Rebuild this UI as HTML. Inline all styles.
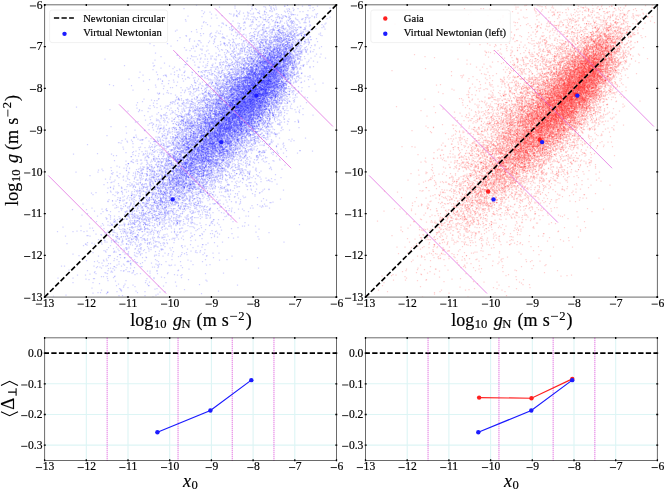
<!DOCTYPE html><html><head><meta charset="utf-8"><style>html,body{margin:0;padding:0;background:#fff;width:665px;height:490px;overflow:hidden;position:relative}svg{will-change:transform}text{stroke:#000;stroke-width:0.18px}</style></head><body><svg width="665" height="490" viewBox="0 0 665 490" style="position:absolute;left:0;top:0" font-family="Liberation Serif, serif"><rect width="665" height="490" fill="#fff"/><defs><clipPath id="cl"><rect x="44.6" y="4.8" width="291.9" height="292.3"/></clipPath><clipPath id="cr"><rect x="365.5" y="4.8" width="291.9" height="292.3"/></clipPath></defs><defs><filter id="bl" x="0" y="0" width="1" height="1"><feGaussianBlur stdDeviation="0.5"/></filter></defs><g clip-path="url(#cl)"><g filter="url(#bl)"><g transform="scale(0.5)" fill="none" stroke="#0000ff" stroke-opacity="0.18" stroke-width="2.5" stroke-linecap="square"><path d="M638 7zm-3 5zm-9 3zm-40 1zm74 0zm-64 1zm-56 4zm-11 1zm48 5zm7 1zm-27 1zm30 0zm-61 1zm10 0zm-160 2zm113 0zm125 2zm2 0zm13 1zm-135 1zm-2 2zm21 1zm30 0zm39 3zm-64 1zm33 1zm-1 1zm4 0zm7 0zm-2 1zm-80 1zm71 1zm100 0zm-146 1zm90 1zm-116 1zm10 0zm50 1zm60 1zm50 1zm-166 1zm77 0zm43 0zm8 0zm-99 4zm31 0zm34 1zm-225 2zm90 0zm39 0zm112 0zm-18 1zm42 0zm-87 1zm78 0zm-42 1zm2 0zm13 0zm-17 1zm-162 1zm98 0zm84 0zm-138 1zm113 1zm31 0zm-71 1zm-292 2zm147 0zm204 1zm13 1zm1 1zm-63 1zm31 0zm11 0zm17 1zm-120 2zm60 0zm58 0zm-73 1zm41 0zm-51 1zm4 0zm-19 1zm51 0zm-15 1zm9 1zm-9 1zm9 0zm9 1zm47 0zm3 0zm5 0zm-296 1zm171 1zm113 0zm-75 1zm20 2zm47 0zm-234 1zm225 0zm37 0zm-13 1zm-131 1zm84 1zm14 0zm20 0zm-79 1zm65 0zm75 0zm-102 1zm19 0zm17 0zm9 0zm11 0zm7 0zm-199 1zm76 0zm5 0zm58 0zm37 0zm3 0zm-46 1zm28 0zm48 0zm-194 1zm96 0zm18 0zm16 0zm44 0zm24 0zm-99 1zm1 0zm31 0zm-157 1zm144 0zm9 1zm-47 1zm54 0zm-12 1zm9 0zm22 0zm-137 1zm148 0zm-65 1zm33 0zm-87 1zm55 0zm58 0zm10 0zm-134 1zm78 0zm40 0zm-169 1zm119 0zm20 0zm11 0zm21 0zm-9 1zm20 0zm-61 1zm11 0zm18 0zm29 0zm8 0zm-57 1zm20 0zm10 0zm16 0zm25 0zm-118 1zm38 0zm13 0zm22 0zm5 0zm2 0zm-64 1zm14 0zm24 0zm10 0zm3 0zm20 0zm11 0zm-52 1zm-40 1zm29 0zm17 1zm27 0zm-85 1zm52 0zm33 0zm-34 1zm32 0zm5 0zm1 0zm53 0zm-104 1zm6 0zm61 0zm-73 1zm15 0zm20 0zm25 0zm11 0zm-19 1zm21 0zm8 0zm-112 1zm2 0zm42 0zm13 0zm9 0zm4 0zm11 0zm10 0zm-104 1zm66 0zm29 0zm-40 1zm0 0zm34 0zm2 0zm16 0zm-73 1zm20 0zm23 0zm17 0zm15 0zm2 0zm6 0zm-108 1zm69 0zm18 0zm-62 1zm58 0zm1 0zm1 0zm22 0zm11 0zm-131 1zm45 0zm44 0zm8 0zm-101 1zm35 0zm45 0zm20 0zm2 0zm0 0zm21 0zm-103 1zm71 0zm7 0zm52 0zm-172 1zm25 0zm23 0zm8 0zm137 0zm-156 1zm11 1zm18 0zm27 0zm3 0zm26 0zm64 0zm-64 1zm-70 1zm20 0zm16 0zm10 0zm2 0zm8 0zm14 0zm-78 1zm71 0zm4 0zm4 0zm4 0zm1 0zm2 0zm6 0zm15 0zm-124 1zm14 0zm37 0zm1 0zm27 0zm12 0zm-28 1zm5 0zm1 0zm0 0zm26 0zm13 0zm-91 1zm47 0zm16 0zm12 0zm2 0zm19 0zm-44 1zm23 0zm18 0zm-79 1zm9 0zm22 0zm19 0zm17 0zm9 0zm-166 1zm125 0zm9 0zm0 0zm18 0zm10 0zm-196 1zm138 0zm4 0zm16 0zm1 0zm1 0zm15 0zm1 0zm3 0zm36 0zm-109 1zm67 0zm-149 1zm33 0zm60 0zm14 0zm10 0zm13 0zm5 0zm35 0zm-83 1zm10 0zm7 0zm7 0zm4 0zm4 0zm11 0zm2 0zm7 0zm3 0zm4 0zm1 0zm3 0zm7 0zm-81 1zm47 0zm4 0zm45 0zm24 0zm-128 1zm3 0zm32 0zm11 0zm10 1zm12 0zm2 0zm16 0zm9 0zm-75 1zm7 0zm25 0zm17 0zm16 0zm24 0zm-59 1zm41 0zm13 0zm-101 1zm15 0zm15 0zm8 0zm6 0zm22 0zm45 0zm-184 1zm89 0zm52 0zm9 0zm-63 1zm14 0zm23 0zm6 0zm6 0zm4 0zm3 0zm7 0zm5 0zm48 0zm9 0zm-100 1zm25 0zm9 0zm2 0zm6 0zm-72 1zm0 0zm35 0zm32 0zm8 0zm12 0zm18 0zm-129 1zm43 0zm5 0zm43 0zm1 0zm1 0zm35 0zm-109 1zm21 0zm7 0zm18 0zm4 0zm30 0zm0 0zm-36 1zm13 0zm3 0zm9 0zm6 0zm16 0zm5 0zm19 0zm-127 1zm15 0zm36 0zm1 0zm5 0zm8 0zm8 0zm3 0zm9 0zm3 0zm1 0zm50 0zm-128 1zm11 0zm6 0zm23 0zm14 0zm2 0zm3 0zm10 0zm29 0zm2 0zm-128 1zm53 0zm7 0zm0 0zm30 0zm36 0zm-58 1zm19 0zm5 0zm6 0zm19 0zm-124 1zm61 0zm6 0zm8 0zm29 0zm6 0zm-75 1zm41 0zm1 0zm31 0zm1 0zm1 0zm1 0zm20 0zm-38 1zm5 0zm4 0zm3 0zm1 0zm3 0zm4 0zm11 0zm-336 1zm250 0zm1 0zm9 0zm15 0zm0 0zm10 0zm15 0zm2 0zm5 0zm4 0zm3 0zm20 0zm1 0zm-94 1zm44 0zm3 0zm3 0zm2 0zm40 0zm-44 1zm17 0zm14 0zm21 0zm-62 1zm19 0zm23 0zm6 0zm3 0zm10 0zm3 0zm-89 1zm6 0zm11 0zm3 0zm17 0zm3 0zm12 0zm5 0zm37 0zm-153 1zm17 0zm46 0zm27 0zm1 0zm-164 1zm144 0zm2 0zm24 0zm10 0zm14 0zm0 0zm28 0zm6 0zm3 0zm32 0zm-163 1zm46 0zm0 0zm10 0zm31 0zm5 0zm4 0zm17 0zm-158 1zm57 0zm10 0zm38 0zm17 0zm7 0zm2 0zm0 0zm22 0zm25 0zm-137 1zm28 0zm4 0zm11 0zm5 0zm2 0zm26 0zm19 0zm1 0zm37 0zm-131 1zm29 0zm15 0zm4 0zm20 0zm4 0zm14 0zm6 0zm32 0zm-61 1zm38 0zm8 0zm-130 1zm9 0zm47 0zm4 0zm11 0zm10 0zm9 0zm15 0zm26 0zm-179 1zm48 0zm17 0zm36 0zm4 0zm6 0zm21 0zm1 0zm28 0zm6 0zm51 0zm-207 1zm10 0zm45 0zm28 0zm8 0zm21 0zm38 0zm5 0zm6 0zm-39 1zm11 0zm0 0zm7 0zm23 0zm-122 1zm69 0zm5 0zm1 0zm7 0zm29 0zm23 0zm-139 1zm49 0zm0 0zm9 0zm11 0zm10 0zm2 0zm1 0zm20 0zm26 0zm2 0zm-107 1zm6 0zm3 0zm19 0zm19 0zm7 0zm28 0zm6 0zm18 0zm23 0zm-103 1zm21 0zm11 0zm2 0zm8 0zm2 0zm6 0zm9 0zm9 0zm-104 1zm24 0zm10 0zm13 0zm16 0zm26 0zm4 0zm0 0zm11 0zm14 0zm3 0zm1 0zm39 0zm-169 1zm13 0zm8 0zm1 0zm8 0zm12 0zm36 0zm2 0zm2 0zm2 0zm7 0zm2 0zm32 0zm4 0zm-47 1zm4 0zm18 0zm17 0zm-131 1zm13 0zm41 0zm11 0zm32 0zm4 0zm4 0zm16 0zm-58 1zm4 0zm18 0zm5 0zm6 0zm8 0zm1 0zm14 0zm10 0zm-68 1zm9 0zm20 0zm7 0zm42 0zm-157 1zm97 0zm50 0zm-89 1zm32 0zm2 0zm-30 1zm20 0zm26 0zm12 0zm3 0zm3 0zm56 0zm-201 1zm37 0zm68 0zm1 0zm8 0zm3 0zm0 0zm7 0zm4 0zm22 0zm-167 1zm14 0zm46 0zm55 0zm16 0zm15 0zm28 0zm3 0zm1 0zm21 0zm-194 1zm38 0zm27 0zm12 0zm9 0zm16 0zm51 0zm6 0zm0 0zm53 0zm-208 1zm31 0zm53 0zm20 0zm23 0zm6 0zm10 0zm37 0zm-96 1zm3 0zm8 0zm26 0zm8 0zm3 0zm1 0zm4 0zm3 0zm16 0zm-177 1zm98 0zm34 0zm2 0zm4 0zm10 0zm1 0zm4 0zm1 0zm19 0zm-88 1zm6 0zm36 0zm1 0zm2 0zm11 0zm8 0zm6 0zm3 0zm2 0zm-165 1zm35 0zm57 0zm11 0zm0 0zm15 0zm16 0zm6 0zm4 0zm-143 1zm69 0zm44 0zm9 0zm48 0zm1 0zm1 0zm61 0zm-135 1zm15 0zm21 0zm9 0zm23 0zm16 0zm-98 1zm69 0zm5 0zm10 0zm0 0zm13 0zm15 0zm-95 1zm13 0zm3 0zm8 0zm2 0zm20 0zm40 0zm4 0zm23 0zm-157 1zm15 0zm47 0zm10 0zm5 0zm13 0zm15 0zm12 0zm17 0zm-122 1zm14 0zm37 0zm1 0zm25 0zm0 0zm38 0zm-92 1zm14 0zm3 0zm14 0zm6 0zm3 0zm22 0zm6 0zm6 0zm26 0zm40 0zm7 0zm-134 1zm28 0zm8 0zm7 0zm16 0zm-77 1zm23 0zm2 0zm13 0zm7 0zm2 0zm10 0zm16 0zm10 0zm10 0zm28 0zm-220 1zm86 0zm4 0zm1 0zm3 0zm50 0zm16 0zm5 0zm18 0zm5 0zm-114 1zm30 0zm6 0zm18 0zm24 0zm11 0zm16 0zm6 0zm8 0zm13 0zm-70 1zm8 0zm0 0zm20 0zm39 0zm8 0zm-104 1zm65 0zm19 0zm0 0zm4 0zm-136 1zm49 0zm7 0zm4 0zm6 0zm8 0zm2 0zm17 0zm19 0zm5 0zm23 0zm5 0zm-166 1zm57 0zm45 0zm7 0zm5 0zm3 0zm5 0zm1 0zm10 0zm5 0zm37 0zm-264 1zm136 0zm18 0zm15 0zm12 0zm1 0zm2 0zm2 0zm2 0zm6 0zm17 0zm64 0zm-126 1zm0 0zm11 0zm8 0zm35 0zm29 0zm15 0zm-146 1zm81 0zm0 0zm1 0zm19 0zm14 0zm103 0zm-191 1zm40 0zm4 0zm6 0zm4 0zm20 0zm5 0zm3 0zm41 0zm32 0zm-171 1zm15 0zm24 0zm21 0zm8 0zm1 0zm3 0zm21 0zm31 0zm2 0zm6 0zm19 0zm-135 1zm55 0zm28 0zm10 0zm-24 1zm17 0zm25 0zm2 0zm6 0zm9 0zm2 0zm-196 1zm117 0zm10 0zm5 0zm13 0zm2 0zm0 0zm3 0zm33 0zm14 0zm-210 1zm49 0zm55 0zm13 0zm26 0zm12 0zm33 0zm-100 1zm51 0zm6 0zm8 0zm34 0zm31 0zm-215 1zm74 0zm41 0zm1 0zm12 0zm3 0zm8 0zm3 0zm20 0zm10 0zm6 0zm-67 1zm26 0zm5 0zm-111 1zm109 0zm10 0zm-116 1zm77 0zm6 0zm12 0zm6 0zm22 0zm16 0zm12 0zm-165 1zm33 0zm64 0zm4 0zm4 0zm50 0zm8 0zm-105 1zm13 0zm28 0zm5 0zm28 0zm3 0zm0 0zm13 0zm23 0zm-99 1zm29 0zm12 0zm2 0zm4 0zm14 0zm11 0zm1 0zm26 0zm-102 1zm12 0zm12 0zm39 0zm17 0zm7 0zm-111 1zm2 0zm97 0zm2 0zm4 0zm3 0zm18 0zm-110 1zm21 0zm15 0zm9 0zm8 0zm10 0zm1 0zm10 0zm13 0zm20 0zm-189 1zm58 0zm21 0zm43 0zm27 0zm24 0zm28 0zm-170 1zm84 0zm0 0zm11 0zm20 0zm12 0zm10 0zm-93 1zm0 0zm18 0zm20 0zm14 0zm0 0zm16 0zm13 0zm41 0zm-172 1zm13 0zm52 0zm16 0zm24 0zm2 0zm1 0zm11 0zm5 0zm23 0zm8 0zm-138 1zm91 0zm5 0zm26 0zm3 0zm-140 1zm38 0zm15 0zm16 0zm7 0zm24 0zm32 0zm15 0zm24 0zm-157 1zm33 0zm38 0zm1 0zm16 0zm2 0zm10 0zm10 0zm2 0zm1 0zm33 0zm-116 1zm17 0zm34 0zm20 0zm21 0zm0 0zm33 0zm8 0zm-167 1zm32 0zm3 0zm49 0zm-118 1zm37 0zm38 0zm31 0zm36 0zm2 0zm3 0zm1 0zm12 0zm1 0zm5 0zm-194 1zm63 0zm11 0zm63 0zm1 0zm1 0zm13 0zm3 0zm3 0zm3 0zm15 0zm32 0zm-101 1zm17 0zm9 0zm17 0zm47 0zm1 0zm16 0zm-297 1zm194 0zm3 0zm60 0zm18 0zm37 0zm-132 1zm36 0zm0 0zm6 0zm3 0zm6 0zm4 0zm15 0zm1 0zm3 0zm5 0zm17 0zm-151 1zm93 0zm20 0zm6 0zm-144 1zm42 0zm33 0zm42 0zm4 0zm1 0zm38 0zm7 0zm8 0zm-118 1zm2 0zm26 0zm26 0zm2 0zm0 0zm9 0zm5 0zm11 0zm33 0zm-120 1zm40 0zm0 0zm11 0zm61 0zm18 0zm-170 1zm30 0zm46 0zm41 0zm15 0zm14 0zm4 0zm28 0zm-204 1zm97 0zm11 0zm13 0zm8 0zm1 0zm20 0zm2 0zm28 0zm-198 1zm95 0zm9 0zm48 0zm4 0zm9 0zm3 0zm15 0zm21 0zm-73 1zm20 0zm18 0zm3 0zm4 0zm63 0zm5 0zm-220 1zm93 0zm14 0zm21 0zm30 0zm35 0zm29 0zm-82 1zm27 0zm-63 1zm60 0zm37 0zm-197 1zm84 0zm1 0zm3 0zm65 0zm14 0zm-13 1zm6 0zm1 0zm5 0zm4 0zm-121 1zm23 0zm69 0zm12 0zm13 0zm26 0zm-92 1zm9 0zm14 0zm13 0zm12 0zm2 0zm4 0zm49 0zm34 0zm-151 1zm10 0zm6 0zm0 0zm23 0zm7 0zm12 0zm19 0zm26 0zm3 0zm-180 1zm53 0zm52 0zm29 0zm9 0zm8 0zm-122 1zm12 0zm20 0zm38 0zm14 0zm57 0zm26 0zm15 0zm-160 1zm9 0zm12 0zm10 0zm0 0zm19 0zm0 0zm56 0zm14 0zm-105 1zm-102 1zm102 0zm18 0zm53 0zm8 0zm-123 1zm4 0zm10 0zm7 0zm118 0zm-33 1zm2 0zm0 0zm-109 1zm15 0zm13 0zm100 0zm14 0zm3 0zm-209 1zm23 0zm83 0zm39 0zm38 0zm6 0zm-93 1zm25 0zm5 0zm2 0zm51 0zm-76 1zm41 0zm6 0zm39 0zm9 0zm27 0zm-179 1zm88 0zm32 0zm3 0zm0 0zm1 0zm4 0zm122 0zm-265 1zm44 0zm25 0zm41 0zm3 0zm7 0zm16 0zm7 0zm17 0zm-121 1zm24 0zm73 0zm-46 1zm112 0zm-179 1zm34 0zm17 0zm10 0zm8 0zm42 0zm29 0zm5 0zm10 0zm72 0zm-283 1zm90 0zm44 0zm2 0zm3 0zm3 0zm29 0zm4 0zm-74 1zm10 0zm12 0zm10 0zm64 0zm-176 1zm42 0zm37 0zm29 0zm10 0zm9 0zm26 0zm22 0zm-111 1zm50 0zm1 0zm14 0zm3 0zm2 0zm28 0zm16 0zm45 0zm-162 1zm4 0zm25 0zm0 0zm16 0zm8 0zm1 0zm16 0zm24 0zm2 0zm0 0zm20 0zm12 0zm-102 1zm39 0zm4 0zm1 0zm36 0zm-77 1zm61 0zm29 0zm-103 1zm23 0zm4 0zm47 0zm111 0zm-258 1zm68 0zm3 0zm9 0zm18 0zm10 0zm18 0zm11 0zm31 0zm-118 1zm6 0zm23 0zm2 0zm23 0zm9 0zm12 0zm-56 1zm44 0zm93 0zm-190 1zm92 0zm29 0zm1 0zm14 0zm12 0zm-194 1zm120 0zm5 0zm2 0zm9 0zm16 0zm7 0zm0 0zm61 0zm5 0zm-156 1zm46 0zm2 0zm36 0zm21 0zm3 0zm-151 1zm48 0zm26 0zm1 0zm15 0zm29 0zm4 0zm6 0zm6 0zm4 0zm12 0zm-74 1zm137 0zm-252 1zm122 0zm8 0zm9 0zm1 0zm28 0zm-65 1zm36 0zm16 0zm69 0zm27 0zm-195 1zm104 0zm46 0zm51 0zm4 0zm27 0zm-186 1zm35 0zm27 0zm-91 1zm9 0zm4 0zm44 0zm52 0zm-89 1zm1 0zm16 0zm45 0zm-99 1zm22 0zm33 0zm14 0zm13 0zm6 0zm10 0zm25 0zm17 0zm-169 1zm94 0zm8 0zm34 0zm10 0zm-84 1zm72 0zm4 0zm3 0zm3 0zm-161 1zm107 0zm39 0zm13 0zm10 0zm-152 1zm32 0zm25 0zm59 0zm163 0zm-203 1zm14 0zm12 0zm3 0zm3 0zm21 0zm9 0zm27 0zm-162 1zm99 0zm3 0zm3 0zm9 0zm35 0zm-53 1zm14 0zm18 0zm-12 1zm14 0zm11 0zm10 0zm2 0zm3 0zm73 0zm-176 1zm34 0zm20 0zm9 0zm23 0zm-82 1zm5 0zm1 0zm33 0zm24 0zm5 0zm3 0zm6 0zm-78 1zm23 0zm13 0zm22 0zm-75 1zm40 0zm29 0zm20 0zm21 0zm9 0zm-102 1zm32 0zm35 0zm-104 1zm4 0zm47 0zm19 0zm2 0zm15 0zm6 0zm4 0zm5 0zm7 0zm108 0zm-268 1zm55 0zm82 0zm25 0zm80 0zm-119 1zm43 0zm2 0zm3 0zm-66 1zm-47 1zm58 0zm2 0zm23 0zm17 0zm-78 1zm2 0zm28 0zm34 0zm18 0zm-62 1zm23 0zm16 0zm28 0zm7 0zm60 0zm-165 1zm20 0zm16 0zm23 0zm-7 1zm-131 1zm96 0zm29 0zm17 0zm25 0zm31 0zm17 0zm-170 1zm58 0zm38 0zm31 0zm-118 1zm107 0zm0 0zm-49 1zm1 0zm-120 1zm87 0zm26 0zm23 0zm4 0zm51 0zm5 0zm-104 1zm106 0zm93 0zm-233 1zm79 0zm41 0zm-90 1zm19 0zm12 0zm107 0zm-85 1zm38 0zm-108 1zm32 0zm3 0zm12 0zm57 0zm15 0zm11 0zm2 0zm-41 1zm-115 1zm57 0zm5 0zm33 0zm45 0zm3 0zm3 0zm-245 1zm193 0zm67 0zm-125 1zm51 0zm62 0zm-159 1zm100 0zm11 0zm-112 1zm88 0zm1 0zm1 0zm45 0zm55 0zm24 0zm-223 1zm106 0zm7 0zm11 0zm4 0zm13 0zm-103 1zm49 0zm96 0zm-52 1zm-172 1zm130 0zm2 0zm24 0zm17 0zm-47 1zm1 0zm24 0zm75 0zm56 0zm-168 1zm12 0zm27 0zm16 0zm29 0zm-122 1zm58 0zm26 0zm32 0zm-73 1zm10 1zm40 0zm-117 1zm39 0zm12 0zm13 0zm2 0zm51 0zm2 0zm14 0zm92 0zm-300 1zm113 0zm5 0zm36 0zm7 0zm13 0zm19 0zm-77 1zm8 0zm3 1zm29 0zm-43 2zm83 1zm115 0zm-202 1zm111 0zm-209 1zm50 0zm5 1zm42 0zm35 0zm10 0zm8 0zm14 0zm36 0zm-116 1zm64 0zm17 0zm-124 1zm66 0zm24 0zm9 0zm7 0zm29 0zm-97 1zm31 0zm34 0zm30 0zm0 0zm-61 1zm40 0zm-73 1zm31 0zm22 1zm97 0zm-198 1zm42 0zm70 0zm56 0zm-143 1zm139 0zm-125 1zm46 0zm29 0zm19 1zm57 0zm-122 1zm9 0zm74 0zm8 0zm-104 1zm38 0zm39 0zm68 0zm-3 1zm-152 1zm81 0zm0 0zm-102 1zm-34 1zm123 0zm33 0zm52 1zm-230 1zm174 0zm-93 1zm57 0zm28 0zm-96 1zm16 0zm21 0zm-17 1zm46 0zm63 0zm50 0zm-163 1zm18 0zm17 0zm-75 1zm94 0zm16 1zm-100 1zm100 0zm39 0zm-103 1zm42 0zm3 0zm5 0zm23 0zm-117 1zm69 0zm109 0zm-97 1zm118 0zm-148 1zm28 0zm17 0zm1 0zm-79 1zm26 0zm-60 1zm100 0zm45 0zm-92 2zm58 1zm2 0zm34 0zm-79 1zm63 0zm-74 1zm10 0zm3 1zm5 0zm-7 1zm70 0zm9 0zm-162 1zm65 0zm4 0zm62 2zm12 1zm65 0zm-166 1zm66 0zm45 1zm-159 1zm78 0zm27 0zm-32 1zm24 0zm1 0zm8 0zm103 1zm-128 1zm11 0zm88 0zm-109 2zm117 0zm80 0zm5 0zm-158 1zm11 0zm-85 1zm34 0zm59 1zm27 0zm-130 1zm45 1zm144 0zm-264 1zm85 0zm70 0zm43 0zm-166 1zm17 0zm91 0zm66 0zm-60 1zm46 0zm7 1zm-59 1zm90 0zm-117 1zm15 0zm20 0zm-67 1zm79 0zm-29 1zm27 0zm67 0zm-76 1zm22 0zm-45 1zm59 0zm-99 1zm101 0zm-106 1zm36 0zm-21 2zm13 0zm7 0zm84 0zm-109 1zm22 0zm49 0zm-73 1zm21 0zm42 0zm-87 1zm119 0zm4 1zm70 0zm-178 2zm87 0zm-3 1zm-137 1zm14 0zm-3 1zm3 1zm155 0zm-128 1zm131 0zm-124 1zm4 0zm41 0zm-52 2zm13 0zm7 0zm10 0zm107 0zm18 0zm-188 1zm71 0zm5 1zm102 0zm17 0zm-81 1zm-74 1zm61 1zm62 0zm89 1zm-291 1zm145 2zm19 0zm-70 2zm-117 1zm143 0zm-56 1zm17 1zm0 0zm36 0zm106 0zm-121 7zm66 0zm30 2zm-148 1zm38 1zm203 0zm-202 1zm42 0zm-107 1zm29 0zm7 2zm7 0zm87 1zm28 0zm15 2zm-105 3zm291 0zm-384 2zm-13 2zm128 0zm113 1zm-133 3zm30 0zm95 2zm-152 1zm-25 2zm46 9zm57 0zm-80 2zm95 0zm-125 3zm40 3zm-11 2zm-36 2zm-6 2zm169 0zm-57 8zm31 2zm-144 1zm156 0zm-150 1zm17 1zm136 2zm-162 1zm58 0zm96 4zm-182 1zm67 0zm120 10zm-135 4zm-49 4zm38 2zm-70 4zm104 3zm6 7zm-41 10zm314 12z"/><path d="M614 8zm-72 8zm-29 3zm56 3zm-149 2zm151 0zm-53 2zm-59 1zm3 1zm101 1zm-90 3zm156 1zm-121 2zm7 0zm24 0zm25 0zm47 0zm-52 2zm47 0zm-14 1zm-86 1zm88 0zm17 0zm-47 3zm-58 1zm-3 1zm80 3zm-43 1zm-24 3zm-53 2zm125 1zm-34 2zm35 3zm-63 1zm-62 1zm94 0zm2 2zm27 0zm-42 1zm31 2zm7 3zm27 0zm-118 1zm59 0zm33 1zm-44 1zm9 0zm39 0zm-80 1zm17 1zm1 0zm6 0zm18 0zm18 1zm-96 2zm85 0zm0 0zm-44 1zm72 0zm-39 1zm3 0zm21 0zm8 0zm-59 1zm41 0zm18 0zm39 0zm-84 1zm-31 1zm48 0zm-28 1zm96 0zm-189 1zm74 0zm28 0zm-66 1zm4 0zm52 0zm-72 1zm48 0zm106 0zm7 0zm8 0zm-64 1zm14 0zm-79 1zm48 1zm47 0zm6 0zm40 0zm-146 1zm43 1zm53 0zm-12 1zm7 0zm-182 1zm128 0zm19 0zm42 1zm-80 1zm20 0zm27 0zm22 0zm8 0zm-27 1zm22 0zm3 0zm2 0zm4 0zm10 0zm-39 1zm-150 1zm211 0zm-91 1zm48 0zm15 0zm19 0zm-98 1zm8 0zm6 0zm5 0zm-29 1zm79 0zm-112 1zm64 0zm27 0zm-35 1zm34 0zm44 0zm-143 1zm91 0zm13 0zm-45 1zm20 0zm25 0zm-29 1zm17 0zm26 0zm-15 1zm3 0zm5 0zm-27 1zm7 0zm49 0zm-99 1zm9 0zm5 0zm58 0zm-48 1zm18 2zm16 0zm-233 1zm66 0zm45 0zm19 0zm28 0zm20 0zm18 1zm24 0zm6 0zm0 0zm9 0zm-25 1zm34 0zm16 0zm4 0zm4 0zm-96 1zm42 0zm0 0zm17 0zm2 0zm23 0zm-10 1zm-358 1zm249 0zm1 0zm67 0zm1 0zm39 0zm13 0zm-71 1zm16 0zm3 0zm-77 1zm12 0zm9 0zm92 0zm-29 1zm1 0zm5 0zm9 0zm-43 1zm66 0zm-157 1zm108 0zm4 0zm4 0zm31 0zm16 0zm-89 1zm15 0zm20 0zm11 0zm39 0zm3 0zm3 0zm-54 1zm51 0zm-125 1zm32 0zm42 0zm8 0zm26 0zm20 0zm-121 1zm61 0zm9 0zm25 0zm15 0zm4 0zm-133 1zm42 0zm12 0zm1 0zm64 0zm7 0zm-92 1zm73 0zm8 0zm9 0zm8 0zm1 0zm1 0zm1 0zm9 0zm-145 1zm59 0zm14 0zm34 0zm8 0zm11 0zm-41 1zm35 0zm2 0zm1 0zm5 0zm4 0zm19 0zm-284 1zm32 0zm168 0zm45 0zm0 0zm14 0zm2 0zm25 0zm-126 1zm34 0zm38 0zm5 0zm49 0zm-195 1zm32 0zm89 0zm12 0zm2 0zm28 0zm5 0zm-156 1zm77 0zm58 0zm8 0zm3 0zm1 0zm1 0zm5 0zm-74 1zm16 0zm9 0zm21 0zm12 0zm38 0zm9 0zm-76 1zm7 0zm3 0zm2 0zm29 0zm27 0zm-155 1zm114 0zm1 0zm3 0zm26 0zm2 0zm-83 1zm5 0zm1 0zm6 0zm2 0zm3 0zm30 0zm3 0zm2 0zm16 0zm25 0zm-56 1zm5 0zm27 0zm2 0zm2 0zm-61 1zm42 0zm2 0zm14 0zm-194 1zm74 0zm68 0zm24 0zm12 0zm-151 1zm73 0zm34 0zm15 0zm5 0zm4 0zm6 0zm49 0zm-111 1zm32 0zm11 0zm7 0zm1 0zm1 0zm2 0zm23 0zm-40 1zm13 0zm13 0zm35 0zm-127 1zm60 0zm19 0zm1 0zm32 0zm13 0zm-109 1zm43 0zm11 0zm33 0zm32 0zm7 0zm-166 1zm81 0zm18 0zm11 0zm13 0zm1 0zm9 0zm18 0zm8 0zm2 0zm-84 1zm18 0zm3 0zm5 0zm8 0zm16 0zm-214 1zm117 0zm37 0zm25 0zm11 0zm8 0zm29 0zm-156 1zm27 0zm22 0zm96 0zm21 0zm6 0zm6 0zm-225 1zm92 0zm1 0zm56 0zm5 0zm1 0zm28 0zm1 0zm29 0zm7 0zm7 0zm12 0zm15 0zm-143 1zm27 0zm4 0zm14 0zm13 0zm21 0zm-40 1zm21 0zm6 0zm-255 1zm151 0zm55 0zm3 0zm10 0zm16 0zm36 0zm2 0zm2 0zm5 0zm13 0zm7 0zm5 0zm-196 1zm63 0zm56 0zm22 0zm8 0zm5 0zm9 0zm35 0zm-70 1zm4 0zm1 0zm13 0zm-136 1zm105 0zm14 0zm41 0zm-48 1zm20 0zm1 0zm1 0zm-48 1zm10 0zm11 0zm25 0zm5 0zm3 0zm16 0zm20 0zm-135 1zm5 0zm3 0zm44 0zm5 0zm16 0zm4 0zm7 0zm2 0zm0 0zm9 0zm0 0zm5 0zm-213 1zm105 0zm55 0zm2 0zm13 0zm32 0zm4 0zm0 0zm3 0zm52 0zm-139 1zm68 0zm2 0zm3 0zm12 0zm6 0zm13 0zm1 0zm-86 1zm10 0zm6 0zm13 0zm1 0zm2 0zm12 0zm26 0zm2 0zm-14 1zm4 0zm13 0zm56 0zm-171 1zm32 0zm8 0zm12 0zm1 0zm1 0zm28 0zm10 0zm2 0zm10 0zm-102 1zm54 0zm8 0zm6 0zm0 0zm2 0zm9 0zm16 0zm16 0zm1 0zm4 0zm4 0zm6 0zm8 0zm14 0zm-158 1zm33 0zm24 0zm6 0zm27 0zm41 0zm2 0zm10 0zm-154 1zm74 0zm34 0zm11 0zm8 0zm1 0zm-72 1zm2 0zm17 0zm3 0zm12 0zm6 0zm2 0zm16 0zm0 0zm6 0zm16 0zm19 0zm-118 1zm27 0zm14 0zm16 0zm48 0zm-128 1zm18 0zm19 0zm1 0zm32 0zm3 0zm8 0zm4 0zm21 0zm31 0zm-86 1zm5 0zm4 0zm11 0zm13 0zm8 0zm2 0zm4 0zm32 0zm22 0zm-88 1zm7 0zm5 0zm7 0zm3 0zm34 0zm-91 1zm25 0zm7 0zm5 0zm10 0zm1 0zm15 0zm-8 1zm9 0zm2 0zm19 0zm3 0zm-132 1zm56 0zm10 0zm12 0zm7 0zm14 0zm0 0zm8 0zm5 0zm4 0zm29 0zm-143 1zm15 0zm34 0zm7 0zm11 0zm25 0zm6 0zm11 0zm5 0zm5 0zm-83 1zm19 0zm22 0zm1 0zm3 0zm4 0zm4 0zm1 0zm6 0zm29 0zm4 0zm14 0zm-160 1zm60 0zm38 0zm38 0zm16 0zm-155 1zm66 0zm3 0zm37 0zm6 0zm15 0zm6 0zm17 0zm4 0zm12 0zm21 0zm-79 1zm0 0zm9 0zm12 0zm7 0zm14 0zm2 0zm-93 1zm1 0zm41 0zm9 0zm1 0zm9 0zm6 0zm11 0zm4 0zm3 0zm13 0zm-162 1zm95 0zm27 0zm16 0zm45 0zm-89 1zm19 0zm2 0zm18 0zm-78 1zm42 0zm14 0zm3 0zm7 0zm26 0zm52 0zm-134 1zm31 0zm18 0zm6 0zm8 0zm3 0zm29 0zm4 0zm9 0zm-68 1zm0 0zm7 0zm6 0zm11 0zm8 0zm4 0zm46 0zm-149 1zm35 0zm6 0zm32 0zm14 0zm8 0zm43 0zm-58 1zm5 0zm4 0zm17 0zm5 0zm8 0zm-51 1zm8 0zm18 0zm4 0zm4 0zm19 0zm10 0zm-146 1zm11 0zm4 0zm7 0zm30 0zm14 0zm19 0zm2 0zm29 0zm18 0zm5 0zm-157 1zm112 0zm9 0zm5 0zm4 0zm17 0zm10 0zm0 0zm12 0zm-108 1zm12 0zm13 0zm18 0zm16 0zm3 0zm5 0zm8 0zm12 0zm2 0zm0 0zm-135 1zm87 0zm27 0zm3 0zm14 0zm3 0zm8 0zm6 0zm-147 1zm25 0zm6 0zm3 0zm20 0zm20 0zm7 0zm14 0zm13 0zm4 0zm7 0zm-134 1zm78 0zm22 0zm47 0zm-253 1zm150 0zm4 0zm13 0zm23 0zm1 0zm6 0zm15 0zm-83 1zm73 0zm21 0zm78 0zm-182 1zm80 0zm48 0zm20 0zm-246 1zm150 0zm31 0zm12 0zm12 0zm5 0zm16 0zm7 0zm-75 1zm24 0zm32 0zm5 0zm30 0zm-157 1zm4 0zm0 0zm86 0zm3 0zm6 0zm3 0zm0 0zm2 0zm10 0zm8 0zm2 0zm2 0zm-109 1zm34 0zm24 0zm10 0zm3 0zm1 0zm0 0zm5 0zm1 0zm20 0zm-148 1zm93 0zm3 0zm15 0zm13 0zm16 0zm0 0zm-59 1zm11 0zm12 0zm15 0zm26 0zm18 0zm9 0zm29 0zm-214 1zm21 0zm58 0zm32 0zm16 0zm0 0zm5 0zm0 0zm17 0zm-124 1zm46 0zm15 0zm7 0zm3 0zm4 0zm5 0zm27 0zm15 0zm1 0zm5 0zm1 0zm11 0zm63 0zm-149 1zm24 0zm23 0zm13 0zm2 0zm10 0zm-50 1zm6 0zm1 0zm12 0zm4 0zm14 0zm3 0zm2 0zm9 0zm3 0zm40 0zm-169 1zm43 0zm3 0zm24 0zm27 0zm5 0zm21 0zm4 0zm13 0zm9 0zm20 0zm-96 1zm1 0zm5 0zm13 0zm9 0zm5 0zm4 0zm8 0zm3 0zm34 0zm6 0zm5 0zm-161 1zm58 0zm11 0zm4 0zm8 0zm2 0zm5 0zm9 0zm5 0zm4 0zm2 0zm14 0zm-69 1zm37 0zm1 0zm7 0zm4 0zm1 0zm2 0zm10 0zm94 0zm-212 1zm22 0zm40 0zm9 0zm17 0zm2 0zm5 0zm8 0zm4 0zm22 0zm31 0zm-188 1zm78 0zm14 0zm7 0zm7 0zm16 0zm7 0zm0 0zm1 0zm2 0zm31 0zm56 0zm7 0zm-156 1zm21 0zm1 0zm1 0zm4 0zm42 0zm2 0zm3 0zm4 0zm3 0zm61 0zm17 0zm-178 1zm9 0zm72 0zm3 0zm17 0zm35 0zm14 0zm-137 1zm46 0zm14 0zm8 0zm47 0zm-119 1zm17 0zm36 0zm21 0zm4 0zm10 0zm35 0zm-157 1zm20 0zm20 0zm2 0zm26 0zm28 0zm2 0zm16 0zm1 0zm1 0zm8 0zm-249 1zm174 0zm21 0zm22 0zm15 0zm57 0zm-147 1zm51 0zm23 0zm11 0zm3 0zm8 0zm7 0zm5 0zm7 0zm16 0zm-75 1zm54 0zm5 0zm-100 1zm41 0zm12 0zm-20 1zm2 0zm11 0zm6 0zm26 0zm5 0zm-120 1zm51 0zm13 0zm4 0zm34 0zm28 0zm15 0zm1 0zm-142 1zm38 0zm32 0zm16 0zm12 0zm2 0zm0 0zm1 0zm15 0zm27 0zm2 0zm7 0zm-178 1zm55 0zm4 0zm1 0zm0 0zm51 0zm3 0zm1 0zm1 0zm0 0zm36 0zm4 0zm1 0zm8 0zm-122 1zm0 0zm3 0zm56 0zm13 0zm13 0zm20 0zm5 0zm7 0zm11 0zm-126 1zm51 0zm12 0zm17 0zm5 0zm3 0zm3 0zm-86 1zm49 0zm5 0zm9 0zm1 0zm13 0zm16 0zm-86 1zm11 0zm6 0zm21 0zm28 0zm3 0zm12 0zm-74 1zm22 0zm3 0zm1 0zm1 0zm17 0zm2 0zm5 0zm9 0zm0 0zm31 0zm7 0zm51 0zm-116 1zm3 0zm13 0zm54 0zm1 0zm10 0zm-199 1zm71 0zm7 0zm49 0zm18 0zm15 0zm4 0zm4 0zm40 0zm-120 1zm6 0zm6 0zm24 0zm8 0zm13 0zm9 0zm6 0zm5 0zm5 0zm7 0zm5 0zm7 0zm5 0zm12 0zm-172 1zm72 0zm9 0zm21 0zm35 0zm13 0zm23 0zm29 0zm9 0zm-155 1zm30 0zm5 0zm48 0zm6 0zm-221 1zm152 0zm27 0zm8 0zm18 0zm33 0zm-89 1zm19 0zm20 0zm29 0zm14 0zm-146 1zm41 0zm13 0zm13 0zm17 0zm137 0zm-321 1zm91 0zm49 0zm19 0zm11 0zm17 0zm5 0zm11 0zm24 0zm28 0zm-178 1zm73 0zm5 0zm17 0zm32 0zm35 0zm15 0zm-158 1zm54 0zm43 0zm15 0zm5 0zm7 0zm13 0zm28 0zm-162 1zm10 0zm20 0zm35 0zm8 0zm23 0zm0 0zm14 0zm31 0zm4 0zm-83 1zm56 0zm19 0zm28 0zm18 0zm-169 1zm48 0zm7 0zm37 0zm13 0zm-72 1zm1 0zm7 0zm13 0zm12 0zm3 0zm6 0zm2 0zm17 0zm34 0zm-199 1zm103 0zm6 0zm40 0zm12 0zm-108 1zm14 0zm2 0zm8 0zm15 0zm28 0zm4 0zm16 0zm-68 1zm8 0zm13 0zm3 0zm35 0zm36 0zm14 0zm10 0zm28 0zm-160 1zm17 0zm7 0zm12 0zm26 0zm2 0zm18 0zm4 0zm37 0zm-117 1zm35 0zm20 0zm9 0zm11 0zm10 0zm1 0zm0 0zm-71 1zm50 0zm27 0zm-136 1zm31 0zm66 0zm7 0zm6 0zm5 0zm9 0zm3 0zm3 0zm35 0zm59 0zm-141 1zm3 0zm14 0zm10 0zm19 0zm50 0zm0 0zm5 0zm-154 1zm53 0zm17 0zm2 0zm18 0zm10 0zm7 0zm7 0zm-100 1zm116 0zm-139 1zm5 0zm30 0zm35 0zm5 0zm11 0zm8 0zm6 0zm-15 1zm1 0zm23 0zm-149 1zm50 0zm67 0zm31 0zm26 0zm25 0zm-115 1zm34 0zm10 0zm2 0zm9 0zm2 0zm22 0zm-51 1zm39 0zm73 0zm-182 1zm35 0zm12 0zm16 0zm13 0zm0 0zm13 0zm-69 1zm20 0zm15 0zm12 0zm9 0zm11 0zm2 0zm23 0zm16 0zm5 0zm1 0zm28 0zm-128 1zm25 0zm37 0zm-122 1zm69 0zm14 0zm28 0zm30 0zm-94 1zm23 0zm28 0zm67 0zm0 0zm50 0zm-223 1zm77 0zm17 0zm17 0zm21 0zm5 0zm-83 1zm47 0zm0 0zm2 0zm16 0zm38 0zm-91 1zm22 0zm2 0zm18 0zm12 0zm37 0zm-83 1zm30 0zm3 0zm117 0zm-109 1zm5 0zm6 0zm18 0zm18 0zm25 0zm-108 1zm7 0zm8 0zm2 0zm42 0zm-103 1zm39 0zm20 0zm16 0zm5 0zm11 0zm-25 1zm0 0zm16 0zm5 0zm15 0zm-133 1zm32 0zm46 0zm26 0zm7 0zm-38 1zm13 0zm17 0zm40 0zm-195 1zm45 0zm66 0zm14 0zm31 0zm2 0zm14 0zm16 0zm10 0zm11 0zm-129 1zm60 0zm3 0zm38 0zm67 0zm-230 1zm91 0zm31 0zm77 0zm12 0zm37 0zm-237 1zm64 0zm22 0zm7 0zm5 0zm2 0zm4 0zm24 0zm20 0zm5 0zm-52 1zm12 0zm3 0zm38 0zm8 0zm2 0zm4 0zm-132 1zm53 0zm57 0zm56 0zm6 0zm-154 1zm12 0zm52 0zm29 0zm-91 1zm45 0zm13 0zm10 0zm23 0zm-76 1zm62 0zm1 0zm0 0zm2 0zm17 0zm1 0zm9 0zm-85 1zm4 0zm59 0zm-88 1zm7 0zm37 0zm1 0zm23 0zm41 0zm-113 1zm9 0zm18 0zm46 0zm8 0zm5 0zm20 0zm-91 1zm56 0zm13 0zm-73 1zm21 0zm27 0zm6 0zm7 0zm-125 1zm85 0zm12 0zm78 0zm-117 1zm13 0zm4 0zm16 0zm14 0zm21 0zm106 0zm-186 1zm51 0zm43 0zm41 0zm-131 1zm2 0zm71 0zm53 0zm-161 1zm50 0zm6 0zm104 0zm21 0zm-128 1zm16 0zm6 0zm9 0zm10 0zm3 0zm22 0zm9 0zm-25 1zm3 0zm31 0zm56 0zm-115 1zm33 0zm3 0zm-162 1zm91 0zm61 0zm-20 1zm3 0zm38 0zm3 0zm29 0zm42 0zm-117 1zm3 0zm38 0zm1 0zm13 0zm13 0zm0 0zm-145 1zm39 0zm42 0zm-111 1zm32 0zm57 0zm12 0zm15 0zm-52 1zm17 0zm7 0zm26 0zm11 0zm18 0zm18 0zm-88 1zm22 0zm21 0zm6 0zm30 0zm-74 1zm16 0zm23 0zm15 0zm3 0zm35 0zm-57 1zm17 0zm31 0zm9 0zm-238 1zm135 0zm39 0zm61 0zm52 0zm-145 1zm34 0zm5 0zm4 0zm4 0zm17 0zm34 0zm-150 1zm50 0zm9 0zm64 0zm19 0zm-72 1zm17 0zm0 0zm112 0zm-151 1zm42 0zm-69 1zm10 0zm1 0zm7 0zm63 0zm0 0zm-61 1zm3 0zm25 0zm50 0zm-102 1zm3 0zm44 0zm10 0zm-58 1zm63 0zm56 0zm18 0zm-139 1zm40 0zm15 0zm5 0zm11 0zm43 0zm-106 1zm3 0zm5 0zm4 0zm33 0zm28 0zm12 0zm-88 1zm33 0zm27 0zm26 0zm1 0zm-81 1zm27 0zm7 0zm29 0zm13 0zm44 0zm32 0zm-200 1zm31 0zm30 0zm15 0zm38 0zm35 0zm33 0zm-114 1zm11 0zm26 0zm22 0zm2 0zm29 0zm-96 1zm153 0zm-253 1zm94 0zm20 0zm3 0zm48 0zm11 0zm8 0zm-110 1zm35 1zm6 0zm11 0zm26 0zm-87 1zm176 0zm-151 1zm12 0zm87 0zm-78 1zm57 0zm-138 1zm77 0zm3 0zm12 0zm12 0zm7 0zm0 0zm3 0zm22 0zm-67 1zm62 0zm-130 1zm83 0zm12 0zm10 0zm8 0zm64 0zm-142 1zm40 0zm1 0zm3 0zm43 0zm0 0zm-129 1zm124 0zm5 0zm75 0zm-201 1zm11 0zm33 0zm77 0zm20 0zm26 0zm-98 1zm11 0zm6 0zm10 0zm17 0zm53 0zm-118 1zm26 0zm50 0zm104 0zm-305 1zm170 0zm4 0zm-14 1zm53 0zm94 0zm9 0zm-190 1zm14 0zm27 0zm10 0zm15 0zm20 0zm-86 1zm30 0zm4 0zm47 0zm11 0zm-145 1zm5 0zm86 0zm5 0zm30 0zm1 0zm113 0zm-143 1zm5 0zm25 0zm-183 1zm126 0zm20 0zm19 0zm9 0zm4 0zm5 0zm11 0zm46 0zm10 0zm-148 1zm16 0zm38 0zm18 0zm-89 1zm24 0zm56 0zm24 0zm33 0zm34 0zm5 0zm-89 1zm21 0zm-121 1zm24 0zm17 0zm20 0zm13 0zm17 0zm12 0zm42 0zm5 0zm-210 1zm93 0zm46 0zm38 0zm54 1zm-162 1zm2 0zm23 0zm43 0zm0 0zm11 0zm8 0zm70 0zm-223 1zm86 0zm58 0zm-113 1zm84 0zm15 0zm4 0zm31 0zm16 0zm-47 1zm27 0zm87 0zm-160 1zm19 0zm84 0zm-111 1zm6 0zm64 0zm-49 1zm-24 1zm41 0zm20 0zm42 0zm5 0zm-102 1zm19 0zm28 0zm17 0zm7 0zm-88 1zm7 0zm54 0zm26 0zm21 0zm-106 1zm52 0zm27 0zm86 0zm-131 1zm26 0zm14 0zm-6 1zm30 0zm-65 1zm174 0zm-206 1zm17 0zm17 0zm1 1zm11 0zm45 0zm-99 1zm21 0zm33 0zm5 0zm31 0zm-71 1zm16 0zm42 0zm22 0zm1 0zm-13 1zm121 0zm-183 1zm64 0zm-101 1zm26 0zm45 0zm0 0zm21 0zm-64 1zm58 0zm-8 1zm-61 1zm36 0zm38 0zm6 0zm-22 1zm-41 1zm27 0zm15 0zm-46 1zm17 0zm15 0zm10 0zm11 0zm-90 1zm97 0zm-90 1zm56 0zm13 0zm99 0zm-114 1zm10 0zm77 0zm-175 1zm162 0zm-178 1zm56 1zm14 0zm116 0zm-8 1zm-84 1zm36 0zm-16 1zm43 0zm-83 2zm-56 3zm167 0zm29 0zm-182 1zm30 0zm18 0zm-77 1zm124 0zm25 1zm-14 1zm-14 1zm64 0zm-159 1zm28 0zm158 0zm-211 1zm0 0zm93 0zm-38 1zm27 0zm27 0zm173 0zm-198 1zm72 0zm-128 1zm111 0zm-16 1zm-54 1zm31 0zm14 0zm7 0zm-25 2zm-9 2zm4 0zm25 1zm53 0zm-47 1zm-30 1zm56 0zm-134 1zm29 0zm156 0zm83 0zm-164 1zm22 0zm-80 1zm57 0zm-34 1zm153 1zm-332 1zm115 1zm26 0zm58 0zm-90 1zm234 0zm-229 1zm6 0zm3 0zm42 0zm70 1zm-96 1zm3 1zm9 0zm34 0zm1 0zm-27 2zm13 1zm-59 1zm15 1zm-52 1zm59 0zm24 0zm1 0zm51 0zm-98 2zm9 1zm39 0zm50 0zm-144 1zm202 1zm65 0zm-196 1zm44 0zm-18 3zm-10 2zm62 0zm-41 2zm35 1zm-66 1zm146 0zm-80 1zm13 0zm2 1zm-71 3zm186 1zm-194 5zm-23 3zm175 0zm-51 1zm-89 1zm4 2zm53 0zm-130 1zm31 1zm47 0zm127 0zm-183 1zm66 1zm-92 1zm163 0zm16 0zm-154 4zm19 0zm84 1zm-82 1zm37 0zm-20 2zm-14 1zm14 1zm10 6zm30 2zm-157 1zm17 0zm57 0zm8 0zm17 0zm-29 2zm-75 1zm128 2zm35 0zm-54 8zm2 2zm-21 3zm24 2zm-8 17zm-69 1zm43 2zm14 0zm51 0zm3 2zm-127 2zm329 4zm-301 5zm51 0zm-78 4zm126 2zm-199 9zm30 0zm186 9zm-35 6zm30 1zm-21 22zm16 3z"/><path d="M570 8zm0 4zm-39 2zm-127 7zm126 2zm52 1zm-75 2zm128 1zm-2 3zm-78 2zm10 0zm6 0zm49 3zm-55 2zm-34 1zm-30 1zm109 6zm-36 2zm-61 2zm7 1zm8 0zm47 0zm-24 1zm-130 1zm78 0zm65 1zm14 1zm-119 1zm66 0zm13 0zm48 2zm46 0zm-152 1zm78 0zm-93 1zm23 0zm38 0zm34 0zm61 2zm-187 1zm97 0zm27 1zm-164 1zm113 1zm10 1zm11 0zm71 1zm1 0zm-2 1zm-60 1zm49 0zm-64 1zm-8 2zm-32 1zm48 0zm21 0zm27 0zm-71 1zm38 0zm21 0zm-19 1zm15 0zm-22 2zm32 0zm26 1zm-170 1zm152 0zm-53 1zm11 0zm10 0zm19 0zm-213 1zm185 0zm40 0zm0 0zm17 0zm-218 1zm49 0zm145 0zm-17 1zm9 0zm44 0zm-78 1zm2 0zm46 1zm33 0zm-164 1zm10 0zm54 0zm28 0zm-92 1zm120 0zm29 0zm-71 1zm36 0zm-49 1zm65 0zm19 0zm-156 1zm120 0zm-253 1zm147 0zm17 0zm17 0zm58 0zm-161 1zm142 0zm36 0zm-37 1zm23 0zm34 0zm-76 1zm12 0zm16 0zm26 0zm31 0zm-224 1zm188 0zm-170 1zm86 0zm9 0zm3 0zm22 0zm-124 1zm100 0zm32 0zm18 0zm27 1zm13 0zm0 0zm28 0zm-149 1zm16 0zm81 0zm-30 1zm-17 1zm33 0zm31 0zm-111 1zm17 0zm12 0zm5 0zm59 0zm41 0zm-24 1zm10 0zm13 0zm38 0zm-113 1zm44 0zm-108 1zm68 0zm-43 1zm24 0zm29 0zm11 0zm-75 1zm57 0zm64 1zm10 0zm10 0zm-194 1zm80 0zm22 0zm58 0zm-43 1zm30 0zm35 0zm-13 1zm-42 1zm4 0zm8 0zm11 0zm10 0zm5 0zm-106 1zm40 0zm4 0zm2 0zm11 0zm49 0zm-81 1zm2 0zm49 0zm22 0zm28 0zm-93 1zm47 0zm-50 1zm26 0zm50 0zm11 0zm-64 1zm-22 1zm36 0zm25 0zm8 0zm3 0zm-95 1zm67 0zm7 0zm10 0zm-251 1zm175 0zm16 0zm39 0zm9 0zm28 0zm13 0zm14 0zm-104 1zm13 0zm15 0zm4 0zm10 0zm3 0zm14 0zm3 0zm6 0zm-70 1zm33 0zm25 0zm15 0zm4 0zm-122 1zm127 0zm-80 1zm33 0zm-21 1zm7 0zm11 0zm4 0zm15 0zm31 0zm-251 1zm198 0zm32 0zm19 0zm20 0zm-61 1zm40 0zm-73 1zm22 0zm60 0zm-75 1zm23 0zm13 0zm5 0zm19 0zm10 0zm-67 1zm20 0zm20 0zm-46 1zm33 0zm4 0zm6 0zm20 0zm6 0zm7 0zm-178 1zm82 0zm48 0zm29 0zm1 0zm21 0zm-120 1zm84 0zm1 0zm4 0zm6 0zm2 0zm3 0zm5 0zm-160 1zm92 0zm1 0zm12 0zm15 0zm6 0zm4 0zm8 0zm27 0zm10 0zm1 0zm3 0zm-169 1zm1 0zm99 0zm3 0zm5 0zm14 0zm14 0zm3 0zm2 0zm22 0zm-141 1zm29 0zm52 0zm15 0zm1 0zm-1 1zm17 0zm-198 1zm109 0zm45 0zm41 0zm-72 1zm7 0zm8 0zm43 0zm14 0zm0 0zm-5 1zm1 0zm7 0zm6 0zm4 0zm-155 1zm42 0zm67 0zm1 0zm12 0zm-31 1zm12 0zm32 0zm12 0zm9 0zm-83 1zm35 0zm7 0zm6 0zm-253 1zm33 0zm97 0zm101 0zm34 0zm16 0zm23 0zm-168 1zm46 0zm73 0zm-18 1zm3 0zm11 0zm4 0zm24 0zm6 0zm-113 1zm34 0zm17 0zm3 0zm46 0zm44 0zm-123 1zm25 0zm1 0zm9 0zm19 0zm9 0zm12 0zm13 0zm-246 1zm178 0zm18 0zm11 0zm3 0zm50 0zm-166 1zm40 0zm50 0zm25 0zm5 0zm6 0zm5 0zm11 0zm4 0zm2 0zm8 0zm2 0zm22 0zm-157 1zm11 0zm62 0zm23 0zm6 0zm14 0zm7 0zm-66 1zm39 0zm-195 1zm156 0zm40 0zm2 0zm1 0zm13 0zm10 0zm14 0zm-212 1zm19 0zm140 0zm6 0zm7 0zm1 0zm8 0zm25 0zm18 0zm-126 1zm30 0zm31 0zm1 0zm8 0zm27 0zm0 0zm7 0zm4 0zm-184 1zm103 0zm4 0zm14 0zm13 0zm37 0zm11 0zm38 0zm-136 1zm59 0zm42 0zm-134 1zm28 0zm17 0zm19 0zm7 0zm4 0zm10 0zm5 0zm11 0zm0 0zm7 0zm11 0zm7 0zm4 0zm11 0zm-80 1zm44 0zm19 0zm-115 1zm45 0zm27 0zm17 0zm4 0zm2 0zm4 0zm-200 1zm84 0zm13 0zm44 0zm2 0zm12 0zm19 0zm4 0zm13 0zm8 0zm-89 1zm31 0zm24 0zm4 0zm11 0zm3 0zm6 0zm4 0zm8 0zm3 0zm3 0zm1 0zm7 0zm-88 1zm19 0zm31 0zm4 0zm16 0zm25 0zm-101 1zm41 0zm3 0zm19 0zm12 0zm4 0zm11 0zm15 0zm3 0zm25 0zm-123 1zm5 0zm40 0zm1 0zm65 0zm-93 1zm5 0zm17 0zm6 0zm6 0zm2 0zm5 0zm6 0zm-197 1zm95 0zm6 0zm14 0zm82 0zm7 0zm9 0zm11 0zm11 0zm-99 1zm11 0zm67 0zm-115 1zm75 0zm2 0zm3 0zm5 0zm0 0zm16 0zm-100 1zm41 0zm20 0zm34 0zm-67 1zm5 0zm13 0zm6 0zm3 0zm15 0zm6 0zm2 0zm10 0zm4 0zm0 0zm21 0zm-56 1zm0 0zm3 0zm3 0zm4 0zm6 0zm22 0zm11 0zm23 0zm-185 1zm69 0zm10 0zm6 0zm31 0zm11 0zm55 0zm-120 1zm35 0zm22 0zm3 0zm32 0zm2 0zm1 0zm3 0zm13 0zm-104 1zm13 0zm13 0zm6 0zm6 0zm13 0zm16 0zm2 0zm14 0zm-153 1zm156 0zm-146 1zm64 0zm10 0zm20 0zm68 0zm-88 1zm50 0zm8 0zm5 0zm21 0zm-46 1zm9 0zm1 0zm11 0zm10 0zm28 0zm-127 1zm26 0zm39 0zm10 0zm21 0zm13 0zm5 0zm-119 1zm10 0zm63 0zm4 0zm26 0zm28 0zm-111 1zm10 0zm5 0zm10 0zm16 0zm40 0zm19 0zm19 0zm-89 1zm15 0zm5 0zm20 0zm5 0zm23 0zm2 0zm21 0zm27 0zm-160 1zm24 0zm9 0zm23 0zm1 0zm18 0zm12 0zm7 0zm26 0zm-97 1zm7 0zm6 0zm9 0zm17 0zm5 0zm6 0zm23 0zm4 0zm2 0zm19 0zm26 0zm-269 1zm145 0zm18 0zm30 0zm4 0zm29 0zm26 0zm-181 1zm97 0zm4 0zm3 0zm3 0zm3 0zm24 0zm14 0zm7 0zm-136 1zm64 0zm4 0zm2 0zm7 0zm14 0zm0 0zm17 0zm7 0zm12 0zm7 0zm0 0zm6 0zm1 0zm16 0zm17 0zm-133 1zm31 0zm14 0zm15 0zm3 0zm3 0zm2 0zm8 0zm2 0zm40 0zm-125 1zm2 0zm17 0zm36 0zm2 0zm8 0zm11 0zm15 0zm8 0zm1 0zm2 0zm19 0zm-198 1zm78 0zm2 0zm3 0zm27 0zm12 0zm15 0zm5 0zm11 0zm17 0zm11 0zm12 0zm0 0zm12 0zm-134 1zm43 0zm24 0zm-47 1zm5 0zm3 0zm38 0zm13 0zm0 0zm6 0zm-93 1zm29 0zm2 0zm22 0zm6 0zm10 0zm12 0zm0 0zm15 0zm10 0zm-91 1zm10 0zm7 0zm24 0zm12 0zm3 0zm15 0zm16 0zm1 0zm5 0zm6 0zm1 0zm4 0zm-102 1zm14 0zm0 0zm53 0zm9 0zm6 0zm3 0zm7 0zm5 0zm-122 1zm52 0zm3 0zm2 0zm19 0zm5 0zm0 0zm8 0zm1 0zm8 0zm5 0zm21 0zm1 0zm-184 1zm121 0zm1 0zm9 0zm4 0zm15 0zm13 0zm6 0zm-44 1zm3 0zm4 0zm16 0zm1 0zm15 0zm4 0zm1 0zm6 0zm-174 1zm53 0zm8 0zm1 0zm16 0zm25 0zm5 0zm2 0zm2 0zm15 0zm13 0zm8 0zm14 0zm7 0zm26 0zm11 0zm-131 1zm26 0zm10 0zm6 0zm6 0zm16 0zm2 0zm3 0zm7 0zm2 0zm40 0zm35 0zm-236 1zm52 0zm53 0zm1 0zm10 0zm12 0zm9 0zm2 0zm6 0zm4 0zm16 0zm3 0zm11 0zm2 0zm-89 1zm2 0zm3 0zm13 0zm22 0zm3 0zm2 0zm8 0zm4 0zm7 0zm4 0zm3 0zm7 0zm2 0zm-119 1zm41 0zm16 0zm21 0zm43 0zm30 0zm-156 1zm60 0zm32 0zm15 0zm5 0zm-85 1zm11 0zm0 0zm16 0zm22 0zm7 0zm2 0zm5 0zm13 0zm1 0zm18 0zm3 0zm51 0zm-156 1zm4 0zm14 0zm28 0zm26 0zm12 0zm10 0zm10 0zm15 0zm5 0zm5 0zm-183 1zm1 0zm97 0zm11 0zm2 0zm12 0zm5 0zm0 0zm5 0zm49 0zm1 0zm-79 1zm8 0zm8 0zm6 0zm23 0zm5 0zm37 0zm-120 1zm17 0zm22 0zm6 0zm40 0zm6 0zm26 0zm-87 1zm12 0zm16 0zm12 0zm15 0zm9 0zm23 0zm-181 1zm65 0zm25 0zm15 0zm32 0zm3 0zm14 0zm-111 1zm7 0zm40 0zm7 0zm2 0zm13 0zm46 0zm-70 1zm0 0zm1 0zm3 0zm1 0zm12 0zm8 0zm11 0zm4 0zm10 0zm8 0zm41 0zm-173 1zm22 0zm25 0zm19 0zm14 0zm19 0zm1 0zm0 0zm6 0zm6 0zm11 0zm34 0zm-93 1zm17 0zm25 0zm29 0zm-186 1zm100 0zm9 0zm8 0zm29 0zm2 0zm2 0zm7 0zm4 0zm36 0zm33 0zm-90 1zm11 0zm27 0zm5 0zm2 0zm12 0zm11 0zm13 0zm-116 1zm2 0zm42 0zm1 0zm13 0zm25 0zm-144 1zm73 0zm6 0zm18 0zm3 0zm0 0zm6 0zm4 0zm4 0zm13 0zm5 0zm11 0zm1 0zm49 0zm-124 1zm12 0zm6 0zm1 0zm2 0zm3 0zm22 0zm55 0zm-185 1zm41 0zm2 0zm2 0zm10 0zm35 0zm6 0zm22 0zm14 0zm43 0zm-103 1zm4 0zm23 0zm2 0zm1 0zm15 0zm8 0zm13 0zm27 0zm-122 1zm47 0zm0 0zm0 0zm45 0zm26 0zm-192 1zm89 0zm10 0zm11 0zm25 0zm12 0zm14 0zm5 0zm5 0zm27 0zm9 0zm-151 1zm32 0zm35 0zm7 0zm15 0zm31 0zm-137 1zm44 0zm21 0zm0 0zm3 0zm19 0zm3 0zm1 0zm4 0zm13 0zm27 0zm15 0zm-191 1zm86 0zm19 0zm0 0zm14 0zm8 0zm28 0zm3 0zm28 0zm-143 1zm20 0zm35 0zm10 0zm4 0zm8 0zm24 0zm3 0zm9 0zm33 0zm-88 1zm13 0zm3 0zm37 0zm15 0zm23 0zm-164 1zm31 0zm46 0zm13 0zm2 0zm14 0zm8 0zm9 0zm1 0zm25 0zm5 0zm3 0zm1 0zm29 0zm16 0zm-199 1zm10 0zm56 0zm1 0zm3 0zm28 0zm7 0zm3 0zm6 0zm-97 1zm69 0zm2 0zm11 0zm1 0zm8 0zm4 0zm2 0zm4 0zm3 0zm2 0zm12 0zm6 0zm21 0zm0 0zm23 0zm-107 1zm30 0zm0 0zm4 0zm21 0zm1 0zm7 0zm16 0zm-109 1zm39 0zm18 0zm5 0zm5 0zm3 0zm50 0zm1 0zm7 0zm-102 1zm7 0zm12 0zm7 0zm5 0zm12 0zm12 0zm10 0zm-93 1zm6 0zm16 0zm40 0zm40 0zm24 0zm-140 1zm94 0zm3 0zm19 0zm14 0zm-127 1zm2 0zm18 0zm32 0zm28 0zm-114 1zm15 0zm22 0zm36 0zm25 0zm4 0zm14 0zm14 0zm-43 1zm3 0zm4 0zm41 0zm0 0zm19 0zm7 0zm-131 1zm93 0zm25 0zm-140 1zm2 0zm55 0zm10 0zm19 0zm58 0zm35 0zm39 0zm-181 1zm4 0zm1 0zm51 0zm13 0zm2 0zm3 0zm10 0zm4 0zm30 0zm-223 1zm172 0zm5 0zm2 0zm1 0zm7 0zm7 0zm3 0zm59 0zm-149 1zm1 0zm39 0zm18 0zm-170 1zm68 0zm51 0zm10 0zm19 0zm31 0zm0 0zm15 0zm4 0zm11 0zm1 0zm-128 1zm47 0zm1 0zm3 0zm51 0zm15 0zm-137 1zm111 0zm3 0zm19 0zm33 0zm-148 1zm47 0zm7 0zm0 0zm8 0zm4 0zm17 0zm19 0zm9 0zm7 0zm3 0zm-107 1zm49 0zm6 0zm23 0zm1 0zm63 0zm-154 1zm22 0zm8 0zm27 0zm7 0zm11 0zm7 0zm0 0zm2 0zm9 0zm8 0zm27 0zm9 0zm-133 1zm14 0zm9 0zm54 0zm-103 1zm44 0zm24 0zm13 0zm22 0zm26 0zm17 0zm5 0zm5 0zm5 0zm24 0zm-133 1zm0 0zm12 0zm3 0zm64 0zm-129 1zm59 0zm24 0zm2 0zm7 0zm10 0zm12 0zm21 0zm10 0zm6 0zm-82 1zm10 0zm12 0zm2 0zm3 0zm20 0zm37 0zm2 0zm-197 1zm7 0zm4 0zm47 0zm13 0zm12 0zm4 0zm10 0zm14 0zm1 0zm5 0zm1 0zm10 0zm0 0zm9 0zm5 0zm5 0zm4 0zm6 0zm3 0zm2 0zm3 0zm23 0zm-154 1zm36 0zm8 0zm33 0zm3 0zm25 0zm15 0zm7 0zm8 0zm15 0zm23 0zm23 0zm-187 1zm28 0zm40 0zm4 0zm5 0zm9 0zm4 0zm0 0zm18 0zm17 0zm-122 1zm51 0zm3 0zm22 0zm8 0zm1 0zm4 0zm51 0zm-168 1zm70 0zm10 0zm11 0zm8 0zm22 0zm3 0zm8 0zm4 0zm-6 1zm10 0zm28 0zm2 0zm-188 1zm62 0zm28 0zm16 0zm25 0zm-26 1zm4 0zm4 0zm5 0zm2 0zm22 0zm13 0zm1 0zm17 0zm-134 1zm31 0zm25 0zm16 0zm3 0zm73 0zm-135 1zm65 0zm12 0zm0 0zm25 0zm16 0zm59 0zm-182 1zm38 0zm29 0zm6 0zm5 0zm7 0zm10 0zm10 0zm22 0zm29 0zm-106 1zm13 0zm42 0zm-64 1zm27 0zm25 0zm34 0zm9 0zm0 0zm0 0zm25 0zm-99 1zm13 0zm12 0zm-128 1zm52 0zm43 0zm12 0zm40 0zm16 0zm-133 1zm26 0zm63 0zm15 0zm4 0zm-104 1zm66 0zm65 0zm11 0zm-150 1zm43 0zm8 0zm11 0zm16 0zm1 0zm20 0zm5 0zm37 0zm-100 1zm91 0zm34 0zm-144 1zm5 0zm24 0zm14 0zm6 0zm6 0zm8 0zm-71 1zm44 0zm31 0zm4 0zm11 0zm11 0zm7 0zm-63 1zm2 0zm6 0zm7 0zm83 0zm25 0zm-248 1zm99 0zm8 0zm24 0zm60 0zm-138 1zm28 0zm3 0zm0 0zm3 0zm34 0zm18 0zm21 0zm6 0zm29 0zm4 0zm30 0zm-115 1zm13 0zm4 0zm1 0zm20 0zm20 0zm-150 1zm70 0zm10 0zm13 0zm1 0zm45 0zm79 0zm-187 1zm105 0zm11 0zm56 0zm-273 1zm1 0zm116 0zm22 0zm62 0zm2 0zm4 0zm4 0zm12 0zm0 0zm28 0zm10 0zm2 0zm-199 1zm37 0zm21 0zm59 0zm26 0zm2 0zm5 0zm4 0zm20 0zm-100 1zm6 0zm10 0zm13 0zm6 0zm47 0zm53 0zm-159 1zm25 0zm42 0zm1 0zm2 0zm6 0zm111 0zm-174 1zm74 0zm32 0zm-142 1zm42 0zm12 0zm20 0zm8 0zm2 0zm26 0zm9 0zm-65 1zm7 0zm3 0zm11 0zm22 0zm37 0zm-46 1zm13 0zm22 0zm3 0zm36 0zm-114 1zm24 0zm45 0zm-110 1zm56 0zm0 0zm6 0zm28 0zm9 0zm-106 1zm22 0zm25 0zm32 0zm3 0zm11 0zm-74 1zm2 0zm66 0zm25 0zm-64 1zm4 0zm0 0zm9 0zm9 0zm13 0zm3 0zm17 0zm-184 1zm102 0zm2 0zm74 0zm1 0zm19 0zm-46 1zm20 0zm29 0zm19 0zm35 0zm-176 1zm46 0zm12 0zm43 0zm6 0zm32 0zm-98 1zm29 0zm24 0zm26 0zm-155 1zm34 0zm25 0zm53 0zm30 0zm26 0zm-123 1zm40 0zm7 0zm20 0zm3 0zm8 0zm4 0zm0 0zm28 0zm6 0zm3 0zm66 0zm-132 1zm14 0zm23 0zm4 0zm15 0zm-83 1zm0 0zm80 0zm-93 1zm39 0zm6 0zm7 0zm3 0zm10 0zm10 0zm-82 1zm73 0zm31 0zm-110 1zm2 0zm21 0zm18 0zm4 0zm18 0zm3 0zm1 0zm40 0zm3 0zm34 0zm-128 1zm33 0zm16 0zm6 0zm6 0zm106 0zm-182 1zm38 0zm16 0zm5 0zm18 0zm-64 1zm13 0zm35 0zm5 0zm112 0zm-219 1zm98 0zm28 0zm21 0zm-107 1zm23 0zm1 0zm34 0zm1 0zm22 0zm11 0zm10 0zm75 0zm-133 1zm16 0zm11 0zm5 0zm21 0zm8 0zm15 0zm-97 1zm14 0zm8 0zm58 0zm9 0zm47 0zm-140 1zm14 0zm11 0zm1 0zm31 0zm-27 1zm3 0zm14 0zm-83 1zm30 0zm14 0zm26 0zm10 0zm10 0zm18 0zm66 0zm-131 1zm2 0zm8 0zm21 0zm42 0zm61 0zm19 0zm-222 1zm10 0zm82 0zm16 0zm15 0zm0 1zm4 0zm1 0zm60 0zm-229 1zm58 0zm23 0zm61 0zm14 0zm9 0zm10 0zm-72 1zm17 0zm26 0zm11 0zm11 0zm26 0zm-129 1zm6 0zm82 0zm-22 1zm22 0zm112 0zm-143 1zm7 0zm12 0zm99 0zm-235 1zm84 0zm21 0zm4 0zm23 0zm28 0zm16 0zm47 0zm-121 1zm-48 1zm138 0zm-115 1zm9 0zm4 0zm23 0zm15 0zm18 0zm26 1zm5 0zm-118 1zm44 0zm19 0zm12 0zm8 0zm5 0zm27 0zm8 0zm1 0zm24 0zm-105 1zm10 0zm15 0zm36 0zm14 0zm-145 1zm83 0zm39 0zm-61 1zm55 0zm15 0zm-49 1zm5 0zm67 0zm-112 1zm57 1zm89 0zm-204 1zm46 0zm3 0zm40 0zm30 1zm19 0zm-127 1zm66 0zm14 0zm15 0zm7 0zm1 0zm20 0zm2 0zm-27 1zm-77 1zm56 0zm19 0zm16 0zm1 0zm11 0zm-12 1zm2 0zm9 0zm75 0zm-224 1zm117 0zm33 0zm27 0zm-95 1zm22 0zm52 0zm81 0zm-210 1zm64 0zm23 0zm23 0zm23 0zm-52 1zm70 0zm-127 1zm58 0zm28 0zm30 0zm26 0zm-103 1zm23 0zm1 0zm38 0zm2 0zm14 0zm26 0zm-114 1zm30 0zm2 0zm37 0zm109 0zm-165 1zm38 0zm72 0zm-89 1zm3 0zm2 0zm-18 2zm66 0zm34 0zm-160 1zm45 0zm152 0zm-151 1zm198 0zm-185 1zm9 1zm1 0zm42 0zm-76 1zm5 0zm6 0zm4 0zm-58 1zm72 0zm9 0zm16 0zm29 0zm-107 1zm26 0zm6 0zm83 0zm-63 1zm26 0zm47 0zm-27 1zm46 0zm-110 1zm42 0zm1 0zm-106 1zm60 0zm6 0zm40 0zm28 0zm-79 1zm76 0zm61 0zm-121 1zm5 0zm24 0zm-95 1zm3 0zm59 0zm5 0zm70 0zm-157 2zm109 0zm-147 1zm72 0zm99 0zm8 0zm-97 1zm17 0zm41 0zm6 0zm1 0zm40 0zm-144 1zm71 0zm11 0zm53 0zm43 0zm-131 1zm130 0zm-101 1zm42 0zm35 0zm-70 1zm90 0zm-133 1zm35 0zm52 0zm-146 1zm17 0zm90 0zm7 0zm-50 2zm91 0zm54 0zm-163 1zm159 0zm-179 1zm85 0zm-29 1zm11 0zm27 0zm21 0zm-64 1zm75 0zm-124 2zm31 1zm59 0zm26 0zm60 0zm-31 1zm-96 1zm25 0zm17 1zm-51 1zm17 0zm121 0zm-105 1zm6 0zm58 0zm40 0zm-102 1zm-29 1zm38 0zm-15 1zm25 0zm15 1zm-66 1zm238 0zm-276 1zm12 0zm-38 1zm93 0zm-80 1zm98 0zm-90 2zm45 0zm138 0zm-127 1zm98 0zm-110 1zm-71 1zm72 0zm-9 1zm79 0zm-165 1zm150 0zm-61 1zm3 1zm-18 1zm78 0zm5 0zm14 0zm124 0zm-200 1zm-56 1zm22 0zm26 0zm20 0zm34 0zm-58 1zm-38 1zm42 0zm-75 1zm43 0zm-72 1zm101 0zm15 1zm1 0zm-87 2zm52 0zm38 0zm14 0zm-85 1zm46 0zm0 2zm-10 2zm23 0zm122 0zm-110 1zm123 2zm-238 1zm47 0zm44 0zm-41 1zm14 1zm34 0zm-121 1zm158 1zm-31 1zm15 0zm-7 1zm18 0zm-57 1zm38 0zm10 0zm-100 1zm51 0zm48 0zm63 0zm-147 1zm31 0zm39 0zm43 1zm-125 1zm43 0zm2 0zm24 0zm155 3zm-43 1zm-104 1zm56 1zm-56 2zm-32 1zm6 0zm-86 1zm169 1zm-214 1zm87 0zm131 1zm-254 1zm156 0zm7 1zm71 2zm-83 2zm134 0zm-187 2zm97 0zm103 0zm-109 2zm-98 1zm77 0zm-32 1zm276 0zm-283 1zm7 1zm-70 1zm83 1zm52 1zm27 1zm-122 2zm38 0zm246 0zm-192 1zm80 3zm-140 2zm31 1zm-85 1zm35 0zm22 2zm-57 1zm101 0zm8 0zm-116 1zm115 0zm-56 1zm154 0zm-94 5zm-25 5zm-17 1zm42 1zm60 4zm-154 2zm41 1zm10 0zm-133 3zm215 4zm103 0zm-247 3zm194 4zm81 0zm-235 4zm104 0zm-86 2zm111 4zm-70 6zm-87 5zm0 13zm134 2zm-91 27zm-76 3zm-10 1zm35 9z"/><path d="M496 9zm101 0zm-6 1zm30 1zm-93 2zm-119 11zm120 0zm-42 2zm67 1zm-25 1zm-56 3zm-102 8zm208 0zm-44 1zm12 1zm-22 3zm12 1zm-93 1zm18 1zm132 2zm-27 2zm54 0zm-73 1zm0 1zm-20 1zm34 1zm-81 1zm65 2zm64 0zm-150 1zm134 0zm27 0zm-30 1zm-42 1zm8 0zm-24 1zm33 1zm8 0zm-16 1zm11 1zm-132 1zm103 0zm52 0zm49 0zm-163 2zm31 0zm62 0zm9 0zm-101 1zm45 1zm-21 1zm91 0zm-65 1zm19 0zm10 0zm15 0zm-52 2zm11 1zm15 0zm10 0zm27 0zm1 0zm-30 1zm61 0zm-103 1zm47 0zm-95 1zm18 1zm77 0zm30 0zm8 0zm-93 1zm-17 1zm-99 1zm206 0zm-30 1zm10 0zm-61 1zm25 0zm-33 1zm69 1zm8 0zm-156 1zm139 0zm30 0zm-121 1zm88 0zm-42 1zm29 0zm1 0zm10 0zm24 0zm-124 1zm75 0zm3 0zm13 0zm4 0zm15 0zm-52 1zm46 0zm0 1zm30 0zm-41 1zm-86 1zm100 0zm-68 1zm40 0zm14 0zm4 2zm0 0zm28 0zm-149 1zm75 0zm28 0zm42 1zm-93 1zm21 0zm1 0zm75 0zm-105 1zm22 1zm9 0zm33 0zm2 0zm27 0zm18 0zm13 0zm-88 1zm42 0zm4 0zm8 0zm31 0zm-59 1zm36 0zm34 0zm-57 1zm-75 1zm3 0zm35 0zm5 1zm16 0zm13 0zm45 0zm4 0zm-100 1zm14 0zm2 0zm21 0zm24 0zm79 0zm-98 1zm6 0zm-195 1zm175 0zm14 0zm7 0zm2 0zm-43 1zm33 0zm21 0zm15 0zm-44 1zm20 0zm0 0zm-49 1zm38 0zm17 0zm10 0zm1 0zm9 0zm7 0zm-48 1zm-19 1zm31 0zm10 0zm20 0zm-223 1zm121 0zm62 0zm4 0zm8 0zm23 0zm-43 1zm3 0zm37 0zm-142 1zm79 0zm32 0zm19 0zm4 0zm-55 1zm0 0zm11 0zm45 0zm4 0zm-77 1zm41 0zm5 0zm14 0zm2 0zm2 0zm8 0zm-56 1zm6 0zm15 0zm18 0zm21 0zm-197 1zm128 0zm3 0zm12 0zm15 0zm15 0zm4 0zm42 0zm-145 1zm4 0zm31 0zm4 0zm27 0zm0 0zm12 0zm4 0zm2 0zm1 0zm10 0zm3 0zm11 0zm11 0zm1 0zm-48 1zm-1 1zm3 0zm0 0zm20 0zm9 0zm0 0zm26 0zm-146 1zm107 0zm16 0zm18 0zm6 0zm21 0zm-110 1zm17 0zm14 0zm15 0zm16 0zm15 0zm24 0zm-164 1zm119 0zm2 0zm18 0zm-191 1zm91 0zm18 0zm47 0zm16 0zm-48 1zm16 1zm12 0zm20 0zm-34 1zm4 0zm6 0zm15 0zm6 0zm-92 1zm4 0zm109 0zm-113 1zm50 0zm20 0zm8 0zm0 0zm8 0zm11 0zm0 0zm1 0zm6 0zm13 0zm-127 1zm28 0zm13 0zm18 0zm17 0zm26 0zm7 0zm22 0zm13 0zm16 0zm-114 1zm9 0zm9 0zm1 0zm30 0zm17 0zm23 0zm-112 1zm39 0zm41 0zm31 0zm-143 1zm66 0zm7 0zm28 0zm2 0zm54 0zm10 0zm-293 1zm196 0zm16 0zm69 0zm7 0zm-146 1zm71 0zm26 0zm1 0zm0 0zm11 0zm-146 1zm90 0zm27 0zm9 0zm2 0zm7 0zm29 0zm-88 1zm14 0zm1 0zm3 0zm44 0zm-92 1zm21 0zm28 0zm26 0zm12 0zm0 0zm16 0zm13 0zm-136 1zm66 0zm8 0zm4 0zm14 0zm12 0zm3 0zm9 0zm2 0zm-68 1zm6 0zm2 0zm9 0zm10 0zm17 0zm36 0zm20 0zm-105 1zm5 0zm21 0zm4 0zm10 0zm9 0zm26 0zm0 0zm-61 1zm29 0zm1 0zm17 0zm3 0zm4 0zm17 0zm-110 1zm13 0zm14 0zm19 0zm18 0zm8 0zm9 0zm4 0zm5 0zm7 0zm6 0zm-203 1zm72 0zm17 0zm16 0zm21 0zm20 0zm2 0zm1 0zm5 0zm13 0zm10 0zm2 0zm8 0zm2 0zm3 0zm3 0zm2 0zm-170 1zm112 0zm17 0zm4 0zm9 0zm14 0zm3 0zm4 0zm-50 1zm3 0zm24 0zm16 0zm11 0zm11 0zm4 0zm5 0zm-157 1zm86 0zm11 0zm12 0zm1 0zm7 0zm16 0zm5 0zm24 0zm-93 1zm39 0zm4 0zm12 0zm-47 1zm6 0zm2 0zm23 0zm1 0zm17 0zm-60 1zm22 0zm13 0zm6 0zm9 0zm0 0zm1 0zm4 0zm1 0zm2 0zm4 0zm23 0zm-93 1zm3 0zm3 0zm14 0zm34 0zm46 0zm2 0zm-74 1zm24 0zm13 0zm17 0zm35 0zm-331 1zm63 0zm142 0zm8 0zm22 0zm11 0zm30 0zm5 0zm4 0zm42 0zm-149 1zm30 0zm8 0zm58 0zm-31 1zm14 0zm23 0zm6 0zm2 0zm4 0zm0 0zm-102 1zm41 0zm6 0zm6 0zm16 0zm5 0zm1 0zm4 0zm25 0zm15 0zm-108 1zm32 0zm6 0zm15 0zm18 0zm0 0zm4 0zm24 0zm-102 1zm20 0zm14 0zm1 0zm40 0zm9 0zm2 0zm32 0zm-103 1zm15 0zm14 0zm3 0zm1 0zm6 0zm5 0zm0 0zm11 0zm19 0zm4 0zm16 0zm11 0zm-151 1zm28 0zm26 0zm19 0zm11 0zm13 0zm21 0zm1 0zm1 0zm1 0zm1 0zm-77 1zm1 0zm31 0zm34 0zm12 0zm18 0zm-90 1zm22 0zm11 0zm21 0zm4 0zm9 0zm27 0zm4 0zm-89 1zm12 0zm22 0zm10 0zm4 0zm4 0zm3 0zm6 0zm10 0zm-100 1zm39 0zm10 0zm2 0zm12 0zm16 0zm2 0zm5 0zm7 0zm1 0zm17 0zm-256 1zm165 0zm2 0zm19 0zm3 0zm3 0zm2 0zm10 0zm3 0zm11 0zm4 0zm21 0zm-119 1zm37 0zm23 0zm4 0zm3 0zm15 0zm6 0zm2 0zm10 0zm6 0zm-119 1zm89 0zm20 0zm7 0zm-94 1zm27 0zm15 0zm5 0zm1 0zm8 0zm19 0zm28 0zm-83 1zm8 0zm13 0zm5 0zm14 0zm7 0zm25 0zm9 0zm10 0zm-111 1zm59 0zm9 0zm10 0zm1 0zm16 0zm26 0zm-108 1zm10 0zm1 0zm8 0zm9 0zm35 0zm1 0zm0 0zm18 0zm7 0zm2 0zm3 0zm20 0zm15 0zm-96 1zm3 0zm9 0zm11 0zm2 0zm14 0zm8 0zm-149 1zm73 0zm15 0zm29 0zm4 0zm11 0zm-35 1zm12 0zm4 0zm0 0zm6 0zm19 0zm6 0zm6 0zm13 0zm-65 1zm6 0zm14 0zm4 0zm19 0zm2 0zm4 0zm9 0zm-146 1zm75 0zm13 0zm8 0zm9 0zm13 0zm3 0zm-73 1zm24 0zm30 0zm3 0zm4 0zm1 0zm59 0zm9 0zm-165 1zm15 0zm55 0zm8 0zm6 0zm1 0zm4 0zm7 0zm12 0zm23 0zm7 0zm30 0zm6 0zm-151 1zm49 0zm0 0zm1 0zm24 0zm25 0zm-120 1zm50 0zm23 0zm3 0zm17 0zm10 0zm0 0zm18 0zm5 0zm7 0zm-105 1zm3 0zm20 0zm21 0zm2 0zm7 0zm11 0zm7 0zm3 0zm0 0zm1 0zm4 0zm17 0zm-52 1zm5 0zm5 0zm1 0zm3 0zm7 0zm11 0zm4 0zm5 0zm1 0zm-200 1zm148 0zm2 0zm12 0zm12 0zm1 0zm30 0zm22 0zm-134 1zm50 0zm10 0zm25 0zm2 0zm21 0zm20 0zm-160 1zm22 0zm1 0zm7 0zm12 0zm10 0zm18 0zm20 0zm9 0zm6 0zm22 0zm4 0zm3 0zm4 0zm7 0zm27 0zm11 0zm-136 1zm37 0zm12 0zm2 0zm3 0zm2 0zm18 0zm22 0zm13 0zm-81 1zm7 0zm28 0zm17 0zm3 0zm8 0zm5 0zm-123 1zm49 0zm48 0zm10 0zm1 0zm58 0zm-179 1zm44 0zm2 0zm18 0zm24 0zm5 0zm1 0zm2 0zm6 0zm12 0zm1 0zm11 0zm28 0zm2 0zm-68 1zm4 0zm13 0zm16 0zm28 0zm-91 1zm37 0zm50 0zm-222 1zm138 0zm22 0zm6 0zm4 0zm4 0zm12 0zm14 0zm7 0zm9 0zm11 0zm15 0zm-121 1zm35 0zm40 0zm-138 1zm52 0zm5 0zm2 0zm40 0zm12 0zm9 0zm4 0zm6 0zm2 0zm-41 1zm53 0zm-92 1zm46 0zm3 0zm6 0zm19 0zm8 0zm21 0zm-115 1zm45 0zm11 0zm42 0zm8 0zm34 0zm-271 1zm168 0zm34 0zm1 0zm2 0zm5 0zm19 0zm6 0zm-178 1zm4 0zm107 0zm9 0zm37 0zm0 0zm19 0zm-94 1zm8 0zm22 0zm20 0zm19 0zm8 0zm8 0zm12 0zm2 0zm11 0zm16 0zm3 0zm-163 1zm47 0zm22 0zm16 0zm20 0zm37 0zm11 0zm19 0zm-198 1zm68 0zm5 0zm1 0zm24 0zm12 0zm26 0zm4 0zm2 0zm4 0zm12 0zm-108 1zm16 0zm12 0zm22 0zm14 0zm23 0zm1 0zm9 0zm25 0zm-84 1zm9 0zm17 0zm18 0zm12 0zm1 0zm2 0zm5 0zm-95 1zm37 0zm11 0zm6 0zm0 0zm7 0zm10 0zm6 0zm0 0zm52 0zm-85 1zm44 0zm12 0zm0 0zm2 0zm7 0zm11 0zm-205 1zm27 0zm109 0zm5 0zm2 0zm8 0zm3 0zm47 0zm6 0zm-101 1zm18 0zm8 0zm40 0zm1 0zm20 0zm3 0zm15 0zm-137 1zm14 0zm8 0zm11 0zm18 0zm4 0zm11 0zm30 0zm45 0zm15 0zm-192 1zm3 0zm50 0zm16 0zm9 0zm27 0zm7 0zm1 0zm9 0zm4 0zm4 0zm4 0zm7 0zm4 0zm2 0zm-92 1zm12 0zm7 0zm1 0zm21 0zm11 0zm16 0zm1 0zm7 0zm3 0zm18 0zm15 0zm-113 1zm2 0zm4 0zm64 0zm5 0zm7 0zm3 0zm19 0zm-164 1zm32 0zm20 0zm21 0zm14 0zm4 0zm8 0zm20 0zm10 0zm5 0zm0 0zm7 0zm-88 1zm70 0zm10 0zm1 0zm17 0zm2 0zm17 0zm-142 1zm61 0zm8 0zm5 0zm5 0zm1 0zm6 0zm10 0zm8 0zm15 0zm4 0zm2 0zm28 0zm-103 1zm26 0zm17 0zm2 0zm22 0zm6 0zm20 0zm-150 1zm54 0zm3 0zm9 0zm15 0zm1 0zm8 0zm5 0zm7 0zm16 0zm-75 1zm8 0zm18 0zm5 0zm1 0zm14 0zm4 0zm10 0zm4 0zm20 0zm-105 1zm52 0zm13 0zm6 0zm21 0zm5 0zm7 0zm1 0zm0 0zm4 0zm9 0zm34 0zm-246 1zm102 0zm13 0zm1 0zm12 0zm1 0zm13 0zm13 0zm25 0zm13 0zm12 0zm35 0zm-196 1zm49 0zm51 0zm11 0zm13 0zm22 0zm2 0zm9 0zm-106 1zm40 0zm15 0zm13 0zm17 0zm26 0zm-133 1zm4 0zm34 0zm8 0zm9 0zm0 0zm64 0zm22 0zm15 0zm-176 1zm62 0zm21 0zm26 0zm10 0zm2 0zm12 0zm4 0zm30 0zm-77 1zm1 0zm12 0zm5 0zm0 0zm1 0zm34 0zm-97 1zm6 0zm18 0zm38 0zm-174 1zm162 0zm4 0zm2 0zm2 0zm9 0zm5 0zm8 0zm4 0zm2 0zm10 0zm-91 1zm28 0zm25 0zm23 0zm14 0zm2 0zm4 0zm37 0zm-153 1zm52 0zm17 0zm6 0zm25 0zm-95 1zm60 0zm4 0zm15 0zm25 0zm10 0zm1 0zm-139 1zm28 0zm54 0zm0 0zm20 0zm3 0zm13 0zm-59 1zm6 0zm2 0zm4 0zm7 0zm51 0zm29 0zm-163 1zm47 0zm2 0zm5 0zm0 0zm11 0zm6 0zm33 0zm23 0zm1 0zm-94 1zm15 0zm10 0zm17 0zm5 0zm41 0zm-58 1zm21 0zm1 0zm13 0zm25 0zm2 0zm-58 1zm8 0zm4 0zm2 0zm-140 1zm84 0zm56 0zm0 0zm2 0zm7 0zm21 0zm4 0zm7 0zm7 0zm20 0zm-192 1zm26 0zm46 0zm8 0zm13 0zm20 0zm0 0zm3 0zm17 0zm2 0zm15 0zm7 0zm13 0zm10 0zm-139 1zm33 0zm22 0zm22 0zm7 0zm103 0zm-227 1zm28 0zm11 0zm5 0zm2 0zm14 0zm15 0zm14 0zm8 0zm29 0zm0 0zm17 0zm10 0zm40 0zm-116 1zm6 0zm8 0zm1 0zm4 0zm17 0zm3 0zm16 0zm19 0zm27 0zm9 0zm15 0zm-158 1zm69 0zm3 0zm34 0zm-179 1zm61 0zm70 0zm5 0zm3 0zm6 0zm6 0zm3 0zm5 0zm8 0zm-83 1zm43 0zm49 0zm0 0zm14 0zm-139 1zm29 0zm2 0zm43 0zm14 0zm18 0zm4 0zm13 0zm-61 1zm28 0zm30 0zm9 0zm18 0zm4 0zm-127 1zm20 0zm17 0zm0 0zm23 0zm21 0zm14 0zm8 0zm21 0zm24 0zm-120 1zm12 0zm23 0zm63 0zm-149 2zm42 0zm4 0zm13 0zm22 0zm17 0zm6 0zm1 0zm2 0zm33 0zm99 0zm-276 1zm64 0zm46 0zm8 0zm13 0zm7 0zm2 0zm2 0zm-144 1zm30 0zm25 0zm35 0zm67 0zm7 0zm-131 1zm43 0zm21 0zm29 0zm5 0zm2 0zm2 0zm6 0zm9 0zm10 0zm-135 1zm79 0zm12 0zm12 0zm13 0zm35 0zm-127 1zm34 0zm5 0zm9 0zm16 0zm2 0zm5 0zm26 0zm2 0zm10 0zm29 0zm-49 1zm5 0zm4 0zm20 0zm-87 1zm8 0zm38 0zm10 0zm30 0zm6 0zm2 0zm-159 1zm10 0zm47 0zm33 0zm4 0zm8 0zm10 0zm22 0zm24 0zm10 0zm-154 1zm5 0zm42 0zm33 0zm8 0zm4 0zm2 0zm9 0zm4 0zm13 0zm-114 1zm49 0zm27 0zm64 0zm-127 1zm6 0zm41 0zm10 0zm5 0zm16 0zm11 0zm-70 1zm45 0zm4 0zm11 0zm88 0zm-200 1zm10 0zm90 0zm4 0zm1 0zm4 0zm10 0zm80 0zm-131 1zm6 0zm86 0zm-169 1zm48 0zm7 0zm56 0zm3 0zm35 0zm1 0zm2 0zm-36 1zm16 0zm7 0zm63 0zm-203 1zm79 0zm8 0zm5 0zm27 0zm6 0zm11 0zm-94 1zm2 0zm4 0zm13 0zm98 0zm2 0zm11 0zm-114 1zm2 0zm35 0zm7 0zm2 0zm8 0zm4 0zm23 0zm-118 1zm53 0zm23 0zm27 0zm7 0zm10 0zm1 0zm7 0zm53 0zm-196 1zm77 0zm40 0zm8 0zm-100 1zm64 0zm18 0zm10 0zm28 0zm36 0zm-197 1zm99 0zm6 0zm5 0zm10 0zm1 0zm17 0zm4 0zm0 0zm0 0zm79 0zm-186 1zm53 0zm8 0zm22 0zm9 0zm7 0zm35 0zm18 0zm-157 1zm42 0zm33 0zm5 0zm38 0zm2 0zm8 0zm31 0zm-189 1zm92 0zm12 0zm14 0zm39 0zm-151 1zm81 0zm19 0zm2 0zm1 0zm32 0zm61 0zm-196 1zm95 0zm8 0zm19 0zm17 0zm1 0zm-115 1zm37 0zm25 0zm64 0zm-103 1zm23 0zm47 0zm5 0zm34 0zm11 0zm-144 1zm24 0zm3 0zm44 0zm55 0zm-69 1zm38 0zm16 0zm-134 1zm22 0zm30 0zm34 0zm26 0zm41 0zm-122 1zm15 0zm37 0zm26 0zm24 0zm26 0zm-127 1zm12 0zm22 0zm117 0zm-102 1zm26 0zm-100 1zm24 0zm7 0zm47 0zm63 0zm30 0zm-110 1zm27 0zm29 0zm0 0zm14 0zm50 0zm-173 1zm36 0zm0 0zm27 0zm11 0zm9 0zm-44 1zm1 0zm26 0zm38 0zm2 0zm23 0zm-52 1zm14 0zm30 0zm-43 1zm14 0zm3 0zm24 0zm-107 1zm47 0zm10 0zm2 0zm3 0zm14 0zm116 0zm-132 1zm34 0zm2 0zm6 0zm25 0zm-99 1zm16 0zm17 0zm2 0zm41 0zm-69 1zm27 0zm44 0zm37 0zm13 0zm95 0zm-182 1zm3 0zm9 0zm51 0zm-144 1zm51 0zm16 0zm16 0zm14 0zm48 0zm-135 1zm50 0zm19 0zm2 0zm21 0zm34 0zm22 0zm-175 1zm16 0zm32 0zm56 0zm70 0zm30 0zm23 0zm-147 1zm16 0zm12 0zm75 0zm-121 1zm33 0zm2 0zm3 0zm5 0zm-278 1zm262 0zm8 0zm6 0zm-71 1zm30 0zm25 0zm14 0zm-82 1zm34 0zm17 0zm-119 1zm76 0zm85 0zm-115 1zm10 0zm82 0zm3 0zm9 0zm6 0zm20 0zm13 0zm-120 1zm75 0zm3 0zm-72 1zm63 0zm14 0zm45 0zm45 0zm-147 1zm37 0zm48 0zm-100 1zm32 0zm6 0zm11 0zm11 0zm53 0zm2 0zm14 0zm36 0zm-125 1zm-25 1zm-100 1zm71 0zm49 0zm8 0zm24 0zm3 0zm10 0zm-141 1zm37 0zm84 0zm32 0zm5 0zm-72 1zm29 0zm4 0zm-25 1zm30 0zm4 0zm2 0zm3 0zm-161 1zm92 0zm21 0zm50 1zm8 0zm67 0zm-130 1zm29 0zm-104 1zm62 0zm34 0zm31 0zm18 0zm51 0zm-126 1zm89 0zm23 0zm-123 1zm11 0zm5 0zm9 0zm23 0zm55 0zm-113 1zm33 0zm2 0zm32 0zm4 0zm56 0zm-172 1zm69 0zm15 0zm7 0zm49 0zm-58 1zm7 0zm16 0zm26 0zm-196 1zm143 0zm5 0zm29 0zm20 0zm10 0zm36 0zm-129 2zm26 0zm38 0zm31 0zm-72 2zm23 0zm55 0zm93 0zm-173 1zm8 0zm13 0zm32 0zm90 1zm-136 1zm11 0zm21 0zm-92 1zm44 0zm44 0zm16 0zm-106 1zm42 0zm6 0zm23 0zm2 0zm27 0zm23 0zm-133 1zm40 0zm-35 1zm33 0zm114 0zm39 0zm-224 1zm98 0zm20 0zm98 0zm-133 1zm-32 1zm9 0zm30 0zm3 0zm-71 1zm68 0zm4 0zm43 1zm-45 1zm31 0zm1 0zm-124 1zm24 0zm41 0zm21 0zm10 0zm12 0zm38 0zm5 1zm-115 1zm24 0zm22 0zm47 0zm-85 1zm30 0zm53 0zm0 0zm-128 1zm36 0zm8 0zm61 0zm53 0zm3 0zm14 0zm-112 1zm27 0zm17 0zm100 0zm27 0zm-164 1zm19 0zm32 0zm-98 1zm17 1zm3 0zm10 0zm25 0zm148 0zm-186 1zm95 0zm3 0zm-127 1zm43 0zm70 0zm-44 1zm4 0zm-33 1zm40 0zm-133 1zm124 0zm52 0zm11 0zm25 0zm104 0zm-224 1zm20 0zm5 0zm8 0zm-52 1zm24 0zm33 0zm23 0zm-26 1zm23 0zm-49 1zm26 0zm10 0zm-3 1zm7 0zm57 0zm-45 1zm-112 1zm70 0zm24 0zm-8 1zm-87 1zm113 0zm21 0zm-51 1zm23 0zm5 0zm-158 1zm100 0zm20 0zm64 0zm32 0zm-136 2zm61 0zm5 0zm12 0zm51 1zm-121 1zm23 0zm36 0zm24 0zm18 0zm-67 1zm-68 1zm48 1zm52 0zm-154 1zm108 0zm11 0zm70 0zm-146 1zm58 0zm10 0zm30 0zm1 0zm15 0zm100 0zm-286 2zm129 0zm40 0zm-98 1zm256 0zm-185 1zm171 0zm-159 1zm16 0zm-136 1zm94 0zm-39 1zm45 0zm22 0zm-85 1zm87 0zm-39 1zm-19 1zm59 0zm-48 1zm7 0zm12 2zm25 0zm17 0zm-25 1zm5 0zm13 0zm35 0zm27 1zm-201 1zm69 0zm13 0zm119 0zm-108 1zm60 0zm-77 1zm30 0zm62 0zm-161 1zm212 0zm-170 1zm42 0zm42 0zm-53 1zm30 0zm5 0zm-7 1zm23 0zm1 0zm3 0zm119 0zm-140 1zm21 1zm20 0zm24 0zm43 0zm-103 1zm-29 1zm-82 1zm113 0zm-23 1zm30 0zm11 0zm-92 1zm23 0zm26 0zm54 0zm7 1zm68 1zm-159 1zm46 0zm2 0zm58 1zm149 0zm-213 1zm48 0zm-60 1zm51 0zm-61 1zm-90 2zm40 2zm39 0zm8 0zm64 0zm45 0zm-88 2zm25 0zm122 0zm-83 1zm-184 1zm109 1zm-45 2zm44 0zm90 2zm-126 2zm147 0zm-25 1zm-183 3zm100 1zm21 0zm94 0zm-200 1zm68 2zm86 2zm2 0zm-30 1zm-93 1zm30 0zm109 0zm-53 3zm-98 1zm29 0zm-76 2zm309 0zm-247 3zm59 1zm-68 1zm38 0zm-54 1zm11 1zm9 0zm-72 2zm76 0zm-11 1zm32 1zm147 0zm-71 2zm-184 6zm224 0zm-220 1zm75 0zm168 3zm-60 1zm-154 4zm75 0zm107 0zm-145 2zm64 0zm-81 1zm35 1zm181 0zm-270 1zm173 0zm-49 1zm22 1zm14 0zm-23 3zm52 1zm-56 4zm-66 2zm12 1zm-46 3zm90 1zm-41 1zm-29 1zm18 0zm192 2zm-157 4zm173 9zm-188 3zm-77 1zm231 6zm-136 4zm33 0zm-69 8zm-25 1zm141 7zm-9 1zm-148 3zm-20 4zm225 3zm-226 5zm105 0zm-58 6zm-17 13zm96 6zm-74 1z"/><path d="M575 10zm45 6zm-252 1zm181 1zm-69 4zm99 1zm21 0zm-85 2zm2 0zm16 0zm-35 1zm-91 1zm72 1zm23 0zm-58 3zm100 0zm24 0zm-101 1zm88 3zm49 3zm-74 1zm7 0zm49 3zm33 0zm-21 1zm-43 1zm-148 1zm176 0zm-107 1zm11 0zm42 3zm-28 1zm63 0zm24 1zm-69 1zm47 0zm53 0zm-103 1zm-25 3zm21 2zm-40 1zm66 4zm6 0zm-17 1zm54 0zm-27 1zm35 2zm-74 1zm87 0zm8 0zm28 0zm-163 2zm51 0zm38 0zm13 0zm32 0zm32 0zm-74 1zm30 0zm6 0zm-103 1zm4 0zm26 0zm5 0zm39 0zm35 0zm-54 1zm11 0zm-73 1zm127 0zm-197 1zm25 0zm103 0zm12 1zm-113 1zm52 0zm13 0zm-16 1zm31 0zm21 0zm4 0zm8 1zm0 1zm15 0zm-75 2zm55 0zm29 0zm-18 2zm2 0zm-47 1zm38 0zm-45 1zm-182 1zm199 0zm9 0zm-11 1zm3 0zm40 0zm-10 1zm6 0zm5 0zm-20 1zm32 0zm-81 1zm67 0zm27 0zm22 0zm-50 1zm11 0zm-82 1zm31 0zm8 0zm54 0zm48 0zm-124 1zm29 0zm2 0zm3 0zm46 0zm-108 1zm33 0zm46 0zm2 1zm1 0zm11 0zm-115 1zm21 0zm21 0zm17 0zm33 0zm-6 1zm12 0zm12 0zm-31 1zm22 0zm28 0zm30 0zm-224 1zm147 0zm0 0zm-171 1zm166 0zm9 0zm0 0zm-142 1zm76 0zm36 0zm7 0zm36 0zm-25 1zm69 0zm-80 1zm30 0zm12 0zm-84 1zm21 0zm16 0zm0 0zm8 0zm33 0zm-36 1zm25 1zm2 0zm16 0zm-52 1zm35 0zm1 0zm16 0zm-105 1zm85 0zm27 0zm-60 1zm25 0zm10 0zm18 0zm-80 1zm20 0zm7 0zm1 0zm8 0zm20 0zm-100 1zm71 0zm54 0zm-192 1zm119 0zm22 0zm56 0zm-115 1zm70 0zm20 0zm-53 1zm34 0zm13 0zm-38 1zm58 0zm-84 1zm16 0zm39 0zm33 0zm-78 1zm71 0zm8 0zm-121 1zm113 0zm11 0zm0 0zm-89 1zm37 0zm4 0zm6 0zm4 0zm24 0zm21 0zm1 0zm-96 1zm6 0zm38 0zm16 0zm3 0zm17 0zm-195 1zm100 0zm22 0zm29 0zm1 0zm6 0zm28 0zm66 0zm-153 1zm41 0zm31 0zm-146 1zm130 0zm1 0zm23 0zm-83 1zm73 0zm25 0zm-86 1zm1 0zm36 0zm10 0zm23 0zm-4 1zm-34 1zm23 0zm59 0zm-151 1zm99 0zm30 0zm6 0zm-73 1zm10 0zm3 0zm17 0zm12 0zm16 0zm-105 1zm10 0zm18 0zm30 0zm16 0zm2 0zm39 0zm26 0zm-88 1zm7 0zm6 0zm2 0zm2 0zm14 0zm7 0zm12 0zm-61 1zm7 0zm24 0zm7 0zm4 0zm4 0zm6 0zm7 0zm2 0zm-138 1zm53 0zm66 0zm6 0zm4 0zm-121 1zm24 0zm87 0zm41 0zm-110 1zm37 0zm2 0zm16 0zm26 0zm-60 1zm14 0zm11 0zm25 0zm1 0zm8 0zm-99 1zm11 0zm56 0zm6 0zm9 0zm14 0zm-11 1zm9 0zm9 0zm10 0zm-68 1zm3 0zm42 0zm-41 1zm30 0zm27 0zm23 0zm-177 1zm66 0zm30 0zm2 0zm15 0zm11 0zm3 0zm25 0zm15 0zm-179 1zm105 0zm3 0zm24 0zm10 0zm4 0zm16 0zm-93 1zm20 0zm15 0zm9 0zm1 0zm15 0zm2 0zm67 0zm-176 1zm15 0zm12 0zm29 0zm44 0zm12 0zm15 0zm6 0zm29 0zm-158 1zm48 0zm61 0zm15 0zm14 0zm3 0zm13 0zm27 0zm-135 1zm24 0zm20 0zm11 0zm2 0zm-50 1zm20 0zm5 0zm7 0zm9 0zm1 0zm22 0zm0 0zm27 0zm6 0zm-73 1zm9 0zm3 0zm3 0zm3 0zm1 0zm10 0zm-33 1zm32 0zm10 0zm28 0zm-71 1zm26 0zm9 0zm16 0zm3 0zm-153 1zm102 0zm16 0zm8 0zm1 0zm23 0zm-35 1zm24 0zm7 0zm12 0zm6 0zm-110 1zm47 0zm62 0zm26 0zm12 0zm-221 1zm86 0zm3 0zm9 0zm12 0zm68 0zm16 0zm-79 1zm3 0zm4 0zm2 0zm7 0zm1 0zm43 0zm1 0zm-98 1zm29 0zm14 0zm45 0zm8 0zm2 0zm-81 1zm8 0zm1 0zm14 0zm16 0zm19 0zm13 0zm-97 1zm24 0zm30 0zm4 0zm11 0zm4 0zm0 0zm1 0zm17 0zm7 0zm0 0zm-72 1zm22 0zm22 0zm21 0zm19 0zm-16 1zm16 0zm1 0zm17 0zm-184 1zm111 0zm9 0zm7 0zm20 0zm0 0zm2 0zm-113 1zm91 0zm26 0zm12 0zm5 0zm13 0zm-131 1zm15 0zm2 0zm3 0zm14 0zm7 0zm14 0zm27 0zm29 0zm1 0zm4 0zm-48 1zm9 0zm10 0zm9 0zm1 0zm3 0zm24 0zm-173 1zm40 0zm46 0zm8 0zm5 0zm4 0zm1 0zm26 0zm0 0zm1 0zm11 0zm35 0zm-83 1zm1 0zm8 0zm21 0zm9 0zm10 0zm3 0zm7 0zm7 0zm29 0zm-180 1zm74 0zm31 0zm12 0zm12 0zm5 0zm1 0zm3 0zm11 0zm-85 1zm5 0zm3 0zm14 0zm3 0zm5 0zm8 0zm17 0zm3 0zm29 0zm1 0zm-47 1zm9 0zm1 0zm7 0zm16 0zm13 0zm-60 1zm5 0zm24 0zm26 0zm12 0zm-108 1zm9 0zm30 0zm3 0zm6 0zm15 0zm31 0zm1 0zm18 0zm-125 1zm37 0zm1 0zm3 0zm28 0zm39 0zm-162 1zm69 0zm74 0zm10 0zm25 0zm-218 1zm17 0zm81 0zm22 0zm53 0zm5 0zm12 0zm0 0zm13 0zm2 0zm12 0zm-132 1zm22 0zm58 0zm8 0zm2 0zm4 0zm0 0zm66 0zm-187 1zm80 0zm7 0zm1 0zm38 0zm42 0zm-117 1zm12 0zm20 0zm2 0zm6 0zm11 0zm20 0zm2 0zm5 0zm7 0zm1 0zm3 0zm12 0zm7 0zm6 0zm-119 1zm40 0zm8 0zm1 0zm1 0zm8 0zm7 0zm8 0zm7 0zm6 0zm1 0zm24 0zm-294 1zm166 0zm22 0zm14 0zm2 0zm2 0zm10 0zm14 0zm1 0zm8 0zm2 0zm12 0zm2 0zm3 0zm14 0zm6 0zm17 0zm7 0zm-115 1zm42 0zm34 0zm4 0zm4 0zm3 0zm2 0zm4 0zm5 0zm33 0zm-120 1zm52 0zm16 0zm71 0zm-127 1zm4 0zm8 0zm20 0zm9 0zm1 0zm9 0zm52 0zm-152 1zm60 0zm31 0zm25 0zm-88 1zm32 0zm58 0zm26 0zm-151 1zm59 0zm12 0zm8 0zm6 0zm13 0zm12 0zm14 0zm6 0zm5 0zm-236 1zm133 0zm12 0zm43 0zm5 0zm13 0zm6 0zm19 0zm-233 1zm143 0zm5 0zm38 0zm9 0zm7 0zm5 0zm8 0zm3 0zm-39 1zm18 0zm6 0zm50 0zm-107 1zm27 0zm1 0zm16 0zm14 0zm2 0zm4 0zm13 0zm-115 1zm38 0zm17 0zm1 0zm33 0zm9 0zm6 0zm6 0zm14 0zm-105 1zm16 0zm49 0zm4 0zm13 0zm4 0zm4 0zm31 0zm-117 1zm26 0zm26 0zm9 0zm-71 1zm16 0zm12 0zm19 0zm16 0zm32 0zm0 0zm4 0zm-96 1zm0 0zm24 0zm10 0zm12 0zm8 0zm31 0zm64 0zm-185 1zm26 0zm44 0zm29 0zm9 0zm46 0zm-144 1zm51 0zm1 0zm54 0zm3 0zm26 0zm-117 1zm29 0zm11 0zm3 0zm39 0zm1 0zm1 0zm-114 1zm53 0zm33 0zm11 0zm2 0zm3 0zm13 0zm14 0zm-122 1zm15 0zm21 0zm15 0zm13 0zm1 0zm25 0zm27 0zm-105 1zm24 0zm18 0zm3 0zm18 0zm29 0zm32 0zm13 0zm-114 1zm40 0zm3 0zm28 0zm-132 1zm118 0zm14 0zm23 0zm41 0zm-109 1zm22 0zm5 0zm6 0zm3 0zm3 0zm44 0zm-181 1zm88 0zm31 0zm19 0zm0 0zm12 0zm6 0zm22 0zm-127 1zm29 0zm37 0zm4 0zm2 0zm3 0zm3 0zm15 0zm7 0zm3 0zm-145 1zm42 0zm81 0zm4 0zm-82 1zm3 0zm5 0zm12 0zm12 0zm42 0zm9 0zm-115 1zm20 0zm73 0zm5 0zm12 0zm34 0zm8 0zm-113 1zm15 0zm4 0zm7 0zm27 0zm7 0zm5 0zm38 0zm-90 1zm2 0zm29 0zm10 0zm30 0zm2 0zm-199 1zm11 0zm4 0zm44 0zm40 0zm64 0zm15 0zm21 0zm10 0zm-138 1zm10 0zm76 0zm3 0zm2 0zm8 0zm25 0zm18 0zm-122 1zm43 0zm5 0zm12 0zm18 0zm3 0zm4 0zm0 0zm9 0zm22 0zm-214 1zm161 0zm3 0zm23 0zm2 0zm21 0zm30 0zm-134 1zm7 0zm4 0zm14 0zm9 0zm13 0zm5 0zm1 0zm42 0zm-121 1zm55 0zm22 0zm0 0zm12 0zm0 0zm14 0zm0 0zm1 0zm1 0zm1 0zm19 0zm14 0zm-52 1zm8 0zm6 0zm2 0zm3 0zm9 0zm-46 1zm17 0zm9 0zm0 0zm1 0zm6 0zm11 0zm0 0zm18 0zm3 0zm2 0zm60 0zm-199 1zm119 0zm27 0zm-253 1zm60 0zm52 0zm8 0zm59 0zm6 0zm3 0zm6 0zm6 0zm7 0zm12 0zm17 0zm4 0zm15 0zm4 0zm-173 1zm106 0zm3 0zm2 0zm0 0zm11 0zm7 0zm5 0zm7 0zm6 0zm-39 1zm2 0zm6 0zm17 0zm12 0zm2 0zm-69 1zm0 0zm1 0zm8 0zm4 0zm0 0zm16 0zm35 0zm23 0zm5 0zm-111 1zm0 0zm22 0zm13 0zm1 0zm7 0zm5 0zm5 0zm26 0zm3 0zm17 0zm18 0zm-148 1zm40 0zm25 0zm6 0zm20 0zm19 0zm17 0zm-56 1zm34 0zm42 0zm-231 1zm62 0zm23 0zm2 0zm4 0zm25 0zm8 0zm4 0zm29 0zm5 0zm27 0zm8 0zm1 0zm12 0zm4 0zm-122 1zm63 0zm7 0zm3 0zm2 0zm13 0zm6 0zm3 0zm33 0zm-90 1zm26 0zm17 0zm2 0zm7 0zm5 0zm-120 1zm38 0zm28 0zm29 0zm40 0zm28 0zm-94 1zm3 0zm-92 1zm33 0zm13 0zm48 0zm13 0zm13 0zm2 0zm6 0zm10 0zm18 0zm18 0zm-172 1zm33 0zm60 0zm4 0zm3 0zm10 0zm5 0zm3 0zm66 0zm-95 1zm13 0zm12 0zm12 0zm30 0zm-194 1zm69 0zm10 0zm7 0zm13 0zm41 0zm12 0zm5 0zm20 0zm-122 1zm46 0zm44 0zm5 0zm22 0zm21 0zm-171 1zm95 0zm15 0zm7 0zm12 0zm27 0zm30 0zm14 0zm19 0zm-221 1zm85 0zm20 0zm14 0zm7 0zm67 0zm-93 1zm11 0zm38 0zm-131 1zm56 0zm5 0zm4 0zm11 0zm1 0zm4 0zm33 0zm2 0zm14 0zm26 0zm11 0zm4 0zm-192 1zm38 0zm30 0zm1 0zm24 0zm4 0zm32 0zm1 0zm23 0zm4 0zm18 0zm56 0zm-190 1zm42 0zm12 0zm2 0zm25 0zm43 0zm-180 1zm29 0zm49 0zm43 0zm3 0zm1 0zm11 0zm20 0zm3 0zm3 0zm24 0zm54 0zm-72 1zm1 0zm-94 1zm7 0zm3 0zm1 0zm9 0zm38 0zm12 0zm25 0zm-115 1zm25 0zm36 0zm6 0zm22 0zm20 0zm1 0zm12 0zm33 0zm-156 1zm20 0zm36 0zm22 0zm38 0zm6 0zm1 0zm49 0zm-169 1zm12 0zm32 0zm12 0zm9 0zm18 0zm4 0zm45 0zm24 0zm-162 1zm1 0zm37 0zm2 0zm13 0zm1 0zm3 0zm10 0zm1 0zm2 0zm5 0zm21 0zm3 0zm11 0zm2 0zm-102 1zm12 0zm47 0zm0 0zm6 0zm12 0zm3 0zm4 0zm9 0zm5 0zm24 0zm-184 1zm102 0zm11 0zm3 0zm46 0zm22 0zm-143 1zm53 0zm6 0zm22 0zm46 0zm-112 1zm11 0zm31 0zm8 0zm21 0zm2 0zm6 0zm11 0zm9 0zm49 0zm32 0zm-236 1zm62 0zm39 0zm19 0zm3 0zm22 0zm2 0zm2 0zm-75 1zm30 0zm15 0zm7 0zm18 0zm19 0zm15 0zm-132 1zm57 0zm24 0zm19 0zm43 0zm-137 1zm14 0zm53 0zm28 0zm21 0zm26 0zm-224 1zm60 0zm7 0zm43 0zm9 0zm0 0zm42 0zm18 0zm10 0zm2 0zm51 0zm-164 1zm28 0zm38 0zm18 0zm5 0zm16 0zm5 0zm-90 1zm6 0zm8 0zm25 0zm6 0zm6 0zm23 0zm11 0zm3 0zm-111 1zm27 0zm27 0zm16 0zm56 0zm-110 1zm66 0zm29 0zm9 0zm-85 1zm16 0zm17 0zm2 0zm9 0zm32 0zm2 0zm50 0zm-200 1zm78 0zm3 0zm2 0zm3 0zm42 0zm11 0zm17 0zm20 0zm-172 1zm47 0zm27 0zm6 0zm11 0zm8 0zm19 0zm32 0zm41 0zm-120 1zm13 0zm23 0zm9 0zm25 0zm18 0zm-73 1zm5 0zm-75 1zm24 0zm30 0zm26 0zm8 0zm42 0zm20 0zm-171 1zm60 0zm13 0zm31 0zm11 0zm0 0zm4 0zm21 0zm2 0zm22 0zm-71 1zm2 0zm2 0zm37 0zm-88 1zm21 0zm17 0zm19 0zm11 0zm3 0zm10 0zm8 0zm12 0zm8 0zm1 0zm-55 1zm1 0zm38 0zm35 0zm-85 1zm1 0zm5 0zm21 0zm-71 1zm15 0zm37 0zm6 0zm15 0zm51 0zm2 0zm-120 1zm34 0zm14 0zm-63 1zm32 0zm44 0zm-28 1zm1 0zm80 0zm-123 1zm5 0zm3 0zm22 0zm14 0zm3 0zm1 0zm29 0zm-40 1zm0 0zm20 0zm-85 1zm45 0zm10 0zm5 0zm2 0zm5 0zm0 0zm40 0zm40 0zm-243 1zm62 0zm68 0zm26 0zm23 0zm4 0zm32 0zm52 0zm-210 1zm41 0zm42 0zm5 0zm13 0zm13 0zm18 0zm26 0zm-104 1zm11 0zm25 0zm38 0zm3 0zm21 0zm20 0zm1 0zm-137 1zm18 0zm24 0zm31 0zm7 0zm18 0zm11 0zm5 0zm83 0zm-173 1zm3 0zm32 0zm19 0zm4 0zm-33 1zm29 0zm35 0zm13 0zm-66 1zm7 0zm14 0zm16 0zm59 0zm31 0zm6 0zm-365 1zm194 0zm5 0zm5 0zm19 0zm2 0zm38 0zm7 0zm48 0zm-103 1zm35 0zm17 0zm-48 1zm9 0zm19 0zm3 0zm2 0zm-28 1zm6 0zm5 0zm20 1zm19 0zm3 0zm-93 1zm61 0zm10 0zm1 0zm9 0zm-62 1zm14 0zm33 0zm6 0zm21 0zm-73 1zm26 0zm21 0zm10 0zm68 0zm-172 1zm38 0zm23 0zm14 0zm7 0zm1 0zm6 0zm27 0zm27 0zm16 0zm-94 1zm11 0zm18 0zm24 0zm11 0zm10 0zm-113 1zm18 0zm74 0zm-79 1zm17 0zm6 0zm8 0zm5 0zm-44 1zm11 0zm30 0zm12 0zm-74 1zm13 0zm30 0zm69 0zm-94 1zm45 0zm35 0zm19 0zm67 0zm-142 1zm6 0zm0 0zm22 0zm24 0zm11 0zm70 0zm11 0zm18 0zm-281 1zm68 0zm59 0zm17 0zm3 0zm31 0zm-5 1zm21 0zm-84 1zm23 0zm69 0zm-78 1zm50 0zm29 0zm-162 1zm12 0zm41 0zm21 0zm13 0zm93 0zm-108 1zm64 0zm8 0zm-109 1zm8 0zm23 0zm2 0zm26 0zm3 0zm36 0zm4 0zm9 0zm28 0zm-184 1zm100 0zm-48 1zm7 0zm7 0zm19 0zm46 0zm11 0zm28 0zm16 0zm7 0zm-114 1zm2 0zm2 0zm47 0zm-61 1zm22 0zm7 0zm11 0zm18 0zm23 0zm36 0zm-192 1zm24 1zm33 0zm59 0zm2 0zm3 0zm3 0zm-48 1zm13 0zm6 0zm13 0zm11 0zm19 0zm4 0zm46 0zm-87 1zm21 0zm35 0zm-110 1zm67 0zm54 0zm5 0zm-28 1zm-125 1zm6 0zm98 0zm44 0zm-106 1zm56 0zm2 0zm16 0zm-52 1zm13 0zm2 0zm7 0zm8 0zm12 0zm71 0zm-113 1zm2 0zm6 0zm18 0zm6 0zm38 0zm16 0zm-89 1zm11 0zm19 0zm28 0zm-62 1zm17 0zm9 0zm3 0zm21 0zm121 0zm-256 1zm77 0zm13 0zm0 0zm7 0zm6 0zm-68 1zm21 0zm67 0zm8 0zm6 0zm1 0zm39 0zm-116 1zm29 0zm13 0zm70 0zm3 0zm12 0zm30 0zm-147 1zm27 0zm30 0zm28 0zm13 0zm-87 1zm3 1zm15 0zm35 0zm20 0zm-198 1zm147 0zm17 0zm103 0zm-284 1zm147 0zm22 0zm32 0zm34 0zm-198 1zm79 0zm63 0zm3 0zm22 0zm-167 1zm87 0zm6 0zm2 0zm17 0zm65 0zm4 0zm-154 1zm105 0zm4 0zm-96 1zm56 0zm4 0zm45 0zm30 0zm-133 1zm47 0zm4 0zm3 0zm26 0zm21 0zm0 0zm-149 1zm128 0zm49 0zm39 0zm-162 1zm25 0zm14 0zm27 0zm3 0zm25 0zm3 0zm11 0zm29 0zm-169 1zm90 0zm-41 1zm7 0zm24 0zm17 0zm2 0zm20 0zm30 0zm-198 1zm108 0zm52 0zm-119 1zm88 0zm1 0zm10 0zm41 0zm-105 1zm45 0zm7 0zm6 0zm34 0zm29 0zm-167 1zm102 0zm23 0zm18 0zm-105 1zm38 0zm167 0zm52 0zm-233 1zm85 0zm5 0zm2 0zm4 0zm-115 1zm25 0zm50 0zm80 0zm16 0zm-138 1zm25 0zm27 0zm22 0zm-43 1zm32 0zm3 0zm13 0zm21 0zm8 0zm55 0zm-212 1zm25 1zm37 0zm20 0zm11 0zm-94 1zm35 1zm29 0zm5 0zm4 0zm5 0zm24 0zm20 0zm81 0zm-120 1zm51 0zm35 0zm-98 1zm2 0zm-16 1zm5 0zm3 0zm11 0zm3 0zm5 0zm63 0zm-102 1zm32 0zm10 0zm68 0zm-118 1zm25 0zm137 0zm59 0zm-200 1zm7 0zm8 0zm4 0zm10 0zm17 0zm5 0zm7 0zm1 0zm23 0zm-87 1zm31 0zm-151 1zm137 0zm2 0zm50 0zm9 0zm25 0zm-64 1zm-137 1zm55 0zm56 0zm23 0zm183 1zm-296 1zm25 0zm59 0zm18 0zm20 1zm24 0zm2 0zm13 0zm53 1zm29 0zm-115 1zm22 0zm23 0zm-115 1zm50 0zm9 0zm8 0zm61 0zm-154 1zm19 0zm37 0zm-31 1zm14 0zm53 0zm6 0zm53 0zm-140 1zm26 0zm22 0zm14 0zm-84 1zm78 0zm41 0zm-65 1zm21 0zm37 0zm49 0zm73 0zm-201 1zm33 0zm28 1zm-93 1zm41 0zm-34 1zm30 0zm10 0zm27 0zm-80 1zm127 0zm-72 2zm13 0zm30 0zm29 0zm-37 1zm9 0zm37 1zm-106 1zm87 0zm1 0zm-51 1zm65 1zm-176 1zm124 0zm-27 2zm81 1zm-172 1zm92 0zm-30 1zm179 0zm-169 2zm14 1zm-24 1zm11 1zm30 0zm41 1zm-66 1zm41 1zm80 0zm-149 1zm67 0zm3 0zm35 0zm-96 1zm15 0zm1 0zm-18 1zm137 0zm-168 1zm88 2zm-33 2zm6 0zm208 0zm-237 4zm170 0zm-74 1zm29 2zm1 1zm38 1zm-121 1zm1 0zm3 0zm74 0zm-209 1zm46 0zm10 0zm39 0zm10 0zm-3 1zm-29 1zm147 0zm-162 2zm55 2zm35 0zm-105 1zm8 0zm29 0zm11 0zm1 1zm-12 2zm73 0zm26 0zm-42 1zm39 1zm-107 1zm40 0zm38 0zm-57 1zm18 0zm3 0zm-88 1zm16 0zm53 1zm-57 1zm28 0zm90 1zm3 0zm-47 2zm14 1zm-59 1zm18 0zm-9 1zm-15 2zm102 2zm-90 4zm13 0zm-22 1zm11 4zm12 0zm-65 1zm3 0zm-19 4zm47 0zm4 2zm5 0zm160 1zm-129 4zm40 1zm30 0zm-60 2zm20 1zm-91 2zm53 1zm-91 1zm131 0zm5 1zm-17 3zm-102 1zm76 1zm36 1zm-45 1zm2 1zm44 2zm43 2zm-153 3zm123 1zm-69 1zm31 2zm-91 3zm108 0zm-27 3zm-37 2zm29 0zm34 0zm-77 2zm8 6zm65 6zm68 1zm-144 1zm65 3zm20 3zm90 1zm-213 4zm54 1zm-37 2zm97 5zm-55 1zm7 2zm-2 1zm113 13zm-78 5zm-58 14zm-7 5zm-21 4z"/><path d="M470 12zm104 6zm-101 3zm28 0zm160 0zm-238 7zm159 0zm50 0zm-19 1zm-117 1zm119 0zm-211 3zm100 0zm69 1zm-150 2zm11 0zm178 0zm-49 1zm18 0zm23 2zm-28 1zm20 0zm-13 1zm-117 1zm24 2zm48 0zm81 0zm-11 1zm-32 4zm-50 2zm-62 1zm91 0zm47 2zm-68 1zm-58 1zm50 0zm40 0zm-99 2zm63 0zm16 0zm1 1zm2 0zm9 0zm10 0zm16 2zm18 1zm10 0zm-103 1zm8 0zm85 3zm2 0zm-164 1zm94 0zm24 0zm21 0zm-36 1zm21 0zm7 1zm27 0zm-32 1zm-194 1zm239 0zm2 0zm-64 2zm-5 1zm40 0zm-224 1zm219 1zm-78 1zm132 0zm-46 1zm-57 1zm25 0zm15 0zm-55 3zm17 0zm24 0zm-6 1zm-57 1zm53 0zm-2 1zm-46 1zm78 0zm-43 1zm-56 1zm81 0zm50 0zm-159 1zm55 0zm44 0zm11 0zm15 0zm17 0zm-64 1zm5 0zm23 0zm24 0zm-57 1zm38 0zm19 1zm5 0zm-54 1zm25 0zm-68 1zm93 1zm-3 1zm-116 1zm47 0zm28 0zm-28 1zm7 0zm34 0zm18 1zm-2 1zm-10 1zm13 0zm14 0zm6 0zm-31 1zm10 0zm-63 1zm33 0zm45 0zm14 0zm-102 1zm49 0zm28 0zm-44 1zm13 0zm14 0zm7 0zm18 0zm-58 1zm40 0zm6 0zm-47 1zm12 0zm7 0zm19 0zm11 0zm31 0zm-124 1zm40 0zm-79 1zm80 0zm16 0zm11 0zm35 0zm-73 1zm33 0zm27 0zm-129 1zm85 0zm4 0zm14 0zm-129 1zm52 0zm55 0zm4 0zm19 0zm4 0zm1 0zm-25 1zm8 0zm12 0zm4 0zm17 0zm6 0zm9 0zm-33 1zm-93 1zm16 0zm87 0zm16 0zm-91 1zm63 0zm11 0zm21 0zm4 0zm73 0zm-147 1zm25 0zm34 0zm2 0zm-58 1zm2 0zm24 0zm44 0zm-27 1zm7 0zm-74 1zm50 0zm7 0zm1 0zm21 0zm0 0zm6 0zm9 0zm5 0zm-43 1zm-53 1zm47 0zm12 0zm0 0zm1 0zm-15 1zm2 0zm3 0zm-24 1zm39 0zm32 0zm-91 1zm29 0zm4 0zm11 0zm25 0zm-255 1zm196 0zm13 0zm10 0zm10 0zm1 0zm4 0zm10 0zm34 0zm1 0zm-91 1zm63 0zm-100 1zm29 0zm9 0zm6 0zm3 0zm6 0zm0 0zm20 0zm14 0zm30 0zm-204 1zm117 0zm37 0zm16 0zm7 0zm-61 1zm12 0zm-45 1zm34 0zm26 0zm0 0zm11 0zm46 0zm1 0zm-27 1zm6 0zm-115 1zm61 0zm33 0zm15 0zm2 0zm21 0zm3 0zm-59 1zm7 0zm1 0zm74 0zm-100 1zm8 0zm2 0zm9 0zm5 0zm17 0zm15 0zm2 0zm9 1zm5 0zm30 0zm-249 1zm137 0zm6 0zm40 0zm9 0zm15 0zm13 0zm7 0zm16 0zm-75 1zm38 0zm4 0zm7 0zm-17 1zm-75 1zm52 0zm1 0zm17 0zm19 0zm2 0zm11 0zm-74 1zm13 0zm7 0zm17 0zm1 0zm6 0zm3 0zm2 0zm-105 1zm56 0zm38 0zm3 0zm4 0zm4 0zm3 0zm3 0zm-71 1zm37 0zm7 0zm28 0zm25 0zm-231 1zm20 0zm130 0zm5 0zm36 0zm-81 1zm75 0zm12 0zm7 0zm-34 1zm23 0zm42 0zm19 0zm-104 1zm7 0zm4 0zm18 0zm23 0zm-75 1zm20 0zm28 0zm0 0zm20 0zm15 0zm7 0zm-158 1zm57 0zm10 0zm63 0zm18 0zm12 0zm13 0zm8 0zm2 0zm-227 1zm132 0zm6 0zm24 0zm43 0zm-154 1zm77 0zm15 0zm8 0zm16 0zm5 0zm28 0zm17 0zm-179 1zm13 0zm108 0zm14 0zm2 0zm8 0zm5 0zm14 0zm-164 1zm2 0zm90 0zm11 0zm2 0zm10 0zm13 0zm6 0zm14 0zm3 0zm-84 1zm11 0zm3 0zm6 0zm12 0zm10 0zm35 0zm-110 1zm59 0zm2 0zm24 0zm5 0zm2 0zm14 0zm-80 1zm18 0zm23 0zm33 0zm11 0zm18 0zm12 0zm-163 1zm83 0zm1 0zm7 0zm9 0zm5 0zm3 0zm-47 1zm14 0zm31 0zm1 0zm7 0zm8 0zm90 0zm-327 1zm17 0zm139 0zm2 0zm11 0zm7 0zm21 0zm17 0zm12 0zm23 0zm9 0zm19 0zm-136 1zm19 0zm12 0zm1 0zm38 0zm10 0zm2 0zm2 0zm1 0zm13 0zm2 0zm9 0zm-82 1zm22 0zm10 0zm3 0zm4 0zm33 0zm1 0zm-107 1zm5 0zm37 0zm11 0zm0 0zm19 0zm10 0zm7 0zm5 0zm6 0zm32 0zm9 0zm-110 1zm46 0zm32 0zm8 0zm6 0zm7 0zm0 0zm-110 1zm0 0zm1 0zm15 0zm8 0zm29 0zm0 0zm1 0zm4 0zm10 0zm28 0zm29 0zm-119 1zm4 0zm32 0zm3 0zm8 0zm9 0zm0 0zm32 0zm3 0zm7 1zm5 0zm8 0zm9 0zm8 0zm-78 1zm22 0zm4 0zm10 0zm8 0zm14 0zm2 0zm-124 1zm6 0zm19 0zm36 0zm24 0zm1 0zm7 0zm92 0zm-100 1zm2 0zm40 0zm-110 1zm12 0zm14 0zm1 0zm1 0zm4 0zm39 0zm3 0zm0 0zm37 0zm11 0zm-357 1zm206 0zm39 0zm14 0zm11 0zm27 0zm4 0zm20 0zm7 0zm3 0zm1 0zm7 0zm-97 1zm25 0zm4 0zm8 0zm14 0zm1 0zm0 0zm13 0zm1 0zm1 0zm2 0zm21 0zm-101 1zm17 0zm23 0zm35 0zm17 0zm3 0zm2 0zm0 0zm8 0zm-142 1zm43 0zm24 0zm1 0zm25 0zm7 0zm6 0zm3 0zm2 0zm8 0zm4 0zm1 0zm2 0zm-71 1zm13 0zm1 0zm5 0zm4 0zm50 0zm6 0zm2 0zm3 0zm29 0zm-141 1zm7 0zm9 0zm13 0zm2 0zm19 0zm25 0zm6 0zm-90 1zm23 0zm13 0zm26 0zm17 0zm0 0zm31 0zm11 0zm6 0zm-87 1zm19 0zm2 0zm25 0zm0 0zm1 0zm5 0zm24 0zm-258 1zm139 0zm12 0zm28 0zm0 0zm16 0zm19 0zm17 0zm-67 1zm23 0zm0 0zm26 0zm6 0zm18 0zm3 0zm32 0zm-130 1zm25 0zm13 0zm21 0zm9 0zm1 0zm22 0zm16 0zm-85 1zm16 0zm23 0zm5 0zm3 0zm9 0zm4 0zm3 0zm-68 1zm25 0zm1 0zm4 0zm3 0zm12 0zm31 0zm2 0zm14 0zm1 0zm18 0zm-94 1zm18 0zm4 0zm5 0zm16 0zm2 0zm9 0zm-41 1zm5 0zm20 0zm3 0zm4 0zm8 0zm13 0zm2 0zm57 0zm-129 1zm32 0zm19 0zm0 0zm8 0zm6 0zm11 0zm18 0zm-96 1zm9 0zm10 0zm21 0zm13 0zm1 0zm10 0zm2 0zm11 0zm-108 1zm29 0zm10 0zm6 0zm6 0zm21 0zm13 0zm-104 1zm14 0zm51 0zm33 0zm-73 1zm20 0zm16 0zm33 0zm-63 1zm25 0zm9 0zm5 0zm19 0zm14 0zm8 0zm18 0zm5 0zm-49 1zm19 0zm2 0zm28 0zm-130 1zm83 0zm-82 1zm36 0zm3 0zm10 0zm11 0zm0 0zm3 0zm1 0zm26 0zm-47 1zm86 0zm11 0zm-122 1zm8 0zm16 0zm17 0zm11 0zm10 0zm14 0zm6 0zm-159 1zm105 0zm5 0zm19 0zm10 0zm1 0zm2 0zm24 0zm5 0zm-91 1zm2 0zm12 0zm30 0zm7 0zm2 0zm2 0zm1 0zm5 0zm8 0zm3 0zm40 0zm-102 1zm53 0zm2 0zm8 0zm8 0zm19 0zm-135 1zm34 0zm42 0zm0 0zm11 0zm9 0zm31 0zm25 0zm-165 1zm47 0zm4 0zm14 0zm5 0zm38 0zm1 0zm3 0zm41 0zm4 0zm-102 1zm15 0zm4 0zm5 0zm4 0zm5 0zm6 0zm9 0zm2 0zm3 0zm13 0zm15 0zm7 0zm-89 1zm47 0zm6 0zm8 0zm8 0zm34 0zm-100 1zm36 0zm13 0zm7 0zm13 0zm0 0zm-59 1zm5 0zm21 0zm45 0zm2 0zm8 0zm0 0zm15 0zm-251 1zm109 0zm22 0zm1 0zm25 0zm1 0zm6 0zm8 0zm6 0zm30 0zm23 0zm15 0zm-89 1zm11 0zm5 0zm20 0zm18 0zm38 0zm-173 1zm3 0zm4 0zm40 0zm1 0zm11 0zm20 0zm3 0zm8 0zm4 0zm13 0zm10 0zm10 0zm15 0zm0 0zm-121 1zm36 0zm25 0zm7 0zm13 0zm19 0zm41 0zm-129 1zm5 0zm27 0zm22 0zm2 0zm10 0zm8 0zm17 0zm5 0zm1 0zm12 0zm11 0zm-146 1zm31 0zm10 0zm28 0zm5 0zm3 0zm18 0zm7 0zm4 0zm24 0zm9 0zm-67 1zm6 0zm6 0zm7 0zm4 0zm1 0zm9 0zm2 0zm26 0zm15 0zm13 0zm-138 1zm18 0zm38 0zm4 0zm3 0zm25 0zm6 0zm12 0zm7 0zm6 0zm-152 1zm32 0zm7 0zm6 0zm26 0zm3 0zm15 0zm3 0zm17 0zm16 0zm1 0zm9 0zm-84 1zm6 0zm10 0zm17 0zm3 0zm14 0zm26 0zm6 0zm4 0zm2 0zm-163 1zm32 0zm76 0zm8 0zm-172 1zm80 0zm22 0zm46 0zm4 0zm1 0zm44 0zm19 0zm42 0zm48 0zm-191 1zm38 0zm36 0zm4 0zm13 0zm3 0zm58 0zm-210 1zm72 0zm0 0zm13 0zm23 0zm36 0zm-55 1zm19 0zm7 0zm18 0zm1 0zm-72 1zm25 0zm34 0zm18 0zm-100 1zm27 0zm43 0zm1 0zm32 0zm2 0zm22 0zm2 0zm3 0zm3 0zm27 0zm-171 1zm25 0zm56 0zm22 0zm18 0zm-162 1zm19 0zm35 0zm38 0zm2 0zm31 0zm6 0zm2 0zm21 0zm40 0zm-95 1zm27 0zm7 0zm4 0zm1 0zm7 0zm7 0zm25 0zm46 0zm-126 1zm6 0zm6 0zm6 0zm18 0zm23 0zm-72 1zm1 0zm14 0zm8 0zm7 0zm14 0zm10 0zm21 0zm2 0zm1 0zm8 0zm-153 1zm63 0zm11 0zm20 0zm15 0zm41 0zm45 0zm-185 1zm58 0zm13 0zm16 0zm3 0zm9 0zm5 0zm3 0zm8 0zm7 0zm5 0zm34 0zm-98 1zm28 0zm7 0zm12 0zm4 0zm28 0zm11 0zm-203 1zm38 0zm32 0zm52 0zm33 0zm17 0zm2 0zm-128 1zm30 0zm30 0zm6 0zm31 0zm10 0zm21 0zm10 0zm-151 1zm77 0zm11 0zm17 0zm4 0zm2 0zm4 0zm6 0zm6 0zm4 0zm1 0zm-188 1zm131 0zm8 0zm4 0zm0 0zm6 0zm15 0zm9 0zm35 0zm13 0zm-164 1zm22 0zm37 0zm60 0zm-132 1zm39 0zm15 0zm48 0zm3 0zm8 0zm2 0zm6 0zm19 0zm7 0zm24 0zm-193 1zm64 0zm60 0zm14 0zm19 0zm11 0zm-95 1zm17 0zm8 0zm6 0zm21 0zm17 0zm6 0zm5 0zm2 0zm23 0zm-126 1zm26 0zm6 0zm25 0zm7 0zm84 0zm-159 1zm32 0zm58 0zm96 0zm-222 1zm99 0zm4 0zm9 0zm13 0zm21 0zm24 0zm6 0zm33 0zm-157 1zm114 0zm9 0zm9 0zm-101 1zm40 0zm7 0zm80 0zm-107 1zm28 0zm47 0zm-185 1zm70 0zm12 0zm6 0zm0 0zm12 0zm11 0zm14 0zm5 0zm4 0zm6 0zm10 0zm21 0zm14 0zm-123 1zm6 0zm24 0zm5 0zm2 0zm4 0zm3 0zm52 0zm5 0zm12 0zm3 0zm-95 1zm44 0zm48 0zm4 0zm4 0zm-107 1zm24 0zm2 0zm4 0zm29 0zm1 0zm21 0zm14 0zm84 0zm-262 1zm40 0zm8 0zm54 0zm4 0zm0 0zm20 0zm5 0zm9 0zm2 0zm2 0zm9 0zm52 0zm-142 1zm75 0zm1 0zm8 0zm20 0zm2 0zm-55 1zm9 0zm44 0zm23 0zm23 0zm-143 1zm45 0zm1 0zm16 0zm25 0zm11 0zm-102 1zm41 0zm5 0zm10 0zm5 0zm1 0zm29 0zm43 0zm-130 1zm8 0zm32 0zm30 0zm32 0zm-107 1zm54 0zm4 0zm8 0zm5 0zm0 0zm45 0zm-167 1zm51 0zm25 0zm51 0zm3 0zm6 0zm19 0zm-101 1zm20 0zm11 0zm13 0zm27 0zm31 0zm9 0zm-95 1zm13 0zm10 0zm30 0zm0 0zm96 0zm-133 1zm27 0zm34 0zm18 0zm3 0zm25 0zm-250 1zm155 0zm-96 1zm48 0zm6 0zm20 0zm19 0zm47 0zm4 0zm17 0zm-162 1zm84 0zm23 0zm3 0zm2 0zm12 0zm8 0zm18 0zm4 0zm-155 1zm51 0zm23 0zm14 0zm23 0zm6 0zm6 0zm6 0zm55 0zm4 0zm-106 1zm18 0zm14 0zm16 0zm4 0zm13 0zm23 0zm15 0zm30 0zm-159 1zm75 0zm19 0zm-100 1zm25 0zm24 0zm4 0zm3 0zm22 0zm9 0zm21 0zm14 0zm59 0zm-171 1zm73 0zm9 0zm26 0zm2 0zm-83 1zm30 0zm1 0zm19 0zm33 0zm-123 1zm8 0zm25 0zm22 0zm8 0zm0 0zm37 0zm23 0zm39 0zm-139 1zm23 0zm4 0zm10 0zm13 0zm47 0zm7 0zm-287 1zm152 0zm38 0zm7 0zm26 0zm8 0zm56 0zm-106 1zm12 0zm15 0zm16 0zm26 0zm5 0zm2 0zm47 0zm-171 1zm78 0zm5 0zm40 0zm-116 1zm75 0zm5 0zm85 0zm-158 1zm59 0zm62 0zm10 0zm38 0zm0 0zm4 0zm-168 1zm13 0zm29 0zm3 0zm1 0zm30 0zm2 0zm3 0zm-103 1zm23 0zm23 0zm33 0zm12 0zm28 0zm60 0zm-124 1zm10 0zm13 0zm1 0zm12 0zm2 0zm1 0zm40 0zm-115 1zm74 0zm9 0zm29 0zm103 0zm-212 1zm43 0zm25 0zm-32 1zm37 0zm11 0zm1 0zm25 0zm27 0zm-124 1zm16 0zm15 0zm31 0zm8 0zm1 0zm25 0zm10 0zm-110 1zm69 0zm1 0zm2 0zm22 0zm17 0zm-96 1zm26 0zm32 0zm0 0zm62 0zm-178 1zm45 0zm17 0zm18 0zm49 0zm-137 1zm22 0zm7 0zm33 0zm34 0zm2 0zm1 0zm6 0zm6 0zm1 0zm32 0zm-38 1zm1 0zm5 0zm28 0zm15 0zm61 0zm-192 1zm71 0zm6 0zm4 0zm1 0zm3 0zm7 0zm19 0zm28 0zm69 0zm-146 1zm52 0zm-141 1zm27 0zm8 0zm11 0zm11 0zm21 0zm63 0zm10 0zm-59 1zm-103 1zm9 0zm56 0zm25 0zm4 0zm4 0zm1 0zm43 0zm-98 1zm17 0zm31 0zm18 0zm21 0zm0 0zm2 0zm110 0zm-307 1zm128 0zm7 0zm17 0zm6 0zm40 0zm17 0zm-160 1zm54 0zm29 0zm19 0zm3 0zm8 0zm12 0zm12 0zm33 0zm-104 2zm23 0zm35 0zm146 0zm-171 1zm35 0zm-67 1zm11 0zm1 0zm28 0zm5 0zm5 0zm12 0zm2 0zm4 0zm11 0zm-115 1zm39 0zm16 0zm11 0zm35 0zm8 0zm2 0zm10 0zm-148 1zm15 0zm82 0zm8 0zm45 0zm6 0zm41 0zm-105 1zm14 0zm16 0zm21 0zm3 0zm-94 1zm26 0zm29 0zm3 0zm17 0zm21 0zm40 0zm-129 1zm23 0zm12 0zm16 0zm50 0zm54 0zm-156 1zm12 0zm36 0zm14 0zm21 0zm12 0zm15 0zm5 0zm-97 1zm30 0zm-133 1zm108 0zm15 0zm15 0zm11 0zm12 0zm-111 1zm79 0zm10 0zm7 0zm5 0zm-26 1zm22 0zm-41 1zm74 0zm32 0zm-116 1zm11 0zm3 0zm19 0zm33 0zm3 0zm84 0zm-186 1zm62 0zm9 0zm5 0zm11 0zm34 0zm9 0zm10 0zm-143 1zm83 0zm3 0zm2 0zm29 0zm-113 1zm10 0zm10 0zm16 1zm156 0zm-194 1zm8 0zm44 0zm14 0zm5 0zm30 0zm-67 1zm7 0zm14 0zm49 0zm20 0zm-57 1zm60 0zm92 0zm-203 1zm5 0zm12 0zm7 0zm12 0zm21 0zm21 0zm1 0zm7 0zm-161 1zm119 0zm5 0zm11 0zm5 0zm1 0zm21 0zm-90 1zm41 0zm21 0zm6 0zm11 0zm2 0zm-77 1zm58 0zm18 0zm3 0zm-82 1zm6 0zm46 0zm28 0zm-6 1zm-114 1zm9 0zm23 0zm72 0zm6 0zm-49 1zm42 0zm-85 1zm31 0zm70 0zm14 0zm-83 1zm7 0zm56 0zm38 0zm34 0zm-110 1zm23 0zm7 0zm-106 1zm67 0zm54 0zm59 0zm-163 1zm12 0zm46 0zm11 0zm14 0zm-50 1zm36 0zm19 0zm39 0zm35 0zm-175 1zm3 0zm32 0zm11 0zm4 0zm1 0zm6 0zm8 0zm24 0zm16 0zm33 0zm-106 1zm30 0zm114 0zm-121 1zm20 0zm-46 1zm36 0zm9 0zm17 0zm27 0zm-34 1zm-68 1zm20 0zm11 0zm16 0zm8 0zm-89 1zm88 0zm5 0zm3 0zm148 0zm-187 1zm2 0zm19 0zm20 0zm19 0zm66 0zm-259 1zm82 0zm73 0zm-96 1zm60 0zm4 0zm25 0zm11 0zm19 0zm9 0zm-84 1zm-174 1zm105 0zm20 0zm69 0zm76 0zm2 0zm76 0zm-136 1zm24 0zm19 0zm21 0zm-25 1zm18 0zm-181 1zm73 0zm4 0zm63 0zm3 0zm-158 1zm95 0zm19 0zm23 0zm58 0zm79 0zm-205 1zm36 0zm9 0zm8 0zm8 0zm4 0zm5 0zm5 0zm15 0zm3 0zm-46 1zm20 0zm37 0zm-115 1zm42 0zm5 0zm14 0zm21 0zm4 0zm8 0zm6 0zm31 1zm93 0zm-190 1zm47 0zm-24 1zm11 1zm8 0zm20 0zm14 0zm22 0zm30 0zm-97 1zm7 0zm16 0zm50 0zm1 0zm19 0zm-161 1zm113 0zm47 0zm-171 1zm29 0zm29 0zm12 0zm49 0zm57 0zm-215 2zm70 0zm105 0zm3 0zm-51 1zm-105 1zm49 0zm42 0zm0 0zm19 0zm0 0zm112 0zm-206 1zm53 0zm33 0zm84 0zm-139 1zm99 0zm112 0zm-181 1zm17 0zm47 0zm13 0zm-100 1zm20 0zm47 1zm-73 1zm66 0zm22 0zm-111 1zm51 0zm12 0zm68 0zm-88 1zm15 0zm13 0zm11 0zm3 0zm63 0zm-95 1zm48 1zm117 0zm-228 1zm21 0zm58 0zm66 0zm-65 1zm0 0zm15 1zm7 0zm7 0zm27 0zm66 1zm-144 1zm123 0zm-221 1zm57 0zm62 0zm-53 1zm43 0zm40 0zm26 0zm-130 2zm194 0zm-209 1zm61 0zm34 0zm6 0zm20 0zm7 0zm-41 1zm-109 1zm47 0zm28 0zm20 0zm21 0zm52 0zm40 0zm-142 1zm12 0zm42 0zm-172 1zm148 0zm9 0zm29 0zm28 1zm-132 1zm61 0zm8 3zm24 1zm8 0zm7 0zm-46 1zm-86 3zm22 0zm122 0zm-119 1zm27 2zm39 0zm-21 1zm84 2zm-45 2zm55 0zm-151 1zm8 0zm24 0zm32 0zm222 0zm-288 1zm41 0zm19 0zm77 0zm-18 1zm-205 1zm313 0zm-157 1zm12 0zm181 0zm-238 2zm91 0zm26 0zm-87 1zm61 0zm88 0zm78 0zm-243 1zm86 0zm-141 1zm142 0zm73 1zm-181 1zm123 0zm14 0zm-38 1zm-8 1zm19 1zm27 1zm-138 1zm9 0zm51 0zm28 0zm-26 1zm-8 1zm174 0zm-178 1zm0 0zm67 0zm26 0zm-83 1zm-46 1zm46 0zm56 0zm-24 1zm-71 1zm4 0zm31 0zm25 0zm-67 1zm40 0zm7 0zm46 0zm-212 1zm166 0zm3 0zm-20 1zm18 1zm12 0zm110 0zm44 0zm-171 1zm-6 1zm38 1zm23 1zm31 0zm-129 3zm14 0zm55 0zm-21 1zm9 0zm-68 1zm26 1zm15 0zm31 1zm-44 1zm26 0zm13 0zm-35 1zm-56 1zm134 0zm1 1zm-204 1zm45 0zm45 0zm56 0zm15 0zm-79 1zm30 0zm-10 1zm15 0zm124 0zm77 0zm-190 2zm21 0zm-64 1zm25 0zm-52 2zm152 1zm74 1zm-188 1zm21 0zm-54 1zm4 1zm187 2zm-318 1zm180 1zm-25 2zm112 0zm18 5zm-127 1zm108 3zm-123 2zm90 0zm-110 1zm34 1zm29 5zm-64 1zm97 0zm-200 2zm161 1zm8 0zm78 1zm-160 2zm54 1zm70 3zm-75 3zm105 0zm-88 3zm24 2zm-125 2zm90 2zm93 0zm5 2zm-56 2zm96 0zm-129 4zm230 0zm-281 15zm106 1zm-217 1zm255 6zm-111 4zm-11 1zm-31 1zm75 2zm147 0zm-177 3zm30 3zm30 31zm-198 7zm-26 2z"/><path d="M393 10zm212 2zm-166 2zm103 2zm5 0zm-36 1zm105 4zm10 0zm-158 7zm156 4zm-65 2zm-21 1zm53 1zm-38 3zm-181 3zm189 0zm12 0zm-161 3zm157 1zm-122 2zm75 0zm-70 2zm124 1zm-20 1zm8 2zm-6 5zm22 0zm-58 1zm65 0zm-31 1zm37 0zm-74 1zm9 0zm3 0zm53 0zm-113 2zm1 1zm122 0zm-39 2zm-4 1zm31 0zm-72 1zm44 0zm4 0zm-91 2zm109 0zm9 0zm59 0zm-212 2zm16 2zm108 1zm7 1zm-42 1zm-63 1zm109 0zm4 0zm31 0zm-67 1zm32 1zm-148 1zm112 0zm8 0zm12 0zm45 0zm-37 1zm32 0zm-74 1zm54 0zm-169 1zm106 0zm19 0zm12 0zm46 0zm-60 2zm-71 2zm-57 1zm101 0zm23 0zm-56 2zm95 0zm9 0zm6 1zm1 0zm37 0zm-140 1zm43 0zm24 1zm13 0zm29 1zm-34 1zm7 0zm-87 1zm52 0zm41 0zm13 0zm20 0zm-151 1zm60 0zm51 0zm8 0zm-32 1zm9 0zm21 0zm5 0zm-110 1zm44 0zm10 0zm33 0zm6 0zm52 0zm12 0zm-148 1zm3 0zm41 0zm12 0zm46 0zm-15 1zm-93 1zm99 0zm40 0zm24 0zm-70 1zm4 0zm13 0zm-67 1zm19 0zm71 0zm-173 1zm146 0zm-55 1zm30 0zm19 0zm26 0zm32 0zm-155 1zm82 0zm6 0zm18 0zm-26 1zm30 0zm-13 1zm2 0zm-96 1zm64 0zm2 0zm1 0zm30 0zm1 0zm6 0zm-11 1zm-37 1zm1 0zm38 0zm33 0zm-73 1zm16 0zm1 0zm23 0zm-57 1zm5 0zm19 0zm1 0zm19 0zm36 0zm-94 1zm36 0zm3 0zm8 0zm7 0zm10 0zm1 0zm13 0zm6 0zm-171 1zm9 0zm5 0zm121 0zm6 0zm5 0zm2 0zm1 0zm20 0zm3 0zm4 0zm18 0zm2 0zm-156 1zm64 0zm39 0zm7 0zm15 0zm2 0zm7 0zm-44 1zm7 0zm6 0zm0 0zm35 0zm-60 1zm33 0zm15 0zm-77 1zm36 0zm11 0zm25 0zm-39 1zm22 0zm8 0zm2 0zm4 0zm0 0zm9 0zm-161 1zm71 0zm59 0zm8 0zm4 0zm50 0zm-135 1zm58 0zm5 0zm5 0zm17 0zm14 0zm4 0zm-35 1zm2 0zm4 0zm7 0zm17 0zm-147 1zm96 0zm15 0zm19 0zm12 0zm28 0zm-74 1zm0 0zm14 0zm10 0zm6 0zm0 0zm7 0zm14 0zm11 0zm2 0zm-204 1zm69 0zm73 0zm7 0zm1 0zm46 0zm27 0zm-106 1zm38 0zm12 0zm32 0zm-261 1zm149 0zm63 0zm29 0zm18 0zm4 0zm-57 1zm2 0zm4 0zm5 0zm12 0zm3 0zm29 0zm-66 1zm23 0zm5 0zm20 0zm20 0zm1 0zm-79 1zm0 0zm11 0zm17 0zm16 0zm0 0zm2 0zm3 0zm2 0zm25 0zm4 0zm-33 1zm15 0zm31 0zm-40 1zm5 0zm26 0zm-85 1zm3 0zm10 0zm1 0zm5 0zm1 0zm10 0zm3 0zm15 0zm18 0zm15 0zm-110 1zm1 0zm39 0zm8 0zm20 0zm0 0zm16 0zm15 0zm1 0zm12 0zm-86 1zm5 0zm8 0zm30 0zm17 0zm9 0zm4 0zm-203 1zm113 0zm33 0zm10 0zm17 0zm7 0zm18 0zm17 0zm-221 1zm63 0zm84 0zm10 0zm6 0zm5 0zm0 0zm1 0zm27 0zm5 0zm0 0zm-126 1zm10 0zm48 0zm11 0zm28 0zm10 0zm22 0zm14 0zm-169 1zm80 0zm42 0zm13 0zm15 0zm9 0zm-178 1zm87 0zm8 0zm25 0zm26 0zm19 0zm35 0zm-81 1zm1 0zm3 0zm3 0zm25 0zm4 0zm2 0zm5 0zm6 0zm1 0zm22 0zm-67 1zm11 0zm3 0zm74 0zm-112 1zm16 0zm12 0zm5 0zm3 0zm0 0zm10 0zm13 0zm3 0zm15 0zm5 0zm21 0zm-110 1zm37 0zm39 0zm23 0zm13 0zm-165 1zm82 0zm14 0zm0 0zm8 0zm10 0zm2 0zm21 0zm-275 1zm138 0zm35 0zm11 0zm33 0zm3 0zm6 0zm14 0zm5 0zm14 0zm10 0zm-223 1zm171 0zm15 0zm9 0zm2 0zm3 1zm8 0zm0 0zm3 0zm14 0zm10 0zm-127 1zm20 0zm10 0zm38 0zm8 0zm14 0zm4 0zm3 0zm11 0zm2 0zm3 0zm-43 1zm4 0zm4 0zm4 0zm0 0zm8 0zm-88 1zm46 0zm8 0zm18 0zm3 0zm1 0zm15 0zm23 0zm-140 1zm61 0zm12 0zm10 0zm10 0zm12 0zm31 0zm4 0zm-239 1zm165 0zm8 0zm18 0zm7 0zm22 0zm8 0zm8 0zm4 0zm-41 1zm36 0zm9 0zm-85 1zm31 0zm31 0zm18 0zm-130 1zm38 0zm16 0zm10 0zm26 0zm11 0zm18 0zm6 0zm40 0zm-144 1zm58 0zm11 0zm0 0zm4 0zm8 0zm14 0zm17 0zm-64 1zm21 0zm1 0zm4 0zm17 0zm8 0zm-52 1zm0 0zm58 0zm1 0zm10 0zm7 0zm10 0zm-92 1zm33 0zm1 0zm2 0zm5 0zm3 0zm-107 1zm29 0zm54 0zm7 0zm16 0zm21 0zm-130 1zm22 0zm22 0zm3 0zm15 0zm21 0zm4 0zm27 0zm15 0zm17 0zm-244 1zm195 0zm4 0zm6 0zm-45 1zm21 0zm6 0zm3 0zm1 0zm2 0zm15 0zm8 0zm16 0zm-173 1zm97 0zm15 0zm38 0zm6 0zm4 0zm3 0zm-110 1zm41 0zm10 0zm27 0zm1 0zm14 0zm17 0zm6 0zm-48 1zm16 0zm39 0zm1 0zm2 0zm-156 1zm20 0zm35 0zm18 0zm7 0zm28 0zm3 0zm1 0zm1 0zm9 0zm1 0zm3 0zm-58 1zm4 0zm3 0zm2 0zm17 0zm42 0zm4 0zm1 0zm30 0zm20 0zm-285 1zm117 0zm2 0zm75 0zm21 0zm1 0zm1 0zm15 0zm3 0zm8 0zm-181 1zm61 0zm56 0zm1 0zm13 0zm2 0zm6 0zm0 0zm29 0zm-132 1zm24 0zm39 0zm16 0zm26 0zm14 0zm0 0zm1 0zm8 0zm20 0zm10 0zm-102 1zm7 0zm4 0zm18 0zm4 0zm20 0zm5 0zm5 0zm0 0zm8 0zm36 0zm-104 1zm5 0zm19 0zm24 0zm1 0zm4 0zm1 0zm4 0zm4 0zm26 0zm-103 1zm9 0zm12 0zm16 0zm20 0zm4 0zm2 0zm0 0zm11 0zm11 0zm9 0zm-84 1zm7 0zm5 0zm3 0zm10 0zm29 0zm4 0zm15 0zm-96 1zm26 0zm3 0zm21 0zm2 0zm0 0zm10 0zm8 0zm1 0zm5 0zm-50 1zm13 0zm14 0zm11 0zm2 0zm52 0zm73 0zm-160 1zm9 0zm13 0zm12 0zm2 0zm3 0zm3 0zm3 0zm14 0zm11 0zm12 0zm-107 1zm29 0zm2 0zm5 0zm3 0zm19 0zm3 0zm1 0zm43 0zm10 0zm-200 1zm114 0zm5 0zm20 0zm15 0zm10 0zm5 0zm4 0zm-198 1zm117 0zm14 0zm34 0zm2 0zm1 0zm1 0zm1 0zm7 0zm3 0zm7 0zm8 0zm27 0zm-141 1zm27 0zm29 0zm25 0zm3 0zm5 0zm6 0zm0 0zm-66 1zm41 0zm7 0zm25 0zm0 0zm3 0zm7 0zm2 0zm11 0zm35 0zm-198 1zm56 0zm4 0zm26 0zm42 0zm7 0zm0 0zm4 0zm60 0zm-135 1zm43 0zm0 0zm28 0zm3 0zm7 0zm7 0zm-32 1zm15 0zm6 0zm5 0zm-47 1zm9 0zm5 0zm8 0zm13 0zm8 0zm9 0zm-47 1zm17 0zm52 0zm-158 1zm59 0zm13 0zm0 0zm45 0zm8 0zm6 0zm12 0zm2 0zm22 0zm-140 1zm10 0zm18 0zm28 0zm3 0zm6 0zm17 0zm3 0zm4 0zm31 0zm2 0zm7 0zm13 0zm-175 1zm65 0zm4 0zm35 0zm1 0zm8 0zm5 0zm13 0zm-163 1zm122 0zm14 0zm26 0zm-48 1zm2 0zm25 0zm15 0zm11 0zm39 0zm-206 1zm51 0zm5 0zm58 0zm3 0zm3 0zm6 0zm1 0zm4 0zm9 0zm4 0zm12 0zm4 0zm9 0zm17 0zm-240 1zm139 0zm54 0zm3 0zm1 0zm3 0zm3 0zm15 0zm7 0zm15 0zm-138 1zm42 0zm4 0zm7 0zm7 0zm16 0zm17 0zm11 0zm11 0zm4 0zm5 0zm0 0zm20 0zm22 0zm-191 1zm3 0zm83 0zm1 0zm16 0zm6 0zm10 0zm14 0zm7 0zm15 0zm-118 1zm9 0zm8 0zm42 0zm98 0zm-225 1zm112 0zm1 0zm22 0zm17 0zm4 0zm10 0zm12 0zm2 0zm1 0zm1 0zm-256 1zm134 0zm25 0zm18 0zm15 0zm12 0zm7 0zm2 0zm2 0zm0 0zm1 0zm6 0zm2 0zm17 0zm9 0zm8 0zm-66 1zm18 0zm12 0zm3 0zm30 0zm23 0zm-117 1zm38 0zm17 0zm13 0zm31 0zm-167 1zm93 0zm38 0zm1 0zm14 0zm1 0zm-129 1zm29 0zm50 0zm13 0zm30 0zm4 0zm27 0zm-181 1zm80 0zm33 0zm1 0zm23 0zm4 0zm2 0zm16 0zm-217 1zm7 0zm51 0zm53 0zm8 0zm21 0zm3 0zm14 0zm4 0zm8 0zm14 0zm2 0zm8 0zm4 0zm7 0zm12 0zm15 0zm-80 1zm4 0zm48 0zm19 0zm-126 1zm61 0zm20 0zm36 0zm-64 1zm26 0zm3 0zm1 0zm13 0zm13 0zm49 0zm-108 1zm14 0zm18 0zm17 0zm3 0zm50 0zm-251 1zm103 0zm16 0zm25 0zm33 0zm33 0zm15 0zm-81 1zm8 0zm12 0zm10 0zm0 0zm11 0zm7 0zm6 0zm8 0zm11 0zm-191 1zm103 0zm97 0zm-127 1zm41 0zm16 0zm3 0zm9 0zm11 0zm2 0zm6 0zm14 0zm18 0zm1 0zm13 0zm-132 1zm73 0zm4 0zm2 0zm35 0zm26 0zm61 0zm-219 1zm12 0zm31 0zm41 0zm14 0zm15 0zm4 0zm17 0zm47 0zm-144 1zm13 0zm3 0zm3 0zm29 0zm0 0zm30 0zm1 0zm6 0zm5 0zm-230 1zm149 0zm13 0zm4 0zm28 0zm6 0zm-131 1zm104 0zm3 0zm9 0zm0 0zm5 0zm50 0zm2 0zm20 0zm10 0zm-118 1zm57 0zm5 0zm4 0zm-65 1zm42 0zm2 0zm2 0zm2 0zm20 0zm1 0zm26 0zm-126 1zm12 0zm8 0zm14 0zm22 0zm24 0zm32 0zm-65 1zm10 0zm4 0zm9 0zm10 0zm20 0zm-121 1zm27 0zm1 0zm33 0zm3 0zm24 0zm3 0zm8 0zm21 0zm52 0zm-224 1zm82 0zm45 0zm15 0zm15 0zm12 0zm8 0zm3 0zm3 0zm3 0zm-99 1zm1 0zm16 0zm20 0zm5 0zm13 0zm41 0zm2 0zm-157 1zm98 0zm11 0zm4 0zm5 0zm10 0zm1 0zm9 0zm47 0zm-131 1zm37 0zm32 0zm6 0zm6 0zm-90 1zm19 0zm24 0zm14 0zm8 0zm25 0zm10 0zm-84 1zm41 0zm8 0zm5 0zm2 0zm1 0zm1 0zm11 0zm15 0zm1 0zm43 0zm-116 1zm10 0zm9 0zm2 0zm20 0zm15 0zm23 0zm16 0zm2 0zm8 0zm-107 1zm6 0zm17 0zm5 0zm25 0zm1 0zm7 0zm11 0zm0 0zm18 0zm-68 1zm1 0zm8 0zm20 0zm2 0zm-100 1zm34 0zm13 0zm13 0zm10 0zm2 0zm8 0zm5 0zm19 0zm8 0zm15 0zm32 0zm-157 1zm41 0zm25 0zm5 0zm18 0zm5 0zm-163 1zm53 0zm98 0zm54 0zm2 0zm19 0zm-131 1zm15 0zm7 0zm29 0zm1 0zm8 0zm35 0zm-54 1zm0 0zm33 0zm2 0zm15 0zm-128 1zm98 0zm3 0zm7 0zm-102 1zm13 0zm21 0zm6 0zm22 0zm13 0zm5 0zm5 0zm3 0zm17 0zm-98 1zm1 0zm17 0zm37 0zm24 0zm7 0zm12 0zm-104 1zm29 0zm12 0zm14 0zm1 0zm4 0zm2 0zm18 0zm44 0zm-87 1zm36 0zm9 0zm8 0zm12 0zm18 0zm6 0zm-147 1zm60 0zm45 0zm38 0zm1 0zm-205 1zm76 0zm47 0zm13 0zm4 0zm40 0zm6 0zm23 0zm2 0zm10 0zm7 0zm-124 1zm31 0zm10 0zm10 0zm8 0zm15 0zm29 0zm-101 1zm14 0zm22 0zm12 0zm10 0zm34 0zm3 0zm9 0zm-109 1zm15 0zm65 0zm32 0zm27 0zm-188 1zm38 0zm21 0zm16 0zm12 0zm19 0zm3 0zm3 0zm3 0zm1 0zm11 0zm50 0zm15 0zm-188 1zm61 0zm11 0zm24 0zm15 0zm17 0zm6 0zm5 0zm15 0zm-162 1zm57 0zm14 0zm6 0zm6 0zm7 0zm28 0zm0 0zm4 0zm21 0zm44 0zm-193 1zm69 0zm10 0zm19 0zm0 0zm5 0zm19 0zm18 0zm2 0zm-110 1zm85 0zm54 0zm12 0zm-92 1zm13 0zm8 0zm5 0zm10 0zm28 0zm-84 1zm4 0zm8 0zm9 0zm35 0zm15 0zm1 1zm15 0zm-98 1zm5 0zm15 0zm14 0zm7 0zm72 0zm-155 1zm39 0zm20 0zm10 0zm26 0zm0 0zm6 0zm36 0zm6 0zm-119 1zm14 0zm17 0zm6 0zm6 0zm11 0zm40 0zm-75 1zm34 0zm26 0zm15 0zm1 0zm33 0zm-154 1zm39 0zm36 0zm95 0zm-138 1zm37 0zm37 0zm36 0zm-132 1zm57 0zm21 0zm37 0zm8 0zm-124 1zm48 0zm24 0zm4 0zm21 0zm-73 1zm22 0zm11 0zm9 0zm20 0zm13 0zm13 0zm-90 1zm21 0zm2 0zm10 0zm1 0zm8 0zm18 0zm48 0zm-161 1zm38 0zm85 0zm-74 1zm26 0zm24 0zm7 0zm3 0zm7 0zm15 0zm-145 1zm85 0zm19 0zm1 0zm7 0zm5 0zm11 0zm11 0zm79 0zm-269 1zm189 0zm-122 1zm17 0zm68 0zm22 0zm41 0zm-93 1zm11 0zm14 0zm71 0zm46 0zm-183 1zm4 0zm20 0zm9 0zm7 0zm46 0zm6 0zm21 0zm12 0zm2 0zm-79 1zm7 0zm2 0zm13 0zm11 0zm7 0zm18 0zm4 0zm51 0zm-137 1zm32 0zm7 0zm4 0zm5 0zm8 0zm26 0zm19 0zm1 0zm21 0zm-168 1zm32 0zm22 0zm16 0zm5 0zm10 0zm9 0zm43 0zm28 0zm9 0zm-107 1zm15 0zm4 0zm8 0zm9 0zm10 0zm52 0zm-156 1zm30 0zm43 0zm19 0zm2 0zm70 0zm-87 1zm6 0zm40 0zm3 0zm27 0zm7 0zm-85 1zm45 0zm27 0zm-87 1zm14 0zm0 0zm11 0zm4 0zm23 0zm-182 1zm92 0zm64 0zm107 0zm-155 1zm8 0zm26 0zm0 0zm5 0zm19 0zm77 0zm-119 1zm6 0zm12 0zm12 0zm10 0zm27 0zm1 0zm8 0zm2 0zm-107 1zm1 0zm16 0zm39 0zm17 0zm22 0zm-130 1zm25 0zm19 0zm85 0zm8 0zm8 0zm9 0zm48 0zm25 0zm-200 1zm69 0zm5 0zm15 0zm22 0zm-161 1zm113 0zm8 0zm129 0zm-180 1zm24 0zm10 0zm33 0zm2 0zm-164 1zm94 0zm19 0zm4 0zm8 0zm20 0zm7 0zm4 0zm11 0zm6 0zm16 0zm-109 1zm3 0zm12 0zm25 0zm28 1zm49 0zm27 0zm-39 1zm0 0zm-155 1zm138 0zm8 0zm-110 1zm17 0zm39 0zm3 0zm66 0zm2 0zm-159 1zm73 0zm10 0zm6 0zm39 0zm52 0zm36 0zm-163 1zm34 0zm5 0zm12 0zm8 0zm-69 1zm17 0zm44 0zm24 0zm-91 1zm5 0zm23 0zm39 0zm11 0zm15 0zm51 0zm-118 1zm5 0zm18 0zm15 0zm4 0zm12 0zm2 0zm47 0zm-93 1zm3 0zm25 0zm0 0zm5 0zm23 0zm45 0zm-195 1zm57 0zm45 0zm62 0zm102 0zm-258 1zm93 0zm13 0zm32 0zm11 0zm4 0zm40 0zm28 0zm-254 1zm22 0zm46 0zm14 0zm10 0zm4 0zm130 0zm-112 1zm11 0zm5 0zm81 0zm-108 1zm21 0zm16 0zm7 0zm4 0zm1 0zm36 0zm66 0zm-181 1zm43 0zm6 0zm1 0zm2 0zm15 0zm8 0zm1 0zm31 0zm22 0zm-128 1zm43 0zm6 0zm74 0zm16 0zm10 0zm-98 1zm5 0zm120 0zm15 0zm-134 1zm56 0zm33 0zm-177 1zm24 0zm27 0zm9 0zm12 0zm3 0zm22 0zm82 0zm-170 1zm81 0zm-91 1zm67 0zm17 0zm-82 1zm47 0zm47 0zm0 0zm15 0zm1 0zm6 0zm20 0zm37 0zm-176 1zm48 0zm12 0zm16 0zm25 0zm26 0zm14 0zm-92 1zm41 0zm13 0zm8 0zm12 0zm-46 1zm18 0zm14 0zm4 0zm25 0zm-85 1zm92 0zm8 0zm-128 1zm11 0zm19 0zm5 0zm16 0zm24 0zm1 0zm5 0zm18 0zm28 0zm-91 1zm3 0zm6 0zm5 0zm37 0zm8 0zm-14 1zm-156 1zm118 0zm33 0zm16 0zm-106 1zm19 0zm19 0zm66 0zm10 0zm26 0zm-206 1zm114 0zm17 0zm7 0zm1 0zm31 1zm30 0zm-104 1zm25 0zm7 0zm3 0zm19 0zm10 0zm16 0zm-113 1zm23 0zm39 0zm52 0zm13 0zm17 0zm-131 1zm36 0zm26 0zm3 0zm12 0zm1 0zm36 0zm9 0zm5 0zm-112 1zm2 0zm26 0zm12 1zm3 0zm12 0zm-65 1zm45 0zm18 0zm24 0zm26 0zm-151 1zm57 0zm4 0zm84 0zm4 0zm35 0zm-144 1zm28 0zm4 0zm5 0zm63 0zm-64 1zm32 0zm19 0zm29 0zm-79 1zm93 0zm20 0zm-109 1zm6 0zm23 0zm-63 1zm17 0zm15 0zm21 0zm4 0zm38 0zm42 0zm-164 1zm20 0zm0 0zm45 0zm63 0zm7 0zm-148 1zm33 0zm43 1zm11 0zm0 0zm48 0zm-129 1zm42 0zm12 0zm27 0zm69 0zm-77 1zm14 0zm33 0zm11 0zm-125 1zm51 0zm0 0zm48 1zm-134 1zm125 0zm2 0zm52 0zm-193 1zm139 0zm36 0zm-5 1zm-61 1zm1 0zm25 0zm3 0zm-50 1zm18 0zm35 0zm93 0zm20 0zm-182 1zm90 0zm-83 1zm46 0zm20 0zm75 0zm46 0zm-194 1zm42 0zm16 0zm73 0zm-167 1zm70 0zm96 0zm-147 1zm17 0zm7 0zm44 0zm5 0zm-48 1zm-50 1zm25 0zm6 1zm31 0zm23 0zm2 0zm-21 1zm6 0zm32 0zm-50 1zm13 0zm15 0zm-44 1zm38 0zm53 0zm-53 1zm6 0zm51 0zm-139 1zm59 0zm-84 1zm28 0zm34 0zm16 0zm45 0zm-9 1zm13 0zm18 0zm-34 1zm4 0zm-142 1zm129 0zm5 0zm-62 1zm18 0zm16 0zm8 0zm141 0zm-183 1zm31 0zm-4 1zm27 0zm24 0zm-122 1zm21 0zm43 0zm17 0zm-36 1zm35 0zm33 1zm29 0zm-113 1zm101 0zm7 0zm22 0zm77 0zm-171 1zm23 0zm49 0zm-48 1zm49 0zm-83 1zm28 0zm30 0zm19 2zm113 0zm-171 1zm18 0zm44 0zm25 0zm-97 1zm33 0zm11 0zm-57 2zm2 0zm33 0zm67 0zm-174 1zm216 0zm-275 1zm119 0zm3 0zm14 0zm5 0zm23 0zm75 0zm-84 1zm90 0zm44 0zm-180 1zm47 0zm100 0zm-149 1zm22 0zm25 0zm65 0zm10 0zm71 0zm-125 1zm-94 1zm25 0zm12 0zm12 0zm16 0zm36 0zm11 0zm5 1zm-78 1zm27 0zm-11 2zm28 0zm29 0zm-57 1zm47 0zm64 0zm-93 1zm55 0zm-112 1zm16 0zm-53 1zm74 0zm79 0zm-86 1zm-4 1zm8 1zm17 0zm10 1zm13 0zm44 0zm-113 1zm138 0zm-76 1zm78 0zm-53 1zm-55 1zm73 0zm-111 1zm-4 2zm15 0zm63 0zm-26 2zm70 0zm-144 1zm-11 1zm14 1zm68 1zm82 0zm9 1zm-132 1zm-13 1zm65 0zm115 0zm-85 1zm30 1zm-74 1zm11 0zm-4 1zm9 0zm6 1zm-10 1zm-28 1zm45 0zm-77 1zm9 0zm3 0zm1 0zm168 0zm-98 1zm103 0zm-50 1zm-148 1zm51 3zm-94 2zm103 0zm-63 2zm49 0zm8 1zm-89 2zm58 1zm-20 1zm24 1zm56 0zm1 0zm-52 2zm-73 1zm115 3zm25 4zm-155 1zm38 0zm50 1zm8 0zm-44 1zm39 0zm-19 1zm-64 2zm45 0zm88 0zm-135 3zm87 0zm-67 1zm170 1zm-114 1zm-87 2zm23 1zm159 1zm-138 1zm81 1zm-60 2zm-5 1zm23 0zm15 1zm-69 2zm62 0zm-50 3zm26 2zm4 5zm34 2zm55 0zm-47 2zm-39 4zm-63 1zm112 0zm84 0zm-172 2zm162 3zm26 2zm-187 3zm18 0zm149 0zm-137 1zm44 0zm-4 2zm104 0zm26 8zm-122 3zm-119 2zm64 1zm-41 1zm122 3zm-115 3zm81 1zm-14 8zm-73 2zm114 1zm-124 1zm82 11zm-2 4zm122 1zm-215 5zm71 6zm-86 3zm185 3zm-260 17z"/><path d="M607 6zm-83 1zm34 1zm-11 2zm-43 7zm0 1zm125 1zm-89 3zm66 1zm-16 6zm-158 1zm36 0zm6 0zm93 4zm-45 1zm38 0zm19 0zm-67 4zm18 0zm59 5zm-34 1zm-109 1zm44 0zm110 0zm-13 1zm-134 4zm127 0zm-176 1zm98 0zm-24 1zm66 0zm7 2zm40 0zm9 0zm-67 1zm34 0zm3 3zm39 0zm-50 5zm1 0zm24 0zm-34 1zm-87 3zm127 0zm-68 1zm46 0zm4 0zm31 2zm-183 1zm53 0zm-27 1zm160 0zm-25 1zm3 0zm-45 1zm13 0zm-12 1zm20 0zm3 1zm15 0zm-5 1zm13 0zm7 0zm-33 1zm36 0zm26 0zm-67 1zm3 0zm-98 1zm93 0zm4 0zm7 0zm-16 1zm14 0zm-74 1zm33 0zm35 0zm18 0zm-33 1zm36 0zm-53 1zm54 0zm20 0zm-90 1zm16 0zm7 0zm-81 1zm69 0zm18 0zm9 1zm8 0zm21 0zm7 0zm14 0zm-135 1zm79 0zm32 0zm-106 1zm76 0zm23 0zm6 0zm-31 1zm14 0zm-69 1zm73 0zm11 0zm11 0zm-86 1zm54 0zm-28 1zm14 0zm28 0zm-44 1zm13 0zm-24 1zm39 0zm12 0zm51 0zm-24 1zm-100 1zm32 0zm35 0zm15 0zm14 0zm5 0zm-57 1zm19 0zm4 0zm20 0zm-17 1zm4 0zm13 0zm-55 1zm55 0zm-133 1zm104 0zm9 0zm26 0zm-55 1zm22 0zm25 0zm-64 1zm7 0zm46 0zm3 0zm14 0zm27 0zm-136 1zm80 0zm10 0zm22 0zm-100 1zm48 0zm3 0zm2 0zm8 0zm-136 1zm73 0zm24 0zm42 0zm-9 1zm21 0zm13 0zm32 0zm-37 1zm28 0zm-237 1zm200 0zm17 0zm21 0zm-209 1zm142 0zm15 0zm12 0zm0 0zm2 0zm6 0zm26 0zm9 0zm-173 1zm99 0zm25 0zm23 0zm8 0zm10 0zm11 0zm-97 1zm36 0zm6 0zm13 0zm53 0zm-138 1zm73 0zm-33 1zm31 0zm3 0zm2 0zm5 0zm22 0zm-100 1zm6 0zm41 0zm6 0zm0 0zm60 0zm-98 1zm46 0zm4 0zm9 0zm31 0zm4 0zm6 0zm-86 1zm42 0zm18 0zm3 0zm29 0zm-92 1zm25 0zm3 0zm8 0zm16 0zm1 0zm15 0zm-67 1zm19 0zm23 0zm-39 1zm8 0zm19 0zm49 0zm-109 1zm55 0zm11 0zm22 1zm55 0zm-175 1zm57 0zm8 0zm14 0zm65 0zm3 0zm-149 1zm8 0zm27 0zm42 0zm21 0zm20 0zm8 0zm1 0zm-73 1zm45 0zm3 0zm3 0zm2 0zm3 0zm30 0zm4 0zm2 0zm10 0zm-92 1zm34 0zm-62 1zm33 0zm7 0zm13 0zm11 0zm10 0zm7 0zm57 0zm-126 1zm25 0zm2 0zm13 0zm0 0zm7 0zm11 0zm6 0zm3 0zm-81 1zm33 0zm47 0zm6 0zm8 0zm-319 1zm304 0zm-56 1zm16 0zm7 0zm16 0zm9 0zm23 0zm-53 1zm12 0zm1 0zm24 0zm16 0zm16 0zm-235 1zm184 0zm10 0zm5 0zm-46 1zm27 0zm54 0zm-261 1zm206 0zm11 0zm21 0zm15 0zm25 0zm-107 1zm33 0zm8 0zm-73 1zm1 0zm40 0zm52 0zm15 0zm-56 1zm1 0zm13 0zm23 0zm18 0zm-148 1zm60 0zm16 0zm1 0zm14 0zm4 0zm17 0zm2 0zm20 0zm13 0zm-161 1zm39 0zm80 0zm32 0zm14 0zm-148 1zm58 0zm12 0zm3 0zm15 0zm21 0zm16 0zm41 0zm-88 1zm20 0zm41 0zm-66 1zm24 0zm6 0zm17 0zm6 0zm4 0zm-148 1zm105 0zm-17 1zm16 0zm14 0zm17 0zm35 0zm-126 1zm8 0zm61 0zm17 0zm2 0zm11 0zm8 0zm7 0zm-37 1zm10 0zm6 0zm-120 1zm102 0zm3 0zm18 0zm5 0zm17 0zm-61 1zm3 0zm23 0zm0 0zm5 0zm-64 1zm6 0zm3 0zm10 0zm10 0zm9 0zm27 0zm5 0zm17 0zm25 0zm-80 1zm10 0zm11 0zm1 0zm16 0zm7 0zm-100 1zm39 0zm17 0zm16 0zm14 0zm3 0zm2 0zm18 0zm37 0zm-155 1zm15 0zm27 0zm5 0zm6 0zm37 0zm3 0zm3 0zm20 0zm5 0zm-109 1zm8 0zm14 0zm25 0zm34 0zm13 0zm3 0zm0 0zm-140 1zm55 0zm27 0zm2 0zm7 0zm17 0zm4 0zm8 0zm-165 1zm153 0zm4 0zm2 0zm0 0zm2 0zm19 0zm-98 1zm45 0zm-25 1zm5 0zm16 0zm13 0zm1 0zm5 0zm6 0zm8 0zm39 0zm21 0zm-192 1zm143 0zm7 0zm3 0zm-84 1zm22 0zm4 0zm6 0zm7 0zm7 0zm8 0zm13 0zm4 0zm4 0zm9 0zm14 0zm18 0zm-122 1zm37 0zm5 0zm11 0zm16 0zm6 0zm9 0zm23 0zm15 0zm35 0zm-83 1zm3 0zm13 0zm6 0zm7 0zm-76 1zm11 0zm5 0zm12 0zm36 0zm11 0zm49 0zm-184 1zm34 0zm42 0zm7 0zm16 0zm8 0zm2 0zm4 0zm5 0zm1 0zm12 0zm-125 1zm70 0zm4 0zm12 0zm7 0zm28 0zm-97 1zm54 0zm0 0zm2 0zm1 0zm16 0zm18 0zm1 0zm-102 1zm14 0zm25 0zm29 0zm14 0zm1 0zm-46 1zm34 0zm5 0zm13 0zm6 0zm31 0zm-123 1zm42 0zm68 0zm-124 1zm65 0zm0 0zm7 0zm2 0zm4 0zm37 0zm26 0zm-70 1zm9 0zm1 0zm29 0zm6 0zm13 0zm-99 1zm7 0zm10 0zm15 0zm1 0zm25 0zm10 0zm11 0zm3 0zm3 0zm-103 1zm26 0zm54 0zm1 0zm15 0zm3 0zm13 0zm6 0zm11 0zm4 0zm-79 1zm16 0zm11 0zm8 0zm-98 1zm10 0zm62 0zm10 0zm9 0zm0 0zm1 0zm1 0zm17 0zm21 0zm7 0zm-129 1zm30 0zm11 0zm5 0zm14 0zm16 0zm7 0zm27 0zm30 0zm-202 1zm52 0zm32 0zm47 0zm2 0zm7 0zm2 0zm2 0zm-135 1zm81 0zm11 0zm12 0zm1 0zm5 0zm10 0zm7 0zm5 0zm4 0zm5 0zm4 0zm-30 1zm5 0zm13 0zm-96 1zm27 0zm25 0zm1 0zm26 0zm9 0zm0 0zm4 0zm10 0zm2 0zm3 0zm2 0zm0 0zm31 0zm-152 1zm63 0zm0 0zm9 0zm32 0zm26 0zm-108 1zm19 0zm55 0zm11 0zm9 0zm25 0zm-112 1zm38 0zm11 0zm5 0zm1 0zm8 0zm1 0zm8 0zm1 0zm10 0zm5 0zm7 0zm6 0zm-81 1zm17 0zm13 0zm2 0zm7 0zm9 0zm22 0zm19 0zm23 0zm-103 1zm3 0zm10 0zm10 0zm9 0zm7 0zm0 0zm2 0zm5 0zm14 0zm2 0zm2 0zm4 0zm14 0zm-147 1zm2 0zm25 0zm24 0zm18 0zm0 0zm5 0zm2 0zm11 0zm17 0zm20 0zm4 0zm61 0zm-194 1zm20 0zm65 0zm25 0zm7 0zm11 0zm9 0zm9 0zm21 0zm-121 1zm6 0zm12 0zm3 0zm13 0zm3 0zm6 0zm10 0zm7 0zm46 0zm5 0zm22 0zm-182 1zm49 0zm31 0zm21 0zm26 0zm1 0zm-52 1zm4 0zm31 0zm7 0zm18 0zm-91 1zm27 0zm20 0zm5 0zm16 0zm42 0zm-198 1zm94 0zm43 0zm13 0zm26 0zm44 0zm-114 1zm3 0zm25 0zm12 0zm5 0zm1 0zm5 0zm6 0zm7 0zm56 0zm30 0zm-257 1zm91 0zm23 0zm19 0zm13 0zm3 0zm0 0zm31 0zm9 0zm3 0zm7 0zm-195 1zm44 0zm75 0zm6 0zm13 0zm1 0zm16 0zm2 0zm1 0zm14 0zm-88 1zm25 0zm20 0zm9 0zm24 0zm7 0zm0 0zm16 0zm13 0zm-119 1zm36 0zm13 0zm5 0zm10 0zm15 0zm2 0zm11 0zm32 0zm7 0zm-213 1zm108 0zm0 0zm9 0zm10 0zm2 0zm7 0zm9 0zm8 0zm3 0zm1 0zm0 0zm13 0zm12 0zm-121 1zm24 0zm73 0zm30 0zm7 0zm-235 1zm93 0zm27 0zm3 0zm5 0zm21 0zm3 0zm2 0zm44 0zm2 0zm38 0zm-132 1zm30 0zm6 0zm8 0zm16 0zm23 0zm6 0zm3 0zm3 0zm20 0zm-128 1zm28 0zm35 0zm14 0zm16 0zm42 0zm12 0zm-82 1zm9 0zm7 0zm17 0zm5 0zm6 0zm4 0zm10 0zm-115 1zm5 0zm2 0zm31 0zm23 0zm2 0zm4 0zm48 0zm3 0zm29 0zm-135 1zm9 0zm37 0zm5 0zm4 0zm4 0zm3 0zm1 0zm6 0zm18 0zm6 0zm39 0zm-245 1zm124 0zm45 0zm18 0zm13 0zm6 0zm-119 1zm38 0zm14 0zm13 0zm6 0zm11 0zm-51 1zm4 0zm13 0zm16 0zm5 0zm14 0zm6 0zm6 0zm6 0zm1 0zm2 0zm-82 1zm51 0zm17 0zm2 0zm2 0zm8 0zm8 0zm36 0zm-157 1zm29 0zm70 0zm9 0zm24 0zm-100 1zm44 0zm7 0zm8 0zm33 0zm8 0zm48 0zm-145 1zm21 0zm4 0zm10 0zm20 0zm5 0zm3 0zm14 0zm9 0zm15 0zm3 0zm12 0zm-134 1zm8 0zm41 0zm10 0zm7 0zm17 0zm2 0zm11 0zm14 0zm-137 1zm83 0zm10 0zm9 0zm12 0zm23 0zm0 0zm6 0zm-249 1zm98 0zm81 0zm14 0zm10 0zm9 0zm19 0zm13 1zm-64 1zm3 0zm6 0zm28 0zm4 0zm-51 1zm18 0zm6 0zm25 0zm4 0zm9 0zm23 0zm28 0zm-168 1zm35 0zm18 0zm1 0zm27 0zm10 0zm5 0zm19 0zm18 0zm-122 1zm20 0zm10 0zm12 0zm6 0zm60 0zm-139 1zm44 0zm16 0zm35 0zm5 0zm17 0zm3 0zm16 0zm-99 1zm75 0zm-103 1zm78 0zm32 0zm11 0zm16 0zm1 0zm-55 1zm12 0zm3 0zm5 0zm12 0zm2 0zm11 0zm21 0zm8 0zm10 0zm54 0zm-206 1zm1 0zm27 0zm19 0zm56 0zm52 0zm12 0zm-132 1zm1 0zm13 0zm4 0zm7 0zm6 0zm8 0zm7 0zm10 0zm1 0zm27 0zm33 0zm-143 1zm7 0zm23 0zm33 0zm7 0zm17 0zm31 0zm0 0zm-90 1zm3 0zm52 0zm18 0zm12 0zm3 0zm29 0zm-226 1zm58 0zm34 0zm9 0zm9 0zm6 0zm27 0zm4 0zm2 0zm1 0zm5 0zm24 0zm7 0zm2 0zm16 0zm20 0zm81 0zm-292 1zm24 0zm79 0zm9 0zm10 0zm29 0zm6 0zm38 0zm29 0zm11 0zm-136 1zm29 0zm-95 1zm70 0zm15 0zm2 0zm1 0zm22 0zm21 0zm0 0zm19 0zm18 0zm-55 1zm6 0zm3 0zm10 0zm8 0zm44 0zm-217 1zm32 0zm25 0zm26 0zm42 0zm16 0zm5 0zm10 0zm4 0zm-88 1zm36 0zm3 0zm2 0zm28 0zm1 0zm2 0zm13 0zm3 0zm6 0zm-78 1zm11 0zm19 0zm5 0zm3 0zm3 0zm31 0zm11 0zm29 0zm-130 1zm3 0zm58 0zm19 0zm16 0zm-199 1zm106 0zm46 0zm22 0zm24 0zm0 0zm2 0zm-90 1zm20 0zm22 0zm12 0zm25 0zm37 0zm-211 1zm95 0zm59 0zm2 0zm20 0zm14 0zm54 0zm-136 1zm10 0zm19 0zm7 0zm9 0zm2 0zm12 0zm-58 1zm0 0zm43 0zm15 0zm57 0zm-147 1zm67 0zm2 0zm7 0zm1 0zm0 0zm8 0zm11 0zm12 0zm-82 1zm2 0zm1 0zm25 0zm25 0zm21 0zm25 0zm-123 1zm14 0zm5 0zm25 0zm5 0zm2 0zm6 0zm5 0zm18 0zm15 0zm35 0zm0 0zm-178 1zm12 0zm69 0zm12 0zm0 0zm1 0zm20 0zm6 0zm-21 1zm0 0zm5 0zm45 0zm-76 1zm17 0zm11 0zm1 0zm12 0zm27 0zm47 0zm23 0zm-171 1zm32 0zm23 0zm12 0zm39 0zm25 0zm-92 1zm42 0zm1 0zm1 0zm4 0zm-162 1zm74 0zm28 0zm27 0zm0 0zm18 0zm8 0zm38 0zm-188 1zm99 0zm15 0zm1 0zm8 0zm2 0zm39 0zm3 0zm30 0zm15 0zm-79 1zm11 0zm9 0zm-50 1zm22 0zm10 0zm27 0zm12 0zm-175 1zm45 0zm40 0zm40 0zm9 0zm-101 1zm36 0zm22 0zm35 0zm4 0zm11 0zm13 0zm35 0zm-190 1zm104 0zm39 0zm36 0zm-141 1zm40 0zm78 0zm66 0zm-247 1zm138 0zm3 0zm4 0zm3 0zm1 0zm12 0zm7 0zm4 0zm6 0zm4 0zm20 0zm34 0zm-114 1zm22 0zm23 0zm15 0zm-65 1zm11 0zm11 0zm6 0zm6 0zm4 0zm21 0zm39 0zm-147 1zm5 0zm67 0zm4 0zm6 0zm7 0zm13 0zm24 0zm9 0zm22 0zm-137 1zm21 0zm65 0zm5 0zm17 0zm0 0zm-73 1zm65 0zm0 0zm2 0zm69 0zm-168 1zm5 0zm44 0zm10 0zm11 0zm19 0zm11 0zm63 0zm-220 1zm68 0zm29 0zm45 0zm32 0zm56 0zm-196 1zm26 0zm28 0zm7 0zm1 0zm4 0zm10 0zm5 0zm62 0zm-151 1zm41 0zm25 0zm12 0zm15 0zm5 0zm21 0zm1 0zm2 0zm7 0zm38 0zm4 0zm31 0zm-141 1zm10 0zm23 0zm-48 1zm9 0zm19 0zm28 0zm27 0zm19 0zm-94 1zm3 0zm19 0zm5 0zm11 0zm24 0zm3 0zm-75 1zm29 0zm4 0zm17 0zm18 0zm22 0zm1 0zm26 0zm5 0zm-248 1zm86 0zm4 0zm14 0zm17 0zm2 0zm3 0zm12 0zm3 0zm4 0zm7 0zm70 0zm-144 1zm21 0zm18 0zm47 0zm-104 1zm49 0zm43 0zm13 0zm39 0zm39 0zm48 0zm-187 1zm41 0zm10 0zm0 0zm6 0zm25 0zm12 0zm3 0zm-148 1zm121 0zm16 0zm24 0zm11 0zm-127 1zm4 0zm4 0zm2 0zm13 0zm22 0zm12 0zm85 0zm-188 1zm71 0zm13 0zm2 0zm17 0zm3 0zm0 0zm12 0zm7 0zm16 0zm-217 1zm110 0zm32 0zm25 0zm12 0zm24 0zm4 0zm7 0zm10 0zm10 0zm110 0zm-233 1zm7 0zm5 0zm16 0zm4 0zm48 0zm54 0zm-224 1zm119 0zm18 0zm32 0zm6 0zm12 0zm0 0zm3 0zm59 0zm-259 1zm121 0zm13 0zm4 0zm47 0zm3 0zm6 0zm93 0zm-168 1zm3 0zm15 0zm60 0zm-111 1zm23 0zm23 0zm4 0zm13 0zm1 0zm32 0zm5 0zm15 0zm-130 1zm29 0zm18 0zm25 0zm18 0zm3 0zm1 0zm17 0zm8 0zm52 0zm-141 1zm32 0zm14 0zm17 0zm2 0zm5 0zm25 0zm40 0zm-125 1zm46 0zm12 0zm25 0zm-63 1zm21 0zm20 0zm2 0zm12 0zm1 0zm20 0zm25 0zm-89 1zm22 0zm39 0zm0 0zm24 0zm9 0zm-153 1zm10 0zm38 0zm13 0zm41 0zm72 0zm-204 1zm24 0zm2 0zm27 0zm18 0zm18 0zm5 0zm2 0zm7 0zm26 0zm2 0zm57 0zm-142 1zm27 0zm3 0zm42 0zm0 0zm27 0zm4 0zm2 0zm-89 1zm17 0zm17 0zm4 0zm26 0zm37 0zm2 0zm-97 1zm8 0zm1 0zm22 0zm59 0zm2 0zm-74 1zm18 0zm2 0zm12 0zm19 0zm12 0zm4 0zm-87 1zm11 0zm8 0zm0 0zm3 0zm4 0zm44 0zm25 0zm-131 1zm3 0zm30 0zm89 0zm-78 1zm21 0zm58 0zm69 0zm-142 1zm49 0zm-145 1zm122 0zm37 0zm4 0zm9 0zm-104 1zm18 0zm9 0zm4 0zm21 0zm20 0zm55 0zm-123 1zm31 0zm3 0zm13 0zm42 0zm75 0zm-278 1zm97 0zm23 0zm13 0zm22 0zm33 0zm-69 1zm65 0zm11 0zm120 0zm-174 1zm10 0zm16 0zm25 0zm6 0zm-105 1zm32 0zm27 0zm8 0zm8 0zm-47 1zm4 0zm8 0zm7 0zm9 0zm66 0zm-92 1zm48 0zm22 0zm10 0zm8 0zm-230 1zm113 0zm35 0zm3 0zm0 0zm6 0zm36 0zm65 0zm-182 1zm61 0zm28 0zm37 0zm88 0zm-260 1zm86 0zm53 0zm16 0zm4 0zm30 0zm-87 1zm2 0zm33 0zm4 0zm0 0zm6 0zm10 0zm6 0zm23 0zm25 0zm-127 1zm17 0zm1 0zm41 0zm7 0zm32 0zm-62 1zm71 0zm48 0zm-195 1zm71 0zm10 0zm29 0zm-65 1zm34 0zm38 0zm-75 1zm6 0zm4 0zm15 0zm10 0zm32 0zm24 0zm-73 1zm10 0zm26 0zm30 0zm5 0zm122 0zm-166 1zm38 0zm22 0zm15 0zm-206 1zm9 0zm3 0zm225 0zm48 0zm-160 1zm-87 1zm95 0zm-129 1zm106 0zm42 0zm7 0zm-91 1zm43 0zm22 0zm-56 1zm3 0zm35 0zm4 0zm2 0zm29 0zm11 0zm6 0zm-51 1zm26 0zm-112 1zm98 0zm33 0zm9 0zm3 0zm40 0zm-112 1zm-42 1zm104 0zm-122 1zm28 0zm23 0zm58 0zm-73 1zm17 0zm45 0zm139 1zm-244 1zm31 0zm29 0zm30 0zm4 0zm28 0zm12 0zm-103 1zm14 0zm5 0zm14 0zm28 0zm11 0zm8 0zm-30 1zm12 0zm18 0zm9 0zm10 0zm18 0zm-241 1zm81 0zm67 0zm4 0zm8 0zm15 0zm-92 1zm46 0zm102 0zm44 0zm-97 1zm42 0zm-104 1zm33 0zm7 0zm1 0zm45 0zm2 0zm26 0zm13 0zm38 0zm-191 1zm45 0zm29 0zm2 0zm84 0zm-178 1zm24 0zm53 0zm0 0zm46 0zm-53 1zm21 1zm-7 1zm122 0zm-211 1zm99 0zm33 0zm-103 1zm47 0zm26 0zm48 0zm20 0zm-89 1zm28 0zm8 0zm63 0zm-77 1zm10 0zm29 0zm-233 1zm130 0zm24 0zm16 1zm53 0zm4 0zm16 0zm23 0zm-65 1zm-57 1zm14 0zm24 0zm31 0zm-45 1zm29 0zm7 0zm39 1zm-101 1zm30 0zm67 0zm21 0zm59 0zm-179 1zm37 0zm6 0zm81 0zm-152 1zm55 0zm6 0zm44 0zm18 0zm72 0zm-140 1zm60 0zm21 0zm110 0zm-4 1zm-208 1zm31 0zm9 0zm6 0zm15 0zm6 0zm5 0zm23 0zm-81 1zm27 0zm27 0zm-94 1zm40 0zm51 0zm-72 1zm7 0zm16 1zm31 0zm39 0zm30 0zm-157 1zm39 0zm28 0zm29 0zm2 0zm23 0zm-91 1zm40 0zm26 0zm4 0zm12 0zm-70 1zm25 0zm106 0zm-146 1zm27 0zm18 0zm12 0zm-16 1zm48 0zm6 0zm-113 1zm33 0zm43 0zm12 0zm-34 1zm20 0zm0 0zm22 0zm10 0zm10 0zm66 0zm-133 1zm-27 1zm53 0zm13 0zm48 0zm-187 1zm75 0zm64 0zm3 0zm-99 1zm30 0zm1 0zm1 0zm19 0zm19 0zm24 0zm13 1zm28 0zm-69 1zm33 0zm76 0zm-128 1zm19 0zm104 0zm-99 1zm8 0zm-67 1zm24 0zm-79 1zm51 0zm72 0zm-134 1zm110 0zm42 0zm22 0zm2 0zm-73 1zm65 0zm15 0zm-98 1zm19 0zm22 0zm-123 1zm99 0zm5 0zm27 0zm32 0zm-84 1zm8 0zm8 1zm36 0zm38 0zm106 0zm-240 1zm35 0zm28 0zm-76 1zm6 0zm48 0zm-62 1zm109 0zm3 0zm8 0zm16 0zm-5 1zm-93 1zm39 0zm13 0zm1 0zm-28 1zm18 0zm158 0zm-209 1zm12 0zm33 0zm-9 1zm6 0zm10 0zm83 0zm-26 1zm-142 2zm39 0zm58 0zm-26 1zm21 0zm28 0zm-88 1zm203 1zm-172 1zm237 0zm-278 3zm28 0zm-5 1zm29 0zm69 1zm-128 1zm134 0zm-153 1zm9 0zm110 1zm159 0zm-252 1zm100 1zm24 0zm-162 2zm52 0zm34 0zm20 0zm4 0zm-98 1zm73 0zm11 0zm17 0zm4 0zm14 0zm-157 1zm114 0zm167 0zm-201 2zm38 0zm14 3zm-37 1zm92 0zm14 0zm-117 3zm1 0zm46 0zm29 0zm-77 1zm169 0zm-132 1zm-75 1zm21 1zm60 0zm87 0zm-133 1zm100 1zm-91 1zm14 1zm-41 1zm-52 1zm163 0zm-98 1zm96 0zm87 0zm-143 1zm-26 1zm12 0zm-41 1zm14 1zm81 1zm0 0zm-4 2zm-134 1zm59 0zm53 0zm-97 1zm31 0zm92 0zm-4 1zm35 0zm-142 1zm44 0zm146 0zm-213 1zm19 0zm-5 1zm77 1zm-36 1zm63 3zm-18 3zm-16 1zm-135 2zm115 0zm28 0zm-71 1zm103 0zm13 0zm-134 1zm127 0zm-108 2zm18 3zm10 0zm-101 2zm81 1zm21 0zm-33 1zm29 0zm47 2zm-24 2zm-42 1zm13 0zm41 0zm-34 3zm34 0zm6 2zm-83 1zm199 1zm-225 3zm53 1zm149 0zm-141 1zm16 0zm33 3zm-12 2zm-48 1zm69 2zm19 2zm59 1zm-7 4zm-84 5zm26 0zm8 9zm-90 4zm-16 5zm100 2zm-56 3zm-56 4zm4 15zm93 2zm-57 16zm51 2zm-7 6zm-67 4zm-42 3zm44 6zm45 0zm-69 5z"/><path d="M551 6zm46 1zm21 4zm-114 2zm38 0zm36 4zm-46 1zm44 3zm-102 2zm21 1zm24 3zm97 3zm-38 2zm55 2zm27 0zm-155 8zm27 0zm20 0zm35 0zm-53 1zm48 0zm-31 1zm5 1zm18 0zm3 7zm35 0zm-46 1zm-123 1zm143 0zm-5 1zm15 0zm-133 1zm129 0zm-84 1zm71 0zm-186 2zm132 0zm70 0zm-41 2zm8 0zm-22 1zm-8 1zm12 2zm17 0zm3 0zm2 0zm-32 1zm37 0zm31 0zm2 0zm-129 2zm13 0zm57 0zm30 0zm-155 1zm188 0zm-33 2zm12 1zm-8 1zm31 0zm-280 2zm114 0zm117 0zm11 1zm-192 1zm186 0zm10 0zm-42 1zm1 1zm17 0zm-28 1zm-127 1zm2 0zm92 0zm-91 1zm41 1zm113 0zm45 0zm-132 1zm94 0zm12 0zm-156 1zm126 0zm1 0zm14 0zm20 0zm-130 1zm-53 2zm156 0zm-53 1zm4 0zm18 0zm27 0zm5 0zm15 0zm6 0zm-8 1zm4 0zm-10 1zm-55 1zm52 0zm29 0zm-154 1zm110 0zm34 0zm-32 1zm16 0zm22 0zm9 0zm-155 1zm79 0zm7 0zm41 0zm49 0zm-76 1zm23 0zm0 0zm12 0zm26 0zm-47 1zm-22 1zm21 0zm23 0zm-42 1zm40 0zm10 0zm5 0zm-212 1zm1 0zm107 0zm17 0zm39 0zm23 0zm14 1zm0 0zm30 0zm-118 1zm49 0zm62 0zm-86 1zm-17 1zm86 0zm33 0zm-79 1zm6 0zm34 0zm31 0zm-151 1zm116 1zm11 0zm-63 1zm3 0zm27 0zm16 0zm6 0zm4 0zm6 0zm54 0zm-163 1zm8 0zm23 0zm36 0zm36 0zm-133 1zm96 0zm52 0zm10 0zm-67 1zm11 0zm28 0zm-21 1zm6 0zm28 0zm-10 1zm9 0zm2 0zm-98 1zm13 0zm29 0zm15 0zm21 0zm4 0zm33 0zm-84 1zm18 0zm19 0zm6 0zm6 0zm13 0zm17 0zm-221 1zm47 0zm83 0zm67 0zm-191 1zm114 0zm9 0zm79 0zm-67 1zm1 0zm20 0zm14 0zm22 0zm-118 1zm82 0zm4 0zm23 0zm-76 1zm69 0zm10 0zm23 0zm11 0zm-93 1zm45 0zm6 0zm5 0zm3 0zm4 0zm3 0zm11 1zm-113 1zm32 0zm16 0zm11 0zm8 0zm4 0zm25 0zm-60 1zm36 0zm20 0zm1 0zm20 0zm-47 1zm3 0zm2 0zm6 0zm4 0zm15 0zm-99 1zm57 0zm4 0zm0 0zm8 0zm29 0zm0 0zm11 0zm15 0zm-125 1zm12 0zm18 0zm5 0zm39 0zm27 0zm24 0zm-100 1zm10 0zm41 0zm45 0zm-41 1zm-25 1zm4 0zm0 0zm34 0zm25 0zm-161 1zm26 0zm8 0zm55 0zm32 0zm-34 1zm27 0zm4 0zm8 0zm-23 1zm23 0zm22 0zm4 0zm43 0zm-91 1zm23 0zm37 0zm-86 1zm56 0zm-72 1zm8 0zm17 0zm18 0zm3 0zm19 0zm16 0zm-77 1zm38 0zm25 0zm-63 1zm13 0zm28 0zm-110 1zm92 0zm2 0zm24 0zm4 0zm1 0zm9 0zm8 0zm-92 1zm8 0zm5 0zm7 0zm23 0zm12 0zm28 0zm17 0zm-43 1zm10 0zm11 0zm25 0zm-107 1zm32 0zm49 0zm14 0zm5 0zm-53 1zm48 0zm-105 1zm47 0zm22 0zm5 0zm20 0zm13 0zm-76 1zm2 0zm12 0zm22 0zm11 0zm16 0zm7 0zm11 0zm-130 1zm22 0zm17 0zm23 0zm66 0zm-140 1zm13 0zm59 0zm1 0zm25 0zm23 0zm2 0zm8 0zm46 0zm-167 1zm60 0zm20 0zm2 0zm10 0zm15 0zm-61 1zm27 0zm28 0zm32 0zm4 0zm-111 1zm53 0zm21 0zm15 0zm-22 1zm5 0zm8 0zm2 0zm24 0zm-163 1zm86 0zm25 0zm20 0zm13 0zm8 0zm5 0zm1 0zm3 0zm-124 1zm21 0zm34 0zm26 0zm4 0zm14 0zm14 0zm16 0zm22 0zm23 0zm-206 1zm83 0zm15 0zm31 0zm7 0zm-75 1zm15 0zm8 0zm16 0zm5 0zm12 0zm6 0zm15 0zm-79 1zm20 0zm75 0zm-129 1zm29 0zm9 0zm12 0zm29 0zm5 0zm22 0zm-30 1zm0 0zm10 0zm23 0zm-127 1zm48 0zm5 0zm42 0zm1 0zm28 0zm30 0zm4 0zm-157 1zm42 0zm31 0zm12 0zm15 0zm14 0zm9 0zm-50 1zm17 0zm8 0zm1 0zm1 0zm9 0zm10 0zm44 0zm-186 1zm89 0zm34 0zm13 0zm3 0zm5 0zm18 0zm-96 1zm41 0zm9 0zm9 0zm18 0zm2 0zm1 0zm6 0zm1 0zm15 0zm11 0zm-219 1zm50 0zm105 0zm0 0zm11 0zm6 0zm1 0zm3 0zm18 0zm4 0zm-163 1zm56 0zm45 0zm11 0zm21 0zm-123 1zm60 0zm27 0zm25 0zm18 0zm-112 1zm68 0zm63 0zm0 0zm-98 1zm10 0zm40 0zm15 0zm19 0zm26 0zm-127 1zm19 0zm49 0zm8 0zm35 0zm22 0zm-154 1zm74 0zm54 0zm0 0zm7 0zm21 0zm4 0zm-157 1zm58 0zm28 0zm8 0zm17 0zm1 0zm8 0zm-86 1zm29 0zm9 0zm20 0zm26 0zm9 0zm11 0zm-109 1zm10 0zm20 0zm11 0zm0 0zm23 0zm19 0zm4 0zm11 0zm9 0zm-64 1zm6 0zm11 0zm12 0zm10 0zm0 0zm22 0zm12 0zm-72 1zm4 0zm0 0zm3 0zm2 0zm2 0zm2 0zm18 0zm2 0zm15 0zm5 0zm1 0zm7 0zm15 0zm-83 1zm20 0zm7 0zm2 0zm0 0zm24 0zm3 0zm-89 1zm22 0zm5 0zm15 0zm6 0zm16 0zm12 0zm6 0zm11 0zm16 0zm-120 1zm29 0zm18 0zm16 0zm21 0zm10 0zm30 0zm8 0zm-100 1zm3 0zm7 0zm11 0zm17 0zm6 0zm2 0zm7 0zm-158 1zm78 0zm62 0zm8 0zm17 0zm-125 1zm55 0zm14 0zm17 0zm12 0zm9 0zm22 0zm-94 1zm11 0zm22 0zm12 0zm8 0zm0 0zm38 0zm19 0zm17 0zm-86 1zm1 0zm12 0zm4 0zm10 0zm3 0zm-45 1zm15 0zm6 0zm8 0zm13 0zm7 0zm13 0zm17 0zm5 0zm-181 1zm48 0zm46 0zm7 0zm36 0zm25 0zm38 0zm-77 1zm5 0zm7 0zm1 0zm1 0zm-18 1zm7 0zm10 0zm13 0zm6 0zm2 0zm6 0zm2 0zm15 0zm-142 1zm33 0zm24 0zm41 0zm11 0zm6 0zm3 0zm26 0zm2 0zm-98 1zm22 0zm6 0zm9 0zm3 0zm8 0zm7 0zm13 0zm13 0zm3 0zm47 0zm-235 1zm123 0zm0 0zm11 0zm1 0zm5 0zm21 0zm3 0zm9 0zm26 0zm5 0zm-117 1zm22 0zm6 0zm20 0zm12 0zm0 0zm25 0zm15 0zm31 0zm22 0zm-172 1zm60 0zm27 0zm5 0zm16 0zm9 0zm-115 1zm16 0zm32 0zm1 0zm5 0zm20 0zm25 0zm8 0zm0 0zm2 0zm13 0zm12 0zm-106 1zm22 0zm5 0zm7 0zm3 0zm3 0zm18 0zm2 0zm21 0zm5 0zm12 0zm-138 1zm50 0zm17 0zm8 0zm131 0zm-175 1zm9 0zm29 0zm9 0zm12 0zm1 0zm6 0zm6 0zm47 0zm-146 1zm15 0zm44 0zm10 0zm1 0zm28 0zm17 0zm1 0zm-145 1zm59 0zm7 0zm15 0zm2 0zm11 0zm5 0zm16 0zm3 0zm5 0zm21 0zm20 0zm-105 1zm43 0zm11 0zm3 0zm5 0zm8 0zm0 0zm1 0zm36 0zm1 0zm-200 1zm72 0zm10 0zm3 0zm38 0zm4 0zm22 0zm12 0zm26 0zm-103 1zm24 0zm8 0zm8 0zm2 0zm8 0zm9 0zm10 0zm5 0zm4 0zm-138 1zm34 0zm60 0zm12 0zm11 0zm0 0zm6 0zm5 0zm16 0zm8 0zm51 0zm-184 1zm15 0zm27 0zm5 0zm3 0zm21 0zm16 0zm20 0zm1 0zm6 0zm20 0zm8 0zm0 0zm-169 1zm91 0zm7 0zm1 0zm13 0zm1 0zm14 0zm7 0zm7 0zm8 0zm3 0zm2 0zm5 0zm20 0zm-149 1zm31 0zm42 0zm30 0zm16 0zm3 0zm0 0zm3 0zm1 0zm1 0zm2 0zm-80 1zm17 0zm21 0zm17 0zm3 0zm24 0zm26 0zm-116 1zm40 0zm5 0zm9 0zm6 0zm3 0zm12 0zm8 0zm4 0zm4 0zm16 0zm-132 1zm18 0zm22 0zm28 0zm3 0zm46 0zm-112 1zm28 0zm6 0zm14 0zm6 0zm3 0zm1 0zm40 0zm5 0zm3 0zm-118 1zm54 0zm16 0zm10 0zm6 0zm8 0zm19 0zm2 0zm-90 1zm6 0zm17 0zm5 0zm6 0zm17 0zm10 0zm7 0zm5 0zm44 0zm-188 1zm90 0zm12 0zm21 0zm39 0zm3 0zm76 0zm-167 1zm5 0zm34 0zm10 0zm8 0zm3 0zm7 0zm9 0zm8 0zm18 0zm0 0zm-227 1zm74 0zm53 0zm15 0zm19 0zm4 0zm8 0zm3 0zm7 0zm7 0zm55 0zm-136 1zm31 0zm18 0zm3 0zm6 0zm17 0zm3 0zm6 0zm10 0zm-145 1zm28 0zm2 0zm13 0zm11 0zm18 0zm31 0zm5 0zm1 0zm4 0zm23 0zm10 0zm-71 1zm3 0zm41 0zm1 0zm-95 1zm15 0zm45 0zm27 0zm12 0zm36 0zm17 0zm-265 1zm100 0zm107 0zm-66 1zm20 0zm10 0zm1 0zm5 0zm10 0zm34 0zm14 0zm-127 1zm23 0zm53 0zm9 0zm11 0zm6 0zm12 0zm25 0zm-104 1zm20 0zm0 0zm1 0zm8 0zm27 0zm1 0zm40 0zm-223 1zm142 0zm13 0zm1 0zm18 0zm14 0zm6 0zm8 0zm12 0zm23 0zm-155 1zm39 0zm59 0zm14 0zm18 0zm4 0zm11 0zm31 0zm-108 1zm12 0zm12 0zm1 0zm3 0zm11 0zm2 0zm26 0zm20 0zm27 0zm-210 1zm71 0zm18 0zm7 0zm0 0zm2 0zm6 0zm1 0zm1 0zm14 0zm16 0zm11 0zm1 0zm15 0zm2 0zm26 0zm-164 1zm50 0zm32 0zm9 0zm16 0zm7 0zm9 0zm10 0zm-100 1zm15 0zm18 0zm14 0zm6 0zm28 0zm19 0zm0 0zm14 0zm-172 1zm92 0zm5 0zm16 0zm4 0zm9 0zm11 0zm3 0zm12 0zm34 0zm68 0zm-59 1zm-158 1zm19 0zm7 0zm34 0zm30 0zm21 0zm19 0zm6 0zm-203 1zm113 0zm11 0zm25 0zm12 0zm44 0zm4 0zm-127 1zm13 0zm44 0zm55 0zm3 0zm19 0zm-100 1zm21 0zm5 0zm18 0zm4 0zm1 0zm6 0zm10 0zm13 0zm-114 1zm17 0zm3 0zm22 0zm11 0zm3 0zm13 0zm16 0zm37 0zm-150 1zm44 0zm11 0zm1 0zm1 0zm5 0zm15 0zm6 0zm13 0zm1 0zm83 0zm-179 1zm40 0zm21 0zm10 0zm23 0zm0 0zm37 0zm43 0zm-236 1zm36 0zm49 0zm12 0zm33 0zm6 0zm7 0zm4 0zm6 0zm14 0zm10 0zm-174 1zm90 0zm4 0zm15 0zm25 0zm36 0zm17 0zm21 0zm34 0zm-181 1zm39 0zm38 0zm42 0zm-123 1zm90 0zm3 0zm11 0zm1 0zm7 0zm20 0zm11 0zm23 0zm-195 1zm31 0zm63 0zm1 0zm18 0zm3 0zm1 0zm12 0zm8 0zm9 0zm7 0zm-133 1zm30 0zm50 0zm19 0zm19 0zm2 0zm23 0zm4 0zm11 0zm-251 1zm119 0zm16 0zm11 0zm4 0zm22 0zm29 0zm20 0zm-57 1zm7 0zm4 0zm18 0zm26 0zm5 0zm15 0zm36 0zm-128 1zm6 0zm34 0zm25 0zm6 0zm13 0zm7 0zm26 0zm10 0zm-120 1zm22 0zm24 0zm38 0zm-203 1zm146 0zm1 0zm18 0zm7 0zm23 0zm9 0zm9 0zm-113 1zm0 0zm5 0zm21 0zm6 0zm5 0zm4 0zm9 0zm14 0zm6 0zm7 0zm57 0zm-97 1zm15 0zm44 0zm1 0zm-147 1zm16 0zm22 0zm18 0zm6 0zm26 0zm15 0zm10 0zm3 0zm0 0zm18 0zm-103 1zm24 0zm48 0zm27 0zm0 0zm29 0zm-133 1zm38 0zm9 0zm20 0zm0 0zm-75 1zm61 0zm10 0zm8 0zm7 0zm5 0zm5 0zm4 0zm4 0zm59 0zm-124 1zm10 0zm7 0zm2 0zm6 0zm14 0zm26 0zm-107 1zm7 0zm15 0zm18 0zm16 0zm6 0zm15 0zm14 0zm5 0zm39 0zm-83 1zm5 0zm23 0zm23 0zm14 0zm21 0zm-136 1zm31 0zm4 0zm12 0zm16 0zm14 0zm3 0zm4 0zm0 0zm2 0zm1 0zm57 0zm5 0zm-157 1zm1 0zm38 0zm10 0zm21 0zm33 0zm32 0zm23 0zm-140 1zm60 0zm4 0zm7 0zm22 0zm25 0zm-80 1zm33 0zm14 0zm4 0zm8 0zm21 0zm20 0zm41 0zm-194 1zm2 0zm29 0zm58 0zm20 0zm-90 1zm30 0zm12 0zm9 0zm3 0zm12 0zm16 0zm2 0zm3 0zm39 0zm-171 1zm104 0zm20 0zm30 0zm-136 1zm14 0zm35 0zm66 0zm1 0zm6 0zm-67 1zm11 0zm14 0zm3 0zm20 0zm10 0zm11 0zm5 0zm-93 1zm13 0zm8 0zm2 0zm8 0zm1 0zm5 0zm14 0zm60 0zm3 0zm-60 1zm31 0zm3 0zm66 0zm-195 1zm61 0zm37 0zm7 0zm6 0zm35 0zm-141 1zm12 0zm15 0zm42 0zm34 0zm-112 1zm40 0zm12 0zm3 0zm26 0zm23 0zm-88 1zm10 0zm23 0zm40 0zm8 0zm5 0zm1 0zm7 0zm1 0zm52 0zm-106 1zm12 0zm7 0zm0 0zm3 0zm16 0zm7 0zm-141 1zm42 0zm52 0zm28 0zm21 0zm13 0zm55 0zm-175 1zm23 0zm18 0zm5 0zm0 0zm13 0zm10 0zm15 0zm7 0zm3 0zm41 0zm-192 1zm91 0zm2 0zm43 0zm32 0zm55 0zm97 0zm-240 1zm21 0zm29 0zm95 0zm-158 1zm65 0zm7 0zm8 0zm0 0zm6 0zm8 0zm19 0zm113 0zm-161 1zm33 0zm20 0zm42 0zm-255 1zm141 0zm37 0zm-60 1zm53 0zm6 0zm4 0zm3 0zm-100 1zm16 0zm4 0zm13 0zm17 0zm29 0zm10 0zm11 0zm13 0zm15 0zm9 0zm24 0zm35 0zm-164 1zm20 0zm3 0zm17 0zm16 0zm6 0zm1 0zm9 0zm13 0zm17 0zm-168 1zm77 0zm25 0zm26 0zm11 0zm6 0zm-56 1zm7 0zm4 0zm16 0zm16 0zm3 0zm24 0zm-94 1zm47 0zm3 0zm7 0zm18 0zm6 0zm4 0zm44 0zm-138 1zm15 0zm23 0zm12 0zm8 0zm30 0zm39 0zm15 0zm-104 1zm7 0zm89 0zm-119 1zm23 0zm5 0zm27 0zm-93 1zm54 0zm59 0zm8 0zm-90 1zm191 0zm-203 1zm54 0zm5 0zm19 0zm17 0zm13 0zm4 0zm-103 1zm31 0zm10 0zm-134 1zm74 0zm49 0zm20 0zm1 0zm7 0zm4 0zm23 0zm-125 1zm35 0zm8 0zm74 0zm12 0zm-78 1zm8 0zm2 0zm2 0zm7 0zm-26 1zm11 0zm20 0zm14 0zm3 0zm3 0zm31 0zm30 0zm-100 1zm4 0zm26 0zm6 0zm11 0zm3 0zm5 0zm14 0zm83 0zm20 0zm-194 1zm20 0zm8 0zm11 0zm9 0zm5 0zm27 0zm-62 2zm13 0zm3 0zm29 0zm142 0zm-151 1zm-112 1zm41 0zm5 0zm3 0zm7 0zm21 0zm35 0zm58 0zm-165 1zm94 0zm18 0zm14 0zm15 0zm10 0zm63 0zm-107 1zm12 0zm22 0zm11 0zm4 0zm-53 1zm16 0zm26 0zm-66 1zm17 0zm-72 1zm58 0zm26 0zm15 0zm18 0zm-94 1zm30 0zm83 0zm-133 1zm50 0zm67 0zm-124 1zm12 0zm65 0zm39 0zm-75 1zm1 0zm4 0zm8 0zm-42 1zm20 0zm26 0zm1 0zm40 0zm-75 1zm49 0zm0 0zm49 0zm-120 1zm15 0zm40 0zm6 0zm0 0zm12 0zm21 0zm-64 1zm0 0zm16 0zm1 0zm6 0zm5 0zm7 0zm8 0zm-81 1zm87 0zm-109 1zm68 0zm5 0zm-17 1zm18 0zm6 0zm7 0zm38 0zm-43 1zm55 0zm-102 1zm57 0zm17 0zm61 0zm-48 1zm-96 1zm53 0zm22 0zm-46 1zm10 0zm6 0zm25 0zm51 0zm2 0zm-95 1zm4 0zm18 0zm50 0zm-90 1zm37 0zm7 0zm49 0zm-161 1zm60 0zm5 0zm31 0zm14 0zm13 0zm1 0zm3 0zm4 0zm33 0zm29 0zm-96 1zm46 0zm-49 1zm6 0zm6 0zm25 0zm15 0zm7 0zm15 0zm-65 1zm5 1zm17 0zm12 0zm8 0zm-95 1zm38 0zm10 0zm27 0zm11 0zm68 0zm-176 1zm55 0zm19 0zm17 0zm-43 1zm35 0zm21 0zm68 0zm-171 1zm25 0zm44 0zm5 0zm2 0zm28 0zm37 0zm26 0zm7 0zm-225 1zm110 0zm5 0zm12 0zm33 0zm1 0zm98 0zm-218 1zm150 0zm-141 1zm78 0zm95 0zm8 0zm-184 1zm47 0zm20 0zm23 0zm3 0zm10 0zm-80 1zm13 0zm51 0zm29 0zm50 0zm-184 1zm40 0zm39 0zm10 0zm1 0zm22 0zm3 0zm24 0zm23 0zm-138 1zm19 0zm42 0zm56 0zm43 0zm34 0zm-170 1zm34 0zm2 0zm7 0zm14 0zm7 0zm9 0zm6 0zm37 0zm-87 1zm36 0zm89 0zm-120 1zm52 0zm-68 1zm58 0zm26 0zm-150 1zm8 0zm4 0zm80 0zm1 0zm18 0zm13 0zm38 0zm36 0zm8 0zm-175 1zm34 0zm22 0zm28 0zm-54 1zm20 0zm-40 1zm50 0zm70 0zm-108 1zm18 0zm20 0zm11 0zm69 0zm32 0zm6 0zm-244 1zm7 0zm50 0zm10 0zm16 0zm24 0zm18 0zm33 0zm-80 1zm24 0zm18 0zm52 0zm-41 1zm8 0zm-31 1zm18 0zm9 0zm53 0zm29 0zm-102 1zm1 0zm33 0zm-49 1zm14 0zm11 0zm0 0zm-59 1zm64 0zm-93 1zm32 0zm2 0zm53 0zm65 0zm19 0zm95 0zm-259 1zm12 0zm6 0zm56 0zm8 0zm23 0zm30 0zm4 0zm-51 1zm11 0zm-33 1zm69 0zm-110 1zm65 0zm4 0zm-104 1zm57 0zm-7 1zm68 0zm15 0zm-98 1zm41 0zm-58 1zm58 0zm-56 1zm50 1zm31 0zm2 0zm-18 1zm24 0zm66 0zm-148 1zm56 0zm-104 1zm106 0zm57 0zm-102 1zm48 0zm62 0zm48 0zm-208 1zm23 0zm45 0zm88 0zm47 0zm-149 1zm65 0zm19 0zm33 0zm-226 1zm67 0zm115 0zm-79 1zm58 0zm8 0zm27 0zm-94 1zm13 0zm35 0zm163 0zm9 0zm-198 1zm47 0zm108 0zm-200 1zm106 0zm166 0zm-206 1zm91 0zm-120 1zm1 0zm49 0zm-25 1zm-36 1zm34 0zm52 0zm-102 1zm109 0zm1 0zm105 0zm-245 1zm95 1zm15 0zm-99 2zm56 0zm-69 1zm115 0zm39 0zm-68 1zm27 0zm-5 1zm129 0zm-229 1zm54 0zm38 1zm20 0zm42 0zm-175 1zm121 0zm14 0zm-62 1zm5 0zm6 0zm-23 1zm37 0zm43 0zm5 0zm-72 1zm14 1zm-108 1zm40 0zm160 0zm-91 1zm67 0zm-184 1zm146 0zm24 1zm-77 1zm15 0zm114 0zm-146 1zm6 1zm17 0zm10 0zm140 0zm-201 1zm33 0zm123 0zm-112 1zm33 0zm31 0zm141 0zm-261 1zm34 1zm-27 1zm39 0zm94 2zm-113 2zm19 0zm-7 1zm14 0zm-45 1zm21 0zm53 0zm19 0zm90 0zm-39 1zm-208 1zm91 0zm109 0zm-28 2zm54 0zm-139 1zm14 0zm7 0zm78 0zm-148 1zm67 0zm0 0zm35 1zm-15 1zm-57 1zm40 0zm63 1zm14 1zm14 1zm3 1zm-145 3zm42 0zm93 1zm-124 1zm49 0zm0 0zm-64 1zm13 0zm27 0zm115 0zm-128 4zm-16 1zm-2 1zm93 1zm57 0zm-190 1zm97 3zm22 0zm72 0zm-175 1zm-20 1zm26 0zm96 0zm-132 2zm122 0zm-72 3zm40 1zm-45 1zm100 0zm-84 1zm1 0zm2 1zm-3 1zm8 0zm-63 5zm89 0zm4 0zm24 0zm-91 1zm25 0zm25 3zm137 0zm-219 1zm110 0zm-77 1zm176 0zm-212 1zm45 0zm-20 3zm14 2zm-29 3zm36 0zm28 1zm58 0zm-126 1zm5 1zm3 0zm2 0zm1 2zm73 2zm-54 2zm26 1zm117 3zm-123 1zm25 5zm25 2zm-74 1zm143 0zm-163 1zm162 2zm-18 1zm-10 4zm-205 2zm186 1zm-70 1zm-24 2zm-16 4zm-6 2zm28 0zm15 2zm-54 4zm45 3zm43 4zm-84 2zm93 5zm42 0zm-166 2zm20 2zm71 2zm-67 6zm94 2zm-77 7zm64 6zm-56 9zm-24 7zm39 10zm44 2z"/><path d="M574 7zm-23 3zm2 8zm-10 1zm36 0zm9 0zm-13 4zm-79 3zm-19 1zm19 5zm48 0zm-69 1zm33 0zm65 0zm7 0zm-48 1zm86 3zm-91 2zm34 3zm49 0zm-121 2zm96 1zm5 3zm-62 1zm55 1zm-25 1zm26 2zm-70 3zm69 0zm27 0zm-107 1zm61 0zm3 0zm3 0zm13 0zm67 1zm-106 1zm63 0zm-67 1zm25 1zm41 2zm-46 2zm1 1zm-140 1zm130 1zm-65 1zm91 0zm41 0zm-37 1zm-151 1zm75 0zm10 0zm77 0zm-138 1zm99 0zm37 1zm-71 1zm36 0zm28 0zm-79 1zm57 0zm0 0zm-115 1zm144 0zm-66 2zm24 0zm-16 1zm24 0zm66 0zm-129 1zm32 0zm16 0zm9 0zm25 0zm6 0zm-81 1zm1 0zm42 0zm30 0zm4 0zm12 0zm-61 1zm69 0zm6 0zm6 1zm26 0zm-19 1zm-64 1zm11 0zm30 0zm26 0zm-99 1zm57 0zm-82 2zm89 0zm-74 2zm-118 2zm14 0zm8 0zm81 0zm42 0zm9 0zm39 0zm13 0zm-87 2zm3 0zm52 0zm16 0zm-94 2zm54 0zm12 0zm13 0zm-85 1zm56 0zm-12 1zm22 0zm2 0zm9 0zm15 0zm-36 1zm7 0zm-15 1zm29 0zm13 0zm-32 1zm4 0zm18 0zm10 0zm-30 1zm11 0zm34 0zm-118 1zm30 0zm47 0zm11 0zm11 0zm4 1zm9 0zm-40 1zm27 0zm7 0zm14 0zm-123 1zm50 0zm1 1zm28 0zm0 0zm1 0zm5 0zm4 0zm14 0zm12 0zm-87 1zm16 0zm29 0zm1 0zm11 0zm30 0zm-35 1zm19 0zm6 0zm2 0zm-59 1zm39 0zm7 0zm4 0zm5 0zm17 0zm-115 1zm54 0zm25 0zm-5 1zm-25 1zm-76 1zm86 0zm11 0zm19 0zm22 0zm-111 1zm68 0zm8 0zm14 0zm2 0zm9 0zm-6 1zm-34 1zm-15 1zm20 0zm11 0zm32 0zm20 0zm-105 1zm20 0zm21 1zm1 0zm-12 1zm14 0zm3 0zm13 0zm2 0zm2 0zm17 0zm-62 1zm1 0zm23 0zm8 0zm21 0zm-60 1zm22 0zm14 0zm7 0zm10 0zm11 0zm9 0zm8 0zm2 0zm-201 1zm133 0zm28 0zm7 0zm4 0zm0 0zm-116 1zm10 0zm19 0zm43 0zm22 0zm14 0zm1 0zm-115 1zm41 0zm53 0zm4 0zm46 0zm-67 1zm5 0zm4 0zm3 0zm8 1zm17 0zm6 0zm-68 1zm27 0zm5 0zm11 0zm15 0zm3 0zm56 0zm-218 1zm22 0zm131 0zm23 0zm3 0zm19 0zm-39 1zm19 0zm-54 1zm9 0zm6 0zm5 0zm10 0zm-7 1zm13 0zm-182 1zm28 0zm94 0zm35 0zm5 0zm2 0zm9 0zm7 0zm12 0zm2 0zm2 0zm27 0zm-193 1zm83 0zm55 0zm14 0zm13 0zm20 0zm-146 1zm47 0zm2 0zm36 0zm10 0zm11 0zm17 0zm10 0zm18 0zm-117 1zm15 0zm2 0zm14 0zm37 0zm12 0zm4 0zm0 0zm-78 1zm52 0zm11 0zm1 0zm-53 1zm33 0zm2 0zm5 0zm3 0zm16 0zm-82 1zm0 0zm23 0zm5 0zm31 0zm7 0zm5 0zm8 0zm12 0zm1 0zm-143 1zm104 0zm8 0zm3 0zm12 0zm13 0zm4 0zm1 0zm-82 1zm40 0zm16 0zm17 0zm10 0zm7 0zm-108 1zm34 0zm2 0zm10 0zm5 0zm6 0zm17 0zm-50 1zm2 0zm23 0zm19 0zm35 0zm-177 1zm114 0zm32 0zm6 0zm1 0zm1 0zm9 0zm41 0zm-112 1zm39 0zm8 0zm46 0zm3 0zm-64 1zm13 0zm2 0zm3 0zm1 0zm1 0zm0 0zm-81 1zm9 0zm38 0zm4 0zm19 0zm12 0zm11 0zm52 0zm-244 1zm123 0zm11 0zm22 0zm5 0zm25 0zm11 0zm3 0zm1 0zm-86 1zm59 0zm7 0zm27 0zm1 0zm18 0zm-249 1zm124 0zm9 0zm52 0zm15 0zm12 0zm13 0zm16 0zm2 0zm28 0zm22 0zm-148 1zm9 0zm62 0zm31 0zm-141 1zm21 0zm10 0zm44 0zm24 0zm40 0zm-9 1zm4 0zm7 0zm-99 1zm3 0zm10 0zm3 0zm16 0zm14 0zm22 0zm-61 1zm30 0zm8 0zm10 0zm2 0zm4 0zm11 0zm2 0zm20 0zm-71 1zm0 0zm18 0zm17 0zm15 0zm10 0zm21 0zm-126 1zm1 0zm26 0zm16 0zm43 0zm19 0zm-136 1zm72 0zm54 0zm-85 1zm33 0zm0 0zm30 0zm8 0zm2 0zm10 0zm7 0zm-86 1zm7 0zm13 0zm0 0zm46 0zm2 0zm2 0zm-212 1zm135 0zm40 0zm6 0zm13 0zm-41 1zm6 0zm29 0zm11 0zm5 0zm12 0zm11 0zm-76 1zm3 0zm20 0zm15 0zm5 0zm2 0zm16 0zm51 0zm-110 1zm3 0zm1 0zm9 0zm24 0zm10 0zm3 0zm21 0zm-85 1zm11 0zm25 0zm20 0zm14 0zm1 0zm8 0zm21 0zm7 0zm11 0zm64 0zm-205 1zm39 0zm25 0zm15 0zm0 0zm8 0zm7 0zm23 0zm-43 1zm21 0zm-138 1zm48 0zm39 0zm32 0zm17 0zm29 0zm1 0zm-120 1zm1 0zm2 0zm29 0zm1 0zm14 0zm24 0zm9 0zm26 0zm-287 1zm141 0zm58 0zm44 0zm9 0zm7 0zm2 0zm26 0zm-222 1zm155 0zm14 0zm8 0zm33 0zm29 0zm-131 1zm51 0zm19 0zm1 0zm4 0zm7 0zm1 0zm10 0zm3 0zm5 0zm17 0zm64 0zm-177 1zm5 0zm11 0zm36 0zm3 0zm5 0zm4 0zm7 0zm6 0zm12 0zm14 0zm-147 1zm84 0zm20 0zm29 0zm16 0zm10 0zm-104 1zm38 0zm42 0zm-205 1zm60 0zm6 0zm41 0zm7 0zm65 0zm4 0zm-134 1zm17 0zm28 0zm50 0zm6 0zm6 0zm28 0zm4 0zm7 0zm11 0zm20 0zm-144 1zm53 0zm9 0zm8 0zm7 0zm1 0zm11 0zm0 0zm3 0zm4 0zm18 0zm1 0zm3 0zm64 0zm-120 1zm2 0zm19 0zm19 0zm10 0zm26 0zm19 0zm-124 1zm31 0zm29 0zm2 0zm0 0zm16 0zm42 0zm-142 1zm26 0zm8 0zm30 0zm7 0zm19 0zm3 0zm7 0zm25 0zm-167 1zm63 0zm8 0zm37 0zm13 0zm15 0zm40 0zm-112 1zm61 0zm12 0zm43 0zm-224 1zm48 0zm85 0zm8 0zm7 0zm3 0zm3 0zm3 0zm27 0zm10 0zm7 0zm-98 1zm10 0zm49 0zm32 0zm7 0zm20 0zm-213 1zm38 0zm71 0zm39 0zm6 0zm1 0zm5 0zm8 0zm7 0zm9 0zm4 0zm8 0zm3 0zm-82 1zm24 0zm5 0zm1 0zm3 0zm2 0zm3 0zm3 0zm29 0zm7 0zm11 0zm10 0zm1 0zm-135 1zm28 0zm12 0zm11 0zm7 0zm12 0zm27 0zm3 0zm16 0zm-93 1zm15 0zm8 0zm2 0zm18 0zm16 0zm6 0zm3 0zm5 0zm8 0zm27 0zm-114 1zm42 0zm34 0zm21 0zm-91 1zm10 0zm12 0zm35 0zm4 0zm2 0zm6 0zm13 0zm4 0zm15 0zm3 0zm1 0zm2 0zm-93 1zm22 0zm7 0zm2 0zm28 0zm13 0zm0 0zm-120 1zm27 0zm15 0zm14 0zm13 0zm7 0zm6 0zm13 0zm15 0zm14 0zm1 0zm-97 1zm34 0zm13 0zm17 0zm9 0zm-27 1zm22 0zm2 0zm54 0zm22 0zm-67 1zm30 0zm-232 1zm101 0zm20 0zm1 0zm34 0zm1 0zm2 0zm2 0zm11 0zm12 0zm17 0zm12 0zm-111 1zm12 0zm63 0zm31 0zm-127 1zm99 0zm5 0zm2 0zm24 0zm20 0zm16 0zm5 0zm-129 1zm17 0zm9 0zm20 0zm6 0zm2 0zm2 0zm10 0zm2 0zm10 0zm5 0zm28 0zm-173 1zm52 0zm10 0zm29 0zm16 0zm42 0zm0 0zm9 0zm43 0zm10 0zm-156 1zm32 0zm9 0zm18 0zm17 0zm16 0zm6 0zm11 0zm3 0zm7 0zm1 0zm12 0zm-88 1zm2 0zm4 0zm11 0zm14 0zm11 0zm27 0zm-144 1zm31 0zm24 0zm6 0zm10 0zm7 0zm0 0zm9 0zm1 0zm31 0zm1 0zm16 0zm75 0zm-248 1zm46 0zm17 0zm15 0zm2 0zm17 0zm6 0zm3 0zm1 0zm8 0zm7 0zm77 0zm-219 1zm87 0zm35 0zm4 0zm13 0zm1 0zm7 0zm14 0zm3 0zm4 0zm1 0zm2 0zm17 0zm27 0zm12 0zm-127 1zm9 0zm11 0zm53 0zm8 0zm11 0zm3 0zm-200 1zm129 0zm1 0zm6 0zm11 0zm27 0zm21 0zm-262 1zm141 0zm48 0zm18 0zm4 0zm3 0zm17 0zm3 0zm36 0zm-54 1zm14 0zm7 0zm2 0zm4 0zm3 0zm-75 1zm7 0zm13 0zm17 0zm20 0zm4 0zm4 0zm-53 1zm8 0zm16 0zm16 0zm6 0zm9 0zm42 0zm13 0zm-413 1zm283 0zm28 0zm4 0zm7 0zm21 0zm1 0zm11 0zm3 0zm4 0zm3 0zm1 0zm11 0zm27 0zm-152 1zm8 0zm56 0zm3 0zm24 0zm14 0zm-79 1zm10 0zm14 0zm17 0zm5 0zm5 0zm16 0zm21 0zm-120 1zm66 0zm14 0zm21 0zm0 0zm2 0zm16 0zm-56 1zm0 0zm6 0zm6 0zm6 0zm7 0zm46 0zm4 0zm-106 1zm5 0zm18 0zm11 0zm8 0zm1 0zm4 0zm9 0zm26 0zm12 0zm-117 1zm53 0zm18 0zm2 0zm3 0zm2 0zm1 0zm19 0zm21 0zm3 0zm-179 1zm109 0zm14 0zm1 0zm43 0zm21 0zm37 0zm-96 1zm7 0zm19 0zm18 0zm-79 1zm25 0zm3 0zm29 0zm4 0zm1 0zm-121 1zm34 0zm34 0zm2 0zm136 0zm-158 1zm28 0zm12 0zm4 0zm9 0zm-143 1zm46 0zm60 0zm29 0zm2 0zm5 0zm3 0zm4 0zm7 0zm28 0zm17 0zm-132 1zm13 0zm16 0zm23 0zm2 0zm7 0zm2 0zm7 0zm12 0zm24 0zm9 0zm-94 1zm3 0zm17 0zm1 0zm2 0zm12 0zm0 0zm14 0zm6 0zm0 0zm1 0zm51 0zm22 0zm-165 1zm22 0zm37 0zm7 0zm21 0zm21 0zm44 0zm-172 1zm54 0zm5 0zm12 0zm7 0zm9 0zm3 0zm55 0zm28 0zm-262 1zm113 0zm16 0zm20 0zm16 0zm20 0zm19 0zm6 0zm7 0zm6 0zm-157 1zm43 0zm23 0zm41 0zm15 0zm23 0zm2 0zm45 0zm-139 1zm10 0zm0 0zm24 0zm3 0zm21 0zm6 0zm2 0zm5 0zm21 0zm7 0zm9 0zm20 0zm-118 1zm14 0zm4 0zm19 0zm46 0zm-89 1zm9 0zm20 0zm12 0zm18 0zm18 0zm22 0zm-104 1zm24 0zm12 0zm4 0zm11 0zm2 0zm45 0zm2 0zm-119 1zm60 0zm3 0zm4 0zm10 0zm10 0zm7 0zm-144 1zm31 0zm33 0zm33 0zm10 0zm30 0zm17 0zm21 0zm-139 1zm37 0zm37 0zm6 0zm7 0zm28 0zm8 0zm10 0zm6 0zm11 0zm-161 1zm3 0zm27 0zm22 0zm3 0zm11 0zm36 0zm14 0zm3 0zm24 0zm90 0zm-200 1zm3 0zm50 0zm45 0zm14 0zm-145 1zm25 0zm0 0zm17 0zm5 0zm11 0zm33 0zm-105 1zm18 0zm16 0zm41 0zm8 0zm5 0zm22 0zm50 0zm22 0zm-106 1zm9 0zm24 0zm3 0zm2 0zm17 0zm9 0zm108 0zm-182 1zm9 0zm29 0zm22 0zm10 0zm13 0zm5 0zm9 0zm13 0zm-144 1zm14 0zm18 0zm40 0zm0 0zm9 0zm6 0zm12 0zm2 0zm14 0zm3 0zm44 0zm-192 1zm63 0zm2 0zm1 0zm27 0zm26 0zm3 0zm25 0zm1 0zm7 0zm23 0zm-166 1zm31 0zm18 0zm5 0zm8 0zm7 0zm27 0zm8 0zm14 0zm4 0zm3 0zm15 0zm11 0zm-161 1zm46 0zm39 0zm14 0zm20 0zm12 0zm-98 1zm10 0zm46 0zm4 0zm6 0zm1 0zm19 0zm2 0zm12 0zm4 0zm40 0zm30 0zm-185 1zm58 0zm9 0zm3 0zm18 0zm-87 1zm53 0zm1 0zm6 0zm37 0zm10 0zm3 0zm16 0zm-250 1zm202 0zm20 0zm7 0zm5 0zm24 0zm-150 1zm82 0zm26 0zm8 0zm17 0zm12 0zm28 0zm-187 1zm4 0zm40 0zm5 0zm22 0zm21 0zm55 0zm-133 1zm0 0zm77 0zm3 0zm4 0zm2 0zm1 0zm13 0zm23 0zm17 0zm-121 1zm3 0zm46 0zm11 0zm1 0zm2 0zm2 0zm1 0zm9 0zm2 0zm8 0zm13 0zm4 0zm-59 1zm35 0zm25 0zm-84 1zm42 0zm17 0zm25 0zm18 0zm66 0zm-228 1zm98 0zm16 0zm8 0zm42 0zm77 0zm-179 1zm2 0zm-16 1zm36 0zm28 0zm27 0zm19 0zm2 0zm41 0zm-173 1zm86 0zm15 0zm16 0zm3 0zm13 0zm13 0zm-173 1zm13 0zm36 0zm33 0zm12 0zm37 0zm-64 1zm15 0zm19 0zm16 0zm9 0zm4 0zm-112 1zm44 0zm19 0zm5 0zm14 0zm2 0zm93 0zm-146 1zm3 0zm44 0zm5 0zm9 0zm0 0zm15 0zm5 0zm41 0zm-113 1zm25 0zm16 0zm4 0zm2 0zm1 0zm24 0zm71 0zm-168 1zm21 0zm32 0zm14 0zm7 0zm1 0zm42 0zm-83 1zm1 0zm3 0zm1 0zm32 0zm12 0zm4 0zm19 0zm2 0zm26 0zm-106 1zm3 0zm11 0zm3 0zm19 0zm10 0zm4 0zm28 0zm-114 1zm23 0zm27 0zm25 0zm2 0zm4 0zm10 0zm0 0zm-110 1zm46 0zm10 0zm5 0zm33 0zm15 0zm11 0zm2 0zm-143 1zm47 0zm28 0zm67 0zm10 0zm-157 1zm33 0zm35 0zm5 0zm3 0zm0 0zm43 0zm70 0zm-175 1zm8 0zm49 0zm11 0zm33 0zm25 0zm20 0zm37 0zm-147 1zm43 0zm18 0zm0 0zm3 0zm3 0zm6 0zm24 0zm13 0zm7 0zm2 0zm-237 1zm112 0zm11 0zm40 0zm3 0zm18 0zm24 0zm-86 1zm25 0zm4 0zm0 0zm26 1zm8 0zm17 0zm51 0zm-99 1zm11 0zm-107 1zm65 0zm24 0zm8 0zm54 0zm-66 1zm7 0zm4 0zm3 0zm17 0zm7 0zm11 0zm8 0zm9 0zm17 0zm-79 1zm26 0zm-68 1zm49 0zm16 0zm6 0zm2 0zm15 0zm26 0zm-228 1zm229 0zm-154 1zm30 0zm24 0zm49 0zm0 0zm2 0zm5 0zm33 0zm18 0zm-100 1zm13 0zm22 0zm0 0zm11 0zm142 0zm-243 1zm44 0zm17 0zm31 0zm21 0zm3 0zm100 0zm-196 1zm71 0zm33 0zm73 0zm4 0zm-211 1zm127 0zm-64 1zm2 0zm27 0zm1 0zm32 0zm5 0zm9 0zm7 0zm-31 1zm3 0zm10 0zm4 0zm39 0zm-64 1zm1 0zm3 0zm11 0zm18 0zm41 0zm-105 1zm53 0zm1 0zm3 0zm41 0zm2 0zm-119 1zm26 0zm52 0zm60 0zm-105 1zm12 0zm26 0zm-81 1zm31 0zm34 0zm6 0zm60 0zm-168 1zm22 0zm50 0zm34 0zm3 0zm27 0zm11 0zm-96 1zm22 0zm19 0zm-73 1zm47 0zm44 0zm167 0zm-191 1zm20 0zm-48 1zm3 0zm11 0zm29 0zm25 0zm5 0zm26 0zm-172 1zm60 0zm8 0zm8 0zm55 0zm6 0zm-34 1zm1 0zm55 0zm-145 1zm38 0zm12 0zm35 0zm0 0zm4 0zm54 0zm6 0zm72 0zm52 0zm-234 1zm26 0zm10 0zm14 0zm11 0zm7 0zm10 0zm1 0zm18 0zm1 0zm4 0zm15 0zm6 0zm-132 1zm29 0zm34 0zm23 0zm18 0zm-153 1zm143 0zm25 0zm3 0zm-83 1zm0 0zm7 1zm44 0zm50 0zm21 0zm-119 1zm2 0zm96 0zm-118 1zm21 0zm35 0zm38 0zm-79 1zm7 0zm20 0zm24 0zm28 0zm-170 1zm71 0zm13 0zm4 0zm27 0zm4 0zm7 0zm-56 1zm39 0zm4 0zm6 0zm18 0zm59 0zm-170 1zm27 0zm4 0zm12 0zm19 0zm22 0zm17 0zm1 0zm-112 1zm13 0zm84 0zm29 0zm25 0zm8 0zm-123 1zm7 0zm24 0zm33 0zm0 0zm-53 1zm54 0zm8 0zm22 0zm68 0zm-284 1zm133 0zm2 0zm7 0zm8 0zm18 0zm4 0zm17 0zm-81 1zm16 0zm35 1zm3 0zm6 0zm5 0zm1 1zm15 0zm20 0zm-95 1zm47 0zm-106 1zm55 0zm17 0zm13 0zm15 0zm10 0zm5 0zm32 0zm6 0zm6 0zm-39 1zm-62 1zm92 0zm22 0zm-153 1zm30 1zm106 0zm6 0zm13 1zm20 0zm-154 1zm49 0zm5 0zm28 0zm20 0zm-111 1zm96 0zm-41 1zm15 0zm16 0zm9 0zm3 0zm0 0zm-83 1zm41 0zm4 0zm62 0zm35 0zm-94 1zm27 0zm-54 1zm21 0zm22 0zm6 0zm-40 1zm18 0zm40 0zm-25 1zm-12 1zm62 0zm-141 1zm120 0zm14 0zm34 0zm-151 1zm27 0zm19 0zm20 0zm22 0zm-84 1zm57 0zm10 0zm23 0zm-103 1zm43 0zm20 0zm26 0zm-50 1zm11 0zm74 0zm47 0zm-57 1zm-54 1zm2 0zm13 0zm40 1zm-26 1zm8 0zm9 0zm10 0zm-80 1zm14 0zm19 0zm18 0zm26 0zm9 0zm-80 1zm55 0zm7 0zm23 0zm-144 1zm38 0zm52 0zm20 0zm31 0zm-40 1zm-173 1zm118 0zm4 0zm74 0zm-115 1zm6 0zm35 0zm16 0zm73 0zm130 0zm-206 1zm37 0zm67 0zm4 0zm-157 1zm47 0zm-27 1zm27 0zm-54 1zm31 0zm8 0zm36 0zm26 0zm22 0zm-147 1zm135 0zm41 0zm41 0zm-149 1zm2 2zm84 0zm13 0zm-219 1zm134 0zm2 0zm-41 1zm101 0zm65 0zm15 0zm2 0zm-143 1zm9 0zm16 0zm20 0zm-63 1zm16 0zm-31 1zm12 0zm34 0zm6 0zm8 0zm14 0zm-41 1zm4 0zm19 0zm15 0zm14 0zm9 0zm72 0zm-115 1zm1 0zm5 0zm46 0zm-114 1zm37 0zm54 0zm-102 1zm46 0zm11 0zm-75 1zm73 0zm-28 1zm-40 1zm45 0zm-21 1zm5 0zm25 0zm4 0zm20 0zm14 0zm35 1zm8 0zm-47 1zm-130 1zm289 0zm-231 1zm43 0zm51 0zm-66 1zm-51 1zm22 0zm21 1zm32 0zm-20 1zm52 0zm-176 1zm168 0zm-29 1zm11 0zm-21 1zm25 0zm106 0zm-82 1zm-66 1zm-63 1zm77 1zm3 0zm4 0zm48 0zm22 0zm-114 1zm28 0zm52 0zm-81 3zm38 0zm15 0zm40 0zm-97 2zm32 0zm49 0zm147 0zm-175 1zm-117 1zm28 0zm6 0zm90 0zm122 0zm-150 1zm25 0zm23 1zm-84 1zm73 0zm-152 1zm137 0zm-25 1zm4 0zm22 0zm12 2zm21 0zm-125 1zm34 0zm82 0zm1 0zm51 0zm-182 1zm73 0zm-29 2zm7 0zm99 1zm-56 1zm30 0zm32 0zm-157 1zm56 0zm106 0zm-80 2zm-25 1zm131 1zm-136 1zm-126 1zm160 1zm22 0zm108 0zm-178 1zm28 1zm33 1zm69 2zm-124 1zm157 0zm-273 1zm85 1zm59 0zm-63 3zm35 2zm39 0zm32 0zm156 0zm-223 2zm18 0zm-131 1zm59 0zm71 0zm60 0zm-55 1zm-39 1zm10 0zm13 0zm37 1zm9 1zm8 0zm-31 1zm1 0zm3 0zm22 0zm-91 1zm94 0zm73 0zm-233 1zm167 1zm-71 2zm10 1zm-30 1zm45 0zm5 1zm-103 1zm93 0zm120 0zm-124 1zm47 0zm-77 1zm4 0zm105 1zm57 1zm-182 1zm-79 1zm155 2zm183 0zm-123 1zm-21 2zm-3 1zm-122 1zm18 0zm-17 1zm48 0zm123 3zm-211 1zm88 0zm36 0zm-27 1zm-176 3zm101 0zm33 1zm170 1zm-175 1zm23 0zm22 1zm41 0zm-107 2zm38 2zm-33 5zm52 0zm-1 2zm-34 2zm144 0zm-168 1zm74 2zm-53 2zm24 1zm104 0zm-128 1zm24 3zm7 0zm-9 4zm84 2zm-27 2zm-97 2zm-23 2zm44 10zm-6 2zm150 0zm-124 4zm-32 3zm-34 1zm28 1zm-11 3zm20 4zm-5 3zm-32 5zm59 0zm-103 3zm81 11zm99 3zm-53 7zm55 1zm-106 2zm67 3zm2 18z"/><path d="M416 8zm159 2zm43 0zm-66 4zm-82 2zm117 5zm-42 1zm-1 1zm-65 2zm27 3zm46 0zm-21 1zm55 0zm-3 1zm12 0zm-24 2zm-14 1zm-36 1zm31 1zm25 0zm-51 1zm128 1zm-167 1zm10 0zm48 4zm40 1zm-5 1zm32 1zm8 4zm-182 2zm112 0zm97 1zm-92 1zm24 0zm22 1zm43 1zm-108 1zm36 0zm-169 1zm-49 3zm193 0zm27 0zm-191 3zm93 1zm102 0zm9 0zm-155 1zm69 0zm-78 1zm103 0zm-119 1zm156 0zm4 0zm14 0zm-24 2zm39 1zm-42 1zm15 0zm26 0zm-61 1zm8 0zm34 0zm-151 1zm128 0zm68 0zm-50 1zm-92 2zm-49 1zm-51 2zm233 0zm4 0zm-6 1zm-44 1zm14 0zm21 0zm-134 1zm76 0zm4 0zm12 1zm43 0zm-40 1zm0 0zm-104 1zm41 0zm26 0zm50 0zm5 0zm7 0zm-68 2zm37 0zm43 0zm-157 1zm100 0zm19 0zm5 1zm51 0zm-181 2zm42 0zm119 0zm-30 2zm5 0zm-35 1zm-33 1zm26 0zm3 0zm37 0zm16 0zm35 0zm-90 1zm4 0zm25 0zm10 0zm-58 1zm59 0zm-19 1zm39 0zm-96 1zm26 0zm0 0zm70 0zm-31 1zm-26 1zm7 0zm-32 1zm87 0zm-42 1zm16 0zm1 0zm18 0zm-43 1zm17 0zm-13 1zm52 0zm-82 1zm41 0zm17 0zm-42 1zm7 0zm28 0zm1 0zm-92 1zm23 0zm25 0zm35 0zm-27 1zm3 0zm24 0zm12 0zm-13 1zm5 0zm4 0zm5 0zm18 0zm-66 1zm-103 1zm87 0zm34 0zm9 0zm8 0zm27 0zm-54 1zm10 0zm12 0zm18 0zm4 0zm22 0zm-80 1zm13 0zm1 0zm17 0zm16 0zm0 0zm8 0zm63 0zm-148 1zm34 0zm6 0zm42 0zm12 0zm0 0zm-184 1zm116 0zm25 0zm6 0zm10 0zm9 0zm-101 1zm36 0zm2 0zm17 0zm26 0zm9 0zm39 0zm4 0zm10 0zm-215 1zm27 0zm7 0zm40 0zm72 0zm25 1zm3 0zm3 0zm11 0zm-197 1zm46 0zm89 0zm41 0zm4 0zm25 0zm-84 1zm53 0zm0 0zm4 0zm2 0zm1 0zm-78 1zm29 0zm20 0zm5 0zm40 0zm-118 1zm35 0zm29 0zm6 0zm19 0zm10 0zm12 0zm23 0zm-90 1zm15 0zm12 0zm22 0zm17 0zm60 0zm-131 1zm21 0zm8 0zm1 0zm55 0zm-82 1zm15 0zm12 0zm8 0zm6 0zm1 0zm-58 1zm6 0zm7 0zm10 0zm20 0zm23 0zm13 0zm-107 1zm39 0zm7 0zm49 0zm18 0zm-110 1zm21 0zm48 0zm35 0zm-113 1zm22 0zm45 0zm9 0zm5 0zm-123 1zm131 0zm7 0zm0 0zm1 0zm1 0zm3 0zm49 0zm-164 1zm32 0zm33 0zm4 0zm2 0zm11 0zm27 0zm-51 1zm7 0zm1 0zm25 0zm10 0zm7 0zm4 0zm3 0zm2 0zm7 0zm-92 1zm7 0zm55 0zm3 0zm14 0zm12 0zm-71 1zm11 0zm56 0zm10 0zm-55 1zm1 0zm4 0zm38 0zm-68 1zm35 0zm4 0zm2 0zm0 0zm0 0zm1 0zm1 0zm3 0zm14 0zm35 0zm-135 1zm34 0zm24 0zm3 0zm4 0zm39 0zm3 0zm13 0zm14 0zm16 0zm-147 1zm53 0zm15 0zm3 0zm26 0zm19 0zm-135 1zm9 0zm56 0zm2 0zm29 0zm1 0zm17 0zm12 0zm-64 1zm8 0zm8 0zm16 0zm14 0zm5 0zm-49 1zm5 0zm26 0zm8 0zm1 0zm14 0zm12 0zm1 0zm0 0zm13 0zm-150 1zm57 0zm32 0zm24 0zm8 0zm6 0zm-119 1zm114 0zm44 0zm-158 1zm5 0zm23 0zm16 0zm51 0zm7 0zm7 0zm15 0zm-69 1zm35 0zm10 0zm0 0zm4 0zm9 0zm42 0zm-119 1zm34 0zm6 0zm22 0zm20 0zm4 0zm-218 1zm210 0zm20 0zm-117 1zm15 0zm18 0zm13 0zm1 0zm0 0zm4 0zm33 0zm9 0zm15 0zm5 0zm14 0zm-252 1zm222 0zm18 0zm-201 1zm138 0zm49 0zm7 0zm4 0zm15 0zm5 0zm-90 1zm16 0zm0 0zm9 0zm1 0zm18 0zm4 0zm32 0zm3 0zm-181 1zm42 0zm14 0zm2 0zm56 0zm7 0zm6 0zm6 0zm16 0zm37 0zm-151 1zm16 0zm13 0zm27 0zm8 0zm42 0zm1 0zm79 0zm-168 1zm14 0zm26 0zm2 0zm7 0zm4 0zm6 0zm35 0zm1 0zm-115 1zm84 0zm4 0zm33 0zm-80 1zm26 0zm8 0zm23 0zm18 0zm13 0zm14 0zm2 0zm-112 1zm14 0zm4 0zm17 0zm16 0zm2 0zm21 0zm21 0zm5 0zm-132 1zm84 0zm2 0zm17 0zm-50 1zm15 0zm7 0zm1 0zm16 0zm16 0zm9 0zm5 0zm7 0zm35 0zm-135 1zm29 0zm2 0zm25 0zm21 0zm24 0zm-276 1zm80 0zm171 0zm14 0zm4 0zm-68 1zm18 0zm17 0zm0 0zm3 0zm-55 1zm1 0zm18 0zm2 0zm9 0zm7 0zm16 0zm53 0zm-187 1zm109 0zm2 0zm0 0zm8 0zm24 0zm7 0zm8 0zm8 0zm-120 1zm27 0zm4 0zm28 0zm10 0zm28 0zm8 0zm3 0zm18 0zm5 0zm13 0zm-120 1zm51 0zm4 0zm12 0zm10 0zm2 0zm20 0zm11 0zm-147 1zm32 0zm15 0zm33 0zm13 0zm11 0zm16 0zm-127 1zm16 0zm22 0zm10 0zm4 0zm11 0zm1 0zm27 0zm3 0zm16 0zm27 0zm1 0zm19 0zm-125 1zm27 0zm6 0zm23 0zm6 0zm0 0zm42 0zm9 0zm10 0zm-186 1zm6 0zm103 0zm10 0zm40 0zm3 0zm20 0zm-103 1zm4 0zm7 0zm0 0zm11 0zm13 0zm1 0zm12 0zm12 0zm8 0zm-90 1zm18 0zm23 0zm25 0zm13 0zm5 0zm1 0zm-130 1zm21 0zm60 0zm18 0zm42 0zm2 0zm2 0zm10 0zm13 0zm1 0zm17 0zm-169 1zm34 0zm10 0zm9 0zm3 0zm6 0zm36 0zm10 0zm10 0zm2 0zm1 0zm6 0zm17 0zm-155 1zm32 0zm15 0zm22 0zm7 0zm34 0zm46 0zm-86 1zm14 0zm8 0zm3 0zm4 0zm8 0zm15 0zm23 0zm29 0zm-115 1zm41 0zm3 0zm5 0zm6 0zm1 0zm16 0zm1 0zm1 0zm1 0zm9 0zm34 0zm-118 1zm33 0zm5 0zm12 0zm1 0zm5 0zm4 0zm14 0zm-108 1zm28 0zm12 0zm26 0zm6 0zm24 0zm3 0zm4 0zm7 0zm9 0zm1 0zm-101 1zm12 0zm31 0zm18 0zm11 0zm26 0zm8 0zm34 0zm-125 1zm1 0zm33 0zm19 0zm15 0zm26 0zm41 0zm-157 1zm54 0zm5 0zm33 0zm18 0zm13 0zm-153 1zm20 0zm1 0zm1 0zm28 0zm9 0zm22 0zm8 0zm3 0zm1 0zm4 0zm1 0zm1 0zm18 0zm1 0zm27 0zm-107 1zm11 0zm28 0zm15 0zm28 0zm11 0zm23 0zm9 0zm-169 1zm52 0zm27 0zm20 0zm30 0zm1 0zm21 0zm-139 1zm75 0zm9 0zm12 0zm4 0zm1 0zm9 0zm17 0zm-96 1zm19 0zm6 0zm20 0zm2 0zm0 0zm7 0zm7 0zm3 0zm5 0zm11 0zm26 0zm4 0zm7 0zm-100 1zm15 0zm18 0zm20 0zm11 0zm49 0zm-164 1zm18 0zm13 0zm13 0zm4 0zm40 0zm5 0zm9 0zm16 0zm4 0zm2 0zm9 0zm1 0zm4 0zm-121 1zm19 0zm67 0zm15 0zm-147 1zm30 0zm35 0zm46 0zm3 0zm18 0zm5 0zm30 0zm4 0zm7 0zm4 0zm-130 1zm9 0zm7 0zm24 0zm5 0zm17 0zm9 0zm16 0zm38 0zm3 0zm-114 1zm10 0zm39 0zm6 0zm3 0zm-42 1zm10 0zm50 0zm-77 1zm27 0zm13 0zm1 0zm18 0zm2 0zm17 0zm1 0zm1 0zm6 0zm8 0zm0 0zm-86 1zm8 0zm4 0zm13 0zm9 0zm5 0zm11 0zm12 0zm2 0zm9 0zm40 0zm-181 1zm84 0zm71 0zm0 0zm29 0zm-146 1zm23 0zm26 0zm33 0zm6 0zm11 0zm-122 1zm10 0zm11 0zm12 0zm37 0zm18 0zm13 0zm9 0zm-74 1zm25 0zm7 0zm1 0zm4 0zm46 0zm36 0zm-121 1zm7 0zm4 0zm28 0zm11 0zm8 0zm5 0zm12 0zm12 0zm-141 1zm35 0zm26 0zm11 0zm19 0zm2 0zm14 0zm33 0zm8 0zm7 0zm-101 1zm42 0zm1 0zm9 0zm35 0zm9 0zm54 0zm-203 1zm67 0zm5 0zm8 0zm4 0zm11 0zm8 0zm9 0zm8 0zm1 0zm25 0zm13 0zm12 0zm19 0zm-141 1zm8 0zm20 0zm12 0zm29 0zm16 0zm-122 1zm30 0zm49 0zm16 0zm10 0zm15 0zm18 0zm-84 1zm5 0zm3 0zm13 0zm11 0zm7 0zm17 0zm27 0zm5 0zm23 0zm-152 1zm56 0zm3 0zm11 0zm25 0zm4 0zm36 0zm-132 1zm37 0zm2 0zm6 0zm4 0zm14 0zm3 0zm1 0zm47 0zm-82 1zm72 0zm10 0zm-115 1zm22 0zm34 0zm2 0zm4 0zm86 0zm-94 1zm18 0zm5 0zm3 0zm0 0zm8 0zm19 0zm3 0zm28 0zm9 0zm-120 1zm3 0zm4 0zm1 0zm25 0zm11 0zm38 0zm12 0zm-142 1zm9 0zm76 0zm19 0zm13 0zm12 0zm-178 1zm57 0zm5 0zm34 0zm7 0zm36 0zm1 0zm24 0zm23 0zm2 0zm16 0zm4 0zm-143 1zm17 0zm48 0zm42 0zm-151 1zm21 0zm9 0zm25 0zm36 0zm21 0zm6 0zm3 0zm2 0zm5 0zm10 0zm4 0zm12 0zm13 0zm8 0zm14 0zm-333 1zm193 0zm33 0zm2 0zm23 0zm36 0zm1 0zm-169 1zm65 0zm25 0zm23 0zm34 0zm18 0zm51 0zm-164 1zm39 0zm3 0zm42 0zm5 0zm8 0zm10 0zm0 0zm5 0zm2 0zm6 0zm3 0zm7 0zm-115 1zm18 0zm5 0zm4 0zm43 0zm7 0zm21 0zm36 0zm-141 1zm24 0zm9 0zm36 0zm3 0zm17 0zm17 0zm-95 1zm28 0zm7 0zm14 0zm1 0zm33 0zm5 0zm9 0zm10 0zm0 0zm9 0zm-101 1zm20 0zm9 0zm5 0zm23 0zm4 0zm15 0zm-68 1zm41 0zm-43 1zm9 0zm21 0zm42 0zm71 0zm-154 1zm17 0zm31 0zm6 0zm14 0zm19 0zm-85 1zm69 0zm9 0zm6 0zm-98 1zm24 0zm1 0zm37 0zm12 0zm7 0zm7 0zm5 0zm3 0zm-84 1zm30 0zm13 0zm0 0zm32 0zm7 0zm16 0zm13 0zm8 0zm-175 1zm65 0zm22 0zm22 0zm7 0zm46 0zm-104 1zm3 0zm26 0zm33 0zm9 0zm3 0zm22 0zm-195 1zm40 0zm21 0zm28 0zm36 0zm2 0zm9 0zm6 0zm2 0zm2 0zm6 0zm17 0zm2 0zm0 0zm4 0zm27 0zm-107 1zm5 0zm54 0zm2 0zm19 0zm2 0zm6 0zm-137 1zm66 0zm19 0zm12 0zm3 0zm27 0zm16 0zm-119 1zm5 0zm21 0zm4 0zm41 0zm3 0zm17 0zm5 0zm20 0zm-119 1zm22 0zm25 0zm30 0zm37 0zm11 0zm-157 1zm57 0zm41 0zm4 0zm1 0zm4 0zm9 0zm5 0zm13 0zm-125 1zm19 0zm14 0zm39 0zm11 0zm1 0zm11 0zm31 0zm62 0zm-140 1zm21 0zm1 0zm20 0zm19 0zm10 0zm5 0zm7 0zm22 0zm-110 1zm33 0zm26 0zm2 0zm9 0zm9 0zm33 0zm-120 1zm18 0zm19 0zm17 0zm4 0zm24 0zm-101 1zm52 0zm48 0zm12 0zm8 0zm-104 1zm2 0zm8 0zm1 0zm13 0zm4 0zm6 0zm40 0zm12 0zm-183 1zm61 0zm8 0zm11 0zm48 0zm6 0zm21 0zm10 0zm14 0zm7 0zm42 0zm-153 1zm45 0zm28 0zm2 0zm8 0zm7 0zm36 0zm21 0zm11 0zm-162 1zm38 0zm18 0zm5 0zm19 0zm9 0zm4 0zm14 0zm2 0zm74 0zm4 0zm-103 1zm14 0zm1 0zm2 0zm-152 1zm70 0zm5 0zm22 0zm5 0zm2 0zm27 0zm14 0zm1 0zm22 0zm23 0zm-130 1zm23 0zm25 0zm46 0zm14 0zm10 0zm-73 1zm9 0zm29 0zm3 0zm7 0zm67 0zm-168 1zm14 0zm0 0zm17 0zm13 0zm30 0zm4 0zm8 0zm7 0zm21 0zm4 0zm7 0zm5 0zm39 0zm-134 1zm10 0zm22 0zm4 0zm11 0zm2 0zm3 0zm-157 1zm144 0zm5 0zm5 0zm46 0zm1 0zm-92 1zm0 0zm36 0zm39 0zm23 0zm2 0zm-128 1zm8 0zm23 0zm7 0zm16 0zm2 0zm14 0zm4 0zm23 0zm-111 1zm21 0zm48 0zm1 0zm0 0zm8 0zm1 0zm2 0zm15 0zm39 0zm-109 1zm56 0zm13 0zm3 0zm13 0zm51 0zm-138 1zm27 0zm16 0zm0 0zm10 0zm1 0zm12 0zm4 0zm16 0zm19 0zm-92 1zm8 0zm2 0zm27 0zm46 0zm2 0zm9 0zm-87 1zm15 0zm9 0zm43 0zm26 0zm-122 1zm17 0zm26 0zm15 0zm25 0zm-106 1zm17 0zm17 0zm23 0zm9 0zm16 0zm6 0zm1 0zm0 0zm17 0zm-88 1zm38 0zm25 0zm18 0zm50 0zm-260 1zm175 0zm14 0zm15 0zm5 0zm-132 1zm30 0zm30 0zm8 0zm15 0zm10 0zm10 0zm1 0zm5 0zm7 0zm70 0zm35 0zm-178 1zm16 0zm6 0zm39 0zm3 0zm13 0zm25 0zm-119 1zm21 0zm35 0zm15 0zm7 0zm13 0zm9 0zm-100 1zm16 0zm15 0zm2 0zm34 0zm8 0zm3 0zm64 0zm3 0zm16 0zm-110 1zm14 0zm9 0zm15 0zm83 0zm-134 1zm24 0zm17 0zm100 0zm-149 1zm27 0zm9 0zm12 0zm1 0zm57 0zm17 0zm-236 1zm113 0zm0 0zm6 0zm21 0zm19 0zm2 0zm-165 1zm133 0zm0 0zm1 0zm5 0zm5 0zm27 0zm23 0zm12 0zm53 0zm-140 1zm36 0zm25 0zm5 0zm55 0zm-207 1zm78 0zm1 0zm38 0zm17 0zm7 0zm11 0zm22 0zm-200 1zm31 0zm112 0zm0 0zm32 0zm17 0zm14 0zm1 0zm-38 1zm22 0zm-81 1zm10 0zm35 0zm46 0zm12 0zm20 0zm-115 1zm4 0zm57 0zm33 0zm12 0zm-157 1zm36 0zm55 0zm17 0zm11 0zm32 0zm-129 1zm1 0zm5 0zm36 0zm22 0zm11 0zm14 0zm-56 1zm12 0zm4 0zm0 0zm27 0zm5 0zm1 0zm-89 1zm27 0zm34 0zm1 0zm13 0zm60 0zm-111 1zm12 0zm0 0zm33 0zm25 0zm-44 1zm7 0zm12 0zm5 0zm23 0zm-127 1zm31 0zm64 0zm3 0zm49 0zm-50 1zm37 0zm-135 1zm56 0zm28 0zm13 0zm0 0zm16 0zm42 0zm-97 1zm18 0zm12 0zm4 0zm-87 1zm2 0zm48 0zm21 0zm3 0zm17 0zm5 0zm3 0zm8 0zm62 0zm-76 1zm4 0zm0 0zm74 0zm-141 1zm14 0zm16 0zm0 0zm21 0zm67 0zm-92 1zm14 0zm3 0zm3 0zm44 0zm-98 1zm3 0zm20 0zm25 0zm30 0zm2 0zm10 0zm5 1zm30 0zm-88 1zm15 0zm1 0zm13 0zm-119 1zm72 0zm39 0zm32 0zm-101 1zm3 0zm19 0zm77 0zm12 0zm-90 1zm46 0zm11 0zm3 0zm12 0zm3 0zm7 0zm8 0zm9 0zm20 0zm7 0zm-123 1zm35 0zm9 0zm86 0zm-213 1zm39 0zm32 0zm41 0zm2 0zm18 0zm48 0zm21 0zm-177 1zm64 0zm9 0zm25 0zm11 0zm7 0zm1 0zm12 0zm28 0zm-59 1zm3 0zm1 0zm1 0zm32 0zm-51 1zm2 0zm6 0zm-205 1zm169 0zm11 0zm14 0zm4 0zm22 0zm25 0zm0 0zm8 0zm-225 1zm114 0zm78 0zm15 0zm25 0zm-83 1zm174 0zm-161 1zm38 0zm-66 1zm45 0zm2 0zm9 0zm19 0zm12 0zm21 0zm-97 1zm27 0zm25 0zm-113 1zm111 0zm81 0zm-208 1zm45 0zm46 0zm-34 1zm19 0zm90 0zm4 0zm-149 1zm44 0zm22 0zm25 0zm0 0zm-71 1zm65 0zm-35 1zm28 0zm22 0zm8 0zm17 0zm-163 1zm77 0zm4 0zm50 0zm14 0zm9 0zm29 0zm52 0zm-188 1zm13 0zm31 0zm10 0zm15 0zm6 0zm2 0zm17 0zm13 0zm-95 1zm6 0zm28 0zm10 0zm5 0zm14 0zm9 0zm42 0zm44 0zm-112 1zm3 0zm24 0zm-88 1zm5 0zm3 0zm44 1zm23 0zm51 0zm86 0zm-166 1zm71 0zm-50 1zm3 0zm4 0zm16 0zm4 0zm44 0zm-119 1zm31 0zm4 0zm58 0zm11 0zm12 0zm-157 1zm58 0zm28 0zm39 0zm-91 1zm38 0zm-8 1zm210 0zm-246 1zm34 0zm1 0zm22 0zm57 0zm-112 1zm9 0zm37 0zm10 0zm6 0zm23 1zm-116 1zm9 0zm64 0zm-59 1zm37 0zm31 0zm18 0zm14 0zm46 0zm8 0zm-156 1zm39 0zm15 0zm23 0zm-55 1zm14 0zm29 0zm9 0zm19 0zm-123 1zm133 0zm38 0zm116 0zm-202 1zm128 0zm-293 1zm162 0zm26 0zm5 0zm21 0zm5 0zm12 0zm13 0zm51 0zm-124 1zm9 0zm31 0zm6 0zm-105 1zm37 0zm35 0zm34 0zm-63 1zm9 0zm14 0zm8 0zm16 0zm-61 1zm10 0zm12 0zm-35 1zm32 0zm31 0zm-61 1zm57 0zm36 0zm-39 1zm11 0zm15 0zm-101 1zm28 0zm80 0zm-111 1zm27 0zm10 0zm14 0zm159 0zm-181 1zm11 0zm4 0zm18 0zm8 0zm13 0zm84 0zm-170 1zm10 0zm32 0zm5 0zm26 0zm46 0zm9 0zm38 0zm-128 1zm5 0zm77 0zm17 0zm-113 1zm8 0zm3 0zm16 0zm48 0zm-127 1zm35 0zm18 0zm29 0zm4 0zm58 0zm-39 1zm9 0zm-131 1zm92 0zm16 0zm4 0zm5 0zm17 0zm24 0zm-63 1zm58 0zm-36 1zm-113 1zm120 0zm31 0zm24 0zm-42 1zm3 0zm6 0zm136 0zm-195 1zm7 0zm-45 1zm7 0zm83 0zm16 0zm-93 2zm77 0zm8 0zm-142 1zm78 0zm70 0zm90 0zm-168 2zm4 0zm1 0zm22 0zm32 0zm-115 1zm61 0zm35 0zm8 0zm22 0zm-116 1zm39 0zm57 0zm33 0zm42 0zm59 0zm-168 1zm7 0zm8 0zm3 0zm58 0zm-108 1zm18 0zm109 0zm28 0zm-168 1zm200 0zm-152 1zm-106 1zm113 0zm13 0zm22 0zm4 0zm2 0zm9 0zm7 0zm-89 1zm8 0zm-105 1zm17 0zm51 0zm41 0zm12 0zm32 0zm15 1zm-115 1zm29 0zm44 0zm21 0zm-72 2zm38 0zm3 0zm183 0zm-160 1zm15 0zm26 0zm-133 1zm42 0zm58 0zm-84 1zm111 0zm123 0zm-198 1zm20 0zm9 0zm-110 1zm47 0zm42 0zm22 0zm20 0zm-52 1zm-11 1zm10 0zm26 0zm-55 2zm24 0zm52 0zm41 0zm-148 1zm28 0zm35 0zm15 0zm28 1zm-91 1zm150 1zm42 0zm-150 1zm18 0zm153 0zm-146 1zm3 0zm70 0zm-76 1zm-63 1zm79 0zm0 1zm29 0zm-7 1zm-60 1zm19 0zm194 0zm-308 1zm93 0zm33 2zm-59 1zm53 0zm-57 1zm41 0zm8 0zm8 0zm20 0zm32 0zm-77 1zm63 0zm-38 1zm52 0zm-82 1zm14 0zm91 0zm-77 1zm7 0zm14 0zm8 0zm18 0zm-86 2zm11 0zm-33 1zm12 0zm105 0zm-141 1zm27 0zm119 0zm11 0zm-91 1zm9 0zm29 0zm-129 1zm98 0zm89 2zm-133 1zm31 1zm1 0zm84 1zm-116 1zm19 0zm47 0zm-21 1zm-73 2zm-8 1zm14 0zm33 0zm-15 1zm8 0zm6 0zm-28 1zm-6 2zm42 1zm116 0zm-133 1zm24 0zm-54 1zm234 0zm-254 1zm39 0zm173 0zm-80 1zm-99 1zm37 0zm84 0zm-122 1zm4 0zm44 0zm2 0zm27 0zm37 0zm-131 2zm60 0zm-78 1zm94 0zm108 0zm-53 1zm-153 1zm14 0zm30 0zm68 0zm-50 1zm63 0zm-87 1zm1 1zm3 0zm64 0zm-72 1zm157 1zm-94 2zm-37 1zm308 0zm-284 1zm14 2zm160 0zm-147 1zm-10 3zm-83 2zm110 0zm-205 4zm131 1zm-22 1zm105 0zm144 0zm-197 2zm-72 1zm34 3zm8 2zm-50 1zm81 0zm14 1zm-49 1zm176 0zm-133 1zm26 0zm117 0zm-123 2zm13 0zm-67 3zm-34 1zm2 0zm-35 2zm105 1zm107 7zm-202 2zm19 2zm30 0zm-46 2zm12 0zm77 0zm-72 1zm94 4zm-115 1zm-35 8zm129 0zm-63 3zm30 0zm134 0zm-158 4zm-55 2zm71 4zm-92 10zm76 0zm31 7zm-120 6zm-47 1zm216 0zm-194 1zm174 5zm-114 2zm93 0zm-136 1zm65 10zm162 1zm76 1zm-227 1zm-45 9zm40 0zm194 2zm-147 1zm73 12zm-12 1z"/><path d="M539 11zm30 1zm-20 8zm-30 2zm141 2zm-140 9zm21 0zm-30 3zm69 1zm-3 4zm-169 2zm98 2zm79 1zm67 0zm-237 3zm229 0zm-88 2zm-9 5zm64 2zm-124 1zm-23 1zm83 0zm-2 1zm11 0zm1 0zm59 0zm-104 2zm70 1zm-66 1zm26 0zm47 2zm-63 1zm69 1zm8 1zm6 0zm6 0zm-213 1zm159 0zm27 0zm-80 1zm63 0zm-62 1zm51 0zm15 0zm-32 1zm-3 1zm19 1zm-50 1zm60 0zm4 0zm-5 1zm9 0zm-53 1zm29 0zm-30 1zm43 0zm3 0zm15 0zm-28 1zm24 0zm-63 1zm47 0zm21 1zm26 0zm-67 1zm30 0zm25 0zm-113 2zm-7 1zm5 0zm82 0zm9 0zm-91 1zm116 0zm-62 1zm-65 1zm98 0zm7 0zm4 0zm2 0zm-133 1zm75 0zm35 0zm41 0zm28 0zm-52 1zm16 0zm-99 1zm47 0zm31 0zm-53 1zm5 0zm15 0zm40 0zm-83 1zm80 0zm25 0zm-72 1zm8 0zm12 0zm-15 1zm34 0zm1 0zm2 0zm-83 1zm10 0zm42 0zm6 0zm7 0zm29 0zm-54 1zm35 0zm47 0zm-166 1zm84 0zm30 0zm5 0zm-10 1zm-70 1zm69 0zm68 0zm-141 1zm32 0zm3 0zm14 0zm6 0zm66 0zm1 0zm-47 1zm14 0zm15 0zm-79 1zm4 0zm37 0zm3 0zm9 0zm34 0zm-281 1zm212 0zm48 0zm10 0zm1 0zm-52 1zm30 0zm3 0zm13 0zm-68 1zm32 0zm13 0zm3 0zm4 0zm19 0zm1 0zm-89 1zm103 0zm-119 1zm42 0zm1 0zm43 0zm14 0zm-80 1zm31 0zm13 0zm11 0zm0 0zm-82 1zm63 0zm99 0zm-238 1zm179 0zm-56 1zm34 0zm5 0zm0 0zm2 0zm9 0zm-24 1zm20 0zm3 0zm14 0zm-124 1zm23 0zm18 0zm39 0zm14 0zm10 0zm13 0zm51 0zm-36 1zm12 0zm-114 1zm26 0zm19 0zm13 1zm11 0zm-18 1zm-64 1zm47 0zm18 0zm34 0zm4 0zm-77 1zm23 0zm20 0zm30 0zm7 0zm12 0zm-73 1zm6 0zm4 0zm45 0zm-78 1zm21 0zm13 0zm2 0zm16 0zm36 0zm33 0zm-123 1zm29 0zm8 0zm16 0zm45 0zm-97 1zm66 0zm10 0zm-24 1zm2 0zm5 0zm3 0zm6 0zm1 0zm-92 1zm63 0zm12 0zm3 0zm11 0zm-112 1zm64 0zm1 0zm12 0zm22 0zm-121 1zm55 0zm24 0zm61 0zm16 0zm26 0zm-142 1zm33 0zm29 0zm59 0zm2 0zm-80 1zm12 0zm10 0zm29 0zm49 0zm-71 1zm20 0zm20 0zm-72 1zm4 0zm9 0zm16 0zm17 0zm10 0zm7 0zm-74 1zm36 0zm4 0zm3 0zm4 0zm1 0zm13 0zm-104 1zm38 0zm28 0zm26 0zm27 0zm-51 1zm16 0zm3 0zm0 0zm5 0zm1 0zm8 0zm1 0zm-12 1zm6 0zm-83 1zm11 0zm10 0zm12 0zm58 0zm29 0zm-79 1zm1 0zm5 0zm17 0zm17 0zm5 0zm33 0zm-98 1zm19 0zm18 0zm46 0zm-71 1zm23 0zm14 0zm6 0zm1 0zm23 0zm33 0zm-122 1zm21 0zm31 0zm13 0zm7 0zm18 0zm2 0zm-100 1zm42 0zm1 0zm17 0zm4 0zm2 0zm13 0zm10 0zm-51 1zm34 0zm13 0zm11 0zm-103 1zm48 0zm3 0zm1 0zm17 0zm6 0zm21 0zm15 0zm-129 1zm56 0zm41 0zm14 0zm15 0zm7 0zm-107 1zm7 0zm46 0zm13 0zm10 0zm3 0zm24 0zm-71 1zm27 0zm2 0zm24 0zm9 0zm-60 1zm10 0zm8 0zm4 0zm5 0zm24 0zm27 0zm-142 1zm37 0zm17 0zm30 0zm16 0zm22 0zm-57 1zm2 0zm12 0zm11 0zm5 0zm-38 1zm30 0zm13 0zm4 0zm20 0zm-69 1zm8 1zm2 0zm12 0zm2 0zm1 0zm16 0zm30 0zm8 0zm-111 1zm19 0zm9 0zm7 0zm4 0zm15 0zm5 0zm5 0zm12 0zm14 0zm2 0zm-55 1zm8 0zm1 0zm2 0zm41 0zm5 0zm12 0zm-195 1zm49 0zm30 0zm49 0zm8 0zm12 0zm7 0zm2 0zm14 0zm16 0zm-86 1zm3 0zm30 0zm16 0zm1 0zm21 0zm26 0zm48 0zm-270 1zm107 0zm4 0zm10 0zm1 0zm30 0zm4 0zm22 0zm5 0zm21 0zm-64 1zm22 0zm18 0zm9 0zm15 0zm2 0zm-98 1zm4 0zm19 0zm33 0zm4 0zm3 0zm6 0zm11 0zm21 0zm-65 1zm4 0zm9 0zm4 0zm10 0zm11 0zm12 0zm31 0zm-224 1zm74 0zm55 0zm5 0zm1 0zm41 0zm8 0zm1 0zm23 0zm36 0zm-158 1zm60 0zm10 0zm2 0zm30 0zm9 0zm-99 1zm40 0zm10 0zm4 0zm4 0zm21 0zm2 0zm18 0zm1 0zm-99 1zm36 0zm5 0zm5 0zm16 0zm1 0zm37 0zm11 0zm-100 1zm31 0zm0 0zm21 0zm1 0zm3 0zm6 0zm5 0zm6 0zm6 0zm-123 1zm39 0zm17 0zm30 0zm3 0zm34 0zm5 0zm10 0zm3 0zm10 0zm-153 1zm69 0zm2 0zm3 0zm1 0zm15 0zm1 0zm5 0zm0 0zm2 0zm1 0zm21 0zm1 0zm1 0zm16 0zm10 0zm2 0zm4 0zm-213 1zm144 0zm17 0zm8 0zm12 0zm7 0zm7 0zm-132 1zm38 0zm24 0zm32 0zm2 0zm4 0zm6 0zm1 0zm1 0zm11 0zm28 0zm-116 1zm21 0zm2 0zm0 0zm3 0zm7 0zm9 0zm33 0zm13 0zm14 0zm7 0zm-104 1zm13 0zm42 0zm5 0zm19 0zm4 0zm6 0zm11 0zm4 0zm-109 1zm23 0zm29 0zm20 0zm8 0zm3 0zm9 0zm14 0zm19 0zm-126 1zm29 0zm23 0zm17 0zm11 0zm38 0zm-128 1zm21 0zm6 0zm35 0zm3 0zm9 0zm4 0zm31 0zm5 0zm-92 1zm8 0zm20 0zm12 0zm26 0zm9 0zm30 0zm4 0zm-62 1zm5 0zm15 0zm3 0zm-157 1zm100 0zm28 0zm3 0zm3 0zm18 0zm30 0zm-218 1zm78 0zm42 0zm19 0zm4 0zm63 0zm-47 1zm4 0zm7 0zm6 0zm4 0zm11 0zm15 0zm1 0zm3 0zm9 0zm8 0zm7 0zm-108 1zm36 0zm31 0zm14 0zm-131 1zm34 0zm11 0zm21 0zm8 0zm25 0zm4 0zm11 0zm3 0zm28 0zm-147 1zm115 0zm0 0zm6 0zm9 0zm2 0zm-222 1zm98 0zm40 0zm6 0zm41 0zm17 0zm16 0zm6 0zm3 0zm-127 1zm45 0zm21 0zm1 0zm20 0zm12 0zm2 0zm-88 1zm1 0zm54 0zm38 0zm2 0zm3 0zm5 0zm4 0zm-112 1zm8 0zm28 0zm47 0zm31 0zm-76 1zm11 0zm3 0zm4 0zm10 0zm26 0zm5 0zm3 0zm8 0zm16 0zm22 0zm-165 1zm12 0zm43 0zm28 0zm9 0zm-57 1zm25 0zm17 0zm6 0zm14 0zm4 0zm42 0zm-54 1zm1 0zm5 0zm0 0zm3 0zm0 0zm42 0zm9 0zm-92 1zm4 0zm4 0zm11 0zm1 0zm0 0zm53 0zm6 0zm12 0zm14 0zm24 0zm-151 1zm21 0zm11 0zm85 0zm-152 1zm1 0zm43 0zm10 0zm23 0zm3 0zm22 0zm3 0zm0 0zm15 0zm2 0zm3 0zm-110 1zm25 0zm11 0zm12 0zm27 0zm11 0zm10 0zm-96 1zm10 0zm21 0zm8 0zm7 0zm28 0zm1 0zm2 0zm0 0zm1 0zm3 0zm5 0zm18 0zm19 0zm-162 1zm8 0zm39 0zm2 0zm27 0zm7 0zm8 0zm12 0zm1 0zm3 0zm15 0zm29 0zm-162 1zm41 0zm0 0zm42 0zm32 0zm7 0zm35 0zm9 0zm29 0zm-115 1zm19 0zm9 0zm4 0zm28 0zm6 0zm45 0zm-98 1zm6 0zm15 0zm1 0zm32 0zm-100 1zm8 0zm97 0zm12 0zm-80 1zm32 0zm13 0zm1 0zm4 0zm24 0zm17 0zm-192 1zm31 0zm11 0zm90 0zm5 0zm5 0zm6 0zm2 0zm23 0zm2 0zm16 0zm-191 1zm55 0zm48 0zm31 0zm5 0zm50 0zm0 0zm18 0zm-191 1zm65 0zm3 0zm23 0zm12 0zm13 0zm33 0zm28 0zm-199 1zm32 0zm91 0zm6 0zm8 0zm4 0zm4 0zm12 0zm19 0zm-83 1zm39 0zm9 0zm5 0zm4 0zm7 0zm12 0zm5 0zm5 0zm1 0zm-90 1zm20 0zm10 0zm7 0zm40 0zm1 0zm1 0zm0 0zm5 0zm7 0zm6 0zm-169 1zm105 0zm7 0zm12 0zm4 0zm1 0zm13 0zm-140 1zm46 0zm54 0zm3 0zm9 0zm2 0zm2 0zm6 0zm9 0zm2 0zm9 0zm5 0zm2 0zm2 0zm16 0zm-104 1zm42 0zm21 0zm33 0zm14 0zm-148 1zm63 0zm4 0zm10 0zm32 0zm1 0zm-92 1zm21 0zm22 0zm10 0zm10 0zm2 0zm16 0zm9 0zm19 0zm7 0zm1 0zm-114 1zm110 0zm8 0zm12 0zm-107 1zm20 0zm6 0zm22 0zm3 0zm4 0zm11 0zm21 0zm-84 1zm4 0zm12 0zm14 0zm7 0zm28 0zm13 0zm30 0zm-83 1zm0 0zm11 0zm25 0zm4 0zm24 0zm-139 1zm33 0zm73 0zm16 0zm0 0zm4 0zm-140 1zm43 0zm4 0zm23 0zm1 0zm7 0zm21 0zm3 0zm3 0zm9 0zm2 0zm17 0zm5 0zm7 0zm46 0zm-184 1zm103 0zm13 0zm4 0zm-148 1zm58 0zm14 0zm33 0zm15 0zm24 0zm2 0zm17 0zm-72 1zm27 0zm0 0zm21 0zm3 0zm21 0zm-81 1zm1 0zm7 0zm34 0zm-103 1zm41 0zm76 0zm1 0zm22 0zm21 0zm-142 1zm15 0zm7 0zm23 0zm-25 1zm12 0zm1 0zm50 0zm-76 1zm31 0zm14 0zm3 0zm5 0zm36 0zm19 0zm2 0zm5 0zm10 0zm-153 1zm20 0zm3 0zm65 0zm3 0zm4 0zm32 0zm4 0zm40 0zm10 0zm-155 1zm37 0zm16 0zm37 0zm43 0zm3 0zm-168 1zm29 0zm83 0zm1 0zm15 0zm35 0zm-150 1zm3 0zm12 0zm118 0zm1 0zm40 0zm-146 1zm18 0zm13 0zm7 0zm21 0zm19 0zm1 0zm4 0zm6 0zm15 0zm6 0zm-147 1zm84 0zm11 0zm28 0zm-59 1zm10 0zm28 0zm-81 1zm30 0zm12 0zm22 0zm8 0zm6 0zm4 0zm36 0zm2 0zm24 0zm-210 1zm77 0zm43 0zm4 0zm-38 1zm9 0zm17 0zm14 0zm2 0zm16 0zm1 0zm14 0zm8 0zm7 0zm-137 1zm44 0zm18 0zm6 0zm7 0zm15 0zm2 0zm1 0zm60 0zm-89 1zm21 0zm15 0zm-90 1zm1 0zm37 0zm23 0zm9 0zm21 0zm2 0zm5 0zm9 0zm38 0zm-132 1zm36 0zm8 0zm4 0zm10 0zm1 0zm8 0zm2 0zm7 0zm2 0zm6 0zm30 0zm6 0zm6 0zm3 0zm59 0zm-149 1zm6 0zm13 0zm32 0zm12 0zm6 0zm13 0zm87 0zm-226 1zm45 0zm7 0zm1 0zm16 0zm4 0zm11 0zm35 0zm42 0zm-154 1zm12 0zm37 0zm3 0zm3 0zm5 0zm22 0zm2 0zm12 0zm33 0zm3 0zm-164 1zm20 0zm35 0zm80 0zm11 0zm4 0zm40 0zm-101 1zm6 0zm17 0zm11 0zm1 0zm29 0zm18 0zm10 0zm-115 1zm26 0zm7 0zm10 0zm-98 1zm63 0zm8 0zm15 0zm6 0zm6 0zm24 0zm4 0zm-118 1zm2 0zm18 0zm18 0zm12 0zm17 0zm20 0zm0 0zm36 0zm-55 1zm16 0zm11 0zm2 0zm1 0zm7 0zm2 0zm35 0zm7 0zm2 0zm19 0zm-126 1zm17 0zm32 0zm-61 1zm6 0zm16 0zm20 0zm1 0zm15 0zm-81 1zm1 0zm22 0zm62 0zm14 0zm30 0zm22 0zm8 0zm-152 1zm40 0zm3 0zm13 0zm18 0zm2 0zm2 0zm24 0zm51 0zm-213 1zm54 0zm28 0zm19 0zm23 0zm27 0zm3 0zm33 0zm2 0zm-93 1zm32 0zm17 0zm20 0zm24 0zm-67 1zm8 0zm2 0zm9 0zm-112 1zm41 0zm68 0zm33 0zm5 0zm2 0zm1 0zm7 0zm-134 1zm28 0zm14 0zm1 0zm35 0zm23 0zm7 0zm1 0zm24 0zm32 0zm-167 1zm10 0zm65 0zm23 0zm19 0zm29 0zm13 0zm-99 1zm40 0zm12 0zm9 0zm19 0zm-124 1zm2 0zm17 0zm24 0zm24 0zm29 0zm9 0zm-126 1zm25 0zm43 0zm14 0zm-49 1zm9 0zm19 0zm39 0zm17 0zm-92 1zm12 0zm25 0zm32 0zm76 0zm-86 1zm8 0zm8 0zm20 0zm9 0zm-53 1zm17 0zm22 0zm3 0zm20 0zm-232 1zm130 0zm19 0zm4 0zm55 0zm8 0zm-136 1zm31 0zm19 0zm34 0zm3 0zm4 0zm20 0zm19 0zm6 0zm-125 1zm41 0zm8 0zm17 0zm0 0zm7 0zm20 0zm2 0zm11 0zm8 0zm-136 1zm29 0zm10 0zm1 0zm83 0zm10 0zm-158 1zm38 0zm33 0zm37 0zm7 0zm3 0zm4 0zm1 0zm32 0zm-98 1zm30 0zm16 0zm25 0zm13 0zm27 0zm-110 1zm37 0zm11 0zm36 0zm3 0zm1 0zm8 0zm13 0zm19 0zm2 0zm-143 1zm17 0zm8 0zm21 0zm17 0zm2 0zm1 1zm17 0zm7 0zm18 0zm7 0zm-192 1zm85 0zm11 0zm4 0zm28 0zm14 0zm8 0zm109 0zm-261 1zm109 0zm26 0zm-68 1zm142 0zm-180 1zm120 0zm44 0zm-102 1zm48 0zm10 0zm0 0zm1 0zm1 0zm21 0zm9 0zm-66 1zm2 0zm15 0zm5 0zm19 0zm29 0zm17 0zm47 0zm-174 1zm55 0zm14 0zm3 0zm8 0zm12 1zm8 0zm1 0zm27 0zm-127 1zm34 0zm10 0zm9 0zm1 0zm5 0zm5 0zm12 0zm31 0zm18 0zm50 0zm-223 1zm23 0zm53 0zm39 0zm17 0zm64 0zm-128 1zm72 0zm4 0zm-138 1zm87 0zm45 0zm-84 1zm42 0zm20 0zm3 0zm41 0zm17 0zm19 0zm-207 1zm38 0zm2 0zm78 0zm19 0zm33 0zm6 0zm-84 1zm35 0zm18 0zm9 0zm16 0zm-203 1zm101 0zm49 0zm3 0zm-129 1zm8 0zm49 0zm4 0zm47 0zm14 0zm0 0zm16 0zm21 0zm-88 1zm4 0zm10 0zm2 0zm13 0zm23 0zm3 0zm15 0zm7 0zm1 0zm10 0zm15 0zm-135 1zm79 0zm9 0zm55 0zm6 0zm-120 1zm79 0zm-121 1zm60 0zm15 0zm14 0zm3 0zm5 0zm1 0zm33 0zm14 0zm6 0zm29 0zm12 0zm-96 1zm0 0zm32 0zm31 0zm9 0zm13 0zm-131 1zm21 0zm11 0zm32 0zm9 0zm5 0zm25 0zm57 0zm-128 1zm5 0zm14 0zm6 0zm27 0zm1 0zm16 0zm87 0zm71 0zm-264 1zm33 0zm2 0zm39 0zm6 0zm10 0zm-68 1zm21 0zm44 0zm7 0zm-72 1zm58 0zm22 0zm-163 1zm4 0zm25 0zm23 0zm2 0zm3 0zm11 0zm15 0zm44 0zm21 0zm5 0zm8 0zm6 0zm22 0zm-202 1zm91 0zm48 0zm2 0zm44 0zm-87 1zm1 0zm49 0zm15 0zm-90 1zm41 0zm60 0zm-175 1zm42 0zm79 0zm7 0zm35 0zm10 0zm-83 1zm27 0zm11 0zm18 0zm16 0zm-87 1zm12 0zm20 0zm160 0zm-291 1zm86 0zm-3 1zm8 0zm19 0zm4 0zm6 0zm32 0zm5 0zm34 0zm37 0zm-146 1zm51 0zm54 0zm-61 1zm29 0zm69 0zm45 0zm-207 1zm78 0zm59 0zm-102 1zm5 0zm11 0zm15 0zm8 0zm60 0zm-84 1zm26 0zm5 0zm0 0zm2 0zm40 0zm28 0zm49 0zm-241 1zm68 0zm23 0zm32 0zm59 0zm-171 1zm45 0zm13 0zm29 0zm21 0zm15 0zm30 0zm36 0zm63 0zm-169 1zm47 0zm103 0zm-223 1zm51 0zm1 0zm30 0zm8 0zm16 0zm55 0zm-130 1zm22 0zm17 0zm11 0zm64 0zm-81 1zm3 0zm3 0zm28 0zm27 0zm21 0zm11 0zm-106 1zm28 0zm68 0zm-79 1zm13 0zm50 0zm60 0zm-182 1zm59 0zm22 0zm2 0zm87 0zm-96 1zm-87 1zm37 0zm149 0zm-155 1zm15 0zm20 1zm7 0zm57 0zm-74 1zm11 0zm50 0zm16 0zm33 0zm-185 1zm13 0zm46 0zm52 0zm2 0zm5 0zm20 0zm0 0zm-104 1zm6 0zm61 0zm27 0zm23 0zm-136 1zm23 0zm89 0zm-4 1zm57 0zm-65 2zm18 0zm-161 1zm92 0zm24 0zm43 0zm-82 1zm13 0zm1 0zm10 0zm22 0zm8 0zm38 0zm-83 1zm31 0zm13 0zm33 0zm-14 1zm26 0zm-194 1zm141 0zm41 0zm7 0zm74 0zm-28 1zm29 0zm-190 1zm30 0zm32 0zm1 0zm15 0zm6 0zm-21 1zm31 0zm71 0zm26 0zm-163 1zm-14 1zm44 0zm-86 1zm77 0zm62 0zm-50 1zm121 0zm-203 1zm69 0zm-39 1zm55 0zm5 0zm-131 1zm33 0zm110 0zm-85 1zm22 0zm95 0zm-84 1zm23 0zm59 0zm15 0zm0 1zm-214 1zm36 0zm36 0zm52 0zm178 0zm-275 2zm27 0zm20 0zm87 0zm-4 1zm6 0zm48 0zm21 0zm-85 1zm-56 1zm68 0zm10 0zm25 0zm50 0zm-146 1zm32 0zm5 0zm2 0zm10 0zm111 0zm-198 1zm45 0zm28 0zm12 0zm6 0zm28 0zm-49 1zm-76 2zm47 0zm60 0zm75 0zm-248 1zm47 0zm77 0zm13 1zm113 0zm-196 1zm22 0zm42 0zm45 0zm-46 1zm32 0zm31 1zm-19 1zm23 0zm16 0zm-187 1zm120 0zm4 0zm22 0zm82 0zm-91 1zm11 0zm-16 1zm39 2zm63 1zm48 0zm-126 1zm38 0zm-146 2zm51 0zm3 0zm18 0zm79 0zm30 0zm-70 1zm59 0zm-159 2zm49 0zm54 0zm32 0zm-110 1zm13 0zm5 0zm8 0zm8 0zm-33 1zm19 0zm60 0zm-54 2zm88 0zm27 1zm-166 2zm-34 1zm213 0zm-160 1zm-4 1zm63 0zm8 0zm33 0zm-73 1zm1 0zm45 0zm2 0zm-69 1zm23 0zm45 0zm-80 1zm10 0zm4 0zm152 0zm-210 1zm49 0zm9 0zm15 0zm36 0zm20 0zm-139 1zm44 0zm37 0zm11 0zm3 0zm2 0zm9 0zm-129 1zm106 0zm14 1zm136 0zm-151 1zm114 1zm107 0zm-257 1zm66 0zm86 0zm-145 2zm52 0zm-43 1zm20 0zm7 0zm-56 1zm17 0zm17 0zm51 1zm14 0zm133 0zm-253 1zm9 0zm32 0zm41 0zm193 1zm-267 1zm102 0zm-64 1zm-113 1zm193 0zm-47 1zm-28 1zm67 0zm2 2zm-157 1zm128 0zm56 1zm-53 1zm118 0zm-118 1zm-41 2zm61 0zm0 1zm-78 1zm5 0zm39 0zm74 0zm-78 1zm74 0zm-148 1zm-24 2zm26 0zm-34 2zm153 0zm-115 1zm1 1zm-11 2zm43 0zm-3 1zm95 0zm43 0zm-50 3zm-98 1zm5 0zm-23 1zm61 0zm-41 1zm0 0zm209 0zm-171 1zm29 0zm7 0zm-150 1zm115 0zm-62 1zm-18 2zm120 0zm-88 3zm52 1zm-62 1zm48 0zm93 0zm-108 1zm-5 1zm108 0zm-116 1zm-8 3zm38 0zm-166 2zm22 0zm73 0zm108 2zm-82 2zm197 0zm-112 1zm-150 1zm33 0zm121 0zm-39 3zm-46 1zm158 0zm-196 2zm41 1zm-2 2zm246 0zm-260 3zm3 3zm-1 1zm-7 2zm-79 3zm191 5zm-153 9zm197 2zm-189 5zm51 1zm-36 1zm122 0zm-65 1zm-51 1zm-12 2zm82 2zm-138 2zm117 0zm-95 1zm13 0zm50 1zm74 0zm-71 4zm56 3zm-188 2zm66 1zm-57 7zm54 7zm143 0zm76 0zm-208 6zm-14 4zm52 23zm79 4zm-45 1zm128 2zm-87 1zm-148 10z"/></g></g></g><g clip-path="url(#cr)"><g filter="url(#bl)"><g transform="scale(0.5)" fill="none" stroke="#ff0000" stroke-opacity="0.18" stroke-width="2.5" stroke-linecap="square"><path d="M1184 8zm35 0zm42 0zm-106 1zm10 6zm12 3zm-40 1zm62 0zm39 0zm-137 1zm76 1zm32 2zm-84 2zm52 4zm12 1zm83 0zm8 0zm-304 1zm274 0zm-99 1zm126 0zm-185 4zm45 0zm57 0zm-47 1zm-146 1zm186 2zm19 0zm21 1zm-52 1zm-66 1zm13 1zm154 1zm-103 2zm-46 2zm94 2zm9 2zm-85 1zm68 0zm18 0zm-14 1zm-18 1zm-50 1zm36 0zm31 3zm43 0zm-30 1zm6 0zm11 0zm-180 3zm166 0zm22 0zm-250 2zm237 0zm4 0zm-57 1zm55 0zm-42 1zm21 0zm48 1zm-52 1zm-5 2zm-64 1zm16 0zm9 0zm13 0zm-13 1zm65 0zm-77 1zm33 0zm5 0zm-46 2zm28 0zm9 0zm2 1zm7 1zm7 0zm-263 1zm268 0zm-179 1zm137 0zm52 0zm-75 1zm59 0zm16 0zm9 0zm3 0zm-45 1zm15 0zm0 0zm25 0zm2 0zm44 0zm-84 1zm23 0zm11 0zm7 0zm-55 1zm40 0zm-44 1zm34 0zm8 0zm23 0zm-88 1zm-20 1zm15 0zm32 0zm15 0zm24 0zm-118 1zm88 0zm12 0zm33 0zm-108 1zm35 0zm29 0zm12 0zm2 0zm49 0zm12 0zm-153 1zm28 0zm28 0zm12 0zm16 0zm3 0zm-89 1zm65 0zm2 0zm3 0zm5 0zm-61 1zm35 0zm27 0zm10 0zm34 0zm3 0zm1 0zm-68 1zm23 0zm19 0zm-51 1zm12 0zm2 0zm44 0zm22 1zm-101 1zm42 0zm31 0zm5 0zm18 0zm-142 1zm83 0zm1 0zm3 0zm55 0zm1 0zm5 0zm3 0zm-80 1zm14 0zm15 0zm8 0zm3 0zm5 0zm-168 1zm24 0zm104 1zm13 0zm15 0zm8 0zm11 0zm-114 1zm86 0zm20 0zm35 0zm1 0zm13 0zm5 0zm-130 1zm18 0zm27 0zm16 0zm8 0zm10 0zm-109 1zm53 0zm36 0zm49 0zm-74 1zm12 0zm80 0zm-83 1zm44 0zm-53 1zm31 0zm67 0zm-156 1zm32 0zm43 0zm14 0zm-43 1zm22 0zm12 0zm21 0zm6 0zm10 0zm16 0zm-62 1zm17 0zm1 0zm21 0zm39 0zm-174 1zm95 0zm-110 1zm141 0zm24 0zm-47 1zm0 0zm22 0zm-52 1zm17 0zm8 0zm5 0zm7 0zm-78 1zm40 0zm28 0zm57 0zm-68 1zm2 0zm15 0zm35 0zm22 0zm-115 1zm61 0zm1 0zm2 0zm5 0zm35 0zm66 0zm-115 1zm32 0zm-62 1zm31 0zm7 0zm0 0zm5 0zm-33 1zm20 0zm5 0zm12 0zm21 0zm-85 1zm13 0zm6 0zm50 0zm0 0zm6 0zm0 0zm9 0zm-118 1zm9 0zm16 0zm26 0zm9 0zm71 0zm-132 1zm40 0zm25 0zm5 0zm4 0zm47 0zm9 0zm24 0zm-130 1zm25 0zm7 0zm16 0zm18 0zm0 0zm35 0zm-73 1zm33 0zm6 0zm4 0zm4 0zm1 0zm31 0zm12 0zm-107 1zm39 0zm6 0zm0 0zm7 0zm12 0zm1 0zm5 0zm13 0zm8 0zm-79 1zm16 0zm10 0zm28 0zm-80 1zm28 0zm14 0zm22 0zm6 0zm20 0zm-170 1zm72 0zm33 0zm13 0zm6 0zm5 0zm31 0zm0 0zm15 0zm-134 1zm26 0zm30 0zm40 0zm14 0zm2 0zm7 0zm11 0zm11 0zm-194 1zm15 0zm145 0zm5 0zm-64 1zm8 0zm25 0zm6 0zm44 0zm-118 1zm84 0zm4 0zm5 0zm3 0zm1 0zm41 0zm-93 1zm17 0zm18 0zm2 0zm2 0zm0 0zm1 0zm11 0zm57 0zm-110 1zm11 0zm21 0zm8 0zm17 0zm34 0zm-93 1zm58 0zm17 0zm-153 1zm56 0zm47 0zm2 0zm26 0zm10 0zm20 0zm35 0zm-166 1zm11 0zm28 0zm27 0zm18 0zm12 0zm27 0zm-127 1zm59 0zm8 0zm14 0zm36 0zm5 0zm-159 1zm92 0zm3 0zm14 0zm1 0zm42 0zm24 0zm-87 1zm28 0zm9 0zm17 0zm-85 1zm7 0zm18 0zm10 0zm10 0zm40 0zm13 0zm19 0zm-82 1zm10 0zm2 0zm22 0zm14 0zm3 0zm-86 1zm14 0zm15 0zm8 0zm26 0zm-65 1zm29 0zm31 0zm2 0zm5 0zm4 0zm23 0zm8 0zm34 0zm-125 1zm23 0zm33 0zm1 0zm22 0zm-173 1zm85 1zm28 0zm14 0zm33 0zm1 0zm26 0zm-125 1zm18 0zm68 0zm5 0zm17 0zm6 0zm-78 1zm32 0zm19 0zm9 0zm0 0zm9 0zm10 0zm2 0zm14 0zm4 0zm-147 1zm47 0zm25 0zm1 0zm3 0zm14 0zm5 0zm20 0zm16 0zm9 0zm-284 1zm213 0zm5 0zm15 0zm8 0zm14 0zm-145 1zm59 0zm12 0zm1 0zm34 0zm1 0zm23 0zm6 0zm11 0zm6 0zm14 0zm12 0zm-128 1zm53 0zm0 0zm20 0zm11 0zm7 0zm26 0zm11 0zm-136 1zm55 0zm13 0zm5 0zm5 0zm3 0zm37 0zm24 0zm-212 1zm111 0zm29 0zm2 0zm16 0zm0 0zm-126 1zm4 0zm64 0zm1 0zm15 0zm15 0zm16 0zm28 0zm13 0zm9 0zm-147 1zm73 0zm1 0zm5 0zm26 0zm15 0zm-107 1zm22 0zm8 0zm3 0zm19 0zm12 0zm21 0zm8 0zm7 0zm10 0zm1 0zm7 0zm-95 1zm12 0zm10 0zm4 0zm14 0zm32 0zm8 0zm9 0zm6 0zm4 0zm1 0zm18 0zm-227 1zm90 0zm1 0zm51 0zm7 0zm7 0zm18 0zm1 0zm15 0zm13 0zm22 0zm-134 1zm48 0zm23 0zm18 0zm13 0zm2 0zm5 0zm12 0zm4 0zm5 0zm-144 1zm77 0zm19 0zm6 0zm5 0zm10 0zm0 0zm11 0zm19 0zm-160 1zm17 0zm5 0zm15 0zm21 0zm16 0zm16 0zm7 0zm5 0zm47 0zm-111 1zm53 0zm18 0zm5 0zm11 0zm17 0zm2 0zm10 0zm-232 1zm157 0zm5 0zm2 0zm2 0zm3 0zm5 0zm6 0zm5 0zm2 0zm-64 1zm17 0zm28 0zm10 0zm-19 1zm9 0zm0 0zm24 0zm2 0zm2 0zm12 0zm1 0zm34 0zm-253 1zm23 0zm83 0zm63 0zm6 0zm24 0zm31 0zm-211 1zm137 0zm31 0zm4 0zm0 0zm1 0zm10 0zm6 0zm16 0zm-42 1zm3 0zm11 0zm36 0zm29 0zm-129 1zm10 0zm7 0zm8 0zm32 0zm7 0zm-67 1zm25 0zm34 0zm4 0zm7 0zm19 0zm5 0zm9 0zm-62 1zm3 0zm3 0zm0 0zm5 0zm4 0zm16 0zm2 0zm0 0zm8 0zm51 0zm0 0zm5 0zm-173 1zm9 0zm58 0zm34 0zm2 0zm13 0zm0 0zm3 0zm4 0zm-217 1zm82 0zm108 0zm1 0zm11 0zm13 0zm21 0zm-91 1zm19 0zm12 0zm-114 1zm81 0zm20 0zm3 0zm4 0zm15 0zm13 0zm11 0zm-115 1zm15 0zm15 0zm22 0zm15 0zm13 0zm11 0zm3 0zm7 0zm2 0zm-36 1zm13 0zm3 0zm14 0zm9 0zm7 0zm-215 1zm119 0zm46 0zm16 0zm12 0zm1 0zm11 0zm12 0zm0 0zm3 0zm13 0zm-134 1zm23 0zm27 0zm41 0zm9 0zm0 0zm12 0zm-61 1zm3 0zm2 0zm23 0zm24 0zm17 0zm35 0zm-109 1zm13 0zm21 0zm15 0zm0 0zm1 0zm10 0zm3 0zm11 0zm-73 1zm24 0zm14 0zm0 0zm13 0zm10 0zm12 0zm19 0zm41 0zm-206 1zm29 0zm11 0zm30 0zm7 0zm3 0zm10 0zm4 0zm17 0zm12 0zm7 0zm71 0zm-227 1zm93 0zm21 0zm0 0zm5 0zm14 0zm11 0zm45 0zm-164 1zm58 0zm2 0zm15 0zm8 0zm0 0zm1 0zm25 0zm3 0zm4 0zm2 0zm2 0zm17 0zm-228 1zm176 0zm5 0zm6 0zm7 0zm18 0zm0 0zm7 0zm4 0zm29 0zm-83 1zm8 0zm12 0zm7 0zm11 0zm19 0zm-130 1zm36 0zm18 0zm20 0zm15 0zm27 0zm9 0zm15 0zm1 0zm2 0zm15 0zm-57 1zm9 0zm4 0zm8 0zm23 0zm-102 1zm23 0zm18 0zm8 0zm1 0zm4 0zm7 0zm9 0zm9 0zm3 0zm6 0zm3 0zm36 0zm2 0zm-212 1zm83 0zm3 0zm44 0zm5 0zm12 0zm7 0zm9 0zm10 0zm-225 1zm150 0zm9 0zm19 0zm28 0zm19 0zm30 0zm-93 1zm3 0zm11 0zm6 0zm7 0zm9 0zm4 0zm11 0zm3 0zm18 0zm-143 1zm48 0zm21 0zm19 0zm21 0zm6 0zm3 0zm6 0zm7 0zm5 0zm1 0zm-156 1zm39 0zm14 0zm17 0zm3 0zm9 0zm33 0zm17 0zm7 0zm13 0zm-172 1zm74 0zm23 0zm13 0zm23 0zm3 0zm15 0zm5 0zm-55 1zm37 0zm6 0zm0 0zm18 0zm1 0zm4 0zm8 0zm1 0zm3 0zm8 0zm-95 1zm25 0zm1 0zm11 0zm1 0zm6 0zm2 0zm4 0zm7 0zm19 0zm1 0zm7 0zm-147 1zm27 0zm38 0zm59 0zm-69 1zm1 0zm1 0zm48 0zm6 0zm36 0zm22 0zm-114 1zm14 0zm15 0zm11 0zm9 0zm8 0zm55 0zm-172 1zm21 0zm32 0zm4 0zm17 0zm8 0zm14 0zm15 0zm14 0zm10 0zm10 0zm4 0zm-68 1zm24 0zm11 0zm1 0zm8 0zm2 0zm25 0zm8 0zm12 0zm-193 1zm87 0zm33 0zm29 0zm17 0zm5 0zm2 0zm2 0zm6 0zm-60 1zm7 0zm28 0zm0 0zm11 0zm7 0zm29 0zm-99 1zm3 0zm10 0zm13 0zm1 0zm12 0zm9 0zm25 0zm-198 1zm77 0zm12 0zm43 0zm42 0zm28 0zm-160 1zm16 0zm63 0zm5 0zm5 0zm5 0zm1 0zm3 0zm8 0zm9 0zm5 0zm2 0zm17 0zm25 0zm-122 1zm46 0zm9 0zm14 0zm6 0zm12 0zm2 0zm12 0zm9 0zm83 0zm-199 1zm79 0zm1 0zm12 0zm2 0zm20 0zm-90 1zm5 0zm7 0zm3 0zm26 0zm6 0zm4 0zm38 0zm1 0zm4 0zm78 0zm-137 1zm1 0zm15 0zm25 0zm51 0zm-122 1zm5 0zm13 0zm2 0zm8 0zm27 0zm0 0zm12 0zm18 0zm1 0zm8 0zm-104 1zm14 0zm24 0zm30 0zm2 0zm4 0zm3 0zm24 0zm-175 1zm42 0zm24 0zm44 0zm23 0zm10 0zm1 0zm17 0zm5 0zm-177 1zm119 0zm25 0zm5 0zm9 0zm-128 1zm42 0zm3 0zm29 0zm10 0zm5 0zm2 0zm11 0zm3 0zm5 0zm7 0zm1 0zm18 0zm23 0zm14 0zm15 0zm-135 1zm6 0zm25 0zm17 0zm16 0zm2 0zm6 0zm6 0zm25 0zm-159 1zm38 0zm42 0zm2 0zm19 0zm39 0zm2 0zm6 0zm2 0zm-92 1zm10 0zm34 0zm3 0zm2 0zm1 0zm6 0zm1 0zm0 0zm26 0zm6 0zm9 0zm-102 1zm14 0zm1 0zm12 0zm18 0zm43 0zm66 0zm-207 1zm66 0zm3 0zm17 0zm17 0zm18 0zm11 0zm3 0zm-112 1zm16 0zm1 0zm14 0zm44 0zm1 0zm1 0zm25 0zm1 0zm78 0zm-202 1zm50 0zm35 0zm16 0zm9 0zm0 0zm7 0zm12 0zm7 0zm1 0zm-114 1zm4 0zm50 0zm8 0zm13 0zm21 0zm15 0zm-65 1zm40 0zm7 0zm7 0zm10 0zm-92 1zm23 0zm8 0zm8 0zm3 0zm3 0zm10 0zm8 0zm12 0zm34 0zm-100 1zm9 0zm1 0zm8 0zm12 0zm3 0zm6 0zm13 0zm11 0zm-133 1zm130 0zm2 0zm21 0zm17 0zm-153 1zm21 0zm20 0zm5 0zm0 0zm19 0zm12 0zm24 0zm19 0zm-56 1zm15 0zm7 0zm14 0zm18 0zm10 0zm8 0zm4 0zm-130 1zm14 0zm10 0zm21 0zm16 0zm9 0zm6 0zm5 0zm17 0zm2 0zm10 0zm21 0zm12 0zm-94 1zm3 0zm39 0zm31 0zm59 0zm-186 1zm45 0zm4 0zm4 0zm7 0zm6 0zm3 0zm36 0zm20 0zm4 0zm25 0zm6 0zm-109 1zm10 0zm2 0zm29 0zm3 0zm13 0zm2 0zm6 0zm15 0zm17 0zm-117 1zm4 0zm3 0zm22 0zm6 0zm21 0zm6 0zm38 0zm-128 1zm36 0zm8 0zm27 0zm4 0zm17 0zm13 0zm-75 1zm27 0zm12 0zm8 0zm5 0zm14 0zm30 0zm36 0zm-185 1zm55 0zm28 0zm4 0zm28 0zm5 0zm-71 1zm21 0zm5 0zm0 0zm39 0zm-89 1zm2 0zm71 0zm110 0zm-181 1zm8 0zm6 0zm22 0zm9 0zm11 0zm21 0zm-34 1zm3 0zm11 0zm7 0zm-108 1zm11 0zm12 0zm33 0zm46 0zm0 0zm20 0zm16 0zm6 0zm27 0zm18 0zm-245 1zm104 0zm48 0zm9 0zm6 0zm0 0zm16 0zm28 0zm-131 1zm21 0zm23 0zm3 0zm17 0zm5 0zm10 0zm3 0zm12 0zm9 0zm2 0zm8 0zm10 0zm5 0zm-66 1zm16 0zm3 0zm2 0zm2 0zm5 0zm29 0zm36 0zm-162 1zm26 0zm4 0zm1 0zm13 0zm45 0zm15 0zm7 0zm3 0zm-258 1zm163 0zm1 0zm13 0zm8 0zm4 0zm2 0zm18 0zm35 0zm32 0zm0 0zm15 0zm2 0zm-99 1zm40 0zm6 0zm20 0zm9 0zm-55 1zm9 0zm59 0zm3 0zm-270 1zm90 0zm117 0zm8 0zm-144 1zm108 0zm38 0zm14 0zm4 0zm0 0zm9 0zm43 0zm9 0zm-111 1zm33 0zm12 0zm11 0zm22 0zm6 0zm8 0zm-88 1zm3 0zm19 0zm34 0zm2 0zm2 0zm-119 1zm74 0zm5 0zm1 0zm17 0zm95 0zm-199 1zm31 0zm32 0zm20 0zm8 0zm16 0zm18 0zm-182 1zm37 0zm60 0zm9 0zm9 0zm9 0zm26 0zm22 0zm31 0zm-102 1zm42 0zm39 0zm-56 1zm46 0zm46 0zm-90 1zm14 0zm21 0zm33 0zm1 0zm12 0zm-86 1zm4 0zm28 0zm5 0zm4 0zm-89 1zm52 0zm25 0zm9 0zm8 0zm12 0zm6 0zm4 0zm-130 1zm62 0zm7 0zm9 0zm4 0zm68 0zm-189 1zm87 0zm13 0zm43 0zm105 0zm-199 1zm18 0zm20 0zm26 0zm0 0zm53 0zm5 0zm8 0zm-107 1zm33 0zm-60 1zm56 0zm23 0zm5 0zm4 0zm-49 1zm1 0zm2 0zm6 0zm14 0zm3 0zm16 0zm4 0zm5 0zm43 0zm13 0zm-218 1zm82 0zm41 0zm7 0zm19 0zm4 0zm4 0zm30 0zm-127 1zm22 0zm40 0zm12 0zm1 0zm13 0zm19 0zm1 0zm2 0zm7 0zm-116 1zm59 0zm12 0zm13 0zm4 0zm5 0zm25 0zm23 0zm-78 1zm11 0zm10 0zm13 0zm31 0zm0 0zm-111 1zm64 0zm9 0zm20 0zm11 0zm-186 1zm86 0zm15 0zm14 0zm47 0zm2 0zm0 0zm10 0zm-113 1zm96 0zm26 0zm19 0zm-115 1zm63 0zm29 0zm45 0zm-214 1zm92 0zm1 0zm6 0zm77 0zm21 0zm22 0zm-117 1zm7 0zm11 0zm9 0zm-55 1zm6 0zm44 0zm44 0zm44 0zm-134 1zm7 0zm47 0zm16 0zm14 0zm15 0zm-57 1zm9 0zm52 0zm7 0zm60 0zm-157 1zm46 0zm1 0zm7 0zm2 0zm1 0zm10 0zm17 0zm11 0zm60 0zm-236 1zm79 0zm26 0zm10 0zm13 0zm38 0zm-59 1zm-55 1zm11 0zm22 0zm38 0zm15 0zm-130 1zm4 0zm32 0zm26 0zm4 0zm23 0zm11 0zm23 0zm26 0zm-118 1zm7 0zm45 0zm42 0zm-63 1zm2 0zm21 0zm5 0zm24 0zm7 0zm17 0zm-54 1zm21 0zm6 0zm8 0zm136 0zm-141 1zm-160 1zm90 0zm59 0zm31 0zm-68 1zm24 0zm5 0zm5 0zm-11 1zm-14 1zm33 0zm64 0zm-156 1zm23 0zm37 0zm9 0zm20 0zm13 0zm10 0zm43 0zm-166 1zm20 0zm17 0zm24 0zm11 0zm56 0zm-166 1zm73 0zm38 0zm4 0zm18 0zm11 0zm64 0zm-129 1zm16 0zm0 0zm22 0zm64 0zm-65 1zm18 0zm13 0zm8 0zm13 0zm-125 1zm30 0zm6 0zm1 0zm14 0zm9 0zm29 0zm51 0zm0 0zm30 0zm-139 1zm42 0zm45 0zm8 0zm77 0zm-233 1zm4 0zm83 0zm59 0zm-133 1zm51 0zm20 0zm4 0zm49 0zm6 0zm-121 1zm74 0zm11 0zm41 0zm-97 1zm10 0zm38 0zm17 0zm10 0zm4 0zm-121 1zm113 0zm89 0zm-65 1zm21 0zm52 0zm-144 1zm24 0zm8 0zm17 0zm-38 1zm22 0zm45 0zm-179 1zm19 0zm40 0zm103 0zm-94 1zm7 0zm15 0zm42 0zm19 0zm-182 1zm91 0zm19 0zm42 0zm7 0zm-36 1zm32 0zm39 0zm-98 1zm68 0zm5 0zm-159 1zm137 0zm9 0zm48 0zm19 0zm80 0zm-176 1zm14 0zm45 0zm68 0zm34 0zm-274 1zm89 0zm80 0zm18 0zm71 0zm-203 1zm27 0zm43 0zm72 0zm-120 1zm34 0zm-148 1zm111 1zm22 0zm21 0zm11 0zm27 0zm16 0zm-74 1zm4 0zm17 0zm18 0zm-29 1zm97 0zm-120 1zm118 0zm-193 1zm137 0zm7 0zm8 0zm-35 1zm23 0zm41 0zm22 0zm21 0zm39 1zm-210 1zm25 0zm36 0zm57 0zm-5 1zm1 0zm12 0zm1 0zm113 0zm-234 1zm40 0zm68 0zm-200 1zm100 0zm13 0zm40 0zm9 0zm-60 1zm57 0zm-33 2zm23 0zm1 0zm11 0zm-53 1zm47 0zm19 0zm27 0zm77 0zm-151 1zm55 0zm-92 2zm15 0zm15 0zm70 0zm28 0zm-112 1zm82 0zm-62 1zm59 0zm1 0zm31 0zm6 0zm30 0zm81 0zm-166 1zm6 0zm23 0zm-17 1zm-223 1zm169 0zm77 0zm-119 1zm144 1zm17 0zm-130 1zm-111 1zm79 0zm74 0zm93 0zm-150 1zm34 1zm63 0zm-48 1zm-96 1zm40 0zm1 0zm113 0zm-173 1zm54 0zm52 0zm48 0zm13 0zm8 0zm-138 1zm45 0zm13 1zm64 0zm-141 1zm101 0zm68 1zm3 0zm-220 1zm67 0zm26 0zm66 0zm-47 1zm5 0zm3 0zm77 0zm19 0zm-141 1zm19 0zm9 0zm127 0zm-228 1zm20 0zm81 0zm40 0zm-77 1zm30 0zm27 0zm34 0zm90 0zm-172 1zm16 0zm43 0zm28 0zm-86 1zm28 0zm5 1zm43 0zm33 0zm-182 1zm27 0zm23 0zm32 0zm19 0zm46 0zm25 0zm120 0zm-217 1zm22 0zm-2 1zm47 0zm-26 1zm99 0zm-57 2zm20 0zm12 0zm-126 2zm10 0zm58 0zm54 0zm-98 1zm174 0zm-199 1zm25 0zm44 0zm157 0zm-209 1zm9 0zm-4 1zm91 0zm28 0zm-82 1zm22 0zm-99 2zm42 0zm-17 1zm50 0zm-34 1zm38 0zm36 0zm112 0zm-202 1zm46 0zm-47 1zm5 0zm10 0zm44 1zm40 0zm-115 1zm32 0zm4 2zm178 0zm-243 1zm38 0zm38 0zm97 0zm-101 1zm49 0zm-79 1zm64 1zm74 0zm-186 1zm35 0zm3 0zm42 0zm14 0zm104 0zm85 0zm-204 2zm-7 1zm-67 1zm56 1zm-8 1zm-113 1zm215 0zm-161 1zm51 0zm19 0zm31 0zm54 0zm-70 1zm-10 1zm22 1zm-66 1zm10 0zm-100 3zm99 0zm-87 1zm75 0zm19 0zm29 2zm18 3zm15 0zm-74 1zm80 0zm0 0zm-54 2zm-15 1zm17 0zm69 0zm68 0zm-89 1zm-29 1zm-17 1zm-31 2zm-54 4zm96 0zm-44 1zm106 1zm-87 2zm-39 1zm34 0zm138 3zm-126 3zm-36 5zm16 1zm57 0zm119 1zm-126 1zm-89 2zm55 1zm129 1zm104 2zm-259 1zm61 1zm-43 1zm-49 1zm7 4zm118 2zm-43 3zm60 5zm-130 3zm-50 2zm155 0zm37 5zm-104 1zm42 2zm29 3zm-66 1zm146 11zm-83 5zm-91 3zm69 0zm-97 1zm-45 2zm33 3zm30 2zm-43 29zm157 5zm-91 6zm-68 2zm180 0zm13 10zm-205 4zm146 2zm-38 2zm-192 3zm126 0z"/><path d="M1268 7zm-83 3zm106 1zm-186 1zm-14 1zm-59 1zm60 2zm138 1zm-177 2zm203 4zm-314 1zm162 0zm92 1zm-124 1zm168 1zm-42 1zm-119 1zm86 0zm84 0zm-94 1zm47 1zm6 1zm-23 2zm54 0zm-68 2zm96 1zm-120 4zm101 0zm-96 1zm-33 2zm94 3zm33 0zm-456 1zm433 0zm-65 1zm-8 1zm-37 1zm146 2zm-3 1zm-23 1zm-42 1zm37 0zm-16 1zm74 0zm-31 1zm-88 1zm-11 1zm-46 1zm-9 1zm116 0zm14 1zm-44 1zm17 0zm-49 1zm37 0zm-43 1zm-10 1zm33 0zm61 0zm-16 1zm-2 1zm-31 1zm17 1zm9 0zm-125 1zm65 0zm94 0zm-172 1zm104 0zm5 0zm19 0zm25 0zm-49 1zm3 0zm39 1zm-72 1zm23 0zm25 1zm22 0zm-136 1zm104 0zm12 0zm41 0zm-366 1zm361 0zm-79 1zm21 0zm6 0zm3 0zm1 1zm-35 1zm39 0zm12 0zm-19 1zm26 0zm3 0zm-168 1zm160 0zm-31 1zm41 0zm3 0zm6 0zm-202 1zm193 0zm3 0zm21 0zm-168 1zm101 0zm43 0zm-148 1zm-104 1zm165 0zm70 0zm7 0zm-10 1zm6 0zm19 0zm0 1zm-71 1zm75 0zm-207 1zm164 0zm25 0zm28 0zm-184 1zm119 0zm16 0zm3 0zm-13 1zm2 0zm39 0zm-100 1zm97 0zm-81 1zm12 0zm53 0zm12 0zm8 0zm-92 1zm49 0zm14 0zm7 0zm14 0zm-48 1zm0 0zm17 0zm1 0zm20 0zm1 0zm14 0zm11 0zm9 0zm9 0zm-218 1zm76 0zm45 0zm72 0zm8 0zm-235 1zm220 0zm-123 1zm102 0zm21 0zm26 0zm-108 1zm45 0zm22 0zm-37 1zm20 0zm7 0zm34 0zm1 0zm1 0zm-238 1zm115 0zm72 0zm-104 1zm45 0zm56 0zm20 0zm0 0zm-9 1zm21 0zm0 0zm-79 1zm20 0zm59 0zm11 0zm40 0zm-143 1zm44 0zm12 0zm7 0zm17 0zm8 0zm10 0zm26 0zm-47 1zm0 0zm7 0zm8 0zm18 0zm8 0zm-39 1zm13 0zm4 0zm9 0zm-96 1zm18 0zm55 0zm34 0zm-371 1zm256 0zm45 0zm15 0zm20 0zm16 0zm15 0zm-83 1zm18 0zm1 0zm5 0zm-113 1zm89 0zm22 0zm22 0zm1 0zm6 0zm37 0zm-136 1zm38 0zm0 0zm47 0zm2 0zm4 0zm8 0zm24 0zm-96 1zm10 0zm24 0zm28 0zm8 0zm6 0zm8 0zm20 0zm-183 1zm154 0zm2 0zm9 0zm10 0zm2 0zm12 0zm3 0zm-138 1zm1 0zm90 0zm22 0zm21 0zm-81 1zm43 0zm21 0zm31 0zm-142 1zm16 0zm2 0zm29 0zm1 0zm33 0zm5 0zm7 0zm26 0zm-48 1zm11 0zm8 0zm26 0zm27 0zm-160 1zm101 0zm22 0zm9 0zm-64 1zm16 0zm8 0zm15 0zm46 0zm-195 1zm41 0zm35 0zm49 0zm12 0zm1 0zm4 0zm15 0zm-56 1zm27 0zm15 0zm9 0zm50 0zm-98 1zm18 0zm13 0zm1 0zm1 0zm-14 1zm34 0zm9 0zm-69 1zm6 0zm3 0zm29 0zm27 0zm15 0zm16 0zm3 0zm6 0zm-146 1zm2 0zm85 0zm36 0zm22 0zm-87 1zm7 0zm5 0zm10 0zm9 0zm4 0zm5 0zm9 0zm3 0zm3 0zm-224 1zm174 0zm12 0zm4 0zm14 0zm8 0zm10 0zm0 0zm-140 1zm35 0zm23 0zm14 0zm2 0zm19 0zm15 0zm9 0zm24 0zm26 0zm-218 1zm146 0zm0 0zm2 0zm2 0zm4 0zm1 0zm9 0zm13 0zm34 1zm-194 1zm74 0zm30 0zm19 0zm12 0zm29 0zm-9 1zm10 0zm-75 1zm3 0zm16 0zm2 0zm15 0zm23 0zm1 0zm3 0zm20 0zm10 0zm16 0zm-147 1zm19 0zm35 0zm18 0zm3 0zm0 0zm6 0zm23 0zm0 0zm24 0zm-168 1zm94 0zm23 0zm8 0zm16 0zm1 0zm9 0zm11 0zm9 0zm0 0zm27 0zm12 0zm-132 1zm7 0zm14 0zm8 0zm19 0zm1 0zm15 0zm29 0zm20 0zm-103 1zm14 0zm16 0zm36 0zm7 0zm42 0zm-142 1zm45 0zm21 0zm9 0zm6 0zm29 0zm-38 1zm-70 1zm28 0zm10 0zm16 0zm12 0zm16 0zm3 0zm9 0zm0 0zm-121 1zm20 0zm37 0zm2 0zm24 0zm8 0zm12 0zm2 0zm1 0zm5 0zm4 0zm-81 1zm13 0zm2 0zm8 0zm25 0zm1 0zm2 0zm3 0zm22 0zm-217 1zm95 0zm31 0zm5 0zm12 0zm6 0zm16 0zm11 0zm1 0zm40 0zm6 0zm3 0zm-71 1zm20 0zm1 0zm13 0zm33 0zm25 0zm3 0zm-109 1zm6 0zm7 0zm7 0zm36 0zm19 0zm-105 1zm52 0zm4 0zm12 0zm2 0zm30 0zm6 0zm3 0zm38 0zm3 0zm-138 1zm44 0zm26 0zm0 0zm21 0zm4 0zm5 0zm2 0zm2 0zm9 0zm6 0zm3 0zm-103 1zm34 0zm22 0zm14 0zm-28 1zm3 0zm14 0zm13 0zm6 0zm15 0zm12 0zm1 0zm16 0zm-204 1zm20 0zm78 0zm8 0zm0 0zm7 0zm4 0zm2 0zm5 0zm9 0zm5 0zm4 0zm17 0zm5 0zm-110 1zm22 0zm15 0zm20 0zm10 0zm9 0zm2 0zm4 0zm2 0zm25 0zm8 0zm9 0zm-85 1zm7 0zm1 0zm13 0zm15 0zm3 0zm10 0zm1 0zm38 0zm-139 1zm41 0zm27 0zm17 0zm31 0zm41 0zm-181 1zm77 0zm18 0zm0 0zm20 0zm4 0zm0 0zm6 0zm3 0zm1 0zm4 0zm22 0zm-178 1zm52 0zm47 0zm23 0zm0 0zm5 0zm4 0zm6 0zm0 0zm5 0zm2 0zm7 0zm17 0zm17 0zm-117 1zm40 0zm11 0zm5 0zm5 0zm2 0zm3 0zm8 0zm21 0zm15 0zm-198 1zm97 0zm4 0zm8 0zm21 0zm14 0zm3 0zm4 0zm1 0zm1 0zm2 0zm6 0zm8 0zm4 0zm5 0zm-182 1zm84 0zm66 0zm10 0zm6 0zm3 0zm0 0zm26 0zm-161 1zm50 0zm11 0zm35 0zm0 0zm4 0zm2 0zm1 0zm6 0zm9 0zm10 0zm3 0zm45 0zm-145 1zm52 0zm2 0zm23 0zm5 0zm11 0zm12 0zm11 0zm11 0zm3 0zm-144 1zm21 0zm48 0zm0 0zm3 0zm42 0zm3 0zm-103 1zm0 0zm19 0zm52 0zm16 0zm3 0zm15 0zm10 0zm3 0zm-168 1zm91 0zm9 0zm6 0zm1 0zm4 0zm9 0zm16 0zm1 0zm5 0zm47 0zm-82 1zm10 0zm2 0zm74 0zm36 0zm-214 1zm6 0zm58 0zm18 0zm10 0zm15 0zm2 0zm5 0zm2 0zm6 0zm11 0zm1 0zm46 0zm-109 1zm12 0zm7 0zm1 0zm2 0zm7 0zm40 0zm3 0zm6 0zm-120 1zm45 0zm20 0zm18 0zm2 0zm1 0zm6 0zm4 0zm12 0zm5 0zm7 0zm-106 1zm22 0zm27 0zm6 0zm7 0zm5 0zm11 0zm11 0zm23 0zm7 0zm16 0zm-157 1zm41 0zm16 0zm19 0zm3 0zm5 0zm2 0zm10 0zm26 0zm-92 1zm12 0zm47 0zm20 0zm7 0zm-147 1zm26 0zm30 0zm27 0zm48 0zm7 0zm7 0zm0 0zm1 0zm10 0zm3 0zm2 0zm2 0zm5 0zm8 0zm-143 1zm51 0zm2 0zm9 0zm17 0zm8 0zm8 0zm8 0zm4 0zm3 0zm3 0zm9 0zm9 0zm4 0zm-172 1zm101 0zm7 0zm3 0zm14 0zm12 0zm13 0zm30 0zm-129 1zm50 0zm7 0zm6 0zm0 0zm2 0zm0 0zm13 0zm21 0zm29 0zm-117 1zm8 0zm10 0zm43 0zm1 0zm10 0zm17 0zm15 0zm4 0zm37 0zm-100 1zm0 0zm36 0zm3 0zm9 0zm10 0zm19 0zm-243 1zm51 0zm81 0zm31 0zm3 0zm15 0zm1 0zm8 0zm27 0zm1 0zm2 0zm7 0zm24 0zm-168 1zm7 0zm43 0zm11 0zm15 0zm8 0zm23 0zm5 0zm45 0zm-177 1zm124 0zm3 0zm1 0zm31 0zm5 0zm-65 1zm4 0zm3 0zm2 0zm17 0zm19 0zm0 0zm54 0zm-176 1zm15 0zm14 0zm8 0zm24 0zm23 0zm12 0zm5 0zm13 0zm14 0zm-143 1zm47 0zm11 0zm57 0zm11 0zm20 0zm7 0zm12 0zm8 0zm-123 1zm12 0zm20 0zm20 0zm16 0zm21 0zm8 0zm-77 1zm8 0zm14 0zm17 0zm2 0zm6 0zm18 0zm66 0zm-140 1zm12 0zm56 0zm24 0zm10 0zm10 0zm-94 1zm7 0zm39 0zm27 0zm4 0zm8 0zm18 0zm-113 1zm11 0zm4 0zm3 0zm15 0zm21 0zm3 0zm5 0zm2 0zm28 0zm4 0zm-101 1zm28 0zm8 0zm4 0zm10 0zm1 0zm11 0zm20 0zm5 0zm8 0zm-251 1zm148 0zm7 0zm5 0zm4 0zm20 0zm2 0zm1 0zm0 0zm4 0zm0 0zm27 0zm2 0zm38 0zm-130 1zm33 0zm33 0zm2 0zm1 0zm2 0zm6 0zm14 0zm-100 1zm22 0zm6 0zm2 0zm8 0zm4 0zm9 0zm3 0zm6 0zm7 0zm3 0zm1 0zm28 0zm30 0zm-189 1zm95 0zm9 0zm7 0zm22 0zm2 0zm3 0zm7 0zm21 0zm44 0zm-98 1zm0 0zm6 0zm27 0zm12 0zm8 0zm13 0zm0 0zm1 0zm34 0zm-121 1zm15 0zm11 0zm2 0zm3 0zm10 0zm6 0zm7 0zm1 0zm8 0zm3 0zm6 0zm1 0zm1 0zm16 0zm-174 1zm64 0zm7 0zm0 0zm29 0zm8 0zm9 0zm34 0zm-83 1zm75 0zm3 0zm21 0zm-147 1zm81 0zm12 0zm4 0zm7 0zm5 0zm10 0zm3 0zm5 0zm20 0zm14 0zm24 0zm-107 1zm7 0zm13 0zm20 0zm19 0zm-77 1zm39 0zm19 0zm18 0zm12 0zm6 0zm-113 1zm15 0zm13 0zm2 0zm4 0zm3 0zm21 0zm18 0zm6 0zm6 0zm7 0zm8 0zm1 0zm-79 1zm4 0zm14 0zm5 0zm8 0zm8 0zm15 0zm16 0zm-64 1zm8 0zm2 0zm4 0zm1 0zm12 0zm8 0zm15 0zm1 0zm5 0zm-202 1zm22 0zm72 0zm17 0zm24 0zm15 0zm19 0zm33 0zm1 0zm0 0zm6 0zm-134 1zm56 0zm10 0zm14 0zm5 0zm12 0zm19 0zm9 0zm-88 1zm15 0zm9 0zm14 0zm43 0zm49 0zm-160 1zm83 0zm22 0zm22 0zm19 0zm-102 1zm12 0zm11 0zm11 0zm5 0zm1 0zm4 0zm30 0zm15 0zm-136 1zm32 0zm16 0zm2 0zm6 0zm24 0zm3 0zm17 0zm8 0zm5 0zm4 0zm35 0zm18 0zm-157 1zm3 0zm1 0zm17 0zm13 0zm2 0zm1 0zm5 0zm11 0zm10 0zm4 0zm8 0zm0 0zm1 0zm2 0zm3 0zm36 0zm7 0zm30 0zm-240 1zm7 0zm115 0zm46 0zm1 0zm43 0zm20 0zm-167 1zm65 0zm6 0zm1 0zm19 0zm1 0zm14 0zm44 0zm7 0zm-239 1zm191 0zm18 0zm-69 1zm32 0zm14 0zm24 0zm3 0zm-175 1zm42 0zm46 0zm18 0zm1 0zm9 0zm27 0zm5 0zm10 0zm-103 1zm19 0zm5 0zm18 0zm17 0zm8 0zm49 0zm19 0zm4 0zm9 0zm-154 1zm42 0zm11 0zm35 0zm0 0zm32 0zm-122 1zm13 0zm34 0zm3 0zm48 0zm20 0zm-83 1zm28 0zm30 0zm1 0zm34 0zm-122 1zm17 0zm21 0zm49 0zm8 0zm8 0zm7 0zm14 0zm-51 1zm9 0zm23 0zm56 0zm-186 1zm49 0zm49 0zm1 0zm26 0zm6 0zm89 0zm-228 1zm23 0zm33 0zm13 0zm13 0zm17 0zm21 0zm2 0zm7 0zm-110 1zm2 0zm20 0zm17 0zm4 0zm18 0zm8 0zm5 0zm11 0zm16 0zm2 0zm6 0zm35 0zm-120 1zm51 0zm10 0zm27 0zm23 0zm29 0zm-110 1zm11 0zm17 0zm11 0zm4 0zm22 0zm2 0zm1 0zm5 0zm36 0zm28 0zm-180 1zm37 0zm42 0zm2 0zm9 0zm3 0zm6 0zm15 0zm4 0zm14 0zm-95 1zm4 0zm10 0zm1 0zm25 0zm9 0zm54 0zm7 0zm-191 1zm60 0zm44 0zm21 0zm3 0zm7 0zm4 0zm59 0zm-52 1zm15 0zm2 0zm-165 1zm76 0zm24 0zm4 0zm19 0zm0 0zm10 0zm3 0zm-75 1zm33 0zm44 0zm3 0zm5 0zm9 0zm24 0zm-147 1zm34 0zm2 0zm43 0zm31 0zm26 0zm-151 1zm51 0zm50 0zm15 0zm5 0zm6 0zm0 0zm-99 1zm31 0zm9 0zm51 0zm10 0zm33 0zm1 0zm23 0zm-126 1zm64 0zm-105 1zm6 0zm25 0zm48 0zm31 0zm2 0zm1 0zm8 0zm-97 1zm36 0zm12 0zm5 0zm7 0zm7 0zm6 0zm45 0zm3 0zm38 0zm-189 1zm27 0zm73 0zm4 0zm9 0zm9 0zm8 0zm16 0zm2 0zm-82 1zm10 0zm6 0zm2 0zm1 0zm11 0zm7 0zm13 0zm15 0zm6 0zm8 0zm-160 1zm89 0zm25 0zm3 0zm19 0zm4 0zm5 0zm-91 1zm37 0zm7 0zm3 0zm18 0zm23 0zm9 0zm-37 1zm16 0zm0 0zm49 0zm-113 1zm23 0zm30 0zm27 0zm17 0zm5 0zm4 0zm31 0zm-219 1zm4 0zm55 0zm22 0zm4 0zm22 0zm0 0zm14 0zm7 0zm-99 1zm14 0zm21 0zm59 0zm2 0zm33 0zm25 0zm-116 1zm16 0zm23 0zm64 0zm-133 1zm34 0zm11 0zm31 0zm74 0zm2 0zm-131 1zm13 0zm27 0zm4 0zm6 0zm7 0zm1 0zm5 0zm2 0zm23 0zm-156 1zm64 0zm37 0zm2 0zm9 0zm1 0zm2 0zm4 0zm10 0zm5 0zm40 0zm-136 1zm44 0zm5 0zm34 0zm17 0zm4 0zm17 0zm9 0zm-156 1zm86 0zm12 0zm26 0zm57 0zm-147 1zm20 0zm28 0zm2 0zm12 0zm42 0zm3 0zm14 0zm6 0zm-184 1zm16 0zm83 0zm9 0zm28 0zm48 0zm37 0zm-233 1zm88 0zm4 0zm37 0zm7 0zm14 0zm19 0zm2 0zm48 0zm3 0zm-104 1zm63 0zm-50 1zm39 0zm-99 1zm11 0zm7 0zm38 0zm2 0zm4 0zm0 0zm1 0zm37 0zm12 0zm-128 1zm47 0zm40 0zm15 0zm-176 1zm88 0zm15 0zm4 0zm27 0zm16 0zm3 0zm10 0zm47 0zm-118 1zm-45 1zm37 0zm50 0zm1 0zm13 0zm90 0zm-183 1zm109 0zm8 0zm39 0zm2 0zm-185 1zm78 0zm9 0zm4 0zm9 0zm28 0zm17 0zm13 0zm3 0zm22 0zm11 0zm-114 1zm24 0zm20 0zm46 0zm2 0zm-65 1zm36 0zm9 0zm2 0zm-78 1zm32 0zm2 0zm22 0zm-45 1zm34 0zm60 0zm18 0zm-147 1zm8 0zm25 0zm72 0zm18 0zm-155 1zm103 0zm2 0zm23 0zm39 0zm-143 1zm33 0zm10 0zm4 0zm20 0zm3 0zm11 0zm11 0zm1 0zm0 0zm23 0zm3 0zm-195 1zm60 0zm30 0zm28 0zm22 0zm2 0zm55 0zm35 0zm-106 1zm2 0zm3 0zm8 0zm18 0zm1 0zm1 0zm14 0zm16 0zm9 0zm-114 1zm4 0zm64 0zm7 0zm-74 1zm13 0zm56 0zm16 0zm47 0zm-118 1zm16 0zm6 0zm11 0zm8 0zm10 0zm14 0zm-9 1zm2 0zm5 0zm1 0zm21 0zm-95 1zm3 0zm1 0zm25 0zm27 0zm7 0zm30 0zm-124 1zm24 0zm19 0zm6 0zm11 0zm9 0zm1 0zm42 0zm5 0zm0 0zm36 0zm-219 1zm48 0zm81 0zm29 0zm21 0zm-173 1zm23 0zm105 0zm21 0zm16 0zm113 0zm-200 2zm8 0zm27 0zm16 0zm8 0zm22 0zm12 0zm4 0zm-130 1zm11 0zm37 0zm12 0zm30 0zm19 0zm30 0zm56 0zm-222 1zm13 0zm83 0zm4 0zm28 0zm1 0zm3 0zm7 0zm40 0zm37 0zm-273 1zm176 0zm-108 1zm84 0zm38 0zm14 0zm28 0zm11 0zm-87 1zm1 0zm0 0zm37 0zm-15 1zm4 0zm4 0zm5 0zm19 0zm14 0zm-98 1zm9 0zm8 0zm1 0zm15 0zm9 0zm9 0zm24 0zm-80 1zm37 0zm16 0zm42 0zm-92 1zm72 0zm-38 1zm25 0zm2 0zm12 0zm33 0zm-236 1zm79 0zm95 0zm25 0zm8 0zm26 0zm3 0zm12 0zm-100 1zm5 0zm6 0zm12 0zm11 0zm30 0zm-62 1zm1 0zm4 0zm35 0zm18 0zm35 0zm-188 1zm72 0zm17 0zm25 0zm24 0zm13 0zm19 0zm-39 1zm46 0zm25 0zm-107 1zm24 0zm42 0zm-65 1zm13 0zm-79 1zm54 0zm13 0zm0 0zm16 0zm7 0zm26 0zm6 0zm47 0zm-94 1zm17 0zm91 0zm-194 1zm49 0zm35 0zm-75 1zm40 0zm48 0zm32 0zm-245 1zm51 0zm67 0zm24 0zm34 0zm1 0zm44 0zm25 0zm42 0zm-167 1zm32 0zm42 0zm27 0zm-114 1zm126 0zm63 0zm-167 1zm95 0zm63 0zm-114 1zm53 0zm14 0zm-88 1zm55 0zm-43 1zm40 0zm-159 1zm130 0zm11 0zm23 0zm1 0zm19 0zm3 0zm84 0zm-133 1zm12 0zm67 0zm-127 1zm31 0zm24 0zm30 0zm-45 1zm13 0zm33 0zm-16 1zm8 0zm50 0zm31 0zm-175 1zm35 0zm46 0zm31 0zm0 0zm-88 1zm54 0zm1 0zm-37 1zm-88 1zm95 0zm16 0zm98 0zm-157 1zm52 0zm31 0zm23 0zm-102 1zm37 0zm49 0zm38 0zm-153 1zm40 0zm14 0zm15 0zm8 0zm19 0zm49 0zm61 0zm-151 1zm2 0zm110 0zm-182 1zm113 0zm-64 1zm12 0zm5 0zm12 0zm8 0zm10 0zm12 0zm30 0zm-127 1zm3 0zm55 0zm63 0zm30 0zm-118 1zm10 0zm3 0zm22 0zm3 0zm25 0zm-3 1zm57 0zm-131 1zm36 0zm39 0zm34 0zm-87 1zm15 0zm146 0zm-164 1zm21 0zm45 0zm-69 1zm22 0zm41 0zm7 0zm7 0zm42 1zm-124 1zm63 0zm131 0zm-320 1zm144 0zm18 0zm50 0zm-64 1zm17 0zm8 0zm-94 1zm89 0zm1 0zm129 0zm-171 1zm58 0zm50 0zm-220 1zm107 0zm38 0zm28 0zm-30 1zm31 0zm-53 1zm5 0zm44 0zm8 0zm36 0zm-214 1zm49 0zm40 0zm23 0zm37 0zm83 0zm29 0zm-228 1zm125 0zm26 0zm-76 2zm76 0zm0 0zm-94 1zm48 0zm12 0zm152 0zm-250 1zm33 0zm33 0zm30 0zm14 1zm-46 2zm48 0zm9 0zm-60 1zm28 1zm3 0zm31 0zm6 0zm9 0zm41 0zm-105 1zm32 0zm18 0zm-166 1zm101 0zm5 0zm24 0zm8 0zm-49 1zm62 0zm13 0zm12 0zm-63 1zm35 0zm30 0zm0 1zm-28 1zm1 0zm47 0zm-92 1zm32 0zm12 0zm-125 1zm134 0zm-102 1zm48 0zm21 0zm53 0zm-143 1zm70 0zm15 0zm5 1zm-6 1zm1 1zm26 0zm101 0zm-206 1zm27 0zm39 0zm-4 2zm19 0zm49 0zm-85 1zm67 0zm73 1zm-144 1zm30 0zm21 1zm58 0zm33 0zm38 1zm-204 1zm30 0zm17 0zm-58 1zm69 0zm19 0zm-140 1zm90 0zm12 0zm11 0zm31 0zm-94 1zm65 0zm33 0zm5 0zm-59 1zm-157 1zm124 0zm31 0zm39 0zm23 0zm-8 1zm47 1zm-94 1zm21 0zm213 0zm-218 1zm59 0zm-162 1zm44 0zm51 0zm-14 1zm68 0zm-153 1zm85 0zm100 0zm-190 1zm101 0zm-23 1zm16 0zm38 1zm-106 1zm14 0zm51 0zm16 1zm15 0zm23 0zm-113 1zm7 2zm22 0zm83 0zm-50 1zm13 0zm-50 1zm15 1zm41 1zm12 0zm105 0zm-124 1zm7 1zm-6 1zm-27 1zm20 1zm14 0zm7 0zm-61 1zm20 0zm-10 1zm69 0zm-23 1zm-41 1zm7 0zm107 0zm44 0zm-137 1zm55 0zm52 0zm50 2zm-182 2zm-132 1zm139 0zm76 0zm-154 1zm159 0zm-27 2zm68 0zm-149 3zm28 0zm-32 3zm44 0zm118 0zm-45 1zm-67 1zm95 0zm-81 1zm157 0zm-75 1zm-194 2zm21 1zm8 0zm57 0zm16 0zm-78 2zm77 1zm10 0zm-130 1zm70 0zm63 0zm25 0zm-119 3zm48 1zm55 1zm-84 1zm145 1zm-77 1zm-25 1zm-23 1zm38 0zm26 0zm-97 2zm55 0zm-57 1zm29 0zm55 0zm161 4zm-87 7zm-237 1zm127 0zm27 0zm-23 1zm99 1zm-84 1zm-69 1zm-36 2zm240 3zm-216 7zm70 2zm-11 6zm93 0zm-153 2zm25 0zm151 0zm-197 4zm19 1zm116 2zm84 5zm-138 4zm-63 5zm-17 4zm149 0zm-69 3zm-5 3zm143 11zm-137 1zm-8 3zm25 0zm-111 1zm228 1zm-251 1zm58 0zm-36 1zm14 0zm-44 4zm329 8zm-299 10zm-70 10zm-29 18z"/><path d="M1030 9zm275 1zm-109 3zm108 2zm-262 5zm190 0zm27 1zm-143 3zm65 0zm29 3zm39 1zm-140 2zm117 0zm22 0zm-70 1zm77 1zm-85 1zm47 0zm-72 3zm14 0zm7 1zm49 0zm36 0zm-20 1zm-25 6zm-63 2zm26 1zm86 0zm-22 2zm-45 1zm-51 1zm-62 1zm146 1zm-31 1zm30 0zm-51 1zm20 0zm47 0zm-13 1zm19 0zm-71 1zm65 0zm-98 1zm59 0zm50 0zm-9 1zm-36 1zm-47 1zm57 0zm50 1zm-142 1zm50 0zm22 0zm-14 1zm18 0zm46 0zm12 0zm-110 1zm59 0zm38 0zm10 2zm1 0zm-138 1zm29 0zm63 0zm14 0zm-72 1zm62 0zm7 0zm-40 1zm19 0zm-12 1zm5 0zm46 0zm-35 1zm-28 1zm62 0zm4 0zm-25 1zm14 0zm15 0zm-238 1zm207 1zm-209 1zm213 0zm1 0zm13 0zm10 0zm-99 1zm25 0zm20 0zm40 0zm25 0zm-41 1zm6 0zm11 0zm15 0zm-131 1zm14 0zm67 0zm9 0zm-165 1zm58 1zm169 0zm-105 1zm7 0zm4 0zm9 0zm11 0zm4 0zm32 0zm-59 1zm10 0zm14 0zm18 0zm14 0zm9 0zm14 0zm-151 1zm84 0zm30 0zm-52 1zm73 0zm27 0zm-57 1zm20 0zm-128 2zm132 1zm-152 1zm107 0zm63 0zm-116 1zm34 0zm15 0zm19 0zm-23 1zm11 0zm23 0zm13 0zm-84 1zm25 0zm42 0zm43 0zm26 0zm-142 1zm72 0zm2 0zm-147 1zm116 0zm10 0zm14 0zm7 0zm11 0zm-143 1zm69 0zm13 0zm35 0zm-82 1zm52 0zm18 0zm5 1zm26 1zm30 0zm-148 1zm106 0zm27 0zm-28 1zm13 0zm10 0zm17 0zm-79 1zm65 0zm5 0zm6 0zm-75 1zm27 0zm12 0zm15 0zm16 0zm35 0zm-285 1zm127 0zm54 0zm47 0zm8 0zm-41 1zm7 0zm-49 1zm48 0zm17 0zm-54 1zm50 0zm19 0zm14 0zm7 0zm-56 1zm20 0zm0 0zm-97 2zm40 0zm11 0zm31 0zm3 0zm15 0zm5 0zm52 0zm-110 1zm25 0zm-82 1zm42 0zm10 0zm16 0zm55 0zm-46 1zm21 0zm8 0zm7 0zm14 0zm12 0zm-92 1zm14 0zm45 0zm8 0zm1 0zm-81 1zm14 0zm32 0zm13 0zm9 0zm7 0zm26 0zm0 0zm28 0zm-61 1zm16 0zm0 0zm5 0zm8 0zm14 0zm34 0zm-227 1zm53 0zm57 0zm13 0zm9 0zm9 0zm14 0zm20 0zm8 0zm19 0zm-111 1zm48 0zm20 0zm36 0zm-109 1zm32 0zm21 0zm36 0zm13 0zm5 0zm24 0zm-109 1zm24 0zm3 0zm3 0zm12 0zm4 0zm-62 1zm77 0zm18 0zm28 0zm-102 1zm11 0zm36 0zm20 0zm-195 1zm140 0zm4 0zm0 0zm1 0zm13 0zm17 0zm24 0zm15 0zm18 0zm-134 1zm41 0zm6 0zm41 0zm5 0zm2 0zm4 0zm5 0zm55 0zm-177 1zm32 0zm1 0zm13 0zm17 0zm28 0zm2 0zm6 0zm4 0zm2 0zm13 0zm-205 1zm43 0zm71 0zm42 0zm3 0zm33 0zm0 0zm2 0zm-161 1zm41 0zm53 0zm48 0zm17 0zm8 0zm17 0zm-138 1zm83 0zm1 0zm21 0zm9 0zm0 0zm14 0zm-77 1zm13 0zm18 0zm1 0zm16 0zm10 0zm18 0zm-70 1zm7 0zm16 0zm3 0zm3 0zm5 0zm7 0zm10 0zm34 0zm-203 1zm102 0zm45 0zm21 0zm8 0zm17 0zm33 0zm-132 1zm17 0zm34 0zm18 0zm36 0zm-157 1zm13 0zm14 0zm52 0zm12 0zm15 0zm1 0zm4 0zm-26 1zm11 0zm17 0zm4 0zm10 0zm21 0zm-131 1zm65 0zm1 0zm5 0zm2 1zm7 0zm8 0zm14 0zm-144 1zm119 0zm9 0zm15 0zm7 0zm1 0zm-49 1zm30 0zm1 0zm8 0zm24 0zm11 0zm-265 1zm167 0zm17 0zm0 0zm18 0zm11 0zm3 0zm7 0zm13 0zm-57 1zm8 0zm10 0zm8 0zm10 0zm4 0zm4 0zm1 0zm16 0zm-98 1zm65 0zm17 0zm0 0zm5 0zm11 0zm3 0zm-83 1zm34 0zm5 0zm11 0zm2 0zm12 0zm4 0zm1 0zm22 0zm-167 1zm14 0zm88 0zm2 0zm16 0zm2 0zm4 0zm4 0zm4 0zm5 0zm10 0zm13 0zm-185 1zm76 0zm22 0zm8 0zm2 0zm20 0zm-31 1zm12 0zm29 0zm1 0zm7 0zm1 0zm1 0zm12 0zm4 0zm10 0zm12 0zm-214 1zm114 0zm68 0zm-86 1zm28 0zm25 0zm20 0zm2 0zm8 0zm4 0zm8 0zm3 0zm-215 1zm160 0zm16 0zm2 0zm4 0zm32 0zm2 0zm7 0zm23 0zm-160 1zm95 0zm5 0zm3 0zm0 0zm8 0zm2 0zm12 0zm5 0zm12 0zm-107 1zm12 0zm1 0zm10 0zm19 0zm3 0zm48 0zm-103 1zm45 0zm18 0zm16 0zm3 0zm3 0zm1 0zm20 0zm6 0zm6 0zm15 0zm-124 1zm20 0zm16 0zm18 0zm8 0zm13 0zm5 0zm2 0zm0 0zm52 0zm-218 1zm57 0zm23 0zm32 0zm39 0zm11 0zm59 0zm-80 1zm10 0zm1 0zm-180 1zm83 0zm68 0zm26 0zm10 0zm19 0zm16 0zm12 0zm10 0zm-118 1zm4 0zm46 0zm26 0zm2 0zm9 0zm-77 1zm23 0zm4 0zm15 0zm0 0zm5 0zm32 0zm10 0zm-152 1zm56 0zm0 0zm48 0zm1 0zm1 0zm21 0zm3 0zm21 0zm-78 1zm36 0zm12 0zm37 0zm10 0zm-128 1zm9 0zm16 0zm4 0zm10 0zm7 0zm4 0zm2 0zm3 0zm9 0zm0 0zm12 0zm14 0zm3 0zm-129 1zm38 0zm25 0zm38 0zm4 0zm7 0zm4 0zm4 0zm12 0zm1 0zm-131 1zm25 0zm40 0zm32 0zm4 0zm10 0zm14 0zm13 0zm-85 1zm16 0zm8 0zm19 0zm20 0zm3 0zm5 0zm40 0zm-194 1zm35 0zm25 0zm19 0zm29 0zm16 0zm6 0zm2 0zm13 0zm11 0zm-94 1zm16 0zm29 0zm14 0zm0 0zm6 0zm45 0zm1 0zm5 0zm-80 1zm3 0zm19 0zm17 0zm8 0zm15 0zm-244 1zm35 0zm127 0zm33 0zm3 0zm17 0zm9 0zm8 0zm8 0zm0 0zm2 0zm-88 1zm9 0zm5 0zm0 0zm41 0zm7 0zm13 0zm8 0zm9 0zm43 0zm-218 1zm67 0zm17 0zm59 0zm1 0zm12 0zm-75 1zm14 0zm1 0zm7 0zm4 0zm16 0zm16 0zm23 0zm16 0zm17 0zm-166 1zm55 0zm19 0zm5 0zm44 0zm38 0zm-171 1zm33 0zm40 0zm52 0zm3 0zm-55 1zm1 0zm6 0zm0 0zm30 0zm7 0zm2 0zm1 0zm18 0zm2 0zm6 0zm8 0zm-112 1zm19 0zm13 0zm28 0zm11 0zm18 0zm2 0zm1 0zm1 0zm6 0zm9 0zm3 0zm-110 1zm35 0zm1 0zm8 0zm19 0zm3 0zm5 0zm26 0zm-132 1zm46 0zm20 0zm53 0zm7 0zm6 0zm7 0zm-94 1zm21 0zm12 0zm34 0zm7 0zm2 0zm6 0zm0 0zm-20 1zm1 0zm5 0zm4 0zm5 0zm12 0zm-269 1zm198 0zm23 0zm8 0zm7 0zm2 0zm23 0zm-77 1zm63 0zm21 0zm14 0zm-71 1zm23 0zm5 0zm2 0zm2 0zm2 0zm12 0zm9 0zm-71 1zm43 0zm5 0zm34 0zm-108 1zm46 0zm8 0zm10 0zm0 0zm4 0zm17 0zm14 0zm4 0zm18 0zm5 0zm1 0zm-266 1zm103 0zm43 0zm32 0zm22 0zm3 0zm3 0zm3 0zm1 0zm1 0zm-125 1zm23 0zm19 0zm14 0zm3 0zm36 0zm6 0zm1 0zm7 0zm2 0zm10 0zm2 0zm2 0zm10 0zm6 0zm26 0zm-97 1zm1 0zm5 0zm9 0zm17 0zm1 0zm4 0zm18 0zm5 0zm0 0zm5 0zm15 0zm23 0zm1 0zm-163 1zm55 0zm50 0zm11 0zm16 0zm-114 1zm21 0zm7 0zm4 0zm11 0zm1 0zm9 0zm31 0zm7 0zm2 0zm1 0zm10 0zm0 0zm3 0zm6 0zm11 0zm20 0zm23 0zm-165 1zm14 0zm9 0zm6 0zm10 0zm7 0zm35 0zm1 0zm20 0zm38 0zm-209 1zm123 0zm8 0zm22 0zm4 0zm4 0zm0 0zm4 0zm37 0zm11 0zm-152 1zm17 0zm39 0zm26 0zm3 0zm3 0zm17 0zm2 0zm19 0zm4 0zm15 0zm12 0zm-133 1zm17 0zm21 0zm9 0zm1 0zm20 0zm2 0zm5 0zm20 0zm14 0zm3 0zm-99 1zm33 0zm1 0zm11 0zm6 0zm1 0zm5 0zm4 0zm19 0zm23 0zm-201 1zm42 0zm16 0zm30 0zm21 0zm4 0zm3 0zm4 0zm17 0zm5 0zm5 0zm38 0zm-115 1zm21 0zm6 0zm10 0zm20 0zm9 0zm23 0zm15 0zm8 0zm9 0zm9 0zm18 0zm-281 1zm77 0zm71 0zm28 0zm56 0zm14 0zm2 0zm-90 1zm25 0zm4 0zm22 0zm4 0zm18 0zm3 0zm2 0zm24 0zm4 0zm5 0zm-126 1zm23 0zm10 0zm10 0zm19 0zm1 0zm9 0zm4 0zm2 0zm26 0zm16 0zm-172 1zm91 0zm36 0zm2 0zm1 0zm37 0zm1 0zm-177 1zm35 0zm69 0zm30 0zm20 0zm32 0zm-158 1zm51 0zm2 0zm11 0zm7 0zm17 0zm6 0zm7 0zm33 0zm2 0zm-204 1zm88 0zm53 0zm16 0zm11 0zm9 0zm22 0zm31 0zm-109 1zm6 0zm7 0zm2 0zm12 0zm4 0zm9 0zm6 0zm18 0zm6 0zm3 0zm8 0zm8 0zm13 0zm1 0zm-98 1zm20 0zm10 0zm2 0zm2 0zm8 0zm42 0zm16 0zm-135 1zm3 0zm20 0zm15 0zm2 0zm6 0zm1 0zm18 0zm5 0zm12 0zm4 0zm6 0zm19 0zm0 0zm-131 1zm31 0zm0 0zm2 0zm8 0zm22 0zm20 0zm3 0zm6 0zm6 0zm25 0zm10 0zm-105 1zm20 0zm9 0zm5 0zm2 0zm2 0zm5 0zm26 0zm10 0zm9 0zm41 0zm-126 1zm24 0zm34 0zm26 0zm6 0zm8 0zm8 0zm-143 1zm64 0zm34 0zm2 0zm17 0zm11 0zm3 0zm6 0zm21 0zm-116 1zm22 0zm1 0zm9 0zm1 0zm18 0zm8 0zm9 0zm20 0zm-181 1zm66 0zm13 0zm22 0zm15 0zm20 0zm2 0zm5 0zm4 0zm14 0zm4 0zm-276 1zm212 0zm13 0zm13 0zm16 0zm30 0zm-30 1zm8 0zm52 0zm-136 1zm31 0zm18 0zm10 0zm6 0zm5 0zm2 0zm41 0zm-155 1zm68 0zm45 0zm7 0zm5 0zm9 0zm14 0zm12 0zm-102 1zm51 0zm12 0zm13 0zm8 0zm-100 1zm9 0zm36 0zm14 0zm1 0zm26 0zm0 0zm15 0zm7 0zm8 0zm26 0zm-188 1zm51 0zm12 0zm39 0zm13 0zm0 0zm34 0zm11 0zm38 0zm-128 1zm44 0zm22 0zm9 0zm8 0zm10 0zm11 0zm0 0zm6 0zm8 0zm-191 1zm99 0zm6 0zm7 0zm5 0zm6 0zm2 0zm2 0zm4 0zm12 0zm6 0zm26 0zm-149 1zm49 0zm3 0zm19 0zm11 0zm14 0zm10 0zm4 0zm13 0zm17 0zm11 0zm12 0zm10 0zm-155 1zm6 0zm7 0zm15 0zm1 0zm32 0zm13 0zm-104 1zm23 0zm6 0zm28 0zm18 0zm12 0zm3 0zm16 0zm37 0zm41 0zm-219 1zm37 0zm100 0zm12 0zm3 0zm7 0zm65 0zm-126 1zm9 0zm4 0zm28 0zm5 0zm7 0zm21 0zm7 0zm-186 1zm87 0zm15 0zm3 0zm22 0zm8 0zm12 0zm6 0zm17 0zm18 0zm-164 1zm67 0zm25 0zm10 0zm112 0zm-196 1zm52 0zm10 0zm2 0zm6 0zm32 0zm17 0zm18 0zm-177 1zm42 0zm33 0zm18 0zm5 0zm23 0zm2 0zm13 0zm4 0zm15 0zm8 0zm6 0zm-174 1zm69 0zm42 0zm30 0zm6 0zm2 0zm23 0zm-129 1zm9 0zm9 0zm59 0zm9 0zm25 0zm-74 1zm15 0zm9 0zm4 0zm1 0zm17 0zm5 0zm19 0zm11 0zm3 0zm74 0zm-127 1zm7 0zm2 0zm28 0zm4 0zm1 0zm1 0zm4 0zm13 0zm1 0zm4 0zm9 0zm-168 1zm40 0zm8 0zm78 0zm14 0zm12 0zm11 0zm-187 1zm104 0zm6 0zm5 0zm5 0zm5 0zm2 0zm8 0zm57 0zm9 0zm38 0zm-220 1zm67 0zm30 0zm22 0zm6 0zm1 0zm37 0zm1 0zm41 0zm-133 1zm27 0zm5 0zm1 0zm0 0zm7 0zm1 0zm3 0zm7 0zm5 0zm5 0zm5 0zm36 0zm41 0zm-124 1zm27 0zm16 0zm12 0zm20 0zm54 0zm-135 1zm9 0zm14 0zm20 0zm-62 1zm30 0zm5 0zm12 0zm2 0zm10 0zm5 0zm17 0zm65 0zm-253 1zm99 0zm12 0zm27 0zm37 0zm4 0zm5 0zm10 0zm39 0zm-194 1zm51 0zm14 0zm3 0zm0 0zm16 0zm13 0zm48 0zm8 0zm2 0zm-119 1zm67 0zm1 0zm1 0zm1 0zm30 0zm1 0zm14 0zm11 0zm-143 1zm7 0zm12 0zm18 0zm54 0zm4 0zm22 0zm2 0zm14 0zm-124 1zm15 0zm26 0zm40 0zm12 0zm31 0zm64 0zm-177 1zm20 0zm34 0zm5 0zm8 0zm19 0zm13 0zm12 0zm32 0zm1 0zm-138 1zm72 0zm1 0zm7 0zm21 0zm49 0zm-71 1zm9 0zm-64 1zm20 0zm9 0zm3 0zm47 0zm22 0zm-116 1zm19 0zm40 0zm1 0zm0 0zm-53 1zm34 0zm23 0zm0 0zm3 0zm6 0zm21 0zm25 0zm47 0zm-157 1zm23 0zm16 0zm7 0zm4 0zm10 0zm8 0zm5 0zm14 0zm60 0zm-319 1zm153 0zm40 0zm56 0zm-64 1zm22 0zm1 0zm46 0zm19 0zm2 0zm-138 1zm101 0zm26 0zm85 0zm-146 1zm2 0zm30 0zm18 0zm3 0zm-88 1zm-29 1zm27 0zm58 0zm15 0zm2 0zm9 0zm-34 1zm32 0zm11 0zm10 0zm1 0zm9 0zm33 0zm-164 1zm135 0zm12 0zm-236 1zm103 0zm22 0zm21 0zm23 0zm2 0zm11 0zm27 0zm0 0zm-125 1zm40 0zm5 0zm8 0zm18 0zm125 0zm-169 1zm29 0zm19 0zm3 0zm6 0zm22 0zm103 0zm-293 1zm110 0zm18 0zm27 0zm24 0zm3 0zm20 0zm-115 1zm110 0zm-187 1zm175 0zm18 0zm1 0zm-139 1zm36 0zm33 0zm14 0zm9 0zm10 0zm-36 1zm2 0zm8 0zm22 0zm3 0zm9 0zm22 0zm13 0zm57 0zm-226 1zm50 0zm6 0zm4 0zm8 0zm33 0zm1 0zm10 0zm-76 1zm43 0zm104 0zm-165 1zm33 0zm18 0zm45 0zm58 0zm13 0zm-149 1zm30 0zm66 0zm8 0zm10 0zm19 0zm24 0zm-176 1zm19 0zm20 0zm40 0zm33 0zm8 0zm6 0zm16 0zm-131 1zm40 0zm9 0zm7 0zm15 0zm4 0zm0 0zm3 0zm11 0zm22 0zm-89 1zm25 0zm11 0zm75 0zm-226 1zm114 0zm21 0zm10 0zm2 0zm2 0zm7 0zm1 0zm5 0zm30 0zm11 0zm22 0zm-154 1zm114 0zm-83 1zm30 0zm34 0zm0 0zm88 0zm-123 1zm11 0zm3 0zm27 0zm-20 1zm3 0zm36 0zm22 0zm19 0zm-229 1zm26 0zm55 0zm5 0zm77 0zm26 0zm13 0zm-65 1zm17 0zm13 0zm7 0zm-39 1zm25 0zm1 0zm3 0zm2 0zm1 0zm8 0zm9 0zm-157 1zm61 0zm8 0zm50 0zm15 0zm51 0zm9 0zm18 0zm-136 1zm37 0zm2 0zm29 0zm0 0zm-39 1zm30 0zm9 0zm15 0zm3 0zm41 0zm-231 1zm79 0zm4 0zm31 0zm13 0zm56 0zm-74 1zm1 0zm23 0zm0 0zm2 0zm65 0zm-138 1zm43 0zm25 0zm10 0zm58 0zm12 0zm-73 1zm4 0zm1 0zm1 0zm22 0zm-138 1zm61 0zm25 0zm33 0zm9 0zm10 0zm-245 1zm208 0zm18 0zm6 0zm3 0zm6 0zm10 0zm74 0zm-220 1zm104 0zm1 0zm9 0zm16 0zm33 0zm-156 1zm40 0zm30 0zm24 0zm92 0zm5 0zm-139 1zm24 0zm11 0zm57 0zm-68 1zm5 0zm8 0zm56 0zm4 0zm11 0zm5 0zm-105 1zm35 0zm11 0zm70 0zm-116 1zm24 0zm10 0zm7 0zm56 0zm70 0zm-101 1zm23 0zm4 0zm-143 1zm20 0zm5 0zm47 0zm18 0zm40 0zm-90 1zm52 0zm2 0zm5 0zm36 0zm-84 1zm15 0zm24 0zm7 0zm79 0zm-124 1zm46 0zm22 0zm7 0zm-39 1zm13 0zm27 0zm-72 1zm46 0zm2 0zm5 0zm-55 1zm1 0zm1 0zm86 0zm-88 1zm54 0zm22 0zm-107 1zm12 0zm31 0zm4 0zm13 0zm63 0zm91 0zm-171 2zm9 0zm16 0zm44 0zm9 0zm11 0zm-113 1zm50 0zm66 0zm8 0zm-142 1zm34 0zm35 0zm35 0zm47 0zm-22 1zm-203 1zm110 0zm39 0zm6 0zm11 0zm27 0zm7 0zm-110 1zm64 0zm15 0zm79 0zm-184 1zm30 0zm11 0zm37 0zm6 0zm12 0zm2 0zm39 0zm-169 1zm30 0zm51 0zm8 0zm3 0zm5 0zm8 0zm3 0zm13 0zm6 0zm-60 1zm28 0zm-12 1zm24 0zm37 0zm1 0zm-159 1zm77 0zm35 0zm35 0zm-169 1zm116 0zm8 0zm110 0zm-157 1zm23 0zm48 0zm3 0zm5 0zm20 0zm-226 1zm83 0zm46 0zm66 0zm50 0zm-74 1zm30 0zm14 0zm60 0zm-29 1zm90 0zm-172 1zm20 0zm22 0zm10 0zm17 0zm69 0zm-144 1zm28 0zm8 0zm16 0zm32 0zm-114 1zm95 0zm-62 1zm2 0zm31 0zm23 0zm26 0zm-98 1zm13 1zm8 0zm10 0zm17 0zm-85 1zm58 0zm17 0zm1 0zm26 0zm-95 1zm33 0zm23 0zm32 0zm2 0zm60 0zm-64 1zm11 0zm65 0zm4 0zm-232 1zm176 0zm11 0zm-113 1zm42 0zm-10 1zm-64 1zm62 0zm133 0zm-179 1zm56 0zm24 0zm38 0zm-76 1zm13 0zm6 0zm13 0zm2 0zm8 0zm15 0zm16 0zm-82 1zm14 0zm8 0zm13 0zm0 0zm13 0zm-22 1zm17 0zm102 0zm-133 1zm71 0zm40 0zm-144 1zm13 0zm1 0zm17 0zm10 0zm9 0zm106 0zm-154 1zm57 0zm94 1zm-109 1zm20 0zm40 0zm12 1zm6 0zm-144 1zm1 0zm18 0zm37 0zm20 0zm1 0zm-11 1zm-64 1zm70 0zm15 0zm-49 1zm41 0zm89 0zm-167 1zm52 0zm2 0zm27 0zm11 0zm34 0zm-166 1zm235 0zm-159 1zm18 0zm24 0zm97 0zm-140 2zm15 0zm79 0zm107 0zm-174 1zm8 0zm-61 1zm17 0zm12 0zm16 0zm26 0zm88 0zm2 0zm83 0zm-203 1zm-85 1zm183 0zm-179 1zm4 0zm46 0zm8 0zm64 0zm-43 1zm54 1zm-104 1zm34 0zm36 0zm-70 1zm11 0zm-111 1zm165 0zm2 0zm12 0zm77 0zm-126 1zm30 0zm-61 1zm35 0zm37 0zm173 0zm-271 1zm39 0zm11 0zm62 0zm52 0zm-134 1zm30 1zm4 0zm36 0zm19 0zm-56 1zm19 0zm28 0zm71 0zm-153 1zm1 0zm83 0zm78 0zm-102 1zm15 0zm5 0zm22 1zm13 0zm-135 1zm66 0zm167 0zm-181 1zm-7 1zm11 0zm-44 1zm43 0zm-130 1zm64 0zm36 0zm16 0zm10 0zm19 0zm-26 2zm70 0zm-55 2zm13 0zm-60 1zm25 0zm-3 1zm24 0zm13 0zm-59 3zm82 0zm59 1zm-172 1zm107 1zm1 0zm16 0zm-80 1zm4 0zm25 0zm31 0zm24 0zm132 0zm-151 1zm-105 3zm41 2zm114 2zm92 0zm-148 1zm7 0zm-53 1zm31 0zm7 0zm65 0zm-115 1zm13 0zm8 0zm-122 3zm82 0zm133 0zm-91 1zm9 0zm-52 1zm53 0zm-70 2zm22 0zm92 0zm0 0zm25 0zm-96 1zm75 0zm-38 1zm86 0zm-201 2zm302 0zm-217 1zm129 0zm-183 3zm4 0zm195 1zm-161 1zm242 0zm-242 3zm15 0zm-7 2zm11 0zm-16 1zm74 0zm-59 1zm-83 1zm63 0zm-38 3zm53 1zm-60 1zm18 0zm111 0zm6 0zm-106 2zm156 1zm-199 1zm13 2zm-66 1zm62 2zm67 0zm-71 2zm80 0zm-27 4zm-91 7zm66 0zm-55 3zm27 4zm83 2zm-78 1zm53 0zm91 1zm-129 1zm45 0zm-57 2zm-15 1zm-11 2zm7 2zm64 0zm25 0zm26 4zm10 2zm-115 2zm44 4zm90 0zm-78 2zm-66 2zm187 0zm-119 13zm99 2zm-112 12zm123 3zm-55 1zm-83 1zm91 6zm-145 2zm182 0zm-201 15zm190 5zm-219 3zm91 2zm-93 2zm249 15zm-27 2zm-23 6zm-141 2z"/><path d="M1143 8zm-90 2zm170 2zm5 11zm-131 1zm23 0zm-5 1zm5 5zm14 0zm60 4zm4 0zm22 2zm12 0zm9 1zm-101 1zm26 2zm47 0zm-5 1zm-107 2zm-126 1zm103 0zm112 0zm40 0zm-210 2zm81 0zm142 1zm-16 2zm-119 1zm-164 1zm86 0zm154 0zm-52 1zm46 0zm14 0zm-7 1zm-72 3zm-7 1zm100 0zm40 0zm11 0zm-221 1zm105 0zm-29 1zm58 0zm47 1zm3 0zm11 0zm-36 1zm18 1zm26 1zm-80 1zm33 0zm-84 1zm149 0zm-59 1zm4 0zm9 1zm-85 1zm117 0zm-49 2zm7 1zm55 0zm-74 2zm1 0zm38 0zm13 0zm23 0zm-58 1zm38 1zm-9 1zm17 0zm-29 1zm2 0zm-39 1zm42 0zm-31 1zm12 0zm-82 1zm91 0zm-19 1zm17 0zm8 0zm23 0zm-53 1zm26 0zm-82 1zm131 0zm-62 1zm42 0zm-152 1zm80 0zm25 0zm-74 1zm34 0zm1 0zm30 0zm3 0zm8 0zm4 0zm26 0zm-113 1zm78 0zm-62 1zm39 0zm33 0zm-106 1zm89 0zm15 0zm20 0zm-115 1zm31 0zm36 0zm9 0zm46 0zm6 0zm-19 1zm-96 1zm30 0zm64 0zm28 0zm-66 1zm59 1zm-110 1zm1 0zm60 0zm27 0zm11 0zm-89 2zm65 0zm-85 1zm9 0zm27 0zm23 0zm25 0zm6 0zm-32 1zm20 0zm-113 1zm16 0zm54 0zm1 0zm9 0zm-107 1zm106 0zm-26 1zm67 0zm18 0zm7 0zm1 0zm-73 1zm47 0zm-226 1zm208 0zm23 0zm0 0zm22 0zm4 0zm9 0zm-37 1zm29 0zm-152 1zm53 0zm45 0zm11 0zm42 0zm-80 1zm59 0zm8 0zm-77 1zm55 0zm15 0zm2 0zm66 0zm-76 1zm5 0zm15 0zm-59 1zm16 0zm21 0zm21 0zm-64 1zm2 0zm13 0zm12 0zm19 0zm8 0zm-133 1zm60 0zm34 0zm1 0zm2 0zm25 0zm25 0zm-42 1zm14 0zm13 0zm-159 1zm62 0zm21 0zm37 0zm44 0zm8 0zm-141 1zm118 0zm26 0zm-103 1zm56 0zm2 0zm8 0zm6 0zm5 0zm4 0zm32 0zm-101 1zm91 0zm-27 1zm11 0zm3 0zm51 0zm-229 1zm1 0zm74 0zm41 0zm38 0zm30 0zm-47 1zm7 0zm2 0zm2 0zm11 0zm3 0zm27 0zm-93 1zm33 0zm9 0zm5 0zm-74 1zm33 0zm13 0zm25 0zm9 0zm-91 1zm29 0zm13 0zm9 0zm2 0zm6 0zm9 0zm12 0zm14 0zm60 0zm-161 1zm17 0zm39 0zm34 0zm9 0zm4 0zm14 0zm-195 1zm91 0zm17 0zm24 0zm15 0zm38 0zm21 0zm-95 1zm37 0zm17 0zm5 0zm-59 1zm48 0zm29 0zm-254 1zm151 0zm25 0zm29 0zm3 0zm8 0zm2 0zm30 0zm25 0zm-81 1zm18 0zm20 0zm37 0zm5 0zm-86 1zm34 0zm11 0zm10 0zm3 0zm8 0zm16 0zm8 0zm5 0zm3 0zm-164 1zm59 0zm58 0zm14 0zm11 0zm34 0zm-152 1zm65 0zm28 0zm5 0zm13 0zm7 0zm26 0zm-89 1zm6 0zm40 0zm-65 1zm8 0zm19 0zm37 0zm0 0zm6 0zm42 0zm-202 1zm103 0zm72 0zm1 0zm16 0zm-124 1zm26 0zm53 0zm-104 1zm9 0zm5 0zm24 0zm16 0zm4 0zm15 0zm23 0zm7 0zm1 0zm3 0zm0 0zm8 0zm-53 1zm31 0zm24 0zm22 0zm-99 1zm69 0zm3 0zm7 0zm37 0zm-194 1zm89 0zm17 0zm7 0zm12 0zm14 0zm12 0zm4 0zm7 0zm1 0zm11 0zm-67 1zm7 0zm9 0zm9 0zm7 0zm2 0zm17 0zm27 0zm11 0zm-110 1zm8 0zm2 0zm14 0zm33 0zm3 0zm9 0zm12 0zm2 0zm2 0zm-304 1zm237 0zm30 0zm-122 1zm50 0zm15 0zm3 0zm35 0zm7 0zm8 0zm2 0zm7 0zm6 0zm19 0zm3 0zm-71 1zm16 0zm2 0zm31 0zm-42 1zm16 0zm27 0zm29 0zm0 0zm-146 1zm82 0zm39 0zm3 0zm2 0zm6 0zm-84 1zm10 0zm12 0zm11 0zm19 0zm23 0zm43 0zm-157 1zm6 0zm26 0zm26 0zm38 0zm23 0zm2 0zm0 0zm8 0zm18 0zm-141 1zm75 0zm4 0zm5 0zm4 0zm-189 1zm146 0zm38 0zm10 0zm6 0zm1 0zm15 0zm4 0zm-84 1zm11 0zm16 0zm2 0zm4 0zm1 0zm20 0zm16 0zm12 0zm-108 1zm70 0zm6 0zm14 0zm17 0zm3 0zm3 0zm-107 1zm2 0zm17 0zm11 0zm39 0zm4 0zm5 0zm2 0zm4 0zm-255 1zm96 0zm94 0zm19 0zm28 0zm1 0zm7 0zm0 0zm3 0zm0 0zm10 0zm-122 1zm79 0zm5 0zm16 0zm2 0zm16 0zm5 0zm-68 1zm8 0zm37 0zm1 0zm13 0zm2 0zm5 0zm12 0zm6 0zm-137 1zm62 0zm12 0zm38 0zm6 0zm4 0zm7 0zm2 0zm-107 1zm29 0zm15 0zm30 0zm6 0zm5 0zm7 0zm1 0zm7 0zm10 0zm10 0zm-135 1zm67 0zm0 0zm9 0zm3 0zm28 0zm8 0zm3 0zm21 0zm3 0zm10 0zm-155 1zm21 0zm36 0zm2 0zm2 0zm49 0zm-45 1zm13 0zm12 0zm3 0zm7 0zm11 0zm8 0zm6 0zm-106 1zm61 0zm48 0zm11 0zm-193 1zm80 0zm45 0zm2 0zm1 0zm16 0zm6 0zm15 0zm27 0zm-88 1zm11 0zm11 0zm6 0zm20 0zm3 0zm13 0zm11 0zm-93 1zm36 0zm17 0zm15 0zm4 0zm17 0zm-98 1zm27 0zm1 0zm8 0zm21 0zm9 0zm1 0zm0 0zm0 0zm18 0zm1 0zm53 0zm-145 1zm47 0zm12 0zm17 0zm5 0zm15 0zm15 0zm2 0zm12 0zm-55 1zm3 0zm21 0zm11 0zm6 0zm-140 1zm27 0zm43 0zm29 0zm6 0zm0 0zm2 0zm14 0zm-119 1zm49 0zm27 0zm2 0zm27 0zm7 0zm9 0zm7 0zm5 0zm0 0zm1 0zm9 0zm-139 1zm46 0zm16 0zm15 0zm23 0zm6 0zm7 0zm-99 1zm69 0zm1 0zm11 0zm14 0zm5 0zm1 0zm-139 1zm12 0zm22 0zm19 0zm18 0zm3 0zm9 0zm20 0zm4 0zm2 0zm9 0zm9 0zm1 0zm9 0zm8 0zm-130 1zm54 0zm3 0zm3 0zm21 0zm41 0zm21 0zm-46 1zm0 0zm7 0zm3 0zm1 0zm26 0zm32 0zm-172 1zm64 0zm7 0zm9 0zm3 0zm8 0zm19 0zm0 0zm26 0zm25 0zm-101 1zm27 0zm12 0zm15 0zm5 0zm-98 1zm60 0zm10 0zm36 0zm4 0zm44 0zm-116 1zm2 0zm7 0zm7 0zm0 0zm30 0zm4 0zm2 0zm6 0zm1 0zm34 0zm-167 1zm46 0zm12 0zm7 0zm6 0zm5 0zm2 0zm2 0zm3 0zm12 0zm5 0zm17 0zm13 0zm3 0zm5 0zm-91 1zm1 0zm26 0zm19 0zm3 0zm0 0zm3 0zm12 0zm11 0zm14 0zm2 0zm3 0zm11 0zm-88 1zm48 0zm28 0zm2 0zm29 0zm17 0zm14 0zm-149 1zm25 0zm5 0zm6 0zm3 0zm31 0zm3 0zm2 0zm3 0zm8 0zm19 0zm-150 1zm16 0zm68 0zm5 0zm2 0zm20 0zm7 0zm12 0zm1 0zm1 0zm13 0zm-133 1zm43 0zm18 0zm19 0zm5 0zm22 0zm16 0zm3 0zm8 0zm25 0zm-152 1zm65 0zm9 0zm7 0zm7 0zm5 0zm10 0zm22 0zm2 0zm-168 1zm62 0zm55 0zm9 0zm10 0zm18 0zm1 0zm-90 1zm29 0zm15 0zm24 0zm3 0zm2 0zm7 0zm14 0zm15 0zm-94 1zm14 0zm0 0zm9 0zm9 0zm8 0zm24 0zm-85 1zm25 0zm4 0zm25 0zm15 0zm-127 1zm72 0zm40 0zm17 0zm-35 1zm6 0zm25 0zm1 0zm16 0zm11 0zm12 0zm-86 1zm12 0zm1 0zm12 0zm17 0zm26 0zm-122 1zm7 0zm23 0zm1 0zm12 0zm15 0zm30 0zm1 0zm2 0zm7 0zm11 0zm4 0zm23 0zm-144 1zm47 0zm37 0zm11 0zm15 0zm15 0zm-117 1zm7 0zm58 0zm12 0zm2 0zm20 0zm44 0zm11 0zm-164 1zm51 0zm28 0zm18 0zm11 0zm1 0zm14 0zm1 0zm7 0zm32 0zm-209 1zm74 0zm34 0zm10 0zm1 0zm18 0zm2 0zm15 0zm2 0zm7 0zm29 0zm-185 1zm3 0zm61 0zm6 0zm2 0zm12 0zm18 0zm6 0zm31 0zm10 0zm5 0zm6 0zm7 0zm13 0zm-95 1zm29 0zm8 0zm14 0zm8 0zm1 0zm26 0zm-123 1zm40 0zm8 0zm23 0zm12 0zm1 0zm2 0zm8 0zm0 0zm2 0zm6 0zm16 0zm33 0zm-149 1zm37 0zm32 0zm20 0zm10 0zm25 0zm10 0zm-107 1zm7 0zm38 0zm5 0zm10 0zm14 0zm18 0zm41 0zm-152 1zm20 0zm3 0zm21 0zm31 0zm2 0zm14 0zm6 0zm5 0zm1 0zm25 0zm-158 1zm87 0zm13 0zm20 0zm-136 1zm60 0zm55 0zm7 0zm1 0zm10 0zm38 0zm-153 1zm69 0zm5 0zm6 0zm10 0zm25 0zm20 0zm-125 1zm62 0zm14 0zm11 0zm1 0zm14 0zm16 0zm-227 1zm138 0zm47 0zm2 0zm13 0zm12 0zm47 0zm1 0zm-251 1zm101 0zm51 0zm1 0zm4 0zm7 0zm7 0zm11 0zm35 0zm-125 1zm39 0zm22 0zm14 0zm3 0zm22 0zm1 0zm-88 1zm15 0zm16 0zm7 0zm3 0zm14 0zm22 0zm3 0zm7 0zm5 0zm4 0zm5 0zm2 0zm15 0zm-115 1zm25 0zm10 0zm6 0zm51 0zm19 0zm3 0zm-136 1zm18 0zm50 0zm16 0zm8 0zm18 0zm22 0zm16 0zm-121 1zm8 0zm4 0zm11 0zm16 0zm22 0zm9 0zm1 0zm22 0zm42 0zm-151 1zm37 0zm3 0zm11 0zm9 0zm3 0zm7 0zm21 0zm17 0zm3 0zm4 0zm27 0zm4 0zm31 0zm-200 1zm24 0zm42 0zm4 0zm25 0zm37 0zm3 0zm15 0zm-182 1zm63 0zm35 0zm23 0zm9 0zm22 0zm4 0zm36 0zm11 0zm-148 1zm57 0zm11 0zm82 0zm-167 1zm28 0zm27 0zm32 0zm3 0zm11 0zm20 0zm11 0zm17 0zm-144 1zm29 0zm38 0zm7 0zm0 0zm5 0zm6 0zm2 0zm-52 1zm96 0zm12 0zm-107 1zm7 0zm10 0zm14 0zm5 0zm2 0zm50 0zm16 0zm-208 1zm61 0zm10 0zm23 0zm37 0zm38 0zm1 0zm5 0zm8 0zm9 0zm25 0zm-91 1zm25 0zm44 0zm13 0zm16 0zm14 0zm-148 1zm17 0zm4 0zm45 0zm4 0zm29 0zm32 0zm14 0zm-177 1zm54 0zm50 0zm3 0zm1 0zm62 0zm-127 1zm12 0zm3 0zm7 0zm18 0zm4 0zm14 0zm6 0zm5 0zm2 0zm3 0zm0 0zm25 0zm29 0zm-196 1zm53 0zm53 0zm25 0zm21 0zm-47 1zm8 0zm66 0zm-240 1zm65 0zm32 0zm44 0zm20 0zm46 0zm1 0zm-201 1zm69 0zm56 0zm28 0zm22 0zm7 0zm18 0zm-110 1zm23 0zm44 0zm17 0zm17 0zm18 0zm14 0zm54 0zm-170 1zm12 0zm12 0zm18 0zm13 0zm0 0zm21 0zm8 0zm21 0zm1 0zm-185 1zm62 0zm14 0zm71 0zm8 0zm15 0zm-84 1zm11 0zm24 0zm7 0zm2 0zm12 0zm5 0zm15 0zm7 0zm2 0zm57 0zm-232 1zm87 0zm28 0zm1 0zm31 0zm4 0zm43 0zm75 0zm-171 1zm29 0zm9 0zm80 0zm-134 1zm8 0zm44 0zm35 0zm14 0zm8 0zm13 0zm14 0zm-189 1zm18 0zm29 0zm29 0zm22 0zm42 0zm19 0zm20 0zm-200 1zm92 0zm0 0zm43 0zm26 0zm-76 1zm3 0zm6 0zm32 0zm8 0zm4 0zm4 0zm13 0zm15 0zm8 0zm65 0zm-172 1zm0 0zm6 0zm28 0zm1 0zm8 0zm8 0zm1 0zm4 0zm2 0zm3 0zm18 0zm2 0zm5 0zm4 0zm2 0zm11 0zm11 0zm-151 1zm9 0zm25 0zm6 0zm14 0zm2 0zm55 0zm18 0zm12 0zm29 0zm-221 1zm73 0zm4 0zm4 0zm18 0zm0 0zm6 0zm7 0zm11 0zm3 0zm51 0zm-156 1zm26 0zm48 0zm12 0zm10 0zm19 0zm1 0zm4 0zm1 0zm15 0zm26 0zm22 0zm-123 1zm67 0zm2 0zm1 0zm20 0zm42 0zm-275 1zm163 0zm13 0zm4 0zm30 0zm1 0zm15 0zm9 0zm14 0zm74 0zm-245 1zm43 0zm44 0zm42 0zm2 0zm3 0zm34 0zm14 0zm-233 1zm151 0zm6 0zm2 0zm3 0zm45 0zm7 0zm27 0zm-105 1zm2 0zm13 0zm1 0zm14 0zm25 0zm2 0zm4 0zm-69 1zm8 0zm8 0zm29 0zm6 0zm60 0zm23 0zm-137 1zm6 0zm7 0zm3 0zm10 0zm15 0zm13 0zm15 0zm2 0zm14 0zm-174 1zm2 0zm28 0zm29 0zm24 0zm53 0zm22 0zm0 0zm55 0zm5 0zm-208 1zm58 0zm12 0zm53 0zm29 0zm16 0zm14 0zm-71 1zm8 0zm11 0zm18 0zm28 0zm-118 1zm28 0zm27 0zm5 0zm3 0zm19 0zm2 0zm-70 1zm1 0zm14 0zm7 0zm8 0zm19 0zm48 0zm18 0zm5 0zm-90 1zm1 0zm14 0zm8 0zm42 0zm-111 1zm34 0zm23 0zm10 0zm7 0zm27 0zm1 0zm4 0zm12 0zm-119 1zm37 0zm8 0zm7 0zm7 0zm6 0zm13 0zm25 0zm6 0zm6 0zm-164 1zm54 0zm32 0zm14 0zm0 0zm20 0zm12 0zm27 0zm41 0zm-176 1zm24 0zm56 0zm2 0zm7 0zm1 0zm23 0zm16 0zm6 0zm-126 1zm18 0zm21 0zm16 0zm29 0zm11 0zm73 0zm-123 1zm4 0zm17 0zm-172 1zm121 0zm40 0zm9 0zm12 0zm40 0zm1 0zm-157 1zm25 0zm76 0zm19 0zm22 0zm10 0zm31 0zm8 0zm-100 1zm6 0zm6 0zm6 0zm6 0zm-84 1zm20 0zm22 0zm73 0zm22 0zm-127 1zm8 0zm30 0zm34 0zm1 0zm18 0zm14 0zm-86 1zm67 0zm73 0zm-162 1zm1 0zm27 0zm24 0zm6 0zm8 0zm-92 1zm68 0zm37 0zm5 0zm10 0zm-82 1zm81 0zm-52 1zm13 0zm11 0zm-27 1zm2 0zm25 0zm22 0zm35 0zm22 0zm-125 1zm3 0zm5 0zm34 0zm52 0zm-121 1zm28 0zm2 0zm32 0zm3 0zm18 0zm36 0zm-149 1zm41 0zm22 0zm27 0zm9 0zm13 0zm29 0zm-113 1zm49 0zm7 0zm6 0zm27 0zm88 0zm-214 1zm75 0zm2 0zm9 0zm14 0zm30 0zm15 0zm-45 1zm16 0zm9 0zm26 0zm23 0zm-73 1zm83 0zm14 0zm77 0zm-159 1zm15 0zm61 0zm-114 1zm1 0zm24 0zm7 0zm29 0zm-31 1zm23 0zm35 0zm-135 1zm45 0zm11 0zm23 0zm17 0zm5 0zm-5 1zm46 0zm9 0zm-142 1zm35 0zm44 0zm31 0zm-121 1zm43 0zm10 0zm9 0zm23 0zm8 0zm40 0zm-111 1zm6 0zm76 0zm9 0zm-124 1zm62 0zm5 0zm16 0zm2 0zm-76 1zm77 0zm1 0zm66 0zm-202 1zm33 1zm42 0zm1 0zm71 0zm24 0zm37 0zm-138 1zm68 0zm101 0zm-239 1zm113 0zm26 0zm-74 1zm2 0zm24 0zm44 0zm40 0zm-97 1zm12 0zm36 0zm59 0zm-126 1zm56 0zm19 0zm44 0zm13 0zm-33 1zm-42 1zm2 0zm3 0zm8 0zm13 0zm-85 1zm24 0zm41 0zm29 0zm22 0zm3 0zm-225 1zm104 0zm27 0zm25 0zm18 0zm25 0zm35 0zm79 0zm-178 1zm3 0zm7 0zm10 0zm10 0zm56 0zm-189 1zm86 0zm47 0zm5 0zm0 0zm28 0zm46 0zm-106 1zm24 0zm2 0zm52 0zm24 0zm-126 1zm27 0zm14 0zm7 0zm54 0zm-66 1zm21 0zm1 0zm-99 1zm74 0zm0 0zm22 0zm2 0zm14 0zm7 0zm8 0zm-46 1zm21 0zm4 0zm-91 1zm47 0zm2 0zm55 0zm14 0zm62 0zm-127 1zm2 0zm15 0zm2 0zm7 0zm14 0zm89 0zm-120 1zm12 0zm20 0zm-132 1zm80 0zm93 0zm-79 1zm7 0zm31 0zm14 0zm-132 1zm48 0zm45 0zm22 0zm19 0zm36 0zm-95 1zm2 0zm16 0zm1 0zm5 0zm48 0zm-25 1zm-52 1zm11 0zm9 0zm7 0zm29 0zm34 0zm-109 1zm24 0zm11 0zm143 0zm7 0zm-147 1zm2 0zm16 0zm43 0zm-156 1zm80 0zm9 0zm22 0zm1 0zm-103 1zm77 0zm2 0zm2 0zm-21 1zm-57 1zm47 0zm13 0zm7 0zm20 0zm47 0zm-78 1zm6 0zm18 0zm10 0zm21 0zm-107 1zm28 0zm15 0zm-35 1zm41 0zm2 0zm11 0zm24 0zm53 0zm-53 1zm3 0zm-41 1zm16 0zm22 0zm1 0zm10 0zm-129 1zm14 0zm46 0zm3 0zm0 0zm40 0zm15 0zm22 0zm-139 1zm1 0zm15 0zm3 0zm79 0zm1 0zm21 0zm5 0zm3 1zm9 1zm7 0zm-79 1zm16 0zm20 0zm85 0zm-158 1zm10 0zm64 0zm3 0zm-32 1zm14 0zm20 0zm9 0zm14 0zm30 0zm-86 1zm60 0zm11 0zm3 0zm-132 2zm67 0zm34 0zm10 0zm79 0zm-158 1zm35 0zm0 0zm77 0zm95 0zm-139 1zm57 0zm-103 1zm30 0zm22 0zm53 0zm-112 1zm154 0zm-96 1zm-25 1zm1 0zm0 0zm1 0zm2 0zm-10 1zm4 0zm-17 1zm-7 2zm66 0zm-71 1zm17 0zm75 0zm-165 1zm0 0zm104 0zm-75 1zm58 0zm18 0zm94 0zm-94 1zm-14 2zm7 0zm55 0zm31 0zm43 0zm-170 1zm0 0zm49 1zm2 0zm54 0zm-56 1zm-100 1zm22 0zm42 0zm35 0zm15 0zm-98 1zm46 0zm28 0zm18 0zm17 0zm-141 1zm107 1zm18 0zm-105 1zm50 0zm9 0zm50 0zm21 0zm-56 1zm74 0zm-84 2zm13 0zm9 1zm221 0zm-257 1zm27 0zm-69 1zm42 0zm8 0zm55 1zm-66 2zm77 0zm140 0zm-184 1zm15 0zm-89 1zm3 0zm61 0zm50 0zm-95 1zm27 0zm82 0zm-62 1zm22 0zm11 0zm44 0zm-168 1zm94 0zm2 0zm97 0zm-146 1zm67 1zm38 0zm34 1zm-167 1zm31 0zm8 0zm9 0zm31 0zm31 0zm55 0zm-96 1zm-75 1zm118 0zm-106 1zm25 0zm64 1zm28 0zm-103 2zm53 0zm-4 1zm3 0zm38 0zm18 0zm26 1zm-101 1zm-36 1zm21 0zm105 0zm-39 1zm-104 1zm56 0zm197 0zm-262 1zm69 0zm122 0zm-155 2zm47 0zm24 0zm29 0zm5 0zm69 0zm-141 1zm21 0zm118 0zm-172 1zm29 0zm24 0zm49 0zm-119 1zm13 0zm-12 1zm177 0zm-185 1zm154 0zm-77 1zm-11 1zm-101 1zm96 0zm-86 1zm12 0zm9 0zm34 0zm-22 1zm21 1zm40 0zm92 0zm-116 1zm-107 1zm127 1zm-69 1zm86 0zm-21 2zm-6 1zm-48 1zm29 1zm24 0zm-38 1zm103 0zm-126 2zm-12 2zm23 3zm25 0zm-35 1zm71 0zm2 1zm-95 1zm35 0zm38 1zm-38 1zm192 0zm-197 2zm-22 1zm65 0zm-18 1zm187 1zm-224 1zm54 0zm-48 1zm23 3zm8 1zm84 0zm-160 3zm58 1zm-20 1zm72 1zm-61 2zm-48 3zm4 0zm61 0zm27 0zm-12 1zm-99 3zm79 0zm-83 1zm118 1zm-30 1zm-60 3zm94 0zm-28 1zm6 1zm2 0zm-33 1zm167 0zm-159 1zm-55 1zm63 4zm-95 2zm-26 2zm151 3zm161 2zm-248 4zm84 1zm24 2zm-22 1zm-137 2zm55 15zm-6 10zm129 0zm-52 1zm136 13zm-57 10zm-241 9zm87 4zm-111 11z"/><path d="M1251 10zm-80 4zm-4 1zm7 1zm12 1zm-37 2zm-38 1zm49 2zm55 2zm-2 1zm33 1zm-104 2zm-205 1zm311 0zm28 1zm-9 2zm37 1zm-40 1zm4 0zm28 0zm-112 2zm-146 2zm36 1zm65 0zm81 1zm-54 1zm-69 1zm143 2zm-115 1zm106 1zm-132 1zm167 0zm-53 1zm-109 1zm101 0zm-145 2zm18 0zm34 0zm-19 1zm108 0zm-56 1zm76 0zm5 1zm-91 1zm27 0zm29 0zm41 0zm-150 1zm113 1zm2 2zm24 0zm20 0zm28 0zm-164 1zm108 0zm4 1zm-50 3zm-47 4zm138 0zm-257 1zm28 0zm213 1zm-23 1zm-249 1zm148 0zm112 0zm14 0zm-158 1zm95 0zm13 0zm17 0zm16 0zm-128 1zm75 0zm24 0zm5 0zm8 0zm3 0zm22 0zm5 1zm-160 1zm72 0zm2 0zm39 0zm39 1zm2 0zm-144 1zm41 0zm108 0zm-96 1zm71 0zm-126 1zm94 0zm23 0zm-19 1zm10 0zm16 0zm12 0zm-41 1zm6 0zm-6 1zm2 0zm2 0zm10 0zm-27 1zm-7 1zm6 0zm38 0zm7 0zm55 0zm-47 1zm1 0zm-249 1zm100 0zm16 0zm85 0zm55 0zm-94 1zm84 0zm23 0zm-81 1zm20 0zm17 0zm5 0zm6 0zm-67 2zm47 0zm-57 1zm3 0zm49 0zm12 0zm9 0zm4 0zm3 0zm-29 1zm8 0zm22 0zm-12 1zm14 0zm-99 1zm89 0zm-101 1zm115 0zm19 0zm-227 1zm101 0zm50 0zm5 0zm28 0zm17 0zm0 0zm10 0zm11 0zm27 0zm-183 1zm70 0zm19 0zm34 0zm7 0zm13 0zm-31 1zm27 0zm-66 1zm35 0zm25 0zm8 0zm-185 1zm94 0zm39 0zm31 0zm39 0zm-83 1zm12 0zm5 0zm42 0zm3 0zm-127 1zm103 0zm12 0zm1 0zm1 0zm-50 1zm31 0zm-12 1zm46 0zm3 0zm-166 1zm100 0zm24 0zm-48 1zm2 0zm50 0zm15 0zm5 0zm-133 1zm82 0zm17 0zm29 0zm-373 1zm266 0zm19 0zm31 0zm0 0zm46 0zm11 0zm1 0zm19 0zm-84 1zm25 0zm36 0zm3 0zm35 0zm-128 1zm39 0zm26 0zm15 0zm4 0zm-69 1zm29 0zm6 0zm35 0zm2 0zm28 0zm-54 1zm11 0zm6 0zm67 0zm-106 1zm9 0zm-6 1zm18 0zm0 0zm28 0zm13 0zm-201 1zm24 0zm129 0zm30 0zm6 0zm8 0zm37 0zm-173 1zm2 0zm80 0zm7 0zm30 0zm0 0zm1 1zm4 0zm19 0zm-137 1zm34 0zm31 0zm0 0zm33 0zm-240 1zm236 0zm19 0zm10 0zm20 0zm2 0zm-103 1zm10 0zm16 0zm12 0zm7 0zm6 0zm35 0zm5 0zm15 0zm5 0zm-121 1zm39 0zm10 0zm8 0zm21 0zm5 0zm1 0zm13 0zm-61 1zm36 0zm12 0zm3 0zm5 0zm1 0zm23 0zm-114 1zm14 0zm21 0zm31 0zm1 0zm3 0zm20 0zm5 0zm37 0zm-63 1zm15 0zm38 0zm-204 1zm159 0zm9 0zm16 0zm26 1zm2 0zm-99 1zm12 0zm10 0zm24 0zm-158 1zm80 0zm7 0zm32 0zm14 0zm23 0zm18 0zm12 0zm-114 1zm26 0zm54 0zm31 0zm7 0zm-148 1zm41 0zm3 0zm77 0zm-62 1zm1 0zm21 0zm17 0zm29 0zm-36 1zm11 0zm31 0zm-222 1zm138 0zm24 0zm6 0zm14 0zm7 0zm7 0zm9 0zm9 0zm8 0zm-56 1zm10 0zm26 0zm5 0zm0 0zm5 0zm8 0zm-185 1zm90 0zm12 0zm29 0zm7 0zm6 0zm8 0zm6 0zm13 0zm4 0zm-341 1zm247 0zm56 0zm28 0zm16 0zm16 0zm-124 1zm78 0zm15 0zm7 0zm-101 1zm40 0zm36 0zm6 0zm19 0zm9 0zm4 0zm-66 1zm1 0zm42 0zm6 0zm1 0zm2 0zm2 0zm6 0zm-65 1zm1 0zm15 0zm16 0zm18 0zm37 0zm13 0zm-205 1zm102 0zm18 0zm37 0zm3 0zm16 0zm23 0zm-107 1zm27 0zm1 0zm6 0zm2 0zm1 0zm6 0zm1 0zm3 0zm3 0zm16 0zm2 0zm18 0zm-194 1zm151 0zm14 0zm2 0zm1 0zm12 0zm20 0zm-102 1zm50 0zm21 0zm8 0zm42 0zm-210 1zm24 0zm64 0zm13 0zm11 0zm29 0zm49 0zm-121 1zm3 0zm43 0zm5 0zm1 0zm22 0zm27 0zm13 0zm-94 1zm22 0zm9 0zm28 0zm-55 1zm6 0zm2 0zm5 0zm19 0zm13 0zm3 0zm2 0zm1 0zm2 0zm14 0zm41 0zm-138 1zm69 0zm18 0zm11 0zm20 0zm-85 1zm12 0zm21 0zm11 0zm2 0zm15 0zm1 0zm3 0zm8 0zm9 0zm7 0zm22 0zm-143 1zm27 0zm22 0zm10 0zm18 0zm4 0zm1 0zm6 0zm10 0zm8 0zm2 0zm-107 1zm54 0zm24 0zm12 0zm34 0zm5 0zm14 0zm-90 1zm6 0zm0 0zm4 0zm17 0zm12 0zm4 0zm9 0zm2 0zm-162 1zm2 0zm112 0zm11 0zm34 0zm0 0zm6 0zm8 0zm0 0zm-50 1zm20 0zm13 0zm24 0zm-108 1zm16 0zm32 0zm20 0zm18 0zm13 0zm-183 1zm114 0zm12 0zm25 0zm6 0zm6 0zm42 0zm-221 1zm60 0zm8 0zm23 0zm29 0zm7 0zm8 0zm15 0zm1 0zm28 0zm1 0zm20 0zm13 0zm-103 1zm9 0zm14 0zm4 0zm0 0zm8 0zm7 0zm3 0zm6 0zm29 0zm5 0zm-35 1zm11 0zm3 0zm7 0zm2 0zm25 0zm-81 1zm19 0zm1 0zm13 0zm3 0zm2 0zm6 0zm45 0zm-91 1zm1 0zm23 0zm14 0zm0 0zm17 0zm2 0zm-74 1zm8 0zm1 0zm10 0zm10 0zm23 0zm0 0zm7 0zm19 0zm10 0zm-95 1zm7 0zm13 0zm11 0zm13 0zm0 0zm5 0zm8 0zm12 0zm12 0zm47 0zm-132 1zm24 0zm5 0zm21 0zm5 0zm11 0zm18 0zm2 0zm-132 1zm39 0zm65 0zm2 0zm32 0zm-124 1zm5 0zm45 0zm37 0zm13 0zm-98 1zm30 0zm47 0zm2 0zm3 0zm5 0zm0 0zm15 0zm-91 1zm6 0zm3 0zm38 0zm15 0zm33 0zm4 0zm10 0zm3 0zm-109 1zm21 0zm8 0zm25 0zm2 0zm14 0zm26 0zm31 0zm-126 1zm8 0zm38 0zm6 0zm8 0zm2 0zm6 0zm4 0zm4 0zm6 0zm2 0zm2 0zm3 0zm19 0zm1 0zm-117 1zm52 0zm6 0zm10 0zm5 0zm4 0zm1 0zm3 0zm3 0zm2 0zm5 0zm12 0zm25 0zm-87 1zm4 0zm5 0zm7 0zm8 0zm0 0zm3 0zm18 0zm10 0zm15 0zm65 0zm-233 1zm55 0zm58 0zm2 0zm3 0zm5 0zm2 0zm20 0zm19 0zm9 0zm-93 1zm11 0zm1 0zm39 0zm0 0zm3 0zm15 0zm17 0zm12 0zm-225 1zm82 0zm64 0zm15 0zm9 0zm59 0zm-94 1zm10 0zm14 0zm3 0zm11 0zm10 0zm38 0zm15 0zm12 0zm-119 1zm37 0zm0 0zm23 0zm2 0zm26 0zm-111 1zm3 0zm89 0zm4 0zm15 0zm6 0zm-82 1zm2 0zm11 0zm17 0zm4 0zm23 0zm4 0zm14 0zm9 0zm22 0zm33 0zm-232 1zm93 0zm4 0zm12 0zm4 0zm25 0zm2 0zm3 0zm14 0zm15 0zm-95 1zm13 0zm2 0zm14 0zm7 0zm9 0zm5 0zm8 0zm9 0zm10 0zm2 0zm3 0zm3 0zm5 0zm-310 1zm213 0zm1 0zm11 0zm16 0zm8 0zm5 0zm9 0zm6 0zm1 0zm1 0zm4 0zm28 0zm27 0zm-119 1zm38 0zm15 0zm50 0zm-149 1zm2 0zm33 0zm56 0zm6 0zm5 0zm5 0zm1 0zm3 0zm4 0zm13 0zm19 0zm-98 1zm42 0zm8 0zm7 0zm9 0zm3 0zm1 0zm1 0zm-184 1zm8 0zm83 0zm16 0zm11 0zm10 0zm1 0zm20 0zm19 0zm6 0zm20 0zm3 0zm2 0zm10 0zm19 0zm-132 1zm21 0zm6 0zm1 0zm12 0zm28 0zm39 0zm-230 1zm31 0zm90 0zm0 0zm38 0zm17 0zm5 0zm4 0zm9 0zm3 0zm11 0zm15 0zm5 0zm1 0zm0 0zm2 0zm-175 1zm47 0zm3 0zm20 0zm28 0zm4 0zm2 0zm0 0zm10 0zm1 0zm77 0zm-145 1zm25 0zm38 0zm12 0zm6 0zm1 0zm10 0zm15 0zm-116 1zm89 0zm6 0zm0 0zm17 0zm10 0zm1 0zm2 0zm73 0zm-164 1zm23 0zm3 0zm1 0zm15 0zm8 0zm25 0zm27 0zm3 0zm-206 1zm63 0zm54 0zm25 0zm3 0zm6 0zm5 0zm7 0zm24 0zm36 0zm-120 1zm9 0zm16 0zm1 0zm15 0zm0 0zm18 0zm2 0zm2 0zm2 0zm12 0zm7 0zm-106 1zm28 0zm12 0zm19 0zm7 0zm27 0zm41 0zm-68 1zm5 0zm2 0zm4 0zm3 0zm5 0zm12 0zm56 0zm-128 1zm1 0zm38 0zm8 0zm28 0zm9 0zm-101 1zm1 0zm42 0zm1 0zm0 0zm7 0zm16 0zm13 0zm2 0zm4 0zm15 0zm-135 1zm11 0zm8 0zm50 0zm1 0zm4 0zm1 0zm6 0zm8 0zm27 0zm6 0zm-216 1zm24 0zm60 0zm50 0zm16 0zm7 0zm2 0zm28 0zm16 0zm3 0zm11 0zm17 0zm-117 1zm10 0zm15 0zm12 0zm25 0zm28 0zm26 0zm0 0zm-79 1zm2 0zm11 0zm12 0zm17 0zm8 0zm3 0zm17 0zm12 0zm-250 1zm86 0zm83 0zm15 0zm20 0zm24 0zm1 0zm-97 1zm10 0zm6 0zm1 0zm4 0zm15 0zm25 0zm4 0zm1 0zm5 0zm28 0zm-63 1zm4 0zm11 0zm3 0zm16 0zm29 0zm16 0zm-169 1zm28 0zm12 0zm47 0zm8 0zm26 0zm12 0zm14 0zm8 0zm39 0zm-122 1zm2 0zm14 0zm18 0zm8 0zm1 0zm0 0zm4 0zm0 0zm38 0zm54 0zm-196 1zm58 0zm16 0zm52 0zm35 0zm-182 1zm43 0zm11 0zm19 0zm2 0zm33 0zm13 0zm31 0zm1 0zm-153 1zm52 0zm22 0zm4 0zm0 0zm25 0zm3 0zm70 0zm-189 1zm76 0zm29 0zm7 0zm26 0zm0 0zm1 0zm0 0zm10 0zm8 0zm33 0zm-191 1zm20 0zm56 0zm18 0zm9 0zm23 0zm8 0zm6 0zm32 0zm23 0zm-148 1zm18 0zm30 0zm28 0zm2 0zm24 0zm1 0zm6 0zm5 0zm28 0zm13 0zm-122 1zm6 0zm15 0zm7 0zm5 0zm35 0zm7 0zm1 0zm17 0zm26 0zm18 0zm-117 1zm14 0zm2 0zm7 0zm18 0zm7 0zm5 0zm-151 1zm29 0zm82 0zm14 0zm20 0zm18 0zm0 0zm-44 1zm6 0zm10 0zm5 0zm13 0zm1 0zm27 0zm-85 1zm3 0zm1 0zm14 0zm20 0zm3 0zm5 0zm7 0zm34 0zm-145 1zm21 0zm24 0zm22 0zm1 0zm41 0zm2 0zm3 0zm-180 1zm61 0zm46 0zm22 0zm6 0zm10 0zm13 0zm3 0zm0 0zm9 0zm1 0zm15 0zm66 0zm30 0zm-233 1zm145 0zm19 0zm22 0zm-145 1zm17 0zm0 0zm6 0zm4 0zm20 0zm3 0zm18 0zm4 0zm1 0zm15 0zm11 0zm29 0zm-193 1zm87 0zm7 0zm34 0zm1 0zm19 0zm14 0zm13 0zm9 0zm-134 1zm101 0zm32 0zm-111 1zm21 0zm9 0zm2 0zm17 0zm4 0zm1 0zm4 0zm5 0zm23 0zm4 0zm-158 1zm51 0zm41 0zm34 0zm102 0zm-118 1zm7 0zm17 0zm4 0zm87 0zm-117 1zm15 0zm25 0zm38 0zm-140 1zm31 0zm13 0zm26 0zm1 0zm2 0zm5 0zm75 0zm-331 1zm191 0zm30 0zm5 0zm8 0zm16 0zm3 0zm0 0zm22 0zm9 0zm6 0zm26 0zm31 0zm-225 1zm89 0zm13 0zm1 0zm9 0zm6 0zm16 0zm7 0zm19 0zm-104 1zm19 0zm23 0zm11 0zm1 0zm4 0zm4 0zm44 0zm13 0zm-217 1zm117 0zm32 0zm20 0zm9 0zm0 0zm6 0zm63 0zm-178 1zm60 0zm26 0zm16 0zm12 0zm-144 1zm87 0zm4 0zm29 0zm4 0zm7 0zm3 0zm1 0zm12 0zm11 0zm5 0zm28 0zm-205 1zm64 0zm6 0zm25 0zm1 0zm20 0zm1 0zm27 0zm31 0zm-131 1zm49 0zm16 0zm19 0zm7 0zm12 0zm6 0zm44 0zm12 0zm15 0zm-116 1zm7 0zm11 0zm26 0zm0 0zm6 0zm23 0zm53 0zm-251 1zm72 0zm19 0zm27 0zm19 0zm12 0zm10 0zm-41 1zm23 0zm10 0zm16 0zm-120 1zm46 0zm15 0zm39 0zm5 0zm2 0zm7 0zm4 0zm2 0zm33 0zm-119 1zm1 0zm30 0zm24 0zm40 0zm13 0zm-46 1zm15 0zm18 0zm26 0zm24 0zm-179 1zm30 0zm45 0zm7 0zm5 0zm11 0zm0 0zm4 0zm6 0zm10 0zm6 0zm40 0zm-137 1zm31 0zm2 0zm6 0zm4 0zm54 0zm12 0zm1 0zm13 0zm7 0zm-88 1zm4 0zm16 0zm11 0zm7 0zm2 0zm3 0zm17 0zm43 0zm2 0zm-91 1zm0 0zm1 0zm12 0zm9 0zm3 0zm9 0zm0 0zm36 0zm-123 1zm2 0zm3 0zm46 0zm4 0zm19 0zm23 0zm4 0zm25 0zm-156 1zm45 0zm4 0zm33 0zm20 0zm14 0zm1 0zm8 0zm6 0zm3 0zm12 0zm4 0zm-109 1zm47 0zm7 0zm3 0zm10 0zm-120 1zm51 0zm52 0zm3 0zm14 0zm11 0zm-79 1zm21 0zm11 0zm7 0zm38 0zm14 0zm22 0zm8 0zm-155 1zm72 0zm2 0zm3 0zm23 0zm8 0zm10 0zm10 0zm-112 1zm28 0zm34 0zm6 0zm36 0zm8 0zm8 0zm21 0zm-245 1zm102 0zm-65 1zm40 0zm3 0zm33 0zm42 0zm10 0zm33 0zm6 0zm42 0zm32 0zm-192 1zm23 0zm7 0zm19 0zm48 0zm4 0zm23 0zm20 0zm-167 1zm5 0zm90 0zm13 0zm17 0zm-29 1zm0 0zm16 0zm51 0zm-169 1zm66 0zm25 0zm28 0zm41 0zm-94 1zm27 0zm0 0zm7 0zm23 0zm11 0zm35 0zm-139 1zm82 0zm7 0zm4 0zm4 0zm16 0zm29 0zm-144 1zm30 0zm36 0zm73 0zm5 0zm-126 1zm19 0zm31 0zm28 0zm2 0zm13 0zm87 0zm-152 1zm11 0zm39 0zm7 0zm-137 1zm57 0zm20 0zm4 0zm22 0zm21 0zm30 0zm16 0zm-93 1zm25 0zm21 0zm40 0zm11 0zm-96 1zm12 0zm28 0zm3 0zm1 0zm2 0zm2 0zm5 0zm11 0zm3 0zm-89 1zm34 0zm14 0zm0 0zm12 0zm8 0zm36 0zm7 0zm20 0zm13 0zm-150 1zm18 0zm95 0zm-109 1zm22 0zm27 0zm6 0zm39 0zm-100 1zm4 0zm36 0zm53 0zm-120 1zm41 0zm58 0zm2 0zm15 0zm-103 1zm63 0zm4 0zm14 0zm0 0zm12 0zm21 0zm7 0zm51 0zm-215 1zm57 0zm53 0zm11 0zm29 0zm2 0zm6 0zm6 0zm-105 1zm72 0zm6 0zm1 0zm30 0zm74 0zm-196 1zm25 0zm1 0zm15 0zm13 0zm5 0zm16 0zm32 0zm-134 1zm62 0zm3 0zm10 0zm23 0zm49 0zm5 0zm21 0zm-165 1zm57 0zm8 0zm2 0zm33 0zm4 0zm10 0zm8 0zm-18 1zm10 0zm10 0zm17 1zm-150 1zm62 0zm16 0zm16 0zm4 0zm0 0zm21 0zm19 0zm1 0zm13 0zm35 0zm62 0zm-234 1zm-33 1zm112 0zm15 0zm0 0zm9 0zm5 0zm-95 1zm5 0zm21 0zm27 0zm87 0zm-73 1zm5 0zm0 0zm3 0zm5 0zm17 0zm62 0zm-117 1zm3 0zm4 0zm8 0zm19 0zm31 0zm-25 1zm12 0zm-103 1zm26 0zm1 0zm23 0zm13 0zm30 0zm22 0zm-145 1zm19 0zm50 0zm32 0zm-120 1zm121 0zm34 0zm4 0zm28 0zm15 0zm-116 1zm31 0zm11 0zm2 0zm28 0zm-114 1zm57 0zm16 0zm39 0zm-150 1zm49 0zm40 0zm11 0zm39 0zm14 0zm-120 1zm33 0zm26 0zm11 0zm39 0zm-111 1zm50 0zm33 0zm27 0zm21 0zm-181 1zm87 0zm19 0zm27 0zm33 0zm-91 1zm34 0zm32 0zm-92 1zm3 0zm0 0zm41 0zm34 0zm3 0zm-57 1zm18 0zm14 0zm36 0zm-26 1zm2 0zm-64 1zm-56 1zm99 0zm49 0zm-130 1zm79 0zm67 0zm15 0zm69 0zm0 0zm-150 1zm12 1zm-74 1zm54 0zm12 0zm15 1zm32 0zm19 0zm3 0zm-211 1zm48 0zm114 0zm3 0zm3 0zm8 0zm12 0zm26 0zm2 0zm-187 1zm145 0zm31 0zm-61 1zm8 0zm24 0zm13 0zm4 0zm-151 1zm51 0zm47 0zm19 0zm8 0zm55 0zm-157 1zm16 0zm38 0zm3 0zm11 0zm14 0zm8 0zm4 0zm-102 1zm73 0zm46 0zm10 0zm35 0zm-154 1zm32 0zm3 0zm31 0zm34 0zm3 0zm105 0zm-104 1zm45 0zm-98 1zm11 0zm20 0zm41 0zm13 0zm11 0zm41 0zm-148 1zm27 0zm4 0zm18 0zm12 0zm-102 1zm40 0zm10 0zm32 0zm-49 1zm19 0zm58 0zm97 0zm-106 1zm22 0zm6 0zm29 0zm-191 1zm82 0zm16 0zm-76 1zm25 0zm2 0zm19 0zm16 0zm11 0zm13 0zm16 0zm144 0zm-116 1zm-150 1zm69 0zm71 0zm116 0zm-114 1zm8 0zm-64 1zm82 0zm-128 1zm75 0zm18 0zm14 0zm-143 1zm127 0zm2 0zm-130 1zm101 0zm38 0zm-102 1zm62 0zm17 0zm15 0zm18 0zm-118 1zm52 0zm42 0zm-81 1zm8 0zm89 0zm-38 1zm8 0zm67 0zm-140 1zm10 0zm5 1zm27 0zm-21 1zm26 0zm2 0zm8 0zm-19 1zm4 0zm2 0zm58 1zm119 0zm-229 1zm39 0zm1 0zm84 0zm-41 1zm73 0zm49 0zm-155 1zm47 0zm-192 1zm152 1zm23 0zm41 0zm6 0zm8 0zm9 0zm-108 1zm35 0zm-78 1zm77 0zm14 0zm53 0zm-79 1zm105 0zm11 0zm-155 1zm19 0zm65 0zm37 0zm-148 1zm-15 1zm76 0zm38 0zm34 0zm-152 1zm88 0zm26 0zm102 0zm-169 1zm1 0zm4 0zm9 0zm31 0zm7 0zm2 0zm7 0zm2 1zm13 0zm-180 1zm89 0zm52 0zm44 0zm33 0zm-61 1zm-51 1zm56 0zm12 0zm-61 1zm16 0zm14 0zm13 0zm-89 2zm125 0zm107 0zm-128 2zm-13 1zm60 0zm15 0zm-73 1zm-153 1zm115 0zm38 0zm13 1zm65 0zm-62 1zm-139 1zm55 1zm16 0zm47 0zm44 0zm-134 1zm55 0zm31 0zm62 0zm-125 1zm98 0zm-58 1zm40 1zm17 0zm-64 1zm93 0zm-131 1zm-2 1zm59 0zm-32 1zm19 0zm-23 1zm-123 2zm109 0zm13 0zm-17 1zm44 0zm-33 1zm28 2zm-5 2zm-104 1zm73 0zm127 0zm-112 1zm69 0zm-77 1zm-82 1zm28 0zm151 1zm-120 2zm20 0zm0 0zm34 0zm-15 1zm2 0zm-22 1zm-34 1zm5 0zm56 0zm-105 1zm24 0zm34 0zm5 0zm-13 2zm16 0zm19 0zm-10 1zm10 0zm80 0zm41 0zm-146 3zm15 0zm15 0zm143 0zm-182 1zm17 0zm127 0zm14 0zm-120 1zm40 0zm-6 1zm-37 1zm1 2zm5 0zm32 0zm-117 1zm57 0zm31 0zm5 0zm-66 1zm63 1zm86 1zm-206 1zm77 0zm-144 2zm149 0zm28 0zm49 1zm50 0zm-173 2zm49 0zm140 0zm-207 1zm74 1zm-41 2zm-56 2zm183 0zm16 0zm-157 1zm32 1zm13 2zm71 0zm40 0zm-131 2zm12 1zm-26 1zm49 1zm70 0zm-143 1zm41 1zm49 0zm-75 1zm20 0zm-72 1zm70 0zm16 0zm2 0zm121 0zm-224 4zm154 0zm-48 1zm3 2zm-54 2zm53 0zm-39 1zm108 0zm-81 1zm107 0zm-32 2zm-96 1zm1 1zm-6 1zm-29 1zm59 2zm-126 2zm94 0zm61 3zm-42 1zm125 5zm-111 2zm21 1zm-69 2zm62 1zm194 0zm-174 6zm57 0zm-124 2zm20 0zm61 1zm-82 1zm79 4zm103 4zm-267 1zm89 0zm64 2zm-77 5zm9 1zm-79 3zm67 1zm-29 2zm247 4zm-135 1zm-123 1zm172 0zm-127 5zm64 0zm-91 2zm-49 20zm67 1zm53 5zm-168 5zm178 1zm-155 7zm65 0zm191 6zm-45 4zm-67 10zm-51 3zm18 3z"/><path d="M942 8zm180 1zm-42 3zm77 0zm-88 4zm38 0zm29 0zm31 0zm27 0zm77 1zm-186 2zm47 0zm135 0zm-22 1zm-175 1zm13 1zm73 2zm70 0zm-32 1zm92 1zm-40 7zm-1 1zm-147 1zm135 3zm-237 2zm132 0zm128 3zm-54 1zm-171 1zm158 0zm46 0zm17 0zm-74 3zm64 1zm-132 2zm12 2zm39 1zm30 0zm27 0zm-107 1zm82 3zm-19 1zm21 1zm41 0zm-72 1zm-89 1zm110 0zm8 0zm3 0zm-216 1zm155 0zm-36 1zm114 0zm25 0zm-91 1zm34 0zm1 0zm1 0zm71 0zm14 0zm8 0zm-74 1zm26 0zm5 0zm-33 1zm25 0zm-70 1zm55 0zm26 0zm-73 1zm43 1zm55 0zm-173 1zm99 0zm11 0zm11 0zm31 0zm-269 1zm240 1zm15 1zm-12 1zm-52 1zm21 0zm-10 1zm27 0zm-9 1zm-35 1zm44 0zm6 0zm-44 1zm9 0zm-25 1zm23 0zm30 0zm19 0zm5 0zm-26 1zm-167 1zm109 0zm76 0zm-26 1zm36 0zm-58 1zm4 0zm59 1zm14 0zm-51 1zm-69 2zm20 0zm31 0zm1 1zm5 0zm58 0zm-65 1zm16 1zm10 0zm20 0zm-142 1zm55 0zm43 0zm12 0zm1 0zm5 0zm8 0zm-60 1zm32 0zm18 0zm23 0zm8 0zm-111 1zm76 0zm99 0zm-133 1zm42 0zm8 0zm-110 1zm53 0zm52 0zm-30 1zm25 0zm9 0zm7 0zm-46 1zm5 0zm15 0zm50 0zm-57 1zm35 0zm9 0zm4 0zm-106 1zm51 0zm1 0zm50 0zm-70 1zm25 0zm29 0zm6 0zm24 0zm11 0zm-59 1zm47 0zm-134 1zm32 0zm36 0zm1 0zm47 0zm-94 1zm14 0zm36 0zm11 0zm-40 1zm18 0zm31 0zm5 0zm12 0zm2 0zm-96 1zm55 0zm31 0zm4 0zm43 0zm-164 1zm56 0zm58 0zm42 0zm-165 1zm99 0zm72 0zm-224 1zm185 0zm6 0zm-101 1zm34 0zm24 0zm10 0zm-14 1zm26 0zm74 0zm-114 1zm15 0zm3 0zm6 0zm-90 1zm43 0zm82 0zm21 0zm17 0zm-380 1zm185 0zm90 0zm9 0zm1 0zm13 0zm27 0zm8 0zm-56 1zm15 0zm27 0zm4 0zm34 0zm-155 1zm38 0zm44 0zm7 0zm1 0zm-22 1zm32 0zm11 0zm36 0zm-82 1zm42 0zm18 0zm14 0zm-184 2zm33 0zm143 0zm3 0zm1 0zm-109 1zm29 0zm18 0zm32 0zm75 0zm-132 1zm36 0zm8 0zm9 0zm6 0zm19 0zm20 0zm-68 1zm57 0zm21 0zm-179 1zm43 0zm32 0zm24 0zm24 0zm14 0zm6 0zm18 0zm16 0zm-59 1zm25 0zm-61 1zm42 0zm14 0zm5 0zm36 0zm1 0zm-78 1zm7 0zm21 0zm11 0zm0 0zm-164 1zm88 0zm53 0zm10 0zm6 0zm1 0zm3 0zm0 0zm3 0zm1 0zm13 0zm41 0zm-124 1zm2 0zm44 0zm1 0zm4 0zm19 0zm8 0zm9 0zm-132 1zm62 0zm13 0zm1 0zm39 0zm10 0zm1 0zm-166 1zm114 0zm2 0zm31 0zm2 0zm9 0zm0 0zm19 0zm-176 1zm119 0zm8 0zm28 0zm5 0zm1 0zm0 0zm2 0zm1 0zm4 0zm33 0zm-141 1zm11 0zm70 0zm1 0zm12 0zm-30 1zm24 0zm-45 1zm18 0zm14 0zm1 0zm12 0zm2 0zm1 0zm-143 1zm9 0zm79 0zm7 0zm0 0zm4 0zm25 0zm3 0zm9 0zm2 0zm4 0zm11 0zm11 0zm-99 1zm49 0zm9 0zm5 0zm10 0zm73 0zm-241 1zm61 0zm38 0zm5 0zm23 0zm17 0zm14 0zm1 0zm3 0zm28 0zm1 0zm-52 1zm11 0zm12 0zm0 0zm3 0zm16 0zm-134 1zm108 0zm13 0zm5 0zm6 0zm3 0zm-112 1zm42 0zm5 0zm-18 1zm43 0zm2 0zm20 0zm3 0zm6 0zm44 0zm-187 1zm19 0zm40 0zm18 0zm2 0zm7 0zm2 0zm2 0zm25 0zm2 0zm4 0zm1 0zm1 0zm10 0zm6 0zm1 0zm18 0zm-110 1zm44 0zm5 0zm8 0zm20 0zm9 0zm14 0zm-84 1zm5 0zm12 0zm8 0zm23 0zm10 0zm18 0zm3 0zm5 0zm22 0zm-113 1zm8 0zm8 0zm10 0zm28 0zm13 0zm6 0zm-54 1zm10 0zm4 0zm5 0zm11 0zm23 0zm5 0zm5 0zm-76 1zm26 0zm6 0zm7 0zm23 0zm21 0zm4 0zm9 0zm1 0zm-277 1zm182 0zm30 0zm2 0zm5 0zm19 0zm2 0zm-4 1zm4 0zm0 0zm5 0zm28 0zm-163 1zm79 0zm30 0zm7 0zm27 0zm2 0zm7 0zm-159 1zm7 0zm73 0zm7 0zm15 0zm6 0zm1 0zm11 0zm15 0zm12 0zm29 0zm-136 1zm45 0zm9 0zm20 0zm4 0zm41 0zm15 0zm0 0zm-29 1zm2 0zm16 0zm63 0zm-206 1zm24 0zm28 0zm7 0zm23 0zm13 0zm10 0zm8 0zm10 0zm45 0zm-108 1zm27 0zm8 0zm6 0zm0 0zm3 0zm9 0zm4 0zm4 0zm69 0zm-140 1zm23 0zm4 0zm4 0zm3 0zm0 0zm8 0zm1 0zm19 0zm4 0zm-88 1zm26 0zm21 0zm25 0zm22 0zm7 0zm3 0zm28 0zm-101 1zm13 0zm5 0zm8 0zm4 0zm13 0zm-56 1zm55 0zm10 0zm50 0zm7 0zm2 0zm-124 1zm18 0zm28 0zm26 0zm38 0zm-247 1zm138 0zm12 0zm8 0zm2 0zm1 0zm8 0zm7 0zm7 0zm20 0zm5 0zm-143 1zm133 0zm1 0zm41 0zm2 0zm-91 1zm27 0zm3 0zm7 0zm25 0zm21 0zm31 0zm-149 1zm74 0zm39 0zm3 0zm13 0zm4 0zm5 0zm-152 1zm37 0zm9 0zm0 0zm12 0zm9 0zm8 0zm0 0zm36 0zm7 0zm15 0zm1 0zm18 0zm-123 1zm43 0zm3 0zm4 0zm3 0zm17 0zm46 0zm26 0zm-145 1zm16 0zm14 0zm33 0zm15 0zm-134 1zm17 0zm56 0zm7 0zm18 0zm4 0zm16 0zm7 0zm14 0zm14 0zm8 0zm5 0zm1 0zm-161 1zm57 0zm5 0zm28 0zm10 0zm4 0zm6 0zm0 0zm14 0zm-108 1zm8 0zm30 0zm12 0zm27 0zm0 0zm6 0zm55 0zm-145 1zm86 0zm4 0zm4 0zm4 0zm29 0zm6 0zm19 0zm12 0zm-224 1zm134 0zm16 0zm27 0zm13 0zm-236 1zm84 0zm25 0zm84 0zm3 0zm2 0zm2 0zm13 0zm5 0zm54 0zm-193 1zm45 0zm40 0zm7 0zm3 0zm2 0zm14 0zm15 0zm23 0zm3 0zm1 0zm-61 1zm25 0zm18 0zm1 0zm3 0zm9 0zm3 0zm32 0zm29 0zm-144 1zm23 0zm8 0zm8 0zm12 0zm5 0zm26 0zm12 0zm-104 1zm39 0zm22 0zm53 0zm-112 1zm11 0zm53 0zm10 0zm5 0zm4 0zm4 0zm30 0zm21 0zm-198 1zm126 0zm47 0zm-90 1zm7 0zm20 0zm1 0zm4 0zm4 0zm26 0zm2 0zm7 0zm-85 1zm7 0zm39 0zm5 0zm23 0zm12 0zm-165 1zm191 0zm13 0zm-148 1zm22 0zm22 0zm46 0zm5 0zm5 0zm5 0zm-52 1zm10 0zm12 0zm7 0zm30 0zm1 0zm4 0zm-90 1zm31 0zm51 0zm5 0zm7 0zm1 0zm37 0zm-115 1zm8 0zm11 0zm3 0zm3 0zm8 0zm1 0zm7 0zm2 0zm3 0zm8 0zm4 0zm5 0zm-87 1zm3 0zm5 0zm12 0zm10 0zm15 0zm6 0zm4 0zm15 0zm7 0zm1 0zm4 0zm15 0zm7 0zm-127 1zm43 0zm30 0zm3 0zm17 0zm23 0zm11 0zm-188 1zm6 0zm12 0zm64 0zm57 0zm23 0zm6 0zm5 0zm15 0zm-107 1zm30 0zm1 0zm9 0zm6 0zm52 0zm28 0zm-205 1zm28 0zm54 0zm43 0zm1 0zm24 0zm5 0zm6 0zm-194 1zm106 0zm67 0zm15 0zm1 0zm40 0zm-155 1zm45 0zm7 0zm8 0zm25 0zm6 0zm9 0zm46 0zm-146 1zm85 0zm43 0zm5 0zm-199 1zm43 0zm28 0zm34 0zm6 0zm8 0zm19 0zm1 0zm1 0zm6 0zm10 0zm6 0zm0 0zm3 0zm1 0zm9 0zm11 0zm23 0zm-145 1zm6 0zm31 0zm13 0zm6 0zm18 0zm4 0zm2 0zm1 0zm18 0zm6 0zm18 0zm1 0zm2 0zm2 0zm27 0zm-155 1zm22 0zm46 0zm6 0zm8 0zm18 0zm2 0zm7 0zm20 0zm30 0zm-159 1zm9 0zm50 0zm9 0zm17 0zm9 0zm34 0zm4 0zm10 0zm0 0zm-161 1zm12 0zm48 0zm12 0zm1 0zm11 0zm25 0zm6 0zm0 0zm1 0zm6 0zm7 0zm0 0zm11 0zm-193 1zm140 0zm3 0zm12 0zm5 0zm14 0zm18 0zm10 0zm-88 1zm18 0zm15 0zm18 0zm2 0zm2 0zm0 0zm20 0zm-61 1zm0 0zm11 0zm19 0zm4 0zm6 0zm4 0zm4 0zm11 0zm3 0zm3 0zm-80 1zm26 0zm31 0zm3 0zm6 0zm24 0zm-199 1zm67 0zm37 0zm25 0zm3 0zm6 0zm36 0zm17 0zm12 0zm10 0zm-129 1zm38 0zm16 0zm9 0zm15 0zm7 0zm1 0zm3 0zm6 0zm4 0zm0 0zm-95 1zm39 0zm6 0zm1 0zm19 0zm32 0zm3 0zm10 0zm19 0zm-134 1zm6 0zm14 0zm5 0zm14 0zm0 0zm1 0zm21 0zm28 0zm1 0zm22 0zm-88 1zm6 0zm8 0zm14 0zm19 0zm42 0zm-73 1zm15 0zm7 0zm12 0zm11 0zm2 0zm35 0zm-198 1zm61 0zm40 0zm9 0zm1 0zm14 0zm11 0zm18 0zm1 0zm28 0zm-168 1zm52 0zm32 0zm3 0zm25 0zm7 0zm21 0zm11 0zm27 0zm3 0zm-134 1zm17 0zm21 0zm21 0zm60 0zm1 0zm5 0zm-164 1zm71 0zm17 0zm22 0zm9 0zm20 0zm1 0zm36 0zm9 0zm-141 1zm1 0zm13 0zm58 0zm4 0zm9 0zm2 0zm2 0zm26 0zm3 0zm8 0zm12 0zm-148 1zm7 0zm28 0zm27 0zm12 0zm2 0zm1 0zm24 0zm88 0zm-150 1zm8 0zm11 0zm15 0zm12 0zm0 0zm-59 1zm11 0zm19 0zm3 0zm5 0zm10 0zm4 0zm1 0zm3 0zm2 0zm14 0zm12 0zm16 0zm-69 1zm11 0zm3 0zm4 0zm2 0zm3 0zm11 0zm35 0zm-131 1zm11 0zm4 0zm2 0zm11 0zm42 0zm10 0zm3 0zm10 0zm17 0zm-130 1zm65 0zm36 0zm10 0zm0 0zm-51 1zm0 0zm18 0zm61 0zm-99 1zm30 0zm19 0zm42 0zm5 0zm1 0zm32 0zm-117 1zm20 0zm5 0zm2 0zm32 0zm1 0zm17 0zm8 0zm-99 1zm10 0zm13 0zm16 0zm8 0zm3 0zm11 0zm6 0zm2 0zm10 0zm25 0zm-176 1zm26 0zm16 0zm27 0zm5 0zm41 0zm31 0zm5 0zm5 0zm-159 1zm64 0zm15 0zm5 0zm31 0zm4 0zm3 0zm21 0zm21 0zm4 0zm-211 1zm87 0zm25 0zm12 0zm2 0zm31 0zm4 0zm11 0zm7 0zm6 0zm46 0zm-231 1zm154 0zm13 0zm1 0zm20 0zm15 0zm1 0zm21 0zm-147 1zm25 0zm66 0zm5 0zm41 0zm17 0zm-124 1zm12 0zm3 0zm16 0zm25 0zm11 0zm12 0zm7 0zm3 0zm38 0zm-98 1zm21 0zm0 0zm17 0zm3 0zm1 0zm5 0zm22 0zm-94 1zm4 0zm15 0zm6 0zm5 0zm1 0zm5 0zm119 0zm-147 1zm3 0zm42 0zm7 0zm5 0zm6 0zm-129 1zm29 0zm26 0zm15 0zm16 0zm11 0zm12 0zm2 0zm30 0zm4 0zm1 0zm60 0zm13 0zm-242 1zm23 0zm66 0zm4 0zm11 0zm16 0zm49 0zm33 0zm-147 1zm78 0zm6 0zm4 0zm3 0zm12 0zm7 0zm24 0zm-146 1zm50 0zm34 0zm22 0zm42 0zm38 0zm-253 1zm15 0zm108 0zm3 0zm37 0zm0 0zm4 0zm10 0zm37 0zm-95 1zm12 0zm23 0zm3 0zm44 0zm3 0zm2 0zm-167 1zm57 0zm13 0zm18 0zm20 0zm14 0zm3 0zm17 0zm5 0zm6 0zm15 0zm69 0zm-268 1zm110 0zm5 0zm16 0zm43 0zm-102 1zm21 0zm15 0zm36 0zm7 0zm43 0zm47 0zm-130 1zm26 0zm15 0zm7 0zm-132 1zm5 0zm28 0zm7 0zm27 0zm17 0zm9 0zm19 0zm3 0zm27 0zm1 0zm7 0zm-131 1zm51 0zm19 0zm14 0zm17 0zm21 0zm44 0zm-146 1zm40 0zm26 0zm4 0zm27 0zm20 0zm8 0zm4 0zm4 0zm16 0zm1 0zm-143 1zm29 0zm23 0zm17 0zm2 0zm9 0zm1 0zm1 0zm37 0zm14 0zm-180 1zm49 0zm59 0zm8 0zm3 0zm6 0zm16 0zm132 0zm-255 1zm59 0zm27 0zm8 0zm9 0zm1 0zm52 0zm-209 1zm101 0zm34 0zm13 0zm8 0zm9 0zm16 0zm69 0zm-114 1zm18 0zm60 0zm3 0zm-207 1zm123 0zm10 0zm2 0zm1 0zm5 0zm3 0zm6 0zm2 0zm9 0zm9 0zm21 0zm-154 1zm63 0zm8 0zm8 0zm7 0zm13 0zm44 0zm10 0zm10 0zm4 0zm30 0zm41 0zm-190 1zm33 0zm12 0zm1 0zm14 0zm2 0zm21 0zm3 0zm20 0zm-116 1zm7 0zm69 0zm1 0zm7 0zm16 0zm57 0zm-112 1zm5 0zm3 0zm10 0zm6 0zm43 0zm-161 1zm46 0zm15 0zm62 0zm18 0zm64 0zm-199 1zm58 0zm21 0zm2 0zm14 0zm7 0zm36 0zm5 0zm4 0zm16 0zm-320 1zm201 0zm22 0zm107 0zm-127 1zm7 0zm13 0zm5 0zm12 0zm8 0zm2 0zm21 0zm6 0zm2 0zm0 0zm12 0zm-202 1zm40 0zm52 0zm50 0zm10 0zm36 0zm-69 1zm29 0zm18 0zm3 0zm-40 1zm25 0zm5 0zm4 0zm-69 1zm34 0zm30 0zm9 0zm16 0zm10 0zm13 0zm-107 1zm5 0zm16 0zm6 0zm20 0zm2 0zm18 0zm37 0zm-116 1zm20 0zm26 0zm38 0zm20 0zm3 0zm5 0zm-136 1zm21 0zm43 0zm22 0zm12 0zm5 0zm9 0zm20 0zm5 0zm6 0zm-212 1zm14 0zm44 0zm87 0zm31 0zm4 0zm-56 1zm16 0zm17 0zm17 0zm7 0zm2 0zm1 0zm4 0zm4 0zm10 0zm93 0zm-298 1zm79 0zm19 0zm51 0zm80 0zm16 0zm-149 1zm33 0zm8 0zm9 0zm6 0zm7 0zm46 0zm10 0zm102 0zm-213 1zm11 0zm6 0zm56 0zm6 0zm-91 1zm32 0zm31 0zm31 0zm6 0zm0 0zm18 0zm-75 1zm8 0zm56 0zm-100 1zm28 0zm17 0zm19 0zm44 0zm25 0zm23 0zm5 0zm-130 1zm11 0zm10 0zm22 0zm13 0zm-74 1zm74 0zm31 0zm-201 2zm34 0zm74 0zm37 0zm17 0zm32 0zm-122 1zm57 0zm27 0zm39 0zm54 0zm17 0zm-197 1zm45 0zm17 0zm7 0zm-22 1zm27 0zm24 0zm61 0zm-134 1zm19 0zm1 0zm40 0zm32 0zm-74 1zm16 0zm1 0zm4 0zm11 0zm14 0zm45 0zm13 0zm-96 1zm13 0zm49 0zm-67 1zm2 0zm23 0zm36 0zm-173 1zm62 0zm3 0zm14 0zm33 0zm14 0zm8 0zm6 0zm-110 1zm50 0zm43 0zm9 0zm8 0zm2 0zm13 0zm15 0zm12 0zm39 0zm5 0zm-135 1zm1 0zm26 0zm10 0zm25 0zm70 0zm-88 1zm8 0zm0 0zm10 0zm34 0zm30 0zm55 0zm-213 1zm49 0zm34 0zm32 0zm5 0zm123 0zm-226 1zm14 0zm18 0zm4 0zm3 0zm8 0zm6 0zm2 0zm2 0zm12 0zm27 0zm0 0zm30 0zm8 0zm23 0zm-105 1zm4 0zm20 0zm41 0zm32 0zm-178 1zm16 0zm47 0zm34 0zm-100 1zm36 0zm3 0zm23 0zm0 0zm2 0zm0 0zm19 0zm9 0zm2 0zm17 0zm8 0zm-73 1zm8 0zm6 0zm4 0zm19 0zm27 0zm-40 1zm27 0zm42 0zm-231 1zm90 0zm19 0zm16 0zm27 0zm18 0zm-57 1zm8 0zm7 0zm6 0zm29 0zm4 0zm-99 1zm44 0zm6 0zm28 0zm62 0zm14 0zm65 0zm-183 1zm6 0zm49 0zm2 0zm6 0zm8 0zm10 0zm13 0zm-22 1zm-34 1zm78 0zm1 0zm-152 1zm25 0zm16 0zm15 0zm68 0zm17 0zm6 0zm-18 1zm-167 1zm61 0zm11 0zm11 0zm36 0zm6 0zm67 0zm-49 1zm18 0zm25 0zm-62 1zm4 0zm15 0zm9 0zm10 0zm-46 1zm12 0zm-25 1zm2 0zm1 0zm22 0zm96 0zm-180 1zm4 0zm60 0zm21 0zm30 0zm-90 1zm15 0zm23 0zm8 0zm5 0zm5 0zm41 0zm-92 1zm30 0zm18 0zm6 0zm14 0zm26 0zm-207 1zm149 0zm10 0zm25 0zm2 0zm-44 1zm25 0zm1 0zm19 0zm-110 1zm25 0zm37 0zm10 0zm43 0zm18 0zm-94 1zm54 0zm39 0zm16 0zm-169 1zm64 1zm139 0zm25 1zm-153 1zm-96 1zm129 0zm29 0zm33 0zm-73 1zm0 0zm159 0zm-237 1zm61 0zm24 0zm15 0zm15 0zm1 0zm15 0zm-106 1zm58 0zm5 0zm11 0zm45 0zm50 0zm-44 1zm-104 1zm50 0zm12 0zm111 0zm-141 1zm17 0zm13 0zm23 0zm4 0zm-137 1zm89 0zm30 0zm71 0zm-99 1zm17 0zm23 0zm2 0zm49 0zm-111 1zm31 0zm-112 1zm111 1zm16 0zm-124 1zm23 0zm11 0zm79 0zm2 0zm3 0zm31 0zm-163 1zm69 0zm13 0zm7 0zm21 0zm-111 1zm183 0zm-112 1zm16 0zm41 0zm-105 1zm23 0zm19 0zm2 0zm11 0zm14 0zm15 0zm22 0zm2 0zm-105 1zm78 0zm6 0zm57 0zm-101 1zm45 0zm96 0zm-174 1zm25 0zm27 0zm-12 3zm8 1zm57 0zm-37 1zm14 0zm-57 1zm32 0zm-15 1zm32 0zm89 0zm-151 1zm38 0zm13 0zm32 0zm-181 1zm89 0zm14 0zm5 0zm10 0zm6 0zm14 0zm50 0zm15 0zm-117 1zm54 0zm-29 1zm25 0zm4 0zm62 1zm-132 1zm50 0zm18 0zm77 0zm-162 1zm44 0zm55 0zm76 0zm13 0zm-108 1zm-139 1zm118 0zm22 0zm17 0zm3 0zm-203 1zm154 0zm18 0zm40 0zm104 1zm-171 1zm241 0zm-250 1zm7 0zm34 0zm12 0zm28 0zm15 0zm9 0zm6 0zm-182 1zm78 1zm22 0zm31 0zm18 0zm9 0zm-112 1zm65 0zm16 0zm13 0zm1 0zm-32 1zm-53 1zm47 0zm-66 1zm68 0zm8 3zm51 0zm-28 1zm-22 1zm-55 1zm33 0zm34 0zm-80 1zm81 0zm-105 1zm58 0zm-11 1zm7 0zm8 0zm159 0zm-91 1zm91 0zm-235 1zm31 0zm85 1zm-95 1zm30 0zm21 0zm-28 2zm-43 1zm29 0zm20 1zm43 0zm11 1zm49 2zm-38 2zm-82 1zm107 0zm-107 1zm33 0zm0 0zm4 1zm5 0zm89 0zm-61 2zm11 0zm-83 1zm198 0zm-90 1zm20 0zm30 0zm-117 1zm41 0zm-103 1zm49 0zm10 0zm-43 2zm23 0zm25 0zm-9 1zm11 2zm28 0zm-36 1zm-68 1zm71 0zm13 0zm126 0zm-241 3zm195 2zm-117 2zm-48 1zm47 0zm19 1zm-99 1zm83 0zm15 0zm-49 1zm32 0zm34 0zm237 0zm-229 1zm19 0zm-75 3zm-9 3zm100 0zm-104 2zm81 2zm-69 3zm22 2zm86 0zm127 0zm-112 1zm-159 1zm21 1zm27 2zm22 2zm-200 1zm181 0zm38 0zm-121 2zm12 0zm78 1zm-72 1zm204 0zm36 1zm-232 2zm104 0zm-3 2zm174 1zm-246 2zm21 0zm-50 1zm118 0zm-106 2zm-8 1zm19 0zm82 1zm25 0zm-78 1zm-25 1zm1 0zm71 0zm-36 3zm16 1zm-57 1zm-19 4zm39 0zm99 3zm-165 1zm244 1zm-124 1zm-123 3zm55 1zm119 0zm-28 1zm147 13zm-300 1zm13 0zm-17 3zm57 4zm140 2zm-58 5zm-47 2zm-19 10zm-91 2zm173 4zm96 2zm-163 1zm2 5zm-59 3zm79 3zm-82 7zm125 29zm-219 6zm161 11z"/><path d="M1144 6zm49 2zm-2 1zm62 0zm-49 1zm47 2zm-46 5zm-36 4zm47 3zm-1 2zm51 1zm-157 1zm10 1zm121 1zm55 3zm-103 2zm62 1zm-45 1zm-43 1zm-31 2zm112 0zm-94 3zm34 0zm-159 1zm162 1zm40 0zm-93 2zm36 0zm-102 1zm142 0zm35 0zm-4 1zm-70 1zm-133 1zm179 0zm35 0zm-115 1zm32 1zm-1 1zm-90 1zm52 0zm108 2zm-106 4zm106 1zm-80 1zm24 0zm19 0zm-183 1zm52 0zm113 0zm34 0zm-62 1zm69 0zm-91 1zm16 0zm35 0zm31 0zm-49 1zm18 0zm31 0zm1 0zm26 0zm-174 1zm123 0zm51 0zm-82 1zm21 0zm15 0zm32 0zm-169 1zm38 1zm91 0zm25 1zm-70 1zm66 0zm5 0zm5 0zm13 1zm-142 1zm60 0zm-150 1zm171 0zm71 0zm-102 1zm75 0zm-130 2zm27 0zm69 0zm28 0zm15 0zm2 0zm-26 3zm1 0zm19 0zm-138 1zm49 0zm-57 1zm127 1zm-112 1zm104 0zm6 0zm52 0zm-150 1zm24 0zm63 0zm62 0zm-314 1zm279 0zm-57 2zm15 0zm1 0zm11 0zm38 1zm7 0zm-26 1zm8 0zm-115 1zm89 0zm13 0zm-178 1zm53 0zm14 0zm122 0zm45 0zm-162 1zm89 0zm25 0zm-35 1zm18 0zm3 0zm5 0zm-44 1zm55 0zm-21 1zm20 0zm-87 1zm32 0zm22 0zm2 0zm4 0zm14 0zm13 0zm1 0zm-96 1zm52 0zm20 0zm7 0zm33 0zm-113 1zm61 0zm24 0zm7 0zm-56 1zm10 0zm5 0zm0 0zm-56 1zm4 0zm15 0zm13 0zm54 0zm13 0zm-232 1zm47 0zm189 0zm4 0zm29 0zm1 0zm-86 1zm37 0zm3 0zm5 0zm12 0zm-56 1zm34 0zm4 0zm29 0zm-114 1zm96 0zm-45 1zm30 0zm5 0zm-141 1zm136 0zm12 0zm6 0zm-56 1zm22 0zm9 0zm5 0zm-44 1zm38 0zm5 0zm-48 1zm50 0zm35 0zm17 0zm-138 1zm2 0zm7 0zm69 0zm2 0zm-11 1zm33 0zm7 0zm9 0zm-82 1zm30 0zm3 0zm6 0zm11 0zm14 0zm-154 1zm72 0zm4 0zm10 0zm44 0zm1 0zm2 0zm44 0zm-62 1zm30 0zm-48 1zm6 0zm6 0zm1 0zm-104 1zm89 0zm17 0zm4 0zm18 0zm4 0zm1 0zm4 0zm6 0zm-52 1zm18 0zm3 0zm2 0zm7 0zm16 0zm9 0zm-3 1zm11 0zm9 0zm-116 1zm42 0zm11 0zm6 0zm17 0zm29 0zm-149 1zm59 0zm14 0zm35 0zm16 0zm3 0zm2 0zm5 0zm8 0zm18 0zm-239 1zm136 0zm19 0zm6 0zm5 0zm14 0zm10 0zm3 0zm8 0zm2 0zm7 0zm6 0zm3 0zm23 0zm6 0zm-115 1zm32 0zm23 0zm9 0zm6 0zm15 0zm15 0zm-102 1zm59 0zm28 0zm-59 1zm17 0zm5 0zm5 0zm2 0zm0 0zm3 0zm8 0zm9 0zm11 0zm-88 1zm42 0zm6 0zm21 0zm6 0zm9 0zm2 0zm-29 1zm3 0zm36 0zm-108 1zm27 0zm33 0zm1 0zm12 0zm5 0zm2 0zm10 0zm3 0zm4 0zm-80 1zm24 0zm41 0zm3 0zm5 0zm2 0zm1 0zm9 0zm-57 1zm17 0zm7 0zm7 0zm13 0zm4 0zm-132 1zm62 0zm9 0zm8 0zm2 0zm23 0zm12 0zm4 0zm8 0zm-240 1zm154 0zm28 0zm27 0zm1 0zm7 0zm2 0zm8 0zm0 0zm33 0zm13 0zm-100 1zm89 0zm-45 1zm7 0zm1 0zm9 0zm-145 1zm90 0zm4 0zm12 0zm4 0zm7 0zm22 0zm0 0zm13 0zm1 0zm21 0zm-109 1zm43 0zm4 0zm9 0zm4 0zm6 0zm1 0zm6 0zm2 0zm1 0zm0 0zm4 0zm8 0zm19 0zm-207 1zm106 0zm38 0zm16 0zm7 0zm21 0zm30 0zm-100 1zm10 0zm52 0zm5 0zm2 0zm22 0zm-432 1zm239 0zm111 0zm17 0zm5 0zm2 0zm13 0zm2 0zm8 0zm4 0zm7 0zm11 0zm-46 1zm9 0zm1 0zm3 0zm10 0zm5 0zm14 0zm-157 1zm71 0zm72 0zm3 0zm5 0zm-74 1zm11 0zm6 0zm6 0zm6 0zm0 0zm8 0zm20 0zm1 0zm-83 1zm1 0zm33 0zm16 0zm12 0zm2 0zm1 0zm3 0zm16 0zm36 0zm-121 1zm7 0zm47 0zm13 0zm3 0zm24 0zm2 0zm16 0zm12 0zm9 0zm10 0zm-116 1zm7 0zm13 0zm45 0zm11 0zm-151 1zm7 0zm36 0zm0 0zm32 0zm12 0zm11 0zm27 0zm5 0zm9 0zm-64 1zm69 0zm-88 1zm33 0zm14 0zm10 0zm15 0zm7 0zm7 0zm4 0zm4 0zm20 0zm6 0zm-72 1zm39 0zm2 0zm0 0zm3 0zm-63 1zm7 0zm25 0zm22 0zm10 0zm6 0zm-54 1zm49 0zm4 0zm16 0zm-189 1zm96 0zm21 0zm2 0zm24 0zm7 0zm4 0zm17 0zm5 0zm-129 1zm84 0zm1 0zm1 0zm2 0zm2 0zm25 0zm7 0zm-113 1zm41 0zm3 0zm8 0zm2 0zm3 0zm15 0zm6 0zm16 0zm4 0zm2 0zm9 0zm11 0zm-89 1zm80 0zm-96 1zm4 0zm7 0zm27 0zm14 0zm7 0zm6 0zm5 0zm0 0zm0 0zm10 0zm24 0zm-227 1zm92 0zm82 0zm7 0zm2 0zm2 0zm6 0zm22 0zm2 0zm-73 1zm9 0zm1 0zm5 0zm24 0zm0 0zm10 0zm20 0zm0 0zm6 0zm5 0zm-55 1zm14 0zm2 0zm7 0zm2 0zm13 0zm6 0zm21 0zm3 0zm-104 1zm6 0zm17 0zm23 0zm9 0zm13 0zm33 0zm5 0zm-75 1zm2 0zm3 0zm15 0zm31 0zm4 0zm14 0zm-62 1zm4 0zm12 0zm6 0zm1 0zm1 0zm4 0zm16 0zm16 0zm28 0zm-117 1zm54 0zm0 0zm18 0zm3 0zm15 0zm-134 1zm25 0zm51 0zm15 0zm25 0zm14 0zm7 0zm1 0zm-113 1zm14 0zm20 0zm9 0zm2 0zm12 0zm2 0zm10 0zm21 0zm7 0zm-183 1zm22 0zm50 0zm31 0zm7 0zm1 0zm6 0zm13 0zm5 0zm1 0zm4 0zm9 0zm1 0zm5 0zm25 0zm-112 1zm72 0zm3 0zm25 0zm7 0zm8 0zm2 0zm-177 1zm107 0zm0 0zm9 0zm34 0zm2 0zm22 0zm1 0zm-114 1zm42 0zm8 0zm1 0zm39 0zm6 0zm20 0zm24 0zm-208 1zm18 0zm35 0zm43 0zm28 0zm31 0zm4 0zm13 0zm4 0zm-168 1zm28 0zm62 0zm15 0zm50 0zm1 0zm4 0zm2 0zm55 0zm-285 1zm107 0zm58 0zm44 0zm1 0zm1 0zm6 0zm18 0zm6 0zm3 0zm-67 1zm27 0zm1 0zm2 0zm3 0zm11 0zm8 0zm0 0zm-119 1zm10 0zm11 0zm17 0zm39 0zm4 0zm13 0zm11 0zm4 0zm0 0zm7 0zm-122 1zm37 0zm44 0zm18 0zm3 0zm1 0zm4 0zm5 0zm3 0zm7 0zm7 0zm1 0zm4 0zm0 0zm3 0zm35 0zm-97 1zm22 0zm-112 1zm50 0zm20 0zm12 0zm14 0zm6 0zm2 0zm16 0zm9 0zm28 0zm-145 1zm82 0zm7 0zm3 0zm2 0zm5 0zm3 0zm3 0zm3 0zm4 0zm15 0zm-178 1zm21 0zm59 0zm16 0zm20 0zm11 0zm1 0zm3 0zm18 0zm2 0zm5 0zm2 0zm16 0zm-237 1zm110 0zm28 0zm70 0zm30 0zm3 0zm44 0zm-175 1zm34 0zm39 0zm11 0zm1 0zm3 0zm16 0zm26 0zm6 0zm1 0zm-120 1zm18 0zm45 0zm18 0zm17 0zm7 0zm6 0zm16 0zm3 0zm-86 1zm4 0zm5 0zm14 0zm16 0zm16 0zm9 0zm-118 1zm40 0zm17 0zm1 0zm1 0zm6 0zm41 0zm4 0zm-278 1zm182 0zm4 0zm6 0zm18 0zm7 0zm3 0zm3 0zm11 0zm12 0zm2 0zm33 0zm17 0zm1 0zm4 0zm8 0zm-191 1zm3 0zm67 0zm15 0zm28 0zm44 0zm4 0zm1 0zm-156 1zm127 0zm15 0zm1 0zm1 0zm1 0zm10 0zm2 0zm20 0zm7 0zm16 0zm-160 1zm14 0zm16 0zm33 0zm11 0zm2 0zm22 0zm2 0zm4 0zm37 0zm2 0zm-152 1zm14 0zm35 0zm5 0zm37 0zm18 0zm6 0zm2 0zm6 0zm7 0zm1 0zm-110 1zm56 0zm21 0zm0 0zm3 0zm5 0zm3 0zm7 0zm16 0zm1 0zm31 0zm-157 1zm1 0zm22 0zm18 0zm13 0zm21 0zm15 0zm9 0zm1 0zm2 0zm2 0zm33 0zm-112 1zm19 0zm2 0zm17 0zm27 0zm31 0zm28 0zm-217 1zm117 0zm16 0zm7 0zm21 0zm8 0zm1 0zm0 0zm4 0zm11 0zm2 0zm19 0zm-89 1zm4 0zm36 0zm1 0zm2 0zm1 0zm8 0zm2 0zm10 0zm2 0zm3 0zm-249 1zm97 0zm44 0zm16 0zm7 0zm31 0zm22 0zm5 0zm1 0zm5 0zm3 0zm7 0zm2 0zm16 0zm1 0zm0 0zm-102 1zm11 0zm27 0zm12 0zm9 0zm13 0zm9 0zm2 0zm10 0zm1 0zm45 0zm-114 1zm7 0zm9 0zm18 0zm1 0zm11 0zm23 0zm-224 1zm74 0zm67 0zm4 0zm20 0zm10 0zm14 0zm5 0zm9 0zm7 0zm8 0zm8 0zm-112 1zm14 0zm17 0zm10 0zm8 0zm2 0zm4 0zm10 0zm0 0zm3 0zm5 0zm4 0zm18 0zm12 0zm-107 1zm29 0zm23 0zm17 0zm20 0zm32 0zm-144 1zm36 0zm3 0zm3 0zm16 0zm2 0zm4 0zm4 0zm80 0zm49 0zm-196 1zm13 0zm32 0zm49 0zm10 0zm33 0zm11 0zm-118 1zm18 0zm3 0zm5 0zm9 0zm12 0zm17 0zm27 0zm3 0zm8 0zm-119 1zm44 0zm6 0zm8 0zm13 0zm17 0zm4 0zm12 0zm0 0zm3 0zm-89 1zm27 0zm20 0zm28 0zm37 0zm-198 1zm62 0zm15 0zm28 0zm5 0zm10 0zm28 0zm16 0zm20 0zm-127 1zm37 0zm2 0zm9 0zm6 0zm2 0zm10 0zm40 0zm8 0zm-129 1zm30 0zm5 0zm4 0zm33 0zm11 0zm12 0zm1 0zm1 0zm3 0zm24 0zm17 0zm5 0zm19 0zm-136 1zm49 0zm5 0zm17 0zm4 0zm6 0zm1 0zm1 0zm6 0zm4 0zm11 0zm15 0zm-120 1zm8 0zm7 0zm1 0zm0 0zm1 0zm15 0zm6 0zm8 0zm9 0zm6 0zm1 0zm26 0zm8 0zm6 0zm-120 1zm48 0zm15 0zm3 0zm18 0zm2 0zm2 0zm1 0zm20 0zm7 0zm53 0zm-136 1zm29 0zm3 0zm22 0zm3 0zm26 0zm-218 1zm55 0zm91 0zm2 0zm27 0zm6 0zm8 0zm23 0zm0 0zm8 0zm3 0zm19 0zm-162 1zm23 0zm28 0zm28 0zm1 0zm7 0zm10 0zm34 0zm17 0zm4 0zm-144 1zm8 0zm30 0zm0 0zm42 0zm15 0zm6 0zm24 0zm5 0zm4 0zm11 0zm3 0zm13 0zm-66 1zm9 0zm0 0zm1 0zm31 0zm38 0zm-172 1zm24 0zm10 0zm6 0zm19 0zm8 0zm23 0zm1 0zm37 0zm-160 1zm5 0zm48 0zm55 0zm16 0zm4 0zm6 0zm3 0zm-103 1zm82 0zm22 0zm-141 1zm53 0zm9 0zm50 0zm35 0zm-83 1zm7 0zm11 0zm24 0zm48 0zm4 0zm9 0zm-104 1zm2 0zm9 0zm27 0zm1 0zm1 0zm3 0zm5 0zm10 0zm6 0zm0 0zm11 0zm8 0zm43 0zm-304 1zm180 0zm28 0zm17 0zm47 0zm5 0zm8 0zm6 0zm-102 1zm28 0zm4 0zm6 0zm44 0zm-98 1zm50 0zm1 0zm3 0zm7 0zm49 0zm-125 1zm29 0zm2 0zm1 0zm47 0zm87 0zm-177 1zm54 0zm8 0zm30 0zm14 0zm1 0zm10 0zm2 0zm2 0zm23 0zm21 0zm-116 1zm20 0zm7 0zm3 0zm0 0zm14 0zm5 0zm5 0zm9 0zm23 0zm-131 1zm5 0zm29 0zm11 0zm8 0zm26 0zm3 0zm10 0zm10 0zm-170 1zm6 0zm83 0zm17 0zm17 0zm25 0zm5 0zm35 0zm15 0zm6 0zm-172 1zm67 0zm15 0zm26 0zm15 0zm10 0zm9 0zm7 0zm17 0zm-123 1zm14 0zm16 0zm0 0zm6 0zm1 0zm10 0zm13 0zm5 0zm4 0zm15 0zm7 0zm19 0zm-172 1zm62 0zm39 0zm6 0zm1 0zm0 0zm21 0zm43 0zm-183 1zm82 0zm26 0zm2 0zm3 0zm41 0zm5 0zm5 0zm23 0zm3 0zm-152 1zm103 0zm5 0zm5 0zm3 0zm2 0zm9 0zm0 0zm4 0zm20 0zm-90 1zm9 0zm41 0zm-122 1zm33 0zm20 0zm12 0zm37 0zm-65 1zm3 0zm37 0zm16 0zm10 0zm17 0zm17 0zm4 0zm4 0zm0 0zm30 0zm-157 1zm8 0zm37 0zm6 0zm10 0zm0 0zm12 0zm11 0zm5 0zm2 0zm1 0zm5 0zm8 0zm39 0zm-107 1zm22 0zm2 0zm19 0zm8 0zm15 0zm81 0zm-186 1zm34 0zm23 0zm3 0zm1 0zm20 0zm38 0zm33 0zm-187 1zm55 0zm12 0zm5 0zm8 0zm54 0zm32 0zm41 0zm-224 1zm136 0zm21 0zm9 0zm11 0zm21 0zm-135 1zm43 0zm6 0zm10 0zm4 0zm0 0zm8 0zm6 0zm-114 1zm60 0zm13 0zm2 0zm16 0zm3 0zm11 0zm15 0zm21 0zm32 0zm-97 1zm2 0zm41 0zm3 0zm22 0zm2 0zm3 0zm5 0zm-100 1zm132 0zm-120 1zm11 0zm11 0zm1 0zm13 0zm1 0zm8 0zm10 0zm22 0zm55 0zm-133 1zm60 0zm9 0zm1 0zm-117 1zm24 0zm36 0zm76 0zm-131 1zm19 0zm35 0zm26 0zm1 0zm7 0zm6 0zm0 0zm18 0zm14 0zm33 0zm-202 1zm69 0zm76 0zm2 0zm23 0zm-272 1zm191 0zm18 0zm35 0zm15 0zm-115 1zm71 0zm13 0zm95 0zm-173 1zm65 0zm8 0zm18 0zm9 0zm1 0zm21 0zm0 0zm-123 1zm65 0zm36 0zm0 0zm2 0zm51 0zm52 0zm-173 1zm16 0zm4 0zm5 0zm13 0zm0 0zm4 0zm16 0zm34 0zm-106 1zm9 0zm1 0zm0 0zm59 0zm5 0zm5 0zm3 0zm0 0zm5 0zm10 0zm-210 1zm39 0zm67 0zm8 0zm29 0zm10 0zm7 0zm22 0zm34 0zm-109 1zm4 0zm18 0zm16 0zm22 0zm14 0zm3 0zm21 0zm1 0zm-149 1zm94 0zm5 0zm12 0zm25 0zm5 0zm1 0zm1 0zm8 0zm-200 1zm174 0zm18 0zm-125 1zm27 0zm22 0zm13 0zm8 0zm22 0zm5 0zm-79 1zm100 0zm3 0zm-167 1zm110 0zm40 0zm10 0zm-66 1zm11 0zm4 0zm35 0zm5 0zm18 0zm3 0zm-89 1zm43 0zm14 0zm3 0zm2 0zm2 0zm29 0zm7 0zm8 0zm-52 1zm12 0zm28 0zm87 0zm-204 1zm8 0zm21 0zm34 0zm0 0zm0 0zm33 0zm2 0zm63 0zm-123 1zm19 0zm42 0zm2 0zm2 0zm54 0zm-144 1zm49 0zm7 0zm7 0zm19 0zm25 0zm7 0zm-84 1zm11 0zm1 0zm25 0zm-162 1zm40 0zm56 0zm36 0zm12 0zm4 0zm29 0zm36 0zm2 0zm-221 1zm137 0zm24 0zm-122 1zm48 0zm69 0zm4 0zm30 0zm0 0zm20 0zm28 0zm-243 1zm93 0zm66 0zm119 0zm-191 1zm26 0zm5 0zm2 0zm14 0zm15 0zm11 0zm13 0zm-109 1zm46 0zm25 0zm32 0zm4 0zm20 0zm39 0zm-106 1zm17 0zm4 0zm2 0zm15 0zm-28 1zm50 0zm2 0zm6 0zm-149 1zm75 0zm32 0zm4 0zm3 0zm37 0zm-117 1zm32 0zm6 0zm3 0zm1 0zm11 0zm10 0zm2 0zm46 0zm15 0zm3 0zm2 0zm19 0zm-98 1zm13 0zm28 0zm4 0zm-82 1zm17 0zm24 0zm27 0zm2 0zm26 0zm16 0zm-60 1zm11 0zm19 0zm-83 1zm43 0zm9 0zm38 0zm-27 1zm20 0zm5 0zm3 0zm-117 1zm61 0zm39 0zm11 0zm9 0zm7 0zm43 0zm-170 1zm3 0zm61 0zm11 0zm105 0zm-262 1zm101 0zm43 0zm30 0zm4 0zm6 0zm13 0zm29 0zm3 0zm-105 1zm19 0zm13 0zm8 0zm34 0zm-35 1zm19 0zm8 0zm31 0zm-74 1zm38 0zm48 0zm-172 1zm103 0zm12 0zm19 0zm13 0zm-108 1zm7 0zm3 0zm30 0zm11 0zm25 0zm10 1zm10 0zm1 0zm60 0zm-144 1zm13 0zm20 0zm1 0zm23 0zm6 0zm18 0zm38 0zm-161 1zm67 0zm23 0zm20 0zm56 0zm-186 1zm83 0zm15 0zm7 0zm32 0zm22 0zm7 0zm-125 1zm42 0zm10 0zm12 0zm5 0zm28 0zm22 0zm-152 1zm8 0zm53 0zm14 0zm39 0zm59 0zm-157 1zm17 0zm20 0zm16 0zm18 0zm10 0zm8 0zm7 0zm-58 1zm22 0zm0 0zm7 0zm15 0zm-76 1zm14 0zm5 0zm65 0zm5 0zm9 0zm85 0zm-223 1zm8 0zm74 0zm11 0zm7 0zm33 0zm2 0zm-56 1zm11 0zm10 0zm0 0zm17 0zm3 1zm-170 1zm63 0zm25 0zm4 0zm71 0zm11 0zm12 0zm-123 1zm117 0zm-92 1zm100 0zm7 0zm-93 1zm56 0zm39 0zm25 0zm-176 1zm55 0zm29 0zm7 0zm1 0zm19 0zm12 0zm39 0zm10 0zm-103 1zm45 0zm1 0zm57 0zm-138 1zm36 0zm38 0zm121 0zm-133 1zm16 0zm1 0zm24 0zm30 0zm19 0zm10 0zm-164 1zm83 0zm8 0zm-111 1zm116 0zm27 0zm-69 1zm102 0zm-112 1zm30 0zm12 0zm43 0zm-67 1zm18 0zm37 0zm-125 1zm4 0zm29 0zm14 0zm30 0zm51 0zm36 0zm-134 1zm52 0zm7 0zm18 0zm-105 1zm14 1zm39 0zm49 0zm-94 1zm9 0zm62 0zm56 0zm-86 1zm21 0zm-39 1zm1 0zm96 0zm-130 1zm29 0zm28 0zm3 0zm11 0zm9 0zm149 0zm-179 1zm20 0zm9 0zm43 0zm-85 1zm22 0zm3 0zm-40 1zm34 0zm42 0zm21 0zm1 0zm-184 1zm50 0zm56 0zm17 0zm36 0zm-49 1zm27 0zm-7 1zm50 0zm-83 1zm11 0zm31 0zm6 0zm-114 1zm109 0zm43 0zm-207 1zm84 0zm51 0zm13 0zm1 0zm17 0zm15 0zm73 0zm7 0zm-159 1zm35 0zm50 0zm-103 1zm27 0zm6 0zm4 0zm55 0zm38 0zm-125 1zm27 0zm23 0zm7 0zm10 0zm35 0zm5 0zm25 0zm-103 1zm29 0zm103 0zm-225 1zm71 0zm41 0zm122 0zm-98 1zm23 0zm-31 1zm17 0zm61 0zm8 0zm12 0zm-90 1zm22 0zm90 0zm-99 1zm-66 1zm51 0zm1 0zm52 0zm-237 1zm160 0zm9 0zm11 0zm8 0zm-98 1zm61 0zm-55 1zm9 0zm45 0zm139 1zm-133 1zm3 0zm7 0zm22 0zm9 0zm-59 1zm7 0zm35 0zm-112 1zm69 0zm50 0zm20 0zm153 0zm-169 1zm-103 1zm42 0zm79 0zm-141 1zm54 0zm17 0zm-10 2zm114 0zm17 0zm-247 1zm132 0zm20 0zm23 0zm-112 1zm95 0zm37 0zm-139 1zm67 0zm55 1zm-73 1zm24 1zm173 0zm-233 1zm81 0zm-56 1zm17 0zm47 0zm89 1zm-184 1zm29 0zm15 0zm12 0zm57 0zm61 0zm-169 1zm22 0zm46 0zm13 0zm10 1zm3 0zm-89 1zm32 0zm47 0zm-151 1zm60 0zm85 0zm58 0zm-130 1zm42 0zm34 0zm-60 1zm41 0zm116 0zm-150 1zm39 1zm69 0zm50 0zm-205 1zm33 0zm14 1zm-45 2zm-22 1zm6 0zm87 3zm-33 1zm22 0zm24 0zm128 0zm-186 1zm240 0zm-215 1zm1 0zm-18 1zm156 0zm-143 2zm12 0zm12 0zm-46 1zm5 0zm18 1zm-79 1zm60 0zm66 0zm-62 1zm36 0zm79 0zm-115 2zm46 0zm19 0zm102 0zm-194 2zm154 1zm77 0zm-135 1zm-44 1zm-84 1zm184 1zm-166 1zm65 0zm-104 1zm79 1zm40 0zm-40 2zm49 1zm-62 3zm12 0zm104 0zm-108 1zm121 1zm-153 2zm68 0zm-32 1zm30 0zm53 0zm-47 1zm-16 4zm-57 1zm91 0zm28 0zm11 2zm-13 1zm82 1zm-196 1zm145 0zm-87 1zm-55 4zm42 1zm-12 1zm16 1zm-57 1zm8 2zm35 1zm12 0zm-29 4zm-18 1zm34 0zm38 1zm67 3zm-80 3zm18 0zm89 0zm-36 1zm-143 3zm141 2zm-94 3zm53 4zm-82 2zm87 0zm-75 2zm82 0zm-63 3zm-7 3zm-68 1zm10 0zm16 0zm234 0zm-26 3zm-171 1zm134 0zm-17 2zm-146 2zm-59 5zm33 0zm5 3zm13 3zm2 1zm31 0zm-99 1zm46 3zm23 6zm188 0zm-180 4zm41 4zm125 4zm-106 1zm-31 11zm34 11zm-128 1zm10 4zm174 0z"/><path d="M1099 7zm54 0zm50 0zm22 1zm-175 3zm174 1zm-257 5zm13 1zm89 1zm102 1zm6 2zm30 1zm-99 1zm75 5zm-107 1zm155 0zm-126 1zm-32 1zm162 0zm-2 1zm-12 1zm63 1zm-127 1zm41 2zm90 0zm-156 1zm12 0zm56 0zm-44 1zm51 2zm41 1zm0 0zm-152 1zm93 2zm32 0zm26 0zm-191 1zm117 0zm-90 1zm98 0zm-98 1zm117 0zm13 1zm1 0zm-88 1zm84 0zm7 0zm5 1zm-76 1zm108 0zm-181 1zm133 0zm-132 1zm121 0zm21 1zm22 0zm5 0zm7 0zm-53 2zm17 0zm38 1zm-3 1zm-84 2zm29 0zm21 0zm-71 1zm55 0zm33 0zm-209 1zm176 0zm-51 1zm62 1zm11 1zm-11 1zm12 0zm44 0zm-54 1zm57 0zm-100 1zm53 0zm-27 1zm6 0zm-267 1zm201 0zm52 0zm15 0zm61 0zm-122 1zm14 0zm88 0zm17 0zm-63 1zm65 0zm-79 2zm12 0zm26 1zm13 1zm3 0zm-36 1zm-57 1zm34 0zm4 0zm30 0zm-57 1zm10 1zm7 0zm15 0zm11 0zm-61 1zm8 0zm58 1zm11 0zm13 0zm4 0zm-83 1zm21 0zm39 0zm3 0zm9 0zm8 0zm32 0zm-180 1zm47 0zm3 0zm25 0zm6 0zm27 0zm8 0zm15 0zm-88 1zm85 0zm-206 2zm10 0zm180 0zm13 0zm44 0zm-148 1zm90 0zm9 0zm14 0zm3 1zm-72 1zm27 0zm55 0zm12 0zm-123 1zm45 0zm42 0zm12 0zm9 0zm33 0zm-78 1zm23 0zm3 0zm-170 1zm158 0zm10 0zm24 0zm22 0zm-131 2zm55 0zm6 0zm3 0zm14 0zm15 0zm-10 1zm-114 1zm53 0zm43 0zm40 0zm16 0zm22 0zm-134 1zm43 0zm23 0zm7 0zm17 0zm-203 1zm81 0zm92 0zm10 0zm12 0zm0 0zm-84 1zm52 0zm28 0zm8 0zm-126 1zm82 0zm2 0zm7 0zm1 0zm24 0zm15 0zm-149 1zm122 0zm2 0zm-135 1zm147 0zm25 0zm-208 1zm144 0zm17 0zm9 0zm14 0zm-83 1zm24 0zm12 0zm9 0zm2 0zm28 0zm22 0zm-99 1zm48 0zm37 0zm-82 1zm31 0zm13 0zm4 0zm20 0zm3 0zm10 0zm18 0zm17 0zm21 0zm-178 1zm55 0zm41 0zm9 0zm1 0zm2 0zm17 0zm7 0zm-194 1zm159 0zm3 0zm-3 1zm29 0zm-90 1zm59 0zm-27 1zm49 0zm5 0zm-181 1zm110 0zm8 0zm2 0zm47 0zm57 0zm-121 1zm40 0zm25 0zm27 0zm-87 1zm5 0zm25 0zm29 0zm7 0zm7 0zm16 0zm10 0zm-59 1zm5 0zm3 0zm8 0zm4 0zm3 0zm-51 1zm19 0zm10 0zm3 0zm13 0zm3 0zm7 0zm23 0zm-91 1zm39 0zm8 0zm9 0zm33 0zm-82 1zm37 0zm2 0zm72 0zm-79 1zm4 0zm10 0zm7 0zm40 0zm-147 1zm51 0zm16 0zm6 0zm2 0zm7 0zm3 0zm12 0zm2 0zm7 0zm13 0zm22 0zm-92 1zm15 0zm0 0zm12 0zm16 0zm4 0zm4 0zm12 0zm-58 1zm14 0zm4 0zm30 0zm3 0zm-124 1zm65 0zm10 0zm4 0zm9 0zm8 0zm13 0zm14 0zm5 0zm9 0zm-148 1zm1 0zm109 0zm1 0zm0 0zm4 0zm2 0zm6 0zm5 0zm14 0zm-125 1zm71 0zm48 0zm70 0zm-231 1zm19 0zm102 0zm6 0zm13 0zm12 0zm5 0zm30 0zm1 0zm20 0zm-210 1zm26 0zm69 0zm18 0zm23 0zm5 0zm10 0zm5 0zm8 0zm11 0zm-70 1zm48 0zm2 0zm2 0zm18 0zm3 0zm-96 1zm58 0zm25 0zm2 0zm2 0zm-97 1zm70 0zm16 0zm22 0zm-87 1zm38 0zm1 0zm38 0zm-162 1zm74 0zm32 0zm21 0zm17 0zm36 0zm-67 1zm0 0zm8 0zm13 0zm2 0zm3 0zm3 0zm8 0zm6 0zm6 0zm14 0zm1 0zm8 0zm1 0zm2 0zm-184 1zm70 0zm43 0zm5 0zm12 0zm13 0zm5 0zm4 0zm1 0zm37 0zm-149 1zm30 0zm45 0zm11 0zm5 0zm15 0zm-127 1zm38 0zm51 0zm2 0zm0 0zm2 0zm5 0zm15 0zm1 0zm1 0zm38 0zm-110 1zm19 0zm34 0zm2 0zm20 0zm7 0zm10 0zm37 0zm-117 1zm28 0zm26 0zm10 0zm16 0zm0 0zm2 0zm13 0zm8 0zm-169 1zm97 0zm5 0zm38 0zm4 0zm42 0zm-150 1zm80 0zm15 0zm1 0zm25 0zm3 0zm-71 1zm16 0zm8 0zm10 0zm1 0zm2 0zm24 0zm20 0zm11 0zm-13 1zm-119 1zm21 0zm38 0zm0 0zm4 0zm1 0zm8 0zm12 0zm30 0zm-94 1zm0 0zm35 0zm29 0zm10 0zm-54 1zm12 0zm21 0zm10 0zm3 0zm3 0zm-96 1zm51 0zm1 0zm9 0zm2 0zm12 0zm8 0zm1 0zm-54 1zm16 0zm2 0zm18 0zm7 0zm12 0zm5 0zm71 0zm-134 1zm15 0zm29 0zm19 0zm17 0zm-138 1zm45 0zm40 0zm0 0zm20 0zm1 0zm8 0zm5 0zm20 0zm-65 1zm16 0zm3 0zm10 0zm2 0zm22 0zm1 0zm3 0zm18 0zm-173 1zm53 0zm53 0zm18 0zm19 0zm4 0zm17 0zm25 0zm3 0zm-156 1zm59 0zm8 0zm31 0zm2 0zm3 0zm4 0zm33 0zm-136 1zm43 0zm22 0zm18 0zm20 0zm12 0zm10 0zm26 0zm-105 1zm14 0zm31 0zm11 0zm3 0zm14 0zm0 0zm-136 1zm7 0zm5 0zm54 0zm15 0zm48 0zm7 0zm5 0zm8 0zm17 0zm-141 1zm48 0zm6 0zm2 0zm0 0zm0 0zm0 0zm2 0zm24 0zm32 0zm22 0zm-117 1zm2 0zm35 0zm1 0zm13 0zm10 0zm4 0zm1 0zm1 0zm4 0zm-105 1zm26 0zm47 0zm39 0zm24 0zm-172 1zm93 0zm38 0zm-133 1zm71 0zm18 0zm18 0zm26 0zm1 0zm-156 1zm120 0zm10 0zm1 0zm8 0zm16 0zm1 0zm1 0zm10 0zm13 0zm22 0zm-154 1zm33 0zm61 0zm18 0zm10 0zm2 0zm2 0zm1 0zm-79 1zm5 0zm11 0zm17 0zm5 0zm19 0zm8 0zm5 0zm0 0zm21 0zm4 0zm44 0zm-180 1zm22 0zm3 0zm21 0zm8 0zm5 0zm8 0zm13 0zm8 0zm6 0zm10 0zm3 0zm10 0zm30 0zm-134 1zm6 0zm16 0zm28 0zm0 0zm3 0zm0 0zm11 0zm7 0zm5 0zm14 0zm4 0zm7 0zm11 0zm7 0zm-108 1zm3 0zm47 0zm3 0zm2 0zm3 0zm8 0zm2 0zm2 0zm12 0zm3 0zm10 0zm4 0zm-313 1zm206 0zm87 0zm4 0zm34 0zm-138 1zm22 0zm14 0zm19 0zm11 0zm0 0zm3 0zm23 0zm7 0zm5 0zm-59 1zm27 0zm15 0zm4 0zm1 0zm-61 1zm11 0zm10 0zm20 0zm20 0zm3 0zm2 0zm-104 1zm16 0zm39 0zm23 0zm7 0zm13 0zm4 0zm17 0zm-135 1zm56 0zm35 0zm13 0zm7 0zm2 0zm23 0zm6 0zm-95 1zm24 0zm5 0zm1 0zm14 0zm23 0zm3 0zm1 0zm4 0zm24 0zm-231 1zm118 0zm17 0zm3 0zm7 0zm2 0zm18 0zm2 0zm19 0zm1 0zm14 0zm6 0zm34 0zm-295 1zm129 0zm33 0zm19 0zm30 0zm13 0zm9 0zm21 0zm11 0zm14 0zm-109 1zm7 0zm18 0zm1 0zm18 0zm10 0zm11 0zm8 0zm19 0zm6 0zm-185 1zm67 0zm61 0zm22 0zm17 0zm2 0zm1 0zm1 0zm1 0zm7 0zm8 0zm3 0zm-74 1zm3 0zm27 0zm9 0zm16 0zm30 0zm-206 1zm123 0zm5 0zm1 0zm0 0zm7 0zm10 0zm7 0zm11 0zm19 0zm6 0zm3 0zm13 0zm5 0zm-137 1zm15 0zm56 0zm12 0zm13 0zm22 0zm-140 1zm22 0zm16 0zm24 0zm28 0zm23 0zm0 0zm16 0zm3 0zm1 0zm3 0zm4 0zm5 0zm13 0zm7 0zm-119 1zm3 0zm20 0zm5 0zm37 0zm9 0zm15 0zm10 0zm-137 1zm38 0zm12 0zm3 0zm10 0zm5 0zm43 0zm14 0zm28 0zm-149 1zm36 0zm0 0zm5 0zm15 0zm45 0zm3 0zm4 0zm14 0zm14 0zm23 0zm-153 1zm28 0zm60 0zm5 0zm0 0zm2 0zm33 0zm-242 1zm141 0zm18 0zm5 0zm8 0zm3 0zm4 0zm1 0zm22 0zm44 0zm1 0zm17 0zm-118 1zm17 0zm12 0zm10 0zm4 0zm8 0zm46 0zm30 0zm-113 1zm13 0zm43 0zm6 0zm20 0zm4 0zm-110 1zm56 0zm2 0zm5 0zm5 0zm7 0zm9 0zm5 0zm20 0zm16 0zm-157 1zm65 0zm1 0zm5 0zm3 0zm4 0zm1 0zm16 0zm4 0zm8 0zm10 0zm14 0zm7 0zm-158 1zm11 0zm19 0zm12 0zm78 0zm3 0zm1 0zm3 0zm2 0zm21 0zm-126 1zm4 0zm60 0zm8 0zm22 0zm3 0zm2 0zm10 0zm7 0zm4 0zm34 0zm49 0zm-168 1zm17 0zm20 0zm38 0zm5 0zm-62 1zm32 0zm43 0zm-228 1zm144 0zm40 0zm11 0zm4 0zm1 0zm9 0zm1 0zm7 0zm5 0zm1 0zm27 0zm-151 1zm37 0zm4 0zm17 0zm6 0zm26 0zm8 0zm22 0zm4 0zm6 0zm7 0zm8 0zm34 0zm-231 1zm71 0zm31 0zm7 0zm29 0zm8 0zm2 0zm22 0zm13 0zm7 0zm18 0zm-182 1zm19 0zm17 0zm27 0zm44 0zm4 0zm14 0zm24 0zm5 0zm16 0zm-87 1zm10 0zm26 0zm3 0zm29 0zm10 0zm14 0zm7 0zm-149 1zm1 0zm73 0zm4 0zm30 0zm48 0zm-155 1zm11 0zm53 0zm1 0zm8 0zm10 0zm1 0zm33 0zm11 0zm-211 1zm122 0zm1 0zm9 0zm23 0zm17 0zm3 0zm8 0zm48 0zm-157 1zm73 0zm4 0zm1 0zm0 0zm21 0zm-30 1zm11 0zm1 0zm2 0zm-63 1zm11 0zm5 0zm41 0zm13 0zm1 0zm33 0zm-171 1zm100 0zm8 0zm7 0zm1 0zm5 0zm1 0zm1 0zm1 0zm1 0zm2 0zm20 0zm18 0zm4 0zm16 0zm34 0zm-142 1zm15 0zm11 0zm2 0zm12 0zm15 0zm32 0zm18 0zm29 0zm-128 1zm43 0zm18 0zm16 0zm6 0zm-155 1zm102 0zm9 0zm1 0zm5 0zm10 0zm6 0zm10 0zm6 0zm9 0zm-372 1zm219 0zm46 0zm52 0zm7 0zm13 0zm5 0zm9 0zm0 0zm3 0zm-173 1zm81 0zm9 0zm12 0zm10 0zm34 0zm2 0zm31 0zm1 0zm-131 1zm36 0zm15 0zm24 0zm16 0zm8 0zm1 0zm32 0zm10 0zm50 0zm-171 1zm23 0zm9 0zm46 0zm4 0zm3 0zm15 0zm10 0zm-110 1zm35 0zm39 0zm15 0zm1 0zm28 0zm18 0zm-94 1zm19 0zm16 0zm7 0zm8 0zm3 0zm11 0zm23 0zm-136 1zm39 0zm1 0zm4 0zm31 0zm11 0zm3 0zm7 0zm-87 1zm11 0zm41 0zm5 0zm5 0zm4 0zm58 0zm2 0zm-197 1zm67 0zm4 0zm30 0zm15 0zm1 0zm30 0zm8 0zm18 0zm3 0zm31 0zm-126 1zm9 0zm5 0zm16 0zm15 0zm23 0zm1 0zm-65 1zm26 0zm8 0zm18 0zm16 0zm3 0zm8 0zm3 0zm7 0zm7 0zm21 0zm2 0zm-270 1zm113 0zm16 0zm38 0zm0 0zm5 0zm15 0zm7 0zm4 0zm1 0zm47 0zm-159 1zm34 0zm32 0zm14 0zm38 0zm15 0zm9 0zm5 0zm20 0zm7 0zm-232 1zm89 0zm41 0zm32 0zm1 0zm36 0zm-74 1zm1 0zm3 0zm5 0zm36 0zm0 0zm5 0zm11 0zm-66 1zm13 0zm18 0zm0 0zm6 0zm0 0zm1 0zm6 0zm3 0zm5 0zm18 0zm3 0zm6 0zm14 0zm24 0zm-180 1zm48 0zm77 0zm25 0zm13 0zm-137 1zm36 0zm5 0zm2 0zm35 0zm7 0zm31 0zm7 0zm2 0zm-96 1zm6 0zm55 0zm6 0zm3 0zm6 0zm27 0zm-155 1zm19 0zm4 0zm4 0zm18 0zm20 0zm13 0zm25 0zm2 0zm15 0zm15 0zm-76 1zm37 0zm24 0zm25 0zm19 0zm-121 1zm11 0zm8 0zm37 0zm11 0zm23 0zm3 0zm6 0zm7 0zm-51 1zm0 0zm13 0zm10 0zm8 0zm-129 1zm38 0zm4 0zm12 0zm15 0zm13 0zm34 0zm2 0zm9 0zm8 0zm23 0zm13 0zm52 0zm-201 1zm9 0zm45 0zm11 0zm17 0zm5 0zm2 0zm2 0zm3 0zm-48 1zm12 0zm4 0zm18 0zm32 0zm-64 1zm14 0zm9 0zm15 0zm6 0zm-90 1zm12 0zm54 0zm28 0zm-188 1zm66 0zm65 0zm6 0zm21 0zm14 0zm38 0zm3 0zm-135 1zm51 0zm6 0zm4 0zm7 0zm21 0zm1 0zm4 0zm1 0zm16 0zm13 0zm55 0zm-147 1zm88 0zm22 0zm11 0zm1 0zm14 0zm-121 1zm20 0zm7 0zm17 0zm28 0zm109 0zm-205 1zm13 0zm5 0zm11 0zm22 0zm9 0zm23 0zm27 0zm1 0zm22 0zm24 0zm6 0zm-213 1zm17 0zm39 0zm30 0zm30 0zm6 0zm10 0zm13 0zm-148 1zm37 0zm23 0zm47 0zm26 0zm1 0zm10 0zm1 0zm2 0zm1 0zm8 0zm23 0zm-89 1zm27 0zm11 0zm9 0zm16 0zm68 0zm-190 1zm39 0zm31 0zm11 0zm34 0zm-50 1zm14 0zm3 0zm3 0zm48 0zm3 0zm15 0zm-162 1zm28 0zm18 0zm10 0zm47 0zm-31 1zm10 0zm12 0zm-124 1zm38 0zm68 0zm5 0zm9 0zm11 0zm18 0zm5 0zm9 0zm18 0zm-162 1zm28 0zm12 0zm21 0zm6 0zm35 0zm2 0zm14 0zm47 0zm-151 1zm54 0zm14 0zm10 0zm12 0zm2 0zm4 0zm3 0zm8 0zm7 0zm14 0zm-163 1zm11 0zm87 0zm27 0zm4 0zm0 0zm3 0zm-44 1zm36 0zm37 0zm-155 1zm36 0zm64 0zm52 0zm19 0zm-193 1zm21 0zm13 0zm51 0zm3 0zm12 0zm13 0zm5 0zm28 0zm54 0zm-75 1zm10 0zm5 0zm12 0zm0 0zm89 0zm-171 1zm35 0zm20 0zm3 0zm5 0zm1 0zm20 0zm24 0zm2 0zm-53 1zm-125 1zm74 0zm35 0zm25 0zm14 0zm-90 1zm13 0zm38 0zm4 0zm2 0zm2 0zm5 0zm10 0zm17 0zm-236 1zm142 0zm3 0zm49 0zm4 0zm14 0zm2 0zm43 0zm37 0zm-160 1zm2 0zm66 0zm18 0zm20 0zm25 0zm-112 1zm17 0zm21 0zm15 0zm20 0zm29 0zm-60 1zm11 0zm22 0zm-66 1zm2 0zm18 0zm22 0zm12 0zm32 0zm10 0zm-67 1zm7 0zm8 0zm2 0zm10 0zm17 0zm27 0zm-72 1zm60 0zm-58 1zm5 0zm2 0zm1 0zm52 0zm-50 1zm6 0zm1 0zm1 0zm1 0zm23 0zm1 0zm-177 1zm89 0zm15 0zm2 0zm31 0zm2 0zm5 0zm2 0zm5 0zm3 0zm4 0zm26 0zm16 0zm-157 1zm48 0zm9 0zm64 0zm39 0zm-107 1zm40 0zm15 0zm2 0zm12 0zm28 0zm-80 1zm3 0zm6 0zm14 0zm46 0zm18 0zm-224 1zm163 0zm8 0zm8 0zm-55 1zm129 0zm-141 1zm23 0zm17 0zm7 0zm-103 1zm58 0zm65 0zm40 0zm11 0zm-94 1zm27 0zm23 0zm-105 1zm15 0zm12 0zm16 0zm8 0zm2 0zm5 0zm8 0zm6 0zm17 0zm25 0zm8 0zm-125 1zm45 0zm8 0zm27 0zm23 0zm7 0zm32 0zm4 0zm-155 1zm67 0zm15 0zm11 0zm-83 1zm78 0zm38 0zm34 0zm23 0zm23 0zm-190 1zm59 0zm66 0zm25 0zm-181 1zm55 0zm25 0zm9 0zm8 0zm0 0zm20 0zm9 0zm5 0zm15 0zm4 0zm7 0zm-113 1zm62 0zm7 0zm12 0zm24 0zm39 0zm-122 1zm18 0zm45 0zm8 0zm63 0zm57 0zm-255 1zm25 0zm27 0zm15 0zm65 0zm45 0zm-167 1zm5 0zm39 0zm52 0zm11 0zm38 0zm-149 1zm42 0zm43 0zm24 0zm34 0zm-121 1zm49 0zm12 0zm1 0zm37 0zm1 0zm49 0zm12 0zm-169 1zm70 0zm23 0zm40 0zm-131 1zm30 0zm37 0zm4 0zm27 0zm108 0zm-133 1zm15 0zm-61 1zm25 0zm15 0zm2 0zm-137 1zm96 0zm10 0zm20 1zm8 0zm13 0zm3 0zm35 0zm15 0zm37 0zm-130 1zm34 0zm-104 1zm64 0zm17 0zm3 0zm33 0zm14 0zm10 0zm-72 1zm27 0zm15 0zm44 0zm2 0zm-72 1zm8 0zm1 0zm3 0zm63 0zm12 0zm-114 1zm9 0zm9 0zm18 0zm13 0zm2 0zm31 0zm69 0zm-161 1zm28 0zm35 0zm37 0zm76 0zm-139 1zm2 0zm27 0zm113 0zm-208 1zm58 0zm16 0zm3 0zm11 0zm35 0zm-103 1zm32 0zm149 0zm-135 1zm7 0zm15 0zm31 0zm90 0zm-143 1zm33 0zm28 0zm29 0zm40 0zm-116 1zm-111 1zm41 0zm2 0zm41 0zm32 0zm35 0zm-97 1zm12 0zm32 0zm-111 1zm92 0zm2 0zm33 0zm17 0zm-55 1zm25 0zm-52 1zm64 0zm39 0zm3 0zm49 0zm-136 1zm37 0zm33 0zm22 1zm29 0zm-79 1zm-127 1zm138 0zm8 0zm-98 1zm20 0zm22 0zm76 0zm102 0zm-455 1zm233 0zm70 0zm119 0zm-222 1zm5 0zm79 0zm6 0zm16 0zm53 0zm54 0zm-178 1zm44 0zm-84 1zm76 0zm5 0zm19 0zm1 0zm20 0zm33 0zm-10 1zm-19 1zm2 0zm-94 1zm75 0zm36 0zm124 0zm-213 1zm22 0zm12 0zm56 0zm11 0zm-166 1zm86 0zm40 0zm31 0zm-66 1zm36 0zm0 0zm45 0zm-143 1zm40 0zm10 0zm19 0zm20 0zm8 0zm5 0zm6 0zm29 0zm-38 1zm8 0zm65 0zm11 0zm-4 1zm-208 1zm61 0zm11 0zm4 0zm125 0zm-182 1zm71 0zm8 0zm-2 1zm37 0zm17 0zm-66 1zm81 0zm-97 1zm37 0zm111 0zm-77 2zm-68 2zm18 0zm-25 1zm24 0zm11 0zm6 0zm117 0zm-80 1zm-69 1zm24 1zm158 0zm-221 1zm60 0zm66 0zm19 0zm-147 1zm41 0zm41 0zm-54 1zm12 0zm8 0zm-35 1zm29 0zm26 0zm1 1zm-108 1zm77 0zm17 0zm53 0zm16 0zm11 0zm-46 1zm-99 1zm57 0zm44 0zm25 0zm-200 2zm66 0zm9 0zm90 0zm-56 1zm27 0zm3 0zm-9 1zm31 0zm20 0zm-185 1zm82 0zm54 0zm31 0zm2 0zm4 0zm21 0zm59 0zm-67 1zm-54 2zm65 0zm81 0zm-160 1zm-53 1zm2 0zm63 0zm10 0zm-92 1zm117 0zm-53 1zm24 0zm-22 1zm178 0zm-185 1zm74 0zm-111 1zm88 0zm20 0zm-72 1zm15 1zm9 0zm22 0zm-69 1zm9 0zm-96 1zm102 0zm19 0zm7 0zm0 2zm-38 1zm76 0zm-135 1zm97 0zm12 1zm6 0zm-56 1zm30 1zm14 0zm159 0zm-203 1zm168 0zm-226 1zm66 0zm24 0zm26 0zm-63 1zm20 0zm2 0zm29 0zm35 1zm21 0zm-135 1zm15 1zm87 1zm9 0zm9 1zm19 0zm69 0zm-239 1zm66 0zm18 0zm12 1zm-42 1zm12 0zm97 0zm83 0zm-234 1zm16 0zm-55 2zm212 0zm-51 2zm-85 2zm76 0zm-71 1zm85 1zm-158 1zm94 0zm16 1zm-70 1zm43 0zm31 0zm6 0zm61 1zm-144 1zm74 0zm9 0zm6 0zm-71 2zm23 0zm-8 1zm59 0zm9 0zm-55 1zm2 0zm11 0zm97 0zm-143 1zm-6 1zm4 2zm157 0zm44 0zm-151 1zm44 1zm56 0zm-235 1zm144 1zm1 1zm-42 2zm24 1zm24 2zm-47 1zm-32 3zm17 0zm89 0zm-5 1zm121 0zm-207 1zm176 0zm-169 1zm12 2zm140 2zm-139 1zm24 2zm91 0zm-166 1zm47 0zm31 2zm-32 3zm59 0zm-95 1zm-12 3zm69 0zm-34 3zm20 0zm80 0zm-112 1zm-98 1zm37 0zm111 0zm33 0zm-103 2zm14 0zm174 0zm-134 2zm-95 1zm54 0zm140 0zm-187 2zm27 4zm2 0zm115 0zm31 2zm-162 4zm26 1zm-31 3zm78 0zm30 1zm25 0zm-28 3zm-50 5zm32 1zm99 2zm-132 1zm-39 1zm130 14zm-45 1zm-157 3zm107 0zm-18 1zm47 3zm-89 2zm33 0zm-1 1zm4 3zm92 0zm-9 20zm-5 1zm131 7zm54 5zm-175 14zm26 0zm10 16z"/><path d="M1101 6zm53 0zm-35 1zm100 6zm-57 1zm111 7zm-101 1zm16 0zm-163 1zm201 5zm-79 1zm11 0zm63 1zm-78 1zm131 0zm-268 3zm202 1zm-67 3zm95 1zm-34 1zm-58 1zm-22 1zm20 0zm14 0zm145 0zm-69 1zm-231 1zm138 0zm71 0zm22 1zm58 1zm-79 2zm10 0zm51 0zm-119 1zm-147 1zm69 1zm43 0zm76 0zm32 0zm13 1zm-143 1zm141 0zm14 1zm-188 1zm69 0zm81 0zm5 0zm9 0zm11 0zm-16 2zm-189 2zm181 0zm-53 1zm46 0zm11 0zm57 0zm-44 1zm17 0zm-20 1zm-113 1zm8 0zm22 0zm47 0zm61 1zm-72 1zm54 0zm2 1zm3 0zm-31 1zm19 1zm-362 1zm343 0zm-103 1zm85 0zm22 1zm69 0zm-199 1zm76 0zm61 0zm-45 1zm26 0zm8 0zm53 0zm-58 1zm26 0zm0 0zm0 0zm1 0zm-51 1zm77 0zm27 0zm-88 1zm19 1zm6 0zm14 0zm5 0zm6 0zm-191 1zm-61 1zm192 0zm35 0zm-132 1zm74 0zm30 0zm2 0zm25 0zm11 0zm-139 1zm105 0zm-82 1zm72 1zm9 0zm-37 1zm72 0zm-174 1zm123 0zm13 0zm33 0zm4 0zm-31 1zm1 0zm5 1zm-32 1zm11 0zm9 0zm6 0zm2 0zm7 0zm22 0zm-32 2zm6 1zm16 1zm-231 1zm123 0zm77 0zm34 0zm8 0zm-76 1zm26 0zm17 0zm9 0zm41 0zm-118 1zm29 0zm19 0zm7 0zm8 0zm12 0zm8 0zm6 0zm6 0zm41 0zm-63 1zm35 0zm-64 1zm36 0zm4 0zm3 0zm-136 1zm92 0zm8 0zm48 0zm-60 1zm33 1zm-103 1zm32 0zm84 0zm-48 1zm6 0zm16 0zm34 0zm6 0zm-92 1zm3 0zm64 0zm29 0zm-77 1zm62 0zm2 0zm-142 1zm119 0zm-197 1zm129 0zm1 0zm71 0zm-90 1zm56 0zm7 0zm2 0zm10 0zm0 0zm5 0zm-36 1zm13 0zm27 0zm-49 1zm15 0zm10 0zm25 0zm1 0zm1 0zm19 0zm5 0zm-74 1zm21 0zm3 0zm15 0zm31 0zm5 0zm-79 1zm49 0zm24 0zm-149 1zm64 0zm23 0zm24 0zm5 0zm8 0zm7 0zm5 0zm2 0zm-123 1zm91 0zm-197 1zm186 0zm4 0zm12 0zm5 0zm8 0zm10 0zm51 0zm-127 1zm37 0zm16 0zm4 0zm23 0zm12 0zm-63 1zm21 0zm-69 1zm44 0zm34 0zm34 0zm3 0zm-137 1zm9 0zm67 0zm0 0zm17 0zm25 0zm-30 1zm22 0zm3 0zm7 0zm19 0zm5 0zm-182 1zm18 0zm21 0zm24 0zm31 0zm33 0zm13 0zm13 0zm2 0zm-96 1zm57 0zm2 0zm21 0zm12 0zm-43 1zm1 0zm19 0zm12 0zm-191 1zm40 0zm150 0zm2 0zm13 0zm-100 1zm18 0zm7 0zm58 0zm4 0zm7 0zm21 0zm-82 1zm41 0zm5 0zm8 0zm-22 1zm24 0zm18 0zm8 0zm-130 1zm30 0zm20 0zm3 0zm11 0zm6 0zm6 0zm9 0zm20 0zm24 0zm-281 1zm172 0zm56 0zm3 0zm19 0zm13 0zm-79 1zm17 0zm4 0zm10 0zm12 0zm4 0zm22 0zm3 0zm4 0zm7 0zm-55 1zm33 0zm2 0zm2 0zm35 0zm-60 1zm4 0zm0 0zm25 0zm5 0zm2 0zm6 0zm-42 1zm2 0zm26 0zm8 0zm4 0zm7 0zm-111 1zm50 0zm2 0zm4 0zm1 0zm5 0zm14 0zm6 0zm17 0zm19 0zm-247 1zm189 0zm8 0zm-91 1zm50 0zm4 0zm13 0zm29 0zm1 0zm7 0zm18 0zm6 0zm-111 1zm42 0zm6 0zm13 0zm7 0zm2 0zm6 0zm12 0zm10 0zm3 0zm8 0zm-223 1zm180 0zm2 0zm11 0zm13 0zm15 0zm20 0zm10 0zm23 0zm-173 1zm33 0zm16 0zm8 0zm41 0zm2 0zm3 0zm0 0zm3 0zm48 0zm-89 1zm2 0zm27 0zm5 0zm7 0zm1 0zm4 0zm0 0zm16 0zm5 0zm9 0zm-52 1zm15 0zm-75 1zm18 0zm12 0zm16 0zm27 0zm7 0zm0 0zm0 0zm3 0zm32 0zm-145 1zm20 0zm128 0zm-87 1zm11 0zm4 0zm12 0zm12 0zm3 0zm2 0zm29 0zm5 0zm-70 1zm7 0zm37 0zm9 0zm25 0zm-66 1zm8 0zm10 0zm9 0zm8 0zm30 0zm-182 1zm47 0zm37 0zm16 0zm23 0zm2 0zm3 0zm18 0zm3 0zm2 0zm4 0zm21 0zm-149 1zm74 0zm2 0zm1 0zm13 0zm13 0zm5 0zm45 0zm6 0zm-95 1zm19 0zm18 0zm8 0zm12 0zm0 0zm9 0zm-80 1zm33 0zm8 0zm3 0zm3 0zm6 0zm3 0zm2 0zm18 0zm-31 1zm33 0zm0 0zm5 0zm-276 1zm193 0zm4 0zm45 0zm1 0zm15 0zm3 0zm15 0zm-157 1zm97 0zm3 0zm28 0zm20 0zm5 0zm9 0zm-97 1zm79 0zm6 0zm10 0zm-186 1zm53 0zm77 0zm8 0zm4 0zm0 0zm1 0zm11 0zm4 0zm26 0zm-135 1zm53 0zm5 0zm12 0zm4 0zm36 0zm24 0zm3 0zm9 0zm-114 1zm62 0zm17 0zm20 0zm-257 1zm127 0zm43 0zm3 0zm33 0zm3 0zm21 0zm3 0zm-170 1zm40 0zm63 0zm17 0zm27 0zm2 0zm18 0zm3 0zm7 0zm0 0zm28 0zm9 0zm3 0zm-121 1zm42 0zm8 0zm5 0zm7 0zm-155 1zm23 0zm28 0zm60 0zm5 0zm40 0zm19 0zm10 0zm0 0zm1 0zm11 0zm3 0zm-146 1zm21 0zm33 0zm5 0zm18 0zm9 0zm22 0zm2 0zm2 0zm17 0zm10 0zm43 0zm-234 1zm66 0zm15 0zm14 0zm38 0zm4 0zm19 0zm7 0zm3 0zm6 0zm-88 1zm1 0zm4 0zm42 0zm1 0zm3 0zm15 0zm3 0zm37 0zm-191 1zm104 0zm21 0zm2 0zm6 0zm4 0zm4 0zm22 0zm4 0zm15 0zm-167 1zm76 0zm13 0zm23 0zm42 0zm9 0zm13 0zm-133 1zm7 0zm7 0zm29 0zm8 0zm39 0zm2 0zm2 0zm8 0zm0 0zm5 0zm15 0zm1 0zm-176 1zm45 0zm21 0zm2 0zm23 0zm44 0zm24 0zm15 0zm17 0zm-77 1zm2 0zm9 0zm4 0zm26 0zm-98 1zm29 0zm64 0zm0 0zm6 0zm4 0zm-137 1zm57 0zm9 0zm14 0zm3 0zm13 0zm1 0zm13 0zm10 0zm0 0zm6 0zm3 0zm4 0zm12 0zm15 0zm23 0zm-166 1zm45 0zm24 0zm12 0zm4 0zm8 0zm33 0zm15 0zm-35 1zm3 0zm9 0zm10 0zm0 0zm3 0zm9 0zm8 0zm-133 1zm33 0zm16 0zm8 0zm26 0zm12 0zm2 0zm11 0zm1 0zm28 0zm-103 1zm24 0zm5 0zm36 0zm0 0zm1 0zm26 0zm-140 1zm36 0zm21 0zm8 0zm9 0zm2 0zm1 0zm3 0zm4 0zm17 0zm8 0zm8 0zm10 0zm8 0zm-91 1zm30 0zm21 0zm3 0zm2 0zm3 0zm5 0zm9 0zm8 0zm9 0zm6 0zm0 0zm-252 1zm107 0zm61 0zm33 0zm9 0zm8 0zm21 0zm-203 1zm68 0zm0 0zm27 0zm32 0zm6 0zm27 0zm6 0zm18 0zm5 0zm3 0zm3 0zm0 0zm51 0zm-164 1zm18 0zm8 0zm29 0zm14 0zm15 0zm11 0zm0 0zm1 0zm18 0zm-82 1zm3 0zm38 0zm0 0zm16 0zm35 0zm5 0zm1 0zm5 0zm-143 1zm43 0zm36 0zm1 0zm22 0zm9 0zm14 0zm6 0zm1 0zm4 0zm-100 1zm8 0zm8 0zm17 0zm19 0zm83 0zm-83 1zm23 0zm42 0zm7 0zm-81 1zm1 0zm18 0zm6 0zm3 0zm0 0zm12 0zm16 0zm-187 1zm47 0zm30 0zm26 0zm13 0zm9 0zm12 0zm12 0zm14 0zm12 0zm1 0zm15 0zm24 0zm16 0zm-172 1zm44 0zm6 0zm5 0zm3 0zm39 0zm3 0zm15 0zm-90 1zm28 0zm14 0zm5 0zm4 0zm11 0zm0 0zm7 0zm12 0zm17 0zm6 0zm-90 1zm22 0zm25 0zm14 0zm15 0zm-86 1zm25 0zm30 0zm3 0zm4 0zm8 0zm23 0zm-132 1zm28 0zm44 0zm7 0zm12 0zm14 0zm5 0zm2 0zm8 0zm-159 1zm60 0zm5 0zm15 0zm27 0zm8 0zm5 0zm8 0zm7 0zm4 0zm1 0zm0 0zm12 0zm48 0zm-197 1zm33 0zm71 0zm13 0zm10 0zm6 0zm3 0zm6 0zm13 0zm5 0zm10 0zm13 0zm10 0zm-139 1zm19 0zm5 0zm4 0zm2 0zm25 0zm16 0zm2 0zm11 0zm1 0zm29 0zm-193 1zm49 0zm2 0zm66 0zm3 0zm3 0zm14 0zm1 0zm5 0zm10 0zm5 0zm10 0zm71 0zm-175 1zm24 0zm4 0zm29 0zm37 0zm6 0zm3 0zm3 0zm1 0zm9 0zm2 0zm23 0zm-78 1zm7 0zm5 0zm9 0zm21 0zm9 0zm10 0zm-108 1zm13 0zm5 0zm3 0zm13 0zm4 0zm13 0zm18 0zm16 0zm20 0zm-159 1zm88 0zm37 0zm5 0zm24 0zm4 0zm22 0zm-114 1zm17 0zm17 0zm1 0zm4 0zm27 0zm71 0zm-116 1zm9 0zm14 0zm1 0zm3 0zm9 0zm5 0zm3 0zm8 0zm12 0zm3 0zm-89 1zm25 0zm14 0zm1 0zm39 0zm8 0zm4 0zm3 0zm4 0zm-76 1zm37 0zm14 0zm20 0zm2 0zm-187 1zm61 0zm75 0zm29 0zm-97 1zm45 0zm6 0zm19 0zm23 0zm11 0zm4 0zm47 0zm-169 1zm32 0zm21 0zm1 0zm5 0zm0 0zm18 0zm15 0zm29 0zm10 0zm9 0zm-93 1zm8 0zm19 0zm12 0zm2 0zm17 0zm8 0zm-151 1zm56 0zm3 0zm22 0zm10 0zm19 0zm7 0zm1 0zm10 0zm0 0zm6 0zm-104 1zm20 0zm37 0zm20 0zm1 0zm21 0zm7 0zm0 0zm9 0zm1 0zm100 0zm-249 1zm100 0zm9 0zm2 0zm17 0zm2 0zm5 0zm9 0zm8 0zm13 0zm-208 1zm54 0zm45 0zm7 0zm1 0zm15 0zm24 0zm2 0zm2 0zm0 0zm19 0zm13 0zm5 0zm6 0zm19 0zm-95 1zm13 0zm1 0zm1 0zm15 0zm3 0zm27 0zm8 0zm1 0zm53 0zm-123 1zm29 0zm24 0zm4 0zm1 0zm22 0zm9 0zm1 0zm5 0zm-209 1zm49 0zm32 0zm12 0zm2 0zm56 0zm6 0zm19 0zm1 0zm-118 1zm39 0zm46 0zm29 0zm0 0zm11 0zm19 0zm41 0zm-162 1zm6 0zm41 0zm22 0zm17 0zm2 0zm3 0zm1 0zm6 0zm13 0zm8 0zm-156 1zm6 0zm1 0zm60 0zm27 0zm3 0zm1 0zm5 0zm17 0zm14 0zm37 0zm24 0zm-157 1zm34 0zm46 0zm17 0zm-70 1zm36 0zm9 0zm39 0zm-111 1zm2 0zm3 0zm64 0zm2 0zm15 0zm-57 1zm29 0zm7 0zm3 0zm2 0zm8 0zm2 0zm69 0zm21 0zm-151 1zm21 0zm8 0zm8 0zm8 0zm6 0zm4 0zm10 0zm3 0zm10 0zm3 0zm6 0zm1 0zm-75 1zm11 0zm26 0zm16 0zm2 0zm11 0zm8 0zm1 0zm-102 1zm82 0zm15 0zm51 0zm-229 1zm67 0zm70 0zm5 0zm3 0zm4 0zm1 0zm10 0zm8 0zm13 0zm4 0zm-170 1zm87 0zm7 0zm3 0zm24 0zm13 0zm10 0zm3 0zm4 0zm6 0zm65 0zm-280 1zm37 0zm45 0zm68 0zm14 0zm2 0zm25 0zm4 0zm11 0zm1 0zm4 0zm17 0zm-142 1zm19 0zm35 0zm23 0zm45 0zm5 0zm13 0zm21 0zm20 0zm-111 1zm38 0zm6 0zm4 0zm1 0zm8 0zm5 0zm53 0zm-186 1zm40 0zm4 0zm14 0zm19 0zm13 0zm11 0zm9 0zm12 0zm105 0zm-207 1zm65 0zm19 0zm2 0zm3 0zm0 0zm21 0zm4 0zm2 0zm1 0zm23 0zm-145 1zm32 0zm4 0zm20 0zm22 0zm26 0zm44 0zm-88 1zm15 0zm1 0zm13 0zm4 0zm34 0zm-125 1zm44 0zm14 0zm4 0zm22 0zm20 0zm23 0zm27 0zm-89 1zm19 0zm6 0zm8 0zm7 0zm9 0zm-162 1zm96 0zm36 0zm7 0zm14 0zm47 0zm-69 1zm10 0zm9 0zm8 0zm-122 1zm17 0zm52 0zm9 0zm12 0zm22 0zm4 0zm2 0zm13 0zm-84 1zm14 0zm2 0zm18 0zm9 0zm3 0zm1 0zm6 0zm16 0zm22 0zm-190 1zm25 0zm51 0zm6 0zm9 0zm23 0zm22 0zm10 0zm3 0zm18 0zm21 0zm24 0zm-109 1zm21 0zm6 0zm14 0zm1 0zm10 0zm3 0zm32 0zm1 0zm-99 1zm1 0zm4 0zm15 0zm7 0zm21 0zm3 0zm8 0zm8 0zm51 0zm-161 1zm21 0zm19 0zm14 0zm2 0zm31 0zm2 0zm13 0zm4 0zm5 0zm27 0zm5 0zm-187 1zm51 0zm11 0zm20 0zm36 0zm4 0zm19 0zm-99 1zm47 0zm25 0zm64 0zm9 0zm3 0zm-140 1zm50 0zm21 0zm2 0zm7 0zm5 0zm17 0zm15 0zm-90 1zm26 0zm69 0zm19 0zm-180 1zm24 0zm26 0zm42 0zm12 0zm11 0zm24 0zm-60 1zm2 0zm27 0zm1 0zm19 0zm7 0zm11 0zm16 0zm15 0zm-116 1zm20 0zm21 0zm24 0zm3 0zm2 0zm4 0zm67 0zm-137 1zm6 0zm13 0zm32 0zm5 0zm2 0zm13 0zm-128 1zm37 0zm25 0zm36 0zm32 0zm34 0zm82 0zm-244 1zm51 0zm40 0zm3 0zm5 0zm12 0zm5 0zm8 0zm0 0zm4 0zm26 0zm-85 1zm20 0zm2 0zm19 0zm45 0zm-154 1zm70 0zm15 0zm13 0zm18 0zm26 0zm3 0zm8 0zm-114 1zm22 0zm17 0zm32 0zm12 0zm-22 1zm3 0zm5 0zm21 0zm15 0zm-140 1zm16 0zm12 0zm23 0zm40 0zm0 0zm1 0zm4 0zm1 0zm2 0zm46 0zm-115 1zm3 0zm5 0zm30 0zm10 0zm3 0zm14 0zm1 0zm22 0zm16 0zm44 0zm60 0zm-178 1zm17 0zm1 0zm14 0zm10 0zm25 0zm16 0zm-144 1zm62 0zm2 0zm2 0zm18 0zm2 0zm10 0zm4 0zm8 0zm23 0zm7 0zm26 0zm-156 1zm52 0zm19 0zm1 0zm25 0zm0 0zm36 0zm-90 1zm17 0zm8 0zm12 0zm43 0zm-134 1zm11 0zm39 0zm7 0zm3 0zm19 0zm5 0zm29 0zm0 0zm14 0zm2 0zm7 0zm-101 1zm49 0zm8 0zm24 0zm19 0zm-68 1zm3 0zm3 0zm15 0zm43 0zm19 0zm-193 1zm96 0zm62 0zm5 0zm3 0zm18 0zm-93 1zm22 0zm4 0zm30 0zm28 0zm-97 1zm6 0zm9 0zm14 0zm0 0zm14 0zm13 0zm4 0zm9 0zm-125 1zm27 0zm38 0zm1 0zm14 0zm7 0zm16 0zm0 0zm12 0zm21 0zm16 0zm26 0zm-78 1zm22 0zm14 0zm0 0zm10 0zm21 0zm-102 1zm7 0zm48 0zm13 0zm13 0zm3 0zm8 0zm2 0zm-120 1zm49 0zm13 0zm20 0zm7 0zm7 0zm14 0zm-29 1zm17 0zm3 0zm7 0zm-92 1zm13 0zm5 0zm5 0zm25 0zm2 0zm7 0zm0 0zm63 0zm-146 1zm42 0zm12 0zm0 0zm12 0zm21 0zm10 0zm-95 1zm25 0zm31 0zm12 0zm15 0zm42 0zm34 0zm-193 1zm52 0zm6 0zm20 0zm27 0zm20 0zm2 0zm-77 1zm73 0zm5 0zm58 0zm-154 1zm37 0zm29 0zm4 0zm45 0zm-93 1zm34 0zm2 0zm7 0zm13 0zm64 0zm-159 1zm65 0zm17 0zm53 0zm17 0zm28 0zm-131 1zm12 0zm7 0zm6 0zm2 0zm2 0zm12 0zm30 0zm1 0zm19 0zm-75 1zm13 0zm43 0zm22 0zm-81 1zm34 0zm18 0zm5 0zm-89 1zm41 0zm6 0zm52 0zm-98 1zm11 0zm2 0zm11 0zm13 0zm9 0zm31 0zm85 0zm-168 1zm10 0zm38 0zm14 0zm20 0zm19 0zm8 0zm-115 1zm66 0zm26 0zm-64 1zm19 0zm13 0zm4 0zm48 0zm-147 1zm3 0zm74 0zm61 0zm-156 1zm105 0zm18 0zm12 0zm67 0zm-253 1zm150 0zm14 0zm12 0zm-12 1zm18 0zm37 0zm-162 1zm62 0zm9 0zm5 0zm-108 1zm54 0zm32 0zm40 0zm9 0zm96 0zm7 0zm-161 1zm28 0zm65 0zm-131 1zm45 0zm15 0zm25 0zm29 0zm43 0zm-145 1zm22 0zm28 0zm18 0zm25 0zm4 0zm9 0zm17 0zm2 0zm14 0zm8 0zm7 0zm-152 1zm55 0zm3 0zm16 0zm10 0zm-78 1zm58 0zm36 0zm12 0zm-59 1zm0 0zm-46 1zm25 0zm30 0zm19 0zm1 0zm5 0zm55 0zm-131 1zm1 0zm21 0zm40 0zm2 0zm15 0zm-39 1zm9 0zm23 0zm3 0zm-54 1zm30 0zm1 0zm22 0zm43 0zm-79 1zm34 0zm16 0zm21 0zm-104 1zm18 0zm31 0zm8 0zm-46 1zm63 0zm-21 1zm28 0zm37 0zm6 0zm-167 1zm65 0zm9 0zm4 0zm28 0zm4 0zm4 0zm81 0zm-179 1zm6 0zm1 0zm72 0zm5 0zm2 0zm40 0zm-37 1zm95 0zm28 0zm-165 1zm32 0zm22 0zm47 0zm21 0zm-226 1zm19 0zm84 0zm34 0zm17 0zm15 0zm-110 1zm49 0zm22 0zm13 0zm4 0zm100 0zm34 0zm-230 1zm47 0zm1 0zm14 0zm63 0zm-143 3zm82 0zm4 0zm39 0zm-25 1zm9 0zm2 0zm3 0zm12 0zm13 0zm74 0zm-201 1zm21 0zm9 0zm58 0zm18 0zm-202 1zm138 0zm25 0zm16 0zm47 0zm35 0zm-175 1zm46 0zm22 0zm2 0zm20 0zm28 0zm-30 1zm3 0zm27 0zm8 0zm16 0zm-118 1zm4 0zm10 0zm30 0zm20 0zm19 0zm12 0zm86 0zm-209 1zm64 0zm41 0zm8 0zm6 0zm-44 1zm34 0zm-62 1zm69 0zm-86 1zm39 0zm-72 1zm37 2zm16 0zm20 0zm55 0zm-23 2zm24 0zm44 0zm1 0zm56 0zm-259 1zm25 0zm5 0zm152 0zm-94 1zm39 0zm33 0zm-104 1zm46 0zm15 0zm65 0zm-82 1zm35 1zm54 0zm-93 1zm-131 1zm96 0zm73 0zm15 0zm-93 1zm38 0zm15 0zm-51 1zm81 0zm34 0zm-56 1zm66 0zm-138 1zm6 0zm64 0zm9 0zm110 0zm-223 2zm124 0zm56 0zm-213 1zm56 0zm58 0zm-1 1zm49 0zm-66 1zm11 0zm11 0zm0 0zm15 0zm19 1zm-76 1zm11 0zm13 0zm-9 1zm23 0zm26 0zm10 1zm56 0zm-136 1zm6 2zm4 0zm51 0zm77 0zm-53 1zm20 1zm-9 1zm-66 1zm70 0zm-50 1zm81 0zm-139 1zm31 0zm43 0zm17 0zm-65 1zm62 0zm-63 1zm20 0zm-39 1zm64 0zm69 0zm-138 1zm13 0zm26 0zm27 2zm-69 1zm57 0zm4 0zm8 1zm28 0zm-121 1zm122 0zm-157 1zm137 0zm-11 1zm66 0zm-82 1zm14 0zm21 0zm46 0zm-136 1zm-61 1zm78 0zm11 1zm15 0zm26 0zm14 0zm-90 1zm71 0zm45 0zm-59 1zm-36 1zm14 0zm75 0zm-28 1zm-76 1zm97 0zm13 0zm-94 1zm95 1zm53 0zm-21 1zm-82 1zm79 0zm-43 1zm33 0zm18 0zm-203 1zm55 0zm21 0zm49 0zm165 0zm-218 1zm3 0zm44 0zm-67 2zm14 0zm21 0zm97 0zm-37 1zm46 0zm-147 1zm0 0zm76 3zm57 0zm-29 1zm-70 1zm35 0zm70 0zm-111 1zm89 0zm-90 1zm3 0zm4 0zm-32 1zm46 0zm30 1zm-42 1zm29 0zm0 0zm-47 1zm2 0zm49 0zm-31 1zm12 0zm96 0zm11 0zm-174 1zm20 0zm-84 1zm120 0zm9 1zm57 0zm-108 1zm9 0zm-22 2zm38 0zm37 0zm-46 1zm-7 1zm-74 2zm53 0zm24 3zm144 0zm-180 1zm10 0zm108 0zm33 0zm-133 1zm7 0zm-48 1zm61 1zm52 0zm-80 1zm20 0zm77 1zm28 0zm63 1zm-129 1zm-60 1zm5 1zm25 1zm-13 1zm111 0zm91 2zm-235 2zm41 2zm131 1zm-133 1zm61 1zm-127 1zm7 1zm76 3zm-64 2zm32 0zm-19 2zm-5 3zm37 0zm113 0zm-38 3zm-69 2zm-18 1zm127 0zm119 1zm-124 1zm-119 3zm30 1zm-74 2zm135 1zm-2 2zm52 2zm-132 1zm150 0zm-79 1zm-155 2zm61 1zm89 0zm-163 2zm28 1zm46 1zm24 4zm18 1zm-107 3zm195 1zm-109 4zm-131 1zm194 1zm-122 4zm0 3zm15 14zm122 2zm-1 2zm-60 7zm-24 3zm-28 1zm140 9zm-24 3zm116 9zm-63 17zm-121 10zm-93 15z"/><path d="M1117 7zm28 1zm-3 1zm29 0zm-87 4zm119 0zm-99 2zm137 0zm-12 1zm19 0zm-319 1zm227 0zm21 1zm138 1zm-130 2zm72 0zm-104 1zm-81 1zm93 1zm20 0zm-149 2zm44 0zm175 0zm-237 1zm224 0zm45 1zm-62 2zm-49 2zm69 2zm-76 1zm76 3zm-8 1zm15 4zm-102 1zm86 1zm73 0zm-116 2zm40 0zm-180 2zm83 0zm67 1zm21 0zm-67 1zm-40 1zm-115 2zm188 1zm29 0zm-9 1zm5 1zm-3 1zm3 1zm-265 2zm124 2zm134 0zm17 0zm-168 2zm29 0zm43 0zm5 0zm48 0zm-50 1zm116 0zm-73 1zm91 0zm10 0zm-93 1zm2 0zm1 0zm23 0zm-46 1zm-134 2zm11 0zm115 0zm57 0zm-18 1zm22 0zm10 0zm-107 1zm99 0zm-219 2zm23 0zm154 0zm40 0zm2 0zm2 1zm-157 1zm124 0zm-379 1zm364 0zm41 0zm11 0zm-77 1zm35 0zm17 0zm26 0zm-89 1zm87 0zm-97 1zm9 0zm108 0zm-35 1zm-41 1zm11 0zm-3 1zm44 0zm-40 1zm34 0zm-140 1zm83 0zm33 0zm17 0zm20 0zm-100 1zm84 1zm27 0zm-246 1zm153 0zm7 0zm42 0zm2 0zm2 0zm9 0zm46 0zm-213 1zm11 0zm28 0zm82 0zm34 0zm1 0zm17 0zm-12 1zm10 0zm15 0zm-39 1zm24 0zm11 0zm-40 1zm2 0zm1 0zm51 0zm-55 1zm-35 1zm28 0zm18 0zm20 0zm18 0zm26 0zm-73 1zm11 0zm13 0zm15 0zm16 0zm-57 1zm-47 1zm31 1zm88 1zm-117 1zm6 0zm28 0zm18 0zm21 0zm-183 1zm56 0zm76 0zm5 0zm14 0zm10 0zm30 0zm-119 1zm38 0zm9 0zm35 0zm49 0zm-170 1zm89 0zm1 1zm1 0zm37 0zm20 0zm11 0zm33 0zm-149 1zm39 0zm83 0zm-234 1zm169 0zm21 0zm10 0zm15 0zm28 0zm-101 1zm29 0zm30 0zm41 0zm-165 1zm31 0zm44 0zm74 0zm-121 1zm119 0zm3 0zm4 0zm41 0zm18 0zm-137 1zm17 0zm5 0zm48 0zm-160 1zm83 0zm-69 1zm68 0zm4 0zm6 0zm12 0zm5 0zm5 0zm20 0zm16 0zm-12 1zm53 0zm-153 1zm77 0zm39 0zm3 0zm14 0zm-98 1zm17 0zm14 0zm1 0zm8 0zm2 0zm4 0zm19 0zm1 0zm6 0zm-98 1zm4 0zm67 0zm19 0zm58 0zm-127 1zm8 0zm27 0zm3 0zm13 0zm2 0zm1 0zm14 0zm2 0zm21 0zm-165 1zm75 0zm49 0zm39 0zm28 0zm-89 1zm10 0zm20 0zm6 0zm24 0zm-128 1zm66 0zm13 0zm3 0zm8 0zm39 0zm26 0zm-110 1zm20 0zm21 0zm31 0zm3 0zm11 0zm-72 1zm16 0zm33 0zm26 0zm-179 1zm58 0zm59 0zm11 0zm6 0zm6 0zm5 0zm26 0zm-33 1zm42 0zm-116 1zm37 0zm26 0zm39 0zm38 0zm2 0zm-238 1zm61 0zm17 0zm79 0zm4 0zm31 0zm12 0zm13 0zm-252 1zm122 0zm31 0zm19 0zm35 0zm7 0zm58 0zm-135 1zm60 0zm6 0zm14 0zm42 0zm-158 1zm79 0zm4 0zm5 0zm26 0zm49 0zm-90 1zm8 0zm16 0zm2 0zm25 0zm12 0zm-154 1zm1 0zm116 0zm15 0zm-38 1zm28 0zm7 0zm7 0zm14 0zm15 0zm19 0zm-133 1zm11 0zm25 0zm25 0zm23 0zm45 0zm-103 1zm8 0zm19 0zm13 0zm8 0zm5 0zm-56 1zm9 0zm33 0zm12 0zm0 0zm6 0zm6 0zm9 0zm2 0zm9 0zm-97 1zm19 0zm40 0zm28 0zm9 0zm-59 1zm2 0zm19 0zm6 0zm11 0zm3 0zm6 0zm6 0zm6 0zm-83 1zm67 0zm42 0zm-209 1zm110 0zm9 0zm18 0zm20 0zm0 0zm1 0zm-56 1zm24 0zm1 0zm23 0zm2 0zm5 0zm43 0zm-83 1zm6 0zm8 0zm0 0zm15 0zm12 0zm11 0zm27 0zm-82 1zm9 0zm9 0zm6 0zm2 0zm14 0zm34 0zm-239 1zm195 0zm15 0zm5 0zm9 0zm5 0zm-109 1zm15 0zm38 0zm15 0zm5 0zm2 0zm62 0zm-87 1zm1 0zm7 0zm10 0zm35 0zm2 0zm-151 1zm28 0zm46 0zm15 0zm10 0zm8 0zm19 0zm25 0zm72 0zm-165 1zm22 0zm23 0zm16 0zm54 0zm-118 1zm43 0zm7 0zm25 0zm16 0zm10 0zm12 0zm-131 1zm55 0zm17 0zm9 0zm2 0zm13 0zm2 0zm3 0zm18 0zm-220 1zm31 0zm65 0zm46 0zm15 0zm23 0zm12 0zm-151 1zm91 0zm38 0zm7 0zm6 0zm3 0zm4 0zm28 0zm12 0zm-270 1zm90 0zm43 0zm13 0zm3 0zm56 0zm1 0zm35 0zm12 0zm-121 1zm41 0zm11 0zm28 0zm16 0zm13 0zm-100 1zm17 0zm39 0zm7 0zm6 0zm3 0zm17 0zm12 0zm12 0zm-116 1zm12 0zm20 0zm7 0zm62 0zm6 0zm-143 1zm69 0zm3 0zm17 0zm2 0zm42 0zm-61 1zm59 0zm38 0zm-263 1zm106 0zm45 0zm16 0zm19 0zm2 0zm8 0zm4 0zm19 0zm13 0zm9 0zm15 0zm-98 1zm1 0zm29 0zm18 0zm-18 1zm14 0zm5 0zm5 0zm6 0zm6 0zm3 0zm15 0zm-260 1zm200 0zm5 0zm2 0zm12 0zm9 0zm56 0zm-161 1zm8 0zm44 0zm25 0zm8 0zm3 0zm5 0zm4 0zm8 0zm10 0zm-75 1zm48 0zm0 0zm4 0zm1 0zm7 0zm4 0zm14 0zm4 0zm1 0zm1 0zm-120 1zm15 0zm0 0zm2 0zm35 0zm30 0zm4 0zm9 0zm4 0zm9 0zm-135 1zm68 0zm25 0zm1 0zm3 0zm15 0zm13 0zm4 0zm33 0zm27 0zm-184 1zm50 0zm44 0zm7 0zm3 0zm35 0zm45 0zm-88 1zm6 0zm7 0zm6 0zm19 0zm14 0zm-112 1zm40 0zm10 0zm6 0zm3 0zm5 0zm13 0zm20 0zm4 0zm4 0zm6 0zm-68 1zm10 0zm1 0zm4 0zm3 0zm3 0zm1 0zm0 0zm16 0zm7 0zm22 0zm39 0zm-90 1zm6 0zm16 0zm5 0zm4 0zm2 0zm5 0zm13 0zm-205 1zm50 0zm48 0zm6 0zm1 0zm24 0zm4 0zm13 0zm15 0zm11 0zm2 0zm5 0zm4 0zm2 0zm-22 1zm8 0zm6 0zm1 0zm3 0zm64 0zm12 0zm-162 1zm32 0zm21 0zm8 0zm2 0zm3 0zm1 0zm8 0zm13 0zm18 0zm21 0zm-81 1zm15 0zm3 0zm8 0zm8 0zm2 0zm5 0zm5 0zm6 0zm11 0zm46 0zm-201 1zm4 0zm17 0zm49 0zm14 0zm6 0zm2 0zm2 0zm23 0zm0 0zm1 0zm4 0zm21 0zm9 0zm10 0zm6 0zm-139 1zm43 0zm14 0zm18 0zm20 0zm1 0zm17 0zm-101 1zm30 0zm21 0zm1 0zm10 0zm15 0zm14 0zm13 0zm-208 1zm100 0zm63 0zm46 0zm13 0zm4 0zm-80 1zm19 0zm21 0zm0 0zm9 0zm16 0zm-80 1zm37 0zm0 0zm7 0zm4 0zm14 0zm0 0zm1 0zm4 0zm2 0zm15 0zm10 0zm10 0zm-117 1zm4 0zm6 0zm27 0zm10 0zm4 0zm31 0zm-43 1zm3 0zm3 0zm2 0zm3 0zm6 0zm23 0zm13 0zm3 0zm3 0zm3 0zm13 0zm44 0zm-224 1zm71 0zm13 0zm8 0zm3 0zm18 0zm17 0zm12 0zm2 0zm2 0zm9 0zm-105 1zm25 0zm7 0zm16 0zm1 0zm17 0zm7 0zm7 0zm1 0zm16 0zm12 0zm7 0zm6 0zm12 0zm-76 1zm11 0zm18 0zm2 0zm8 0zm-138 1zm39 0zm4 0zm6 0zm35 0zm2 0zm11 0zm12 0zm24 0zm16 0zm16 0zm-86 1zm18 0zm3 0zm0 0zm7 0zm3 0zm11 0zm0 0zm13 0zm13 0zm7 0zm3 0zm-176 1zm28 0zm57 0zm22 0zm33 0zm3 0zm18 0zm5 0zm39 0zm-98 1zm14 0zm29 0zm-92 1zm50 0zm4 0zm14 0zm18 0zm2 0zm0 0zm16 0zm-56 1zm9 0zm5 0zm2 0zm21 0zm30 0zm8 0zm-208 1zm64 0zm43 0zm23 0zm26 0zm7 0zm8 0zm0 0zm-34 1zm1 0zm16 0zm5 0zm3 0zm4 0zm8 0zm2 0zm13 0zm10 0zm-155 1zm9 0zm3 0zm54 0zm1 0zm11 0zm0 0zm12 0zm40 0zm1 0zm6 0zm1 0zm4 0zm48 0zm14 0zm-254 1zm61 0zm82 0zm15 0zm25 0zm18 0zm-104 1zm25 0zm31 0zm13 0zm33 0zm1 0zm-144 1zm33 0zm1 0zm60 0zm19 0zm6 0zm13 0zm3 0zm-68 1zm33 0zm12 0zm6 0zm14 0zm4 0zm3 0zm25 0zm-161 1zm21 0zm25 0zm5 0zm15 0zm5 0zm42 0zm22 0zm-89 1zm1 0zm9 0zm23 0zm11 0zm13 0zm-107 1zm44 0zm47 0zm3 0zm12 0zm1 0zm9 0zm10 0zm122 0zm-192 1zm10 0zm6 0zm18 0zm4 0zm23 0zm8 0zm1 0zm6 0zm10 0zm-234 1zm154 0zm5 0zm5 0zm27 0zm11 0zm18 0zm10 0zm-157 1zm21 0zm41 0zm14 0zm4 0zm4 0zm16 0zm8 0zm4 0zm41 0zm19 0zm-91 1zm4 0zm17 0zm11 0zm12 0zm16 0zm31 0zm-130 1zm20 0zm6 0zm43 0zm15 0zm8 0zm0 0zm12 0zm13 0zm-107 1zm33 0zm4 0zm2 0zm13 0zm41 0zm21 0zm-171 1zm3 0zm17 0zm8 0zm60 0zm1 0zm5 0zm2 0zm16 0zm3 0zm15 0zm15 0zm17 0zm5 0zm5 0zm-91 1zm2 0zm28 0zm3 0zm6 0zm37 0zm6 0zm-100 1zm54 0zm1 0zm6 0zm1 0zm3 0zm36 0zm6 0zm-134 1zm5 0zm43 0zm1 0zm7 0zm8 0zm14 0zm28 0zm2 0zm19 0zm-132 1zm26 0zm10 0zm12 0zm12 0zm33 0zm10 0zm2 0zm1 0zm7 0zm-87 1zm39 0zm16 0zm32 0zm14 0zm6 0zm3 0zm1 0zm-182 1zm70 0zm11 0zm2 0zm9 0zm8 0zm55 0zm-149 1zm99 0zm17 0zm0 0zm2 0zm9 0zm4 0zm38 0zm10 0zm-174 1zm33 0zm35 0zm2 0zm29 0zm12 0zm0 0zm18 0zm15 0zm2 0zm0 0zm23 0zm-288 1zm198 0zm18 0zm5 0zm1 0zm20 0zm10 0zm20 0zm-93 1zm40 0zm10 0zm9 0zm8 0zm-96 1zm52 0zm18 0zm7 0zm1 0zm75 0zm-123 1zm19 0zm2 0zm11 0zm9 0zm18 0zm2 0zm5 0zm27 0zm-124 1zm39 0zm6 0zm19 0zm5 0zm24 0zm3 0zm10 0zm37 0zm-154 1zm31 0zm0 0zm56 0zm3 0zm9 0zm6 0zm5 0zm14 0zm42 0zm-188 1zm66 0zm13 0zm2 0zm22 0zm34 0zm3 0zm25 0zm30 0zm-156 1zm43 0zm20 0zm28 0zm15 0zm-160 1zm86 0zm51 0zm23 0zm-126 1zm62 0zm10 0zm15 0zm11 0zm5 0zm11 0zm5 0zm28 0zm1 0zm19 0zm-220 1zm54 0zm36 0zm37 0zm5 0zm14 0zm7 0zm0 0zm30 0zm32 0zm-152 1zm24 0zm49 0zm5 0zm6 0zm13 0zm14 0zm1 0zm-138 1zm24 0zm30 0zm3 0zm8 0zm5 0zm12 0zm0 0zm24 0zm15 0zm8 0zm1 0zm6 0zm-128 1zm38 0zm9 0zm45 0zm12 0zm3 0zm19 0zm6 0zm28 0zm18 0zm11 0zm-164 1zm28 0zm25 0zm21 0zm14 0zm0 0zm40 0zm-89 1zm5 0zm10 0zm13 0zm35 0zm0 0zm5 0zm-131 1zm10 0zm9 0zm58 0zm2 0zm12 0zm25 0zm5 0zm20 0zm30 0zm-182 1zm51 0zm2 0zm8 0zm2 0zm1 0zm0 0zm5 0zm11 0zm7 0zm5 0zm1 0zm8 0zm8 0zm16 0zm21 0zm1 0zm5 0zm-172 1zm0 0zm24 0zm67 0zm27 0zm1 0zm45 0zm-162 1zm8 0zm76 0zm2 0zm1 0zm-51 1zm18 0zm14 0zm14 0zm7 0zm6 0zm1 0zm27 0zm9 0zm5 0zm-134 1zm95 0zm29 0zm16 0zm13 0zm1 0zm23 0zm-158 1zm5 0zm54 0zm34 0zm9 0zm27 0zm13 0zm-111 1zm3 0zm51 0zm3 0zm9 0zm9 0zm11 0zm0 0zm-103 1zm61 0zm10 0zm23 0zm1 0zm4 0zm2 0zm2 0zm-129 1zm5 0zm57 0zm28 0zm8 0zm8 0zm7 0zm4 0zm12 0zm34 0zm-133 1zm37 0zm5 0zm59 0zm-90 1zm15 0zm29 0zm25 0zm5 0zm0 0zm9 0zm4 0zm28 0zm46 0zm-216 1zm8 0zm31 0zm42 0zm6 0zm9 0zm42 1zm5 0zm31 0zm-135 1zm5 0zm58 0zm0 0zm30 0zm11 0zm-137 1zm28 0zm31 0zm1 0zm4 0zm6 0zm54 0zm-100 1zm24 0zm20 0zm6 0zm18 0zm54 0zm57 0zm-160 1zm57 0zm1 0zm20 0zm2 0zm6 0zm-106 1zm89 0zm14 0zm-122 1zm19 0zm72 0zm5 0zm0 0zm41 0zm8 0zm-84 1zm4 0zm4 0zm3 0zm57 0zm-122 1zm69 0zm1 0zm17 0zm24 0zm18 0zm23 0zm13 0zm-145 1zm6 0zm27 0zm16 0zm16 0zm0 0zm13 0zm93 0zm-143 1zm9 0zm12 0zm27 0zm-40 1zm8 0zm14 0zm7 0zm0 0zm5 0zm40 0zm3 0zm11 0zm3 0zm31 0zm-174 1zm69 0zm36 0zm33 0zm11 0zm-126 1zm37 0zm59 0zm-84 1zm6 0zm43 0zm3 0zm41 0zm6 0zm-163 1zm22 0zm26 0zm20 0zm12 0zm3 0zm16 0zm1 0zm10 0zm37 0zm-157 1zm25 0zm80 0zm6 0zm10 0zm44 0zm-172 1zm93 0zm20 0zm18 0zm5 0zm14 0zm4 0zm-111 1zm72 0zm28 0zm1 0zm1 0zm16 0zm-112 1zm23 0zm18 0zm15 0zm4 0zm7 0zm0 0zm19 0zm-69 1zm24 0zm11 0zm6 0zm5 0zm27 0zm28 0zm-212 1zm147 0zm11 0zm16 0zm19 0zm48 0zm-131 1zm41 0zm19 0zm32 0zm16 0zm-68 1zm88 0zm-138 1zm33 0zm5 0zm51 0zm21 0zm-29 1zm11 0zm-39 1zm9 0zm34 0zm1 0zm20 0zm54 0zm-184 1zm58 0zm10 0zm0 0zm13 0zm11 0zm13 0zm30 0zm-125 1zm10 0zm37 0zm13 0zm25 0zm35 0zm-116 1zm34 0zm44 0zm-125 1zm18 0zm83 0zm9 0zm1 0zm3 0zm100 0zm-158 1zm25 0zm5 0zm32 0zm2 0zm71 0zm-89 1zm19 0zm-69 1zm16 0zm27 0zm-49 1zm10 0zm34 0zm30 0zm5 0zm4 0zm38 0zm-109 1zm6 0zm13 0zm39 0zm-83 1zm2 0zm48 0zm13 0zm12 0zm-69 1zm8 0zm38 0zm1 0zm3 0zm3 0zm20 0zm2 0zm26 0zm60 0zm-205 1zm34 0zm28 0zm31 0zm3 0zm12 0zm-61 1zm14 0zm28 0zm14 0zm17 0zm27 0zm-65 1zm14 0zm22 0zm20 0zm-83 1zm48 0zm62 0zm-156 1zm92 0zm19 0zm-83 1zm39 0zm-41 1zm-22 1zm-169 1zm161 0zm9 0zm16 0zm14 0zm25 0zm5 0zm14 0zm7 0zm17 0zm2 0zm3 0zm8 0zm-255 1zm260 0zm14 0zm-161 1zm98 0zm7 0zm40 0zm16 0zm-104 1zm9 0zm64 0zm26 0zm94 0zm-220 1zm23 0zm43 0zm4 0zm33 0zm30 0zm12 0zm-79 1zm54 0zm48 0zm-197 1zm33 0zm9 0zm22 0zm19 0zm16 0zm5 0zm80 0zm-99 1zm10 0zm-23 1zm28 0zm8 0zm0 0zm29 0zm8 0zm-132 1zm36 0zm19 0zm36 0zm15 0zm15 0zm0 1zm3 0zm51 0zm-129 1zm18 0zm28 0zm26 0zm-109 1zm38 0zm24 0zm23 0zm2 0zm11 0zm-59 1zm35 0zm0 0zm7 0zm7 0zm13 0zm51 0zm-113 1zm59 0zm31 0zm-115 1zm52 0zm9 0zm7 0zm6 0zm-52 1zm8 0zm100 0zm-193 1zm93 0zm61 0zm28 0zm-78 1zm9 0zm21 0zm9 0zm9 0zm3 0zm3 0zm20 0zm0 0zm38 0zm-210 1zm89 0zm8 0zm29 0zm8 0zm4 0zm-62 1zm80 0zm15 0zm-54 1zm4 0zm31 0zm-165 1zm102 0zm44 0zm-169 1zm106 0zm8 0zm71 0zm-85 1zm33 0zm16 0zm-14 1zm26 0zm-56 1zm19 0zm11 0zm6 0zm41 0zm13 0zm-46 1zm7 0zm34 0zm12 0zm-179 1zm150 0zm37 1zm-148 1zm31 0zm27 0zm82 0zm-40 1zm-43 1zm2 0zm50 0zm7 0zm-138 1zm80 0zm2 0zm22 0zm2 0zm-114 1zm84 1zm5 0zm52 0zm-117 1zm1 0zm64 1zm-63 1zm56 0zm31 0zm47 0zm-113 1zm12 0zm55 0zm-36 1zm54 0zm89 0zm-240 1zm71 0zm0 0zm2 0zm47 0zm21 0zm8 0zm-76 1zm19 0zm32 0zm40 0zm8 0zm-97 1zm76 0zm28 0zm-90 1zm20 0zm12 0zm-59 1zm50 0zm5 0zm2 0zm-34 1zm7 0zm3 0zm4 0zm62 0zm96 0zm-177 1zm11 0zm113 0zm-154 1zm54 0zm-3 2zm13 0zm7 0zm4 0zm0 0zm-31 1zm2 0zm1 0zm39 1zm-169 1zm115 0zm6 0zm5 0zm36 0zm-44 1zm12 0zm12 0zm26 0zm18 0zm-110 1zm45 0zm6 0zm28 0zm113 0zm-159 1zm21 0zm15 0zm20 0zm98 0zm-200 1zm23 0zm11 0zm20 1zm-51 1zm42 0zm7 0zm80 0zm55 0zm-189 1zm35 0zm21 0zm56 0zm23 0zm85 0zm-160 1zm8 0zm18 0zm48 0zm-105 1zm14 0zm186 0zm-151 1zm37 0zm-90 1zm43 0zm-32 1zm6 1zm15 0zm19 0zm-21 1zm151 0zm-136 1zm-84 1zm14 0zm27 1zm66 0zm-53 1zm29 0zm6 0zm-68 1zm12 0zm8 0zm17 0zm10 0zm85 0zm-62 1zm26 0zm39 0zm50 0zm-110 1zm17 0zm-41 1zm1 0zm-22 1zm8 0zm51 0zm61 0zm-112 1zm39 0zm-34 1zm52 0zm-32 1zm18 0zm8 0zm-76 1zm63 0zm-67 1zm14 0zm25 0zm60 0zm-54 3zm17 0zm36 0zm-99 1zm24 0zm8 0zm-24 1zm14 0zm77 0zm-16 1zm-99 1zm84 0zm-42 1zm26 0zm14 1zm67 0zm-118 1zm-72 1zm56 0zm7 0zm61 0zm-56 1zm15 1zm54 0zm28 1zm-90 1zm1 0zm185 0zm-108 1zm-82 1zm28 2zm-14 1zm21 1zm24 0zm40 0zm-122 1zm57 0zm-31 1zm-10 1zm-27 1zm36 0zm36 0zm-5 1zm-57 2zm29 0zm72 0zm-79 5zm47 0zm28 1zm-96 1zm55 0zm-36 1zm-110 1zm75 0zm55 0zm66 0zm-73 1zm16 0zm-4 1zm-68 2zm44 0zm63 0zm-64 1zm9 0zm39 0zm82 0zm-81 1zm-66 5zm42 0zm51 0zm-115 1zm37 0zm119 0zm-37 1zm-136 2zm44 0zm-65 1zm118 0zm77 0zm-258 1zm18 0zm88 1zm-71 1zm42 0zm-20 1zm26 2zm33 0zm33 2zm-41 2zm13 1zm-51 1zm119 0zm-56 1zm11 0zm-56 1zm3 0zm52 0zm16 0zm-7 2zm-103 1zm37 0zm49 0zm96 0zm-128 1zm20 0zm167 0zm-115 1zm4 0zm-47 1zm-31 1zm47 1zm-22 1zm-39 5zm-29 1zm164 0zm-173 2zm175 2zm-103 1zm4 1zm178 1zm-269 7zm22 3zm48 2zm3 2zm103 2zm-79 2zm-86 7zm10 1zm84 2zm-118 1zm52 3zm12 6zm-39 5zm4 1zm52 2zm-5 6zm142 4zm-118 7zm-93 4zm144 1zm20 4zm110 6zm-255 2zm-86 7zm273 9zm-29 14zm-98 1zm-51 14z"/><path d="M1205 7zm27 2zm-156 2zm161 5zm-38 3zm42 2zm-22 2zm-69 2zm-42 3zm185 0zm-186 1zm118 3zm-5 1zm-4 1zm5 0zm-171 2zm100 3zm122 0zm-24 1zm-22 1zm-48 2zm53 0zm-96 1zm77 1zm22 1zm-140 1zm83 0zm5 0zm-63 1zm89 0zm-82 1zm78 3zm-129 1zm186 0zm-117 3zm97 0zm-43 1zm-25 1zm34 1zm-12 1zm28 0zm12 0zm-252 2zm154 0zm6 2zm121 0zm-58 2zm1 2zm-24 1zm16 1zm33 0zm16 0zm18 0zm-131 2zm74 0zm19 0zm21 0zm-234 1zm28 0zm15 0zm75 0zm83 0zm9 0zm-58 3zm3 0zm7 0zm5 0zm24 0zm16 0zm3 0zm-125 1zm68 0zm33 0zm4 0zm28 0zm-207 1zm156 0zm34 0zm3 1zm26 0zm-136 1zm82 0zm8 0zm14 1zm28 0zm16 0zm-69 1zm25 0zm-119 1zm37 0zm-50 1zm131 0zm31 0zm32 0zm-156 1zm18 0zm52 0zm22 0zm12 0zm11 0zm-174 1zm18 0zm12 0zm105 0zm4 1zm-13 1zm7 1zm12 0zm7 0zm-128 1zm44 0zm65 0zm10 0zm-57 1zm25 0zm22 0zm24 0zm10 0zm-99 1zm60 0zm6 0zm33 0zm-106 2zm69 0zm7 0zm-158 1zm111 0zm37 0zm8 0zm20 0zm-65 1zm55 0zm18 0zm1 0zm19 0zm-134 1zm12 0zm14 0zm32 0zm13 0zm1 0zm4 0zm-184 1zm124 0zm54 0zm42 0zm4 0zm2 0zm-110 1zm58 0zm-1 1zm-28 1zm77 0zm-123 1zm109 0zm25 0zm0 0zm-73 1zm1 0zm25 0zm51 0zm-140 1zm20 0zm49 0zm8 0zm21 0zm4 0zm-79 1zm26 0zm33 0zm37 0zm10 0zm3 0zm12 0zm-65 1zm46 0zm8 0zm16 0zm-173 1zm75 0zm69 0zm-44 1zm12 0zm1 0zm18 0zm9 0zm42 0zm-88 1zm5 0zm51 0zm-110 1zm43 0zm32 0zm24 0zm-124 1zm20 0zm48 0zm16 0zm7 0zm66 0zm-102 1zm36 0zm3 0zm10 0zm35 0zm-164 1zm46 0zm2 0zm43 0zm17 0zm3 0zm23 0zm-194 1zm113 0zm47 0zm8 0zm26 0zm24 0zm1 0zm18 0zm-189 1zm103 0zm29 0zm-139 1zm127 0zm2 0zm5 0zm3 0zm34 0zm-81 1zm43 0zm6 0zm-100 1zm53 0zm12 0zm8 0zm43 0zm12 0zm13 0zm-78 1zm3 0zm-108 1zm110 0zm18 0zm27 0zm9 0zm5 0zm10 0zm-175 1zm26 0zm89 0zm16 0zm7 0zm34 0zm18 0zm-150 1zm81 0zm5 0zm8 0zm7 0zm-140 1zm13 0zm12 0zm53 0zm3 0zm42 0zm6 0zm4 0zm-85 1zm65 0zm13 0zm22 0zm8 0zm1 0zm1 0zm33 0zm-55 1zm15 0zm26 0zm26 0zm-127 1zm45 0zm19 0zm5 0zm9 0zm35 0zm-115 1zm14 0zm15 0zm14 0zm5 0zm11 0zm0 0zm3 0zm31 0zm13 0zm23 0zm-140 1zm40 0zm25 0zm3 0zm1 0zm8 0zm-15 1zm2 0zm45 0zm5 0zm-144 1zm38 0zm36 0zm0 0zm3 0zm9 0zm0 0zm6 0zm-42 1zm42 0zm8 0zm1 0zm22 0zm3 0zm9 0zm2 0zm-49 1zm18 0zm-164 1zm137 0zm10 0zm8 0zm24 0zm-127 1zm88 0zm2 0zm18 0zm12 0zm13 0zm4 0zm-104 1zm6 0zm44 0zm10 0zm12 0zm35 0zm11 0zm-107 1zm43 0zm1 0zm42 0zm16 0zm-102 1zm12 0zm22 0zm1 0zm3 0zm6 0zm9 0zm-150 1zm132 0zm3 0zm37 0zm9 0zm3 0zm2 0zm-159 1zm71 0zm24 0zm7 0zm5 0zm23 0zm13 0zm5 0zm5 0zm6 0zm-166 1zm91 0zm8 0zm19 0zm-29 1zm1 0zm14 0zm15 0zm2 0zm11 0zm3 0zm5 0zm3 0zm1 0zm8 0zm7 0zm12 0zm3 0zm13 0zm-115 1zm30 0zm24 0zm18 0zm1 0zm-62 1zm35 0zm3 0zm9 0zm2 0zm12 0zm5 0zm9 0zm2 0zm14 0zm11 0zm0 0zm-110 1zm43 0zm6 0zm16 0zm5 0zm4 0zm-83 1zm13 0zm7 0zm13 0zm13 0zm5 0zm6 0zm60 0zm10 0zm-149 1zm23 0zm15 0zm26 0zm4 0zm23 0zm12 0zm3 0zm5 0zm5 0zm-238 1zm186 0zm14 0zm4 0zm8 0zm2 0zm17 0zm12 0zm13 0zm-177 1zm112 0zm14 0zm4 0zm4 0zm10 0zm10 0zm-74 1zm2 0zm16 0zm13 0zm22 0zm22 0zm30 0zm-126 1zm73 0zm2 0zm1 0zm12 0zm8 0zm8 0zm2 0zm3 0zm-38 1zm4 0zm10 0zm8 0zm-69 1zm8 0zm4 0zm9 0zm1 0zm5 0zm0 0zm0 0zm2 0zm1 0zm8 0zm32 0zm1 0zm47 0zm-115 1zm4 0zm1 0zm9 0zm14 0zm5 0zm1 0zm16 0zm16 0zm6 0zm17 0zm-60 1zm22 0zm9 0zm17 0zm-84 1zm5 0zm34 0zm7 0zm0 0zm9 0zm8 0zm19 0zm3 0zm6 0zm8 0zm-163 1zm67 0zm3 0zm5 0zm10 0zm3 0zm6 0zm13 0zm14 0zm5 0zm3 0zm-93 1zm52 0zm9 0zm1 0zm9 0zm7 0zm44 0zm6 0zm-178 1zm69 0zm44 0zm3 0zm6 0zm29 0zm7 0zm42 0zm-196 1zm34 0zm38 0zm10 0zm33 0zm14 0zm7 0zm17 0zm2 0zm-107 1zm19 0zm5 0zm15 0zm21 0zm17 0zm3 0zm19 0zm-86 1zm10 0zm5 0zm13 0zm1 0zm19 0zm5 0zm12 0zm9 0zm2 0zm7 0zm-158 1zm74 0zm37 0zm0 0zm18 0zm1 0zm4 0zm18 0zm3 0zm20 0zm3 0zm-97 1zm21 0zm17 0zm3 0zm22 0zm2 0zm4 0zm16 0zm-148 1zm23 0zm41 0zm34 0zm11 0zm12 0zm45 0zm-165 1zm36 0zm3 0zm38 0zm13 0zm2 0zm37 0zm0 0zm-129 1zm90 0zm26 0zm20 0zm16 0zm-167 1zm92 0zm29 0zm11 0zm17 0zm8 0zm1 0zm-191 1zm68 0zm42 0zm13 0zm10 0zm11 0zm13 0zm22 0zm-80 1zm9 0zm1 0zm11 0zm4 0zm6 0zm30 0zm5 0zm-104 1zm55 0zm14 0zm10 0zm12 0zm8 0zm2 0zm4 0zm1 0zm-108 1zm31 0zm9 0zm33 0zm4 0zm5 0zm1 0zm8 0zm3 0zm2 0zm10 0zm1 0zm6 0zm3 0zm9 0zm28 0zm19 0zm-130 1zm15 0zm35 0zm2 0zm9 0zm4 0zm6 0zm6 0zm20 0zm-107 1zm94 0zm12 0zm-109 1zm8 0zm0 0zm6 0zm1 0zm18 0zm5 0zm10 0zm4 0zm14 0zm2 0zm7 0zm54 0zm-124 1zm5 0zm6 0zm0 0zm21 0zm16 0zm8 0zm13 0zm21 0zm1 0zm-108 1zm5 0zm26 0zm4 0zm11 0zm25 0zm2 0zm16 0zm6 0zm-117 1zm56 0zm13 0zm2 0zm2 0zm9 0zm20 0zm0 0zm0 0zm16 0zm7 0zm-76 1zm14 0zm23 0zm5 0zm47 0zm-140 1zm29 0zm11 0zm11 0zm26 0zm17 0zm30 0zm16 0zm-131 1zm10 0zm19 0zm7 0zm11 0zm29 0zm6 0zm1 0zm9 0zm11 0zm11 0zm17 0zm14 0zm-78 1zm3 0zm0 0zm21 0zm40 0zm22 0zm-197 1zm48 0zm16 0zm5 0zm17 0zm22 0zm4 0zm5 0zm21 0zm1 0zm33 0zm7 0zm-181 1zm45 0zm52 0zm22 0zm9 0zm8 0zm14 0zm15 0zm5 0zm-147 1zm14 0zm2 0zm3 0zm14 0zm28 0zm6 0zm37 0zm9 0zm0 0zm10 0zm-180 1zm86 0zm10 0zm33 0zm5 0zm29 0zm1 0zm5 0zm17 0zm5 0zm16 0zm-86 1zm14 0zm6 0zm2 0zm5 0zm17 0zm16 0zm1 0zm3 0zm59 0zm-201 1zm63 0zm10 0zm10 0zm12 0zm6 0zm1 0zm8 0zm8 0zm11 0zm4 0zm8 0zm18 0zm-175 1zm75 0zm34 0zm35 0zm36 0zm-248 1zm148 0zm27 0zm8 0zm2 0zm20 0zm0 0zm0 0zm4 0zm8 0zm1 0zm28 0zm2 0zm2 0zm46 0zm-166 1zm5 0zm35 0zm4 0zm13 0zm6 0zm15 0zm2 0zm19 0zm30 0zm-195 1zm65 0zm38 0zm4 0zm30 0zm6 0zm7 0zm12 0zm16 0zm11 0zm-87 1zm3 0zm4 0zm14 0zm1 0zm6 0zm3 0zm2 0zm12 0zm7 0zm-57 1zm1 0zm10 0zm6 0zm11 0zm2 0zm50 0zm25 0zm-137 1zm12 0zm9 0zm6 0zm1 0zm13 0zm0 0zm9 0zm6 0zm34 0zm-71 1zm10 0zm3 0zm31 0zm13 0zm4 0zm2 0zm5 0zm10 0zm23 0zm-102 1zm15 0zm9 0zm7 0zm62 0zm-122 1zm56 0zm5 0zm15 0zm14 0zm11 0zm3 0zm11 0zm2 0zm-223 1zm77 0zm94 0zm5 0zm4 0zm11 0zm2 0zm16 0zm9 0zm2 0zm13 0zm13 0zm5 0zm-141 1zm22 0zm40 0zm11 0zm2 0zm-215 1zm140 0zm32 0zm24 0zm16 0zm5 0zm1 0zm39 0zm17 0zm-165 1zm34 0zm10 0zm2 0zm14 0zm9 0zm9 0zm4 0zm1 0zm3 0zm36 0zm-63 1zm19 0zm25 0zm3 0zm7 0zm19 0zm8 0zm4 0zm-220 1zm105 0zm30 0zm29 0zm24 0zm18 0zm13 0zm-139 1zm23 0zm29 0zm6 0zm16 0zm5 0zm21 0zm7 0zm13 0zm-147 1zm88 0zm51 0zm17 0zm-129 1zm32 0zm18 0zm3 0zm7 0zm25 0zm14 0zm11 0zm23 0zm-127 1zm31 0zm5 0zm4 0zm9 0zm35 0zm8 0zm-140 1zm93 0zm34 0zm9 0zm2 0zm5 0zm4 0zm14 0zm15 0zm42 0zm-170 1zm21 0zm21 0zm28 0zm12 0zm11 0zm2 0zm22 0zm-204 1zm97 0zm44 0zm17 0zm38 0zm12 0zm-189 1zm24 0zm52 0zm13 0zm41 0zm11 0zm23 0zm3 0zm12 0zm-136 1zm23 0zm12 0zm22 0zm23 0zm17 0zm30 0zm1 0zm5 0zm22 0zm-148 1zm13 0zm10 0zm25 0zm11 0zm29 0zm7 0zm8 0zm37 0zm7 0zm14 0zm-89 1zm23 0zm1 0zm5 0zm15 0zm7 0zm2 0zm31 0zm-204 1zm92 0zm26 0zm30 0zm5 0zm6 0zm35 0zm-161 1zm81 0zm8 0zm0 0zm1 0zm16 0zm0 0zm11 0zm6 0zm4 0zm5 0zm1 0zm3 0zm21 0zm-98 1zm17 0zm31 0zm1 0zm11 0zm-136 1zm14 0zm34 0zm10 0zm27 0zm19 0zm15 0zm8 0zm14 0zm37 0zm-161 1zm9 0zm25 0zm57 0zm25 0zm2 0zm19 0zm-206 1zm123 0zm8 0zm12 0zm28 0zm12 0zm42 0zm-197 1zm71 0zm15 0zm57 0zm16 0zm6 0zm30 0zm-153 1zm100 0zm28 0zm4 0zm8 0zm-202 1zm15 0zm49 0zm65 0zm25 0zm28 0zm5 0zm6 0zm13 0zm19 0zm-204 1zm90 0zm30 0zm2 0zm15 0zm6 0zm4 0zm10 0zm10 0zm-114 1zm48 0zm19 0zm27 0zm20 0zm14 0zm-161 1zm71 0zm4 0zm6 0zm34 0zm6 0zm2 0zm5 0zm1 0zm0 0zm12 0zm6 0zm2 0zm2 0zm-135 1zm54 0zm29 0zm3 0zm23 0zm10 0zm0 0zm14 0zm7 0zm-122 1zm49 0zm8 0zm9 0zm2 0zm10 0zm8 0zm30 0zm2 0zm1 0zm9 0zm10 0zm-109 1zm36 0zm10 0zm1 0zm26 0zm8 0zm5 0zm-70 1zm23 0zm18 0zm12 0zm1 0zm8 0zm13 0zm10 0zm28 0zm-198 1zm17 0zm80 0zm23 0zm31 0zm-188 1zm64 0zm24 0zm19 0zm14 0zm19 0zm8 0zm1 0zm1 0zm3 0zm17 0zm8 0zm3 0zm2 0zm1 0zm16 0zm1 0zm6 0zm9 0zm18 0zm-235 1zm48 0zm85 0zm10 0zm15 0zm5 0zm25 0zm-103 1zm9 0zm2 0zm7 0zm40 0zm21 0zm23 0zm7 0zm17 0zm69 0zm-318 1zm104 0zm68 0zm17 0zm0 0zm4 0zm1 0zm44 0zm-115 1zm28 0zm33 0zm4 0zm28 0zm13 0zm5 0zm6 0zm24 0zm51 0zm-174 1zm17 0zm6 0zm11 0zm1 0zm9 0zm1 0zm7 0zm-91 1zm25 0zm9 0zm124 0zm-160 1zm6 0zm42 0zm33 0zm2 0zm6 0zm4 0zm14 0zm16 0zm-131 1zm26 0zm13 0zm28 0zm14 0zm13 0zm13 0zm3 0zm37 0zm18 0zm-181 1zm90 0zm42 0zm6 0zm6 0zm22 0zm-161 1zm51 0zm4 0zm0 0zm15 0zm10 0zm34 0zm31 0zm19 0zm56 0zm-130 1zm4 0zm12 0zm4 0zm1 0zm11 0zm8 0zm8 0zm-112 1zm25 0zm2 0zm2 0zm22 0zm4 0zm9 0zm43 0zm7 0zm6 0zm14 0zm18 0zm-189 1zm48 0zm80 0zm30 0zm20 0zm-148 1zm19 0zm34 0zm39 0zm7 0zm-15 1zm7 0zm11 0zm37 0zm-177 1zm21 0zm28 0zm35 0zm25 0zm8 0zm31 0zm7 0zm13 0zm-163 1zm11 0zm90 0zm5 0zm23 0zm-199 1zm55 0zm79 0zm42 0zm0 0zm48 0zm-112 1zm9 0zm11 0zm44 0zm14 0zm3 0zm9 0zm10 0zm-117 1zm5 0zm51 0zm24 0zm67 0zm-134 1zm66 0zm26 0zm-185 1zm155 0zm3 0zm1 0zm35 0zm24 0zm7 0zm-134 1zm41 0zm17 0zm12 0zm10 0zm15 0zm-46 1zm9 0zm4 0zm8 0zm0 0zm17 0zm19 0zm-127 1zm25 0zm47 0zm18 0zm1 0zm7 0zm7 0zm50 0zm32 0zm-223 1zm89 0zm39 0zm33 0zm14 0zm-74 1zm7 0zm4 0zm4 0zm25 0zm5 0zm31 0zm-180 1zm57 0zm34 0zm45 0zm3 0zm-80 1zm62 0zm3 0zm3 0zm16 0zm2 0zm11 0zm-90 1zm61 0zm5 0zm7 0zm9 0zm1 0zm25 0zm-266 1zm191 0zm20 0zm14 0zm1 0zm64 0zm-141 1zm9 0zm7 0zm18 0zm22 0zm-35 1zm19 0zm1 0zm12 0zm12 0zm3 0zm4 0zm3 0zm16 0zm0 0zm2 0zm36 0zm-109 1zm32 0zm45 0zm-91 1zm3 0zm15 0zm6 0zm21 0zm11 0zm21 0zm2 0zm-92 1zm71 0zm12 0zm7 0zm8 0zm4 0zm18 0zm33 0zm-196 1zm57 0zm14 0zm15 0zm21 0zm68 0zm-76 1zm5 0zm34 0zm6 0zm6 0zm-113 1zm25 0zm41 0zm53 0zm9 0zm20 0zm-183 1zm20 0zm68 0zm7 0zm47 0zm15 0zm-111 1zm38 0zm9 0zm50 0zm-81 1zm40 0zm31 0zm82 0zm-131 1zm2 0zm24 0zm19 0zm-63 1zm47 0zm6 0zm1 0zm3 0zm28 0zm45 0zm-223 1zm61 0zm37 0zm8 0zm29 0zm17 0zm7 0zm2 0zm24 0zm46 0zm-127 1zm4 0zm12 0zm29 0zm56 0zm-211 1zm104 0zm57 0zm14 0zm1 0zm-146 1zm40 0zm55 0zm13 0zm15 0zm12 0zm18 0zm-154 1zm14 0zm66 0zm13 0zm7 0zm12 0zm45 0zm-112 1zm56 0zm1 0zm8 0zm29 0zm-115 1zm58 0zm1 0zm53 0zm-119 1zm50 0zm12 0zm2 0zm28 0zm-120 1zm68 0zm37 0zm-70 1zm64 0zm13 0zm10 0zm18 0zm13 0zm24 0zm-190 1zm12 0zm51 0zm43 0zm67 0zm-74 1zm1 0zm8 0zm14 0zm0 0zm5 0zm34 0zm17 0zm58 0zm-127 1zm5 0zm2 0zm25 0zm10 0zm29 0zm-148 1zm21 0zm39 0zm28 0zm1 0zm14 0zm112 0zm-193 1zm6 0zm30 0zm10 0zm19 0zm4 0zm13 0zm6 0zm37 0zm36 0zm46 0zm-242 1zm38 0zm10 0zm59 0zm6 0zm21 0zm39 0zm-216 1zm35 0zm99 0zm27 0zm5 0zm7 0zm-84 1zm14 0zm36 0zm12 0zm1 0zm25 0zm88 0zm-213 1zm114 0zm14 0zm-60 1zm2 0zm12 0zm16 0zm21 0zm7 0zm13 0zm30 0zm-126 1zm11 0zm12 0zm18 0zm2 0zm38 0zm15 0zm36 0zm-144 1zm7 0zm56 0zm23 0zm14 0zm27 0zm-73 1zm13 0zm5 0zm5 0zm11 0zm8 0zm-134 1zm32 0zm41 0zm10 0zm15 0zm1 0zm-15 1zm8 0zm38 0zm-132 1zm13 0zm39 0zm14 0zm58 0zm-106 1zm51 0zm5 0zm28 0zm37 0zm-91 1zm36 0zm43 0zm9 0zm-122 1zm33 0zm69 0zm-22 1zm24 0zm9 0zm15 0zm73 0zm-177 1zm14 0zm6 0zm24 0zm22 0zm10 0zm32 0zm90 0zm-192 1zm12 0zm8 0zm23 0zm16 0zm57 0zm-86 1zm17 0zm38 0zm5 0zm22 0zm-131 1zm14 0zm1 0zm15 1zm73 0zm2 0zm-58 1zm3 0zm20 0zm-152 1zm131 0zm25 0zm-33 1zm22 0zm12 0zm-40 1zm16 0zm92 0zm-114 1zm56 0zm77 0zm-115 1zm1 0zm11 0zm-3 1zm19 0zm-78 1zm15 0zm28 0zm13 0zm8 0zm-68 1zm38 0zm18 0zm13 0zm5 0zm13 0zm15 0zm11 0zm25 0zm38 0zm-136 1zm7 0zm36 0zm43 0zm-85 1zm5 0zm32 0zm21 0zm18 0zm-90 1zm46 0zm3 0zm-74 1zm65 0zm5 0zm0 0zm56 0zm2 0zm16 0zm63 0zm-188 1zm53 0zm-136 1zm16 0zm23 0zm42 0zm24 0zm28 0zm6 0zm15 0zm-115 1zm67 0zm1 0zm19 0zm-90 1zm0 0zm76 0zm2 0zm51 0zm6 0zm-216 1zm125 0zm5 0zm37 0zm-27 1zm2 0zm21 0zm130 0zm-118 1zm17 0zm-103 1zm19 0zm18 0zm9 0zm41 0zm-98 1zm47 0zm117 0zm69 0zm-139 1zm48 0zm-136 1zm44 0zm50 0zm2 0zm17 0zm21 0zm-145 1zm80 0zm-109 1zm75 0zm13 0zm19 0zm39 0zm-54 1zm11 0zm20 0zm5 0zm-45 1zm53 0zm26 0zm-75 1zm19 0zm22 0zm42 0zm-65 1zm42 0zm-55 1zm10 0zm34 0zm21 0zm52 0zm-125 1zm19 0zm13 0zm-28 1zm13 0zm33 0zm9 0zm91 0zm-190 1zm24 0zm57 0zm-22 1zm-37 1zm11 0zm35 0zm12 0zm74 0zm-154 1zm71 0zm16 0zm153 0zm-215 1zm0 0zm17 0zm6 0zm117 0zm-156 1zm42 0zm19 0zm-129 1zm133 0zm28 1zm13 0zm49 0zm-84 1zm4 0zm13 0zm-82 1zm19 0zm23 1zm14 0zm-48 1zm4 0zm23 0zm2 0zm-5 1zm23 0zm12 1zm-46 1zm44 1zm47 0zm22 0zm-153 1zm14 1zm2 0zm43 0zm80 0zm25 0zm-124 1zm12 0zm-153 1zm81 0zm67 0zm1 0zm2 0zm-18 1zm9 0zm16 1zm-28 1zm34 0zm-114 1zm68 1zm6 0zm17 0zm-15 1zm7 0zm174 0zm-201 1zm50 0zm26 0zm-75 1zm92 0zm-94 1zm149 0zm34 0zm-201 1zm49 0zm27 0zm-57 1zm57 2zm-12 1zm13 0zm20 0zm-124 1zm62 0zm2 0zm53 0zm104 0zm-143 2zm15 0zm129 0zm-143 1zm3 0zm51 0zm35 0zm-131 1zm19 0zm1 0zm55 0zm-52 1zm185 0zm-189 1zm41 0zm-80 1zm44 0zm-5 1zm-27 1zm95 0zm60 1zm29 1zm-141 1zm32 0zm44 0zm-64 1zm-62 1zm-96 2zm136 0zm-28 1zm94 0zm-91 1zm32 0zm58 1zm125 2zm-244 2zm70 0zm-40 2zm43 0zm-163 2zm124 0zm1 2zm6 1zm-43 1zm95 2zm13 0zm-7 2zm-98 1zm68 0zm75 0zm-134 2zm20 0zm39 0zm118 0zm-137 1zm-32 2zm25 0zm-135 1zm68 0zm120 0zm-243 1zm134 0zm77 0zm-85 1zm61 0zm14 2zm-35 2zm51 0zm-24 1zm26 0zm13 1zm-58 1zm90 0zm-132 1zm178 0zm-103 1zm-35 1zm1 0zm115 1zm-110 1zm-61 1zm127 2zm-129 1zm21 2zm43 0zm114 0zm-128 5zm-54 2zm17 0zm-75 2zm82 0zm-38 2zm30 0zm151 2zm-124 1zm-106 1zm114 0zm42 1zm145 5zm44 0zm-73 5zm-145 4zm21 2zm193 1zm-207 2zm-94 3zm118 1zm-23 4zm-39 1zm-79 2zm100 2zm46 1zm128 4zm-141 8zm-92 6zm-31 3zm65 2zm-99 3zm17 4zm254 2zm-76 1zm57 0zm-102 8zm-63 9zm-110 9zm-3 2zm172 16z"/><path d="M1148 6zm-55 3zm-57 5zm-74 3zm251 0zm-181 1zm168 0zm-22 1zm106 0zm-178 5zm26 1zm52 0zm68 4zm14 1zm-260 1zm111 1zm63 0zm-133 2zm7 1zm64 0zm80 0zm-83 2zm96 4zm-19 1zm20 0zm62 0zm-123 2zm-116 1zm180 0zm15 0zm-34 3zm-80 2zm-17 2zm120 0zm15 1zm24 0zm-59 1zm10 0zm63 0zm-57 1zm62 0zm-160 1zm36 0zm33 0zm23 0zm-118 2zm-20 1zm24 1zm56 0zm73 0zm31 0zm-124 1zm86 0zm-344 1zm356 0zm-33 2zm42 0zm-241 1zm211 1zm16 0zm29 0zm-125 3zm56 0zm19 2zm9 0zm-45 1zm94 0zm-127 1zm40 0zm11 0zm19 0zm16 0zm71 0zm-95 1zm2 0zm-37 1zm-134 1zm83 0zm2 0zm56 0zm51 0zm-16 1zm2 0zm-37 2zm81 0zm-164 1zm99 0zm21 0zm-141 1zm4 0zm93 0zm15 0zm14 0zm12 0zm3 0zm6 0zm-192 1zm192 0zm12 0zm13 0zm-44 2zm5 0zm17 0zm-82 1zm10 0zm87 0zm16 0zm-49 1zm12 0zm-45 1zm4 0zm41 0zm-64 1zm8 1zm45 0zm-217 1zm112 0zm106 0zm3 0zm12 0zm-221 1zm110 0zm87 0zm33 0zm10 0zm-164 1zm24 0zm112 0zm8 0zm-11 1zm17 0zm4 0zm16 0zm-64 1zm30 0zm37 0zm-96 1zm17 0zm5 0zm43 0zm6 0zm-97 1zm70 0zm23 0zm-63 1zm37 0zm26 0zm2 0zm24 0zm24 0zm-55 1zm11 0zm-77 1zm54 0zm20 0zm9 0zm22 1zm-250 1zm142 0zm37 0zm26 0zm2 0zm3 0zm6 0zm-242 1zm241 0zm-28 1zm1 0zm17 0zm15 0zm-53 1zm23 0zm6 0zm22 0zm-166 1zm121 1zm4 0zm15 0zm8 0zm25 0zm2 0zm10 0zm-192 1zm150 0zm8 0zm-196 1zm137 0zm34 0zm16 0zm-126 1zm123 0zm28 0zm4 0zm-248 1zm146 0zm2 0zm65 0zm3 0zm15 0zm21 0zm-194 1zm121 0zm8 0zm22 0zm7 0zm14 0zm7 0zm2 0zm-87 1zm31 0zm10 0zm8 0zm15 0zm2 0zm21 0zm-128 1zm27 0zm27 0zm21 0zm20 0zm30 0zm2 0zm8 0zm28 0zm-88 1zm26 0zm3 0zm22 0zm-79 1zm41 0zm22 0zm9 0zm1 0zm-34 1zm9 0zm25 0zm-168 1zm122 0zm16 0zm4 0zm3 0zm14 0zm-277 1zm272 0zm8 0zm9 0zm9 0zm-139 1zm49 0zm59 0zm28 0zm-118 1zm101 0zm-158 1zm102 0zm17 0zm21 0zm3 0zm15 0zm-106 1zm55 0zm6 0zm45 0zm14 0zm23 0zm40 0zm-202 1zm108 0zm14 0zm-90 1zm14 0zm53 0zm10 0zm9 0zm21 0zm25 0zm9 0zm-85 1zm11 0zm14 0zm8 0zm23 0zm-52 1zm7 0zm11 0zm-49 1zm7 0zm13 0zm5 0zm9 0zm3 0zm9 0zm11 0zm18 0zm-154 1zm95 0zm29 0zm13 0zm11 0zm32 0zm-114 1zm26 0zm11 0zm33 0zm-55 1zm45 0zm31 0zm31 0zm-167 1zm19 0zm9 0zm3 0zm47 0zm6 0zm11 0zm1 0zm3 0zm15 0zm2 0zm25 0zm-85 1zm13 0zm46 0zm13 0zm17 0zm-107 1zm34 0zm39 0zm9 0zm23 0zm3 0zm-73 1zm3 0zm8 0zm9 0zm4 0zm22 0zm30 0zm12 0zm1 0zm-97 1zm10 0zm17 0zm57 0zm25 0zm-174 1zm54 0zm4 0zm16 0zm66 0zm20 0zm-139 1zm5 0zm41 0zm26 0zm13 0zm12 0zm8 0zm3 0zm20 0zm3 0zm-86 1zm22 0zm35 0zm11 0zm-104 1zm44 0zm6 0zm6 0zm19 0zm19 0zm5 0zm43 0zm-122 1zm4 0zm15 0zm24 0zm3 0zm12 0zm5 0zm14 0zm32 0zm-97 1zm51 0zm2 0zm10 0zm-75 1zm25 0zm16 0zm0 0zm8 0zm7 0zm1 0zm0 0zm4 0zm0 0zm2 0zm6 0zm3 0zm18 0zm-193 1zm40 0zm46 0zm44 0zm17 0zm35 0zm9 0zm-97 1zm29 0zm13 0zm12 0zm3 0zm2 0zm1 0zm15 0zm6 0zm6 0zm16 0zm4 0zm-117 1zm41 0zm6 0zm9 0zm8 0zm4 0zm5 0zm2 0zm10 0zm6 0zm20 0zm-134 1zm1 0zm60 0zm13 0zm14 0zm6 0zm11 0zm11 0zm-111 1zm5 0zm41 0zm9 0zm12 0zm14 0zm0 0zm23 0zm52 0zm-149 1zm18 0zm4 0zm28 0zm22 0zm1 0zm15 0zm2 0zm2 0zm14 0zm6 0zm0 0zm33 0zm-96 1zm13 0zm13 0zm3 0zm2 0zm0 0zm1 0zm16 0zm31 0zm2 0zm-71 1zm18 0zm4 0zm2 0zm8 0zm1 0zm20 0zm0 0zm5 0zm-306 1zm199 0zm26 0zm8 0zm3 0zm12 0zm8 0zm10 0zm-41 1zm13 0zm3 0zm16 0zm56 0zm0 0zm-93 1zm1 0zm2 0zm22 0zm10 0zm1 0zm3 0zm3 0zm9 0zm5 0zm6 0zm1 0zm2 0zm9 0zm18 0zm-101 1zm24 0zm14 0zm1 0zm7 0zm6 0zm6 0zm-113 1zm32 0zm51 0zm16 0zm8 0zm21 0zm8 0zm7 0zm-231 1zm161 0zm21 0zm10 0zm-118 1zm77 0zm36 0zm2 0zm0 0zm38 0zm22 0zm-79 1zm21 0zm4 0zm23 0zm2 0zm15 0zm-197 1zm66 0zm62 0zm49 0zm1 0zm2 0zm14 0zm16 0zm-132 1zm1 0zm7 0zm24 0zm1 0zm7 0zm24 0zm7 0zm10 0zm5 0zm0 0zm5 0zm1 0zm12 0zm-9 1zm9 0zm2 0zm18 0zm-127 1zm34 0zm49 0zm5 0zm28 0zm1 0zm-45 1zm1 0zm10 0zm27 0zm3 0zm32 0zm-112 1zm0 0zm2 0zm5 0zm28 0zm22 0zm1 0zm3 0zm0 0zm7 0zm0 0zm-206 1zm45 0zm32 0zm83 0zm3 0zm6 0zm24 0zm2 0zm3 0zm10 0zm24 0zm-178 1zm64 0zm32 0zm2 0zm14 0zm6 0zm11 0zm28 0zm4 0zm14 0zm7 0zm-121 1zm8 0zm60 0zm5 0zm4 0zm11 0zm5 0zm11 0zm2 0zm-152 1zm55 0zm1 0zm10 0zm34 0zm8 0zm6 0zm8 0zm35 0zm11 0zm-335 1zm249 0zm9 0zm9 0zm0 0zm27 0zm11 0zm-71 1zm3 0zm6 0zm3 0zm2 0zm2 0zm8 0zm42 0zm1 0zm3 0zm5 0zm-90 1zm14 0zm17 0zm20 0zm2 0zm2 0zm0 0zm4 0zm20 0zm7 0zm-190 1zm70 0zm46 0zm10 0zm13 0zm5 0zm11 0zm5 0zm12 0zm18 0zm6 0zm28 0zm-180 1zm22 0zm2 0zm50 0zm15 0zm27 0zm13 0zm29 0zm-195 1zm71 0zm42 0zm14 0zm5 0zm7 0zm3 0zm3 0zm18 0zm25 0zm1 0zm1 0zm17 0zm-198 1zm46 0zm68 0zm4 0zm27 0zm4 0zm3 0zm18 0zm4 0zm4 0zm12 0zm-81 1zm7 0zm38 0zm19 0zm6 0zm-100 1zm23 0zm15 0zm7 0zm16 0zm46 0zm-115 1zm29 0zm19 0zm14 0zm5 0zm7 0zm7 0zm6 0zm7 0zm-148 1zm15 0zm62 0zm28 0zm20 0zm40 0zm-164 1zm2 0zm68 0zm25 0zm19 0zm3 0zm10 0zm11 0zm27 0zm-115 1zm27 0zm10 0zm3 0zm68 0zm-135 1zm28 0zm30 0zm3 0zm20 0zm4 0zm34 0zm-112 1zm52 0zm8 0zm3 0zm32 0zm24 0zm16 0zm19 0zm7 0zm-123 1zm35 0zm10 0zm11 0zm12 0zm5 0zm12 0zm-112 1zm26 0zm2 0zm18 0zm36 0zm20 0zm51 0zm-172 1zm6 0zm40 0zm39 0zm23 0zm8 0zm16 0zm33 0zm-139 1zm22 0zm25 0zm3 0zm1 0zm2 0zm16 0zm24 0zm7 0zm2 0zm-119 1zm21 0zm16 0zm40 0zm2 0zm17 0zm2 0zm18 0zm25 0zm-152 1zm39 0zm49 0zm9 0zm12 0zm33 0zm-92 1zm4 0zm14 0zm10 0zm4 0zm12 0zm8 0zm12 0zm28 0zm-123 1zm7 0zm26 0zm14 0zm11 0zm1 0zm31 0zm0 0zm3 0zm3 0zm21 0zm-82 1zm12 0zm2 0zm5 0zm0 0zm4 0zm1 0zm15 0zm0 0zm3 0zm19 0zm15 0zm1 0zm9 0zm-69 1zm25 0zm18 0zm-86 1zm0 0zm51 0zm0 0zm49 0zm49 0zm-188 1zm31 0zm5 0zm5 0zm23 0zm18 0zm2 0zm16 0zm21 0zm12 0zm0 0zm-192 1zm133 0zm9 0zm10 0zm2 0zm3 0zm0 0zm38 0zm13 0zm4 0zm-151 1zm13 0zm51 0zm1 0zm19 0zm2 0zm11 0zm-288 1zm158 0zm32 0zm87 0zm12 0zm4 0zm10 0zm1 0zm13 0zm3 0zm1 0zm-133 1zm42 0zm2 0zm44 0zm0 0zm2 0zm17 0zm0 0zm6 0zm9 0zm7 0zm14 0zm-68 1zm54 0zm-125 1zm3 0zm5 0zm12 0zm24 0zm9 0zm1 0zm3 0zm10 0zm7 0zm4 0zm15 0zm28 0zm7 0zm21 0zm-93 1zm27 0zm25 0zm1 0zm11 0zm8 0zm29 0zm34 0zm-237 1zm62 0zm41 0zm2 0zm4 0zm1 0zm3 0zm14 0zm8 0zm8 0zm13 0zm1 0zm3 0zm-142 1zm72 0zm1 0zm13 0zm9 0zm18 0zm2 0zm5 0zm1 0zm12 0zm2 0zm41 0zm-147 1zm81 0zm3 0zm30 0zm-118 1zm6 0zm29 0zm52 0zm1 0zm1 0zm4 0zm5 0zm45 0zm-192 1zm62 0zm35 0zm18 0zm1 0zm15 0zm4 0zm9 0zm8 0zm3 0zm6 0zm7 0zm-130 1zm30 0zm38 0zm17 0zm6 0zm11 0zm-111 1zm13 0zm59 0zm27 0zm1 0zm6 0zm12 0zm76 0zm-137 1zm9 0zm12 0zm35 0zm4 0zm24 0zm0 0zm-85 1zm21 0zm36 0zm12 0zm8 0zm-106 1zm14 0zm22 0zm14 0zm3 0zm1 0zm8 0zm18 0zm36 0zm-85 1zm2 0zm4 0zm8 0zm5 0zm13 0zm20 0zm5 0zm1 0zm24 0zm18 0zm-175 1zm33 0zm28 0zm23 0zm11 0zm22 0zm29 0zm16 0zm12 0zm18 0zm-168 1zm31 0zm4 0zm27 0zm34 0zm28 0zm11 0zm-150 1zm103 0zm8 0zm8 0zm6 0zm6 0zm44 0zm-124 1zm44 0zm32 0zm36 0zm-155 1zm25 0zm47 0zm8 0zm1 0zm14 0zm37 0zm3 0zm-129 1zm63 0zm12 0zm25 0zm-17 1zm7 0zm18 0zm67 0zm-358 1zm236 0zm8 0zm14 0zm13 0zm8 0zm17 0zm6 0zm-135 1zm94 0zm9 0zm17 0zm4 0zm4 0zm5 0zm0 0zm4 0zm2 0zm6 0zm2 0zm-82 1zm8 0zm16 0zm8 0zm17 0zm22 0zm3 0zm23 0zm-212 1zm124 0zm56 0zm5 0zm3 0zm34 0zm-90 1zm62 0zm-122 1zm48 0zm1 0zm4 0zm0 0zm4 0zm22 0zm13 0zm12 0zm27 0zm5 0zm-131 1zm35 0zm23 0zm21 0zm12 0zm-57 1zm3 0zm9 0zm28 0zm-158 1zm91 0zm3 0zm20 0zm9 0zm4 0zm7 0zm13 0zm1 0zm0 0zm3 0zm5 0zm3 0zm3 0zm2 0zm1 0zm1 0zm51 0zm-230 1zm76 0zm31 0zm58 0zm4 0zm65 0zm-117 1zm1 0zm1 0zm6 0zm9 0zm8 0zm2 0zm16 0zm20 0zm14 0zm-74 1zm3 0zm14 0zm0 0zm2 0zm20 0zm13 0zm20 0zm11 0zm-160 1zm2 0zm53 0zm17 0zm1 0zm35 0zm5 0zm32 0zm34 0zm10 0zm-153 1zm76 0zm4 0zm2 0zm12 0zm4 0zm41 0zm-220 1zm145 0zm53 0zm-71 1zm9 0zm18 0zm4 0zm1 0zm11 0zm2 0zm18 0zm16 0zm-200 1zm2 0zm96 0zm6 0zm16 0zm3 0zm23 0zm20 0zm20 0zm14 0zm-79 1zm19 0zm9 0zm16 0zm10 0zm53 0zm-146 1zm29 0zm22 0zm16 0zm18 0zm13 0zm-18 1zm17 0zm18 0zm4 0zm-229 1zm37 0zm41 0zm53 0zm39 0zm14 0zm21 0zm16 0zm12 0zm-36 1zm1 0zm-158 1zm109 0zm13 0zm11 0zm1 0zm6 0zm18 0zm10 0zm-140 1zm23 0zm14 0zm46 0zm10 0zm7 0zm1 0zm0 0zm6 0zm1 0zm50 0zm13 0zm-71 1zm9 0zm7 0zm35 0zm5 0zm7 0zm1 0zm10 0zm15 0zm12 0zm-136 1zm14 0zm-62 1zm57 0zm28 0zm3 0zm0 0zm19 0zm8 0zm45 0zm-164 1zm68 0zm13 0zm17 0zm1 0zm19 0zm9 0zm8 0zm30 0zm-160 1zm24 0zm40 0zm18 0zm12 0zm7 0zm32 0zm21 0zm-250 1zm141 0zm16 0zm7 0zm12 0zm13 0zm0 0zm28 0zm4 0zm-81 1zm26 0zm8 0zm-17 1zm59 0zm22 0zm-156 1zm61 0zm5 0zm17 0zm2 0zm12 0zm10 0zm6 0zm14 0zm2 0zm-50 1zm5 0zm4 0zm37 0zm-92 1zm30 0zm20 0zm8 0zm6 0zm43 0zm28 0zm-120 1zm0 0zm7 0zm36 0zm1 0zm1 0zm3 0zm5 0zm8 0zm5 0zm-9 1zm37 0zm-132 1zm67 0zm21 0zm7 0zm26 0zm9 0zm64 0zm-181 1zm45 0zm1 0zm22 0zm1 0zm36 0zm21 0zm-144 1zm29 0zm27 0zm12 0zm23 0zm28 0zm12 0zm105 0zm-235 1zm29 0zm10 0zm13 0zm2 0zm38 0zm9 0zm33 0zm-208 1zm45 0zm89 0zm7 0zm43 0zm2 0zm11 0zm-59 1zm5 0zm50 0zm21 0zm17 0zm-74 1zm5 0zm45 0zm0 0zm38 0zm-209 1zm51 0zm15 0zm19 0zm38 0zm-60 1zm3 0zm23 0zm5 0zm11 0zm18 0zm27 0zm45 0zm-188 1zm49 0zm22 0zm29 0zm2 0zm-29 1zm16 0zm41 0zm21 0zm-166 1zm77 0zm5 0zm23 0zm1 0zm1 0zm37 0zm1 0zm1 0zm-101 1zm15 0zm43 0zm9 0zm37 0zm2 0zm14 0zm65 0zm0 0zm-185 1zm24 0zm59 0zm2 0zm7 0zm54 0zm10 0zm48 0zm-147 1zm9 0zm9 0zm8 0zm3 0zm100 0zm-232 1zm25 0zm83 0zm18 0zm36 0zm14 0zm-83 1zm6 0zm13 0zm13 0zm1 0zm9 0zm1 0zm6 0zm11 0zm19 0zm4 0zm-151 1zm81 0zm7 0zm20 0zm6 0zm-165 1zm88 0zm13 0zm18 0zm10 0zm24 0zm5 0zm27 0zm28 0zm-128 1zm23 0zm6 0zm26 0zm18 0zm31 0zm3 0zm12 0zm-122 1zm4 0zm41 0zm3 0zm11 0zm0 0zm24 0zm10 0zm25 0zm6 0zm-206 1zm130 0zm75 0zm-127 1zm69 0zm5 0zm5 0zm17 0zm-126 1zm4 0zm43 0zm21 0zm36 0zm15 0zm2 0zm24 0zm-134 1zm29 0zm28 0zm30 0zm23 0zm2 0zm15 0zm1 0zm-64 1zm23 0zm39 0zm16 0zm83 0zm-232 1zm58 0zm36 0zm15 0zm21 0zm46 0zm-117 1zm8 0zm3 0zm9 0zm1 0zm0 0zm1 0zm9 0zm26 0zm-202 1zm141 0zm12 0zm5 0zm17 0zm35 0zm7 0zm-116 1zm23 0zm13 0zm17 0zm14 0zm8 0zm11 0zm-170 1zm14 0zm120 0zm2 0zm17 0zm8 0zm18 0zm26 0zm-123 1zm38 0zm12 0zm12 0zm15 0zm103 0zm-166 1zm40 0zm40 0zm-151 1zm97 0zm12 0zm6 0zm39 0zm83 0zm-130 1zm11 0zm21 0zm7 0zm1 0zm-122 1zm27 0zm44 0zm17 0zm49 0zm2 0zm-86 1zm73 0zm18 0zm27 0zm1 0zm-218 1zm65 0zm4 0zm43 0zm10 0zm36 0zm-72 1zm47 1zm7 0zm3 0zm18 0zm0 0zm-124 1zm4 0zm72 0zm5 0zm-49 1zm64 0zm21 0zm-178 1zm2 0zm70 0zm42 0zm10 0zm24 0zm13 0zm26 0zm7 0zm35 0zm60 0zm-168 1zm49 0zm7 0zm5 0zm-164 1zm58 0zm53 0zm19 0zm15 0zm6 0zm1 0zm17 0zm6 0zm3 0zm-88 1zm33 0zm17 0zm21 1zm11 0zm-45 1zm22 0zm35 0zm-124 1zm93 0zm1 0zm40 0zm-176 1zm74 0zm13 0zm13 0zm38 0zm25 0zm17 0zm-65 1zm10 0zm26 0zm24 0zm9 0zm-185 1zm67 0zm151 0zm-188 1zm66 0zm23 0zm74 0zm-154 1zm13 0zm98 0zm20 0zm141 0zm-213 1zm20 0zm14 0zm7 0zm8 0zm36 0zm-89 1zm23 0zm-98 1zm59 1zm22 0zm31 0zm4 0zm-202 1zm137 0zm25 0zm3 0zm3 0zm23 0zm17 0zm20 0zm61 0zm-272 1zm160 0zm3 0zm10 0zm15 0zm4 0zm-127 1zm48 0zm4 0zm53 0zm-33 1zm48 0zm1 0zm9 0zm-25 1zm69 0zm-108 1zm69 0zm114 0zm-181 1zm1 0zm5 0zm42 0zm3 0zm85 0zm-179 1zm150 0zm6 0zm-134 1zm30 0zm12 0zm121 0zm29 0zm-170 1zm12 0zm4 0zm47 0zm22 0zm-93 1zm3 0zm14 0zm15 0zm19 0zm13 0zm-86 1zm30 0zm16 0zm1 0zm-76 1zm13 0zm46 0zm120 0zm22 0zm-213 1zm97 0zm17 0zm57 0zm-111 1zm3 0zm16 0zm55 0zm2 0zm22 0zm-95 1zm2 0zm11 0zm-54 1zm97 0zm1 0zm9 0zm63 0zm-156 1zm18 0zm12 0zm13 0zm33 0zm4 0zm10 0zm10 0zm-132 1zm17 0zm35 0zm18 0zm38 0zm-51 1zm33 0zm-43 1zm34 0zm31 0zm144 0zm-219 1zm49 0zm30 0zm6 0zm-93 1zm28 0zm21 0zm-5 1zm13 0zm-40 1zm-12 1zm47 0zm31 1zm104 0zm-185 1zm11 0zm15 0zm68 0zm-69 1zm17 0zm3 0zm-37 1zm39 0zm11 0zm-71 1zm73 0zm60 0zm-147 1zm51 0zm-5 2zm-74 1zm66 0zm16 0zm21 0zm18 0zm-91 1zm56 0zm9 0zm-37 1zm31 0zm39 0zm-38 1zm50 0zm-30 1zm16 0zm-175 1zm157 0zm-56 1zm38 0zm68 0zm45 0zm-106 1zm42 0zm-84 1zm12 0zm1 0zm14 0zm21 0zm-100 1zm23 0zm36 0zm-2 1zm28 0zm-24 1zm58 1zm13 0zm53 0zm-214 1zm45 0zm42 0zm19 0zm20 0zm-29 2zm68 0zm-25 1zm23 0zm-82 1zm16 0zm22 0zm-27 2zm20 0zm-75 1zm22 0zm46 0zm-121 1zm101 0zm48 0zm73 1zm-12 1zm46 0zm-176 1zm9 0zm91 0zm-89 1zm24 0zm26 0zm-74 1zm69 0zm3 3zm61 0zm9 0zm-238 2zm59 0zm93 0zm-223 1zm210 0zm2 1zm27 1zm26 0zm38 0zm13 1zm-81 1zm-52 1zm5 0zm113 0zm-137 1zm78 0zm42 0zm-87 2zm7 0zm15 0zm8 0zm-112 3zm88 0zm66 0zm-110 1zm-125 1zm132 0zm74 0zm-97 1zm74 0zm47 1zm-51 1zm-49 2zm61 0zm63 0zm-112 1zm-83 1zm66 2zm35 0zm-79 1zm173 1zm20 0zm-169 2zm31 2zm77 0zm25 3zm-158 1zm58 0zm-29 1zm0 0zm100 0zm-74 1zm16 1zm14 0zm-53 6zm7 0zm232 0zm-239 1zm21 0zm14 1zm85 0zm-25 1zm-129 1zm47 1zm142 0zm-154 1zm57 0zm-23 1zm21 0zm0 0zm80 0zm-67 2zm18 0zm-76 1zm12 1zm100 0zm-112 2zm0 1zm20 2zm-6 4zm229 0zm-300 2zm165 1zm39 0zm-115 1zm-5 1zm3 1zm-21 3zm-15 7zm-77 1zm56 0zm-21 2zm-1 2zm40 0zm35 4zm-113 2zm-55 1zm204 1zm38 2zm-65 2zm-75 3zm-2 1zm254 1zm-224 1zm-95 2zm70 0zm125 0zm-155 1zm170 1zm-149 1zm140 2zm-55 3zm-142 3zm63 5zm76 1zm-139 1zm94 0zm33 2zm-3 2zm-76 1zm54 6zm273 3zm-348 3zm136 3zm-199 16zm23 15zm78 10zm59 0zm92 1zm-26 27z"/></g></g></g><path clip-path="url(#cl)" d="M48.19 175.42L166.11 293.51M119.08 104.43L237 222.52M173.29 50.15L291.21 168.24M214.99 8.39L332.91 126.48" stroke="#de5cdc" stroke-width="0.7" fill="none"/><path clip-path="url(#cl)" d="M44.6 297.1L336.5 4.8" stroke="#000" stroke-width="1.65" stroke-dasharray="5.25 2.3" fill="none"/><circle cx="172.62" cy="199.39" r="2.2" fill="#1c1cff"/><circle cx="221.2" cy="142.1" r="2.2" fill="#1c1cff"/><circle cx="256.44" cy="95.62" r="2.2" fill="#1c1cff"/><path clip-path="url(#cr)" d="M369.09 175.42L487.01 293.51M439.98 104.43L557.9 222.52M494.19 50.15L612.11 168.24M535.89 8.39L653.81 126.48" stroke="#de5cdc" stroke-width="0.7" fill="none"/><path clip-path="url(#cr)" d="M365.5 297.1L657.4 4.8" stroke="#000" stroke-width="1.65" stroke-dasharray="5.25 2.3" fill="none"/><circle cx="488.1" cy="191.45" r="2.2" fill="#ff2020"/><circle cx="539.81" cy="139.68" r="2.2" fill="#ff2020"/><circle cx="576.09" cy="95" r="2.2" fill="#ff2020"/><circle cx="493.52" cy="199.39" r="2.2" fill="#1c1cff"/><circle cx="542.1" cy="142.1" r="2.2" fill="#1c1cff"/><circle cx="577.34" cy="95.62" r="2.2" fill="#1c1cff"/><path d="M86.3 337.8V460.5M128 337.8V460.5M169.7 337.8V460.5M211.4 337.8V460.5M253.1 337.8V460.5M294.8 337.8V460.5M44.6 383.81H336.5M44.6 414.49H336.5M44.6 445.16H336.5" stroke="#ddf5f5" stroke-width="1.1" fill="none"/><path d="M44.6 353.14H336.5" stroke="#000" stroke-width="1.65" stroke-dasharray="5.3 2.3" stroke-dashoffset="0.9" fill="none"/><path d="M107.15 337.8V460.5M178.04 337.8V460.5M232.25 337.8V460.5M273.95 337.8V460.5" stroke="#de5cdc" stroke-width="1.1" stroke-dasharray="1 1" fill="none"/><polyline points="157.4,432.28 210.4,410.5 251.31,380.13" stroke="#1a1aff" stroke-width="1.2" fill="none"/><circle cx="157.4" cy="432.28" r="2.2" fill="#1c1cff"/><circle cx="210.4" cy="410.5" r="2.2" fill="#1c1cff"/><circle cx="251.31" cy="380.13" r="2.2" fill="#1c1cff"/><path d="M407.2 337.8V460.5M448.9 337.8V460.5M490.6 337.8V460.5M532.3 337.8V460.5M574 337.8V460.5M615.7 337.8V460.5M365.5 383.81H657.4M365.5 414.49H657.4M365.5 445.16H657.4" stroke="#ddf5f5" stroke-width="1.1" fill="none"/><path d="M365.5 353.14H657.4" stroke="#000" stroke-width="1.65" stroke-dasharray="5.3 2.3" stroke-dashoffset="0.9" fill="none"/><path d="M428.05 337.8V460.5M498.94 337.8V460.5M553.15 337.8V460.5M594.85 337.8V460.5" stroke="#de5cdc" stroke-width="1.1" stroke-dasharray="1 1" fill="none"/><polyline points="479.13,397.62 531.47,398.23 572.33,378.9" stroke="#ff2020" stroke-width="1.2" fill="none"/><circle cx="479.13" cy="397.62" r="2.2" fill="#ff2020"/><circle cx="531.47" cy="398.23" r="2.2" fill="#ff2020"/><circle cx="572.33" cy="378.9" r="2.2" fill="#ff2020"/><polyline points="478.3,432.28 531.3,410.5 572.21,380.13" stroke="#1a1aff" stroke-width="1.2" fill="none"/><circle cx="478.3" cy="432.28" r="2.2" fill="#1c1cff"/><circle cx="531.3" cy="410.5" r="2.2" fill="#1c1cff"/><circle cx="572.21" cy="380.13" r="2.2" fill="#1c1cff"/><rect x="49.6" y="10" width="118" height="32.6" rx="2.5" fill="#fff" fill-opacity="0.85" stroke="#ececec" stroke-width="0.8"/><path d="M53.9 18H73.9" stroke="#000" stroke-width="1.65" stroke-dasharray="5.3 2.3" fill="none"/><circle cx="64.5" cy="33.85" r="2.2" fill="#1c1cff"/><rect x="370.8" y="10" width="139.6" height="32.6" rx="2.5" fill="#fff" fill-opacity="0.85" stroke="#ececec" stroke-width="0.8"/><circle cx="385.3" cy="18.5" r="2.2" fill="#ff2020"/><circle cx="385.3" cy="33.7" r="2.2" fill="#1c1cff"/><g font-size="10.6" fill="#000"><text x="83.2" y="21.8">Newtonian circular</text><text x="83.2" y="36.4">Virtual Newtonian</text><text x="403.8" y="21.8">Gaia</text><text x="403.8" y="36.4">Virtual Newtonian (left)</text></g><path d="M44.6 4.8H336.5V297.1H44.6ZM44.6 337.8H336.5V460.5H44.6ZM365.5 4.8H657.4V297.1H365.5ZM365.5 337.8H657.4V460.5H365.5Z" stroke="#000" stroke-opacity="0.62" stroke-width="0.95" fill="none"/><path d="M44.6 4v2M44.6 297.9v-2M44.6 337v2M44.6 461.3v-2M86.3 4v2M86.3 297.9v-2M86.3 337v2M86.3 461.3v-2M128 4v2M128 297.9v-2M128 337v2M128 461.3v-2M169.7 4v2M169.7 297.9v-2M169.7 337v2M169.7 461.3v-2M211.4 4v2M211.4 297.9v-2M211.4 337v2M211.4 461.3v-2M253.1 4v2M253.1 297.9v-2M253.1 337v2M253.1 461.3v-2M294.8 4v2M294.8 297.9v-2M294.8 337v2M294.8 461.3v-2M336.5 4v2M336.5 297.9v-2M336.5 337v2M336.5 461.3v-2M43.8 297.1h2M337.3 297.1h-2M43.8 255.34h2M337.3 255.34h-2M43.8 213.59h2M337.3 213.59h-2M43.8 171.83h2M337.3 171.83h-2M43.8 130.07h2M337.3 130.07h-2M43.8 88.31h2M337.3 88.31h-2M43.8 46.56h2M337.3 46.56h-2M43.8 4.8h2M337.3 4.8h-2M43.8 353.14h2M337.3 353.14h-2M43.8 383.81h2M337.3 383.81h-2M43.8 414.49h2M337.3 414.49h-2M43.8 445.16h2M337.3 445.16h-2M365.5 4v2M365.5 297.9v-2M365.5 337v2M365.5 461.3v-2M407.2 4v2M407.2 297.9v-2M407.2 337v2M407.2 461.3v-2M448.9 4v2M448.9 297.9v-2M448.9 337v2M448.9 461.3v-2M490.6 4v2M490.6 297.9v-2M490.6 337v2M490.6 461.3v-2M532.3 4v2M532.3 297.9v-2M532.3 337v2M532.3 461.3v-2M574 4v2M574 297.9v-2M574 337v2M574 461.3v-2M615.7 4v2M615.7 297.9v-2M615.7 337v2M615.7 461.3v-2M657.4 4v2M657.4 297.9v-2M657.4 337v2M657.4 461.3v-2M364.7 297.1h2M658.2 297.1h-2M364.7 255.34h2M658.2 255.34h-2M364.7 213.59h2M658.2 213.59h-2M364.7 171.83h2M658.2 171.83h-2M364.7 130.07h2M658.2 130.07h-2M364.7 88.31h2M658.2 88.31h-2M364.7 46.56h2M658.2 46.56h-2M364.7 4.8h2M658.2 4.8h-2M364.7 353.14h2M658.2 353.14h-2M364.7 383.81h2M658.2 383.81h-2M364.7 414.49h2M658.2 414.49h-2M364.7 445.16h2M658.2 445.16h-2" stroke="#000" stroke-width="1.3" fill="none"/><g font-size="11.6" fill="#000"><text x="42.7" y="306.8">13</text><text x="42.7" y="470.2">13</text><text x="30.9" y="300.9">13</text><text x="84.4" y="306.8">12</text><text x="84.4" y="470.2">12</text><text x="30.9" y="259.14">12</text><text x="126.1" y="306.8">11</text><text x="126.1" y="470.2">11</text><text x="30.9" y="217.39">11</text><text x="167.8" y="306.8">10</text><text x="167.8" y="470.2">10</text><text x="30.9" y="175.63">10</text><text x="212.4" y="306.8">9</text><text x="212.4" y="470.2">9</text><text x="36.7" y="133.87">9</text><text x="254.1" y="306.8">8</text><text x="254.1" y="470.2">8</text><text x="36.7" y="92.11">8</text><text x="295.8" y="306.8">7</text><text x="295.8" y="470.2">7</text><text x="36.7" y="50.36">7</text><text x="337.5" y="306.8">6</text><text x="337.5" y="470.2">6</text><text x="36.7" y="8.6">6</text><text x="28" y="356.94">0.0</text><text x="28" y="387.61">0.1</text><text x="28" y="418.29">0.2</text><text x="28" y="448.96">0.3</text><text x="363.6" y="306.8">13</text><text x="363.6" y="470.2">13</text><text x="351.8" y="300.9">13</text><text x="405.3" y="306.8">12</text><text x="405.3" y="470.2">12</text><text x="351.8" y="259.14">12</text><text x="447" y="306.8">11</text><text x="447" y="470.2">11</text><text x="351.8" y="217.39">11</text><text x="488.7" y="306.8">10</text><text x="488.7" y="470.2">10</text><text x="351.8" y="175.63">10</text><text x="533.3" y="306.8">9</text><text x="533.3" y="470.2">9</text><text x="357.6" y="133.87">9</text><text x="575" y="306.8">8</text><text x="575" y="470.2">8</text><text x="357.6" y="92.11">8</text><text x="616.7" y="306.8">7</text><text x="616.7" y="470.2">7</text><text x="357.6" y="50.36">7</text><text x="658.4" y="306.8">6</text><text x="658.4" y="470.2">6</text><text x="357.6" y="8.6">6</text><text x="348.9" y="356.94">0.0</text><text x="348.9" y="387.61">0.1</text><text x="348.9" y="418.29">0.2</text><text x="348.9" y="448.96">0.3</text></g><path d="M35.9 304.15h6.2M35.9 467.55h6.2M24.1 298.25h6.2M77.6 304.15h6.2M77.6 467.55h6.2M24.1 256.5h6.2M119.3 304.15h6.2M119.3 467.55h6.2M24.1 214.74h6.2M161 304.15h6.2M161 467.55h6.2M24.1 172.98h6.2M205.6 304.15h6.2M205.6 467.55h6.2M29.9 131.23h6.2M247.3 304.15h6.2M247.3 467.55h6.2M29.9 89.47h6.2M289 304.15h6.2M289 467.55h6.2M29.9 47.71h6.2M330.7 304.15h6.2M330.7 467.55h6.2M29.9 5.95h6.2M21.2 384.97h6.2M21.2 415.64h6.2M21.2 446.32h6.2M356.8 304.15h6.2M356.8 467.55h6.2M345 298.25h6.2M398.5 304.15h6.2M398.5 467.55h6.2M345 256.5h6.2M440.2 304.15h6.2M440.2 467.55h6.2M345 214.74h6.2M481.9 304.15h6.2M481.9 467.55h6.2M345 172.98h6.2M526.5 304.15h6.2M526.5 467.55h6.2M350.8 131.23h6.2M568.2 304.15h6.2M568.2 467.55h6.2M350.8 89.47h6.2M609.9 304.15h6.2M609.9 467.55h6.2M350.8 47.71h6.2M651.6 304.15h6.2M651.6 467.55h6.2M350.8 5.95h6.2M342.1 384.97h6.2M342.1 415.64h6.2M342.1 446.32h6.2" stroke="#000" stroke-width="0.85" fill="none"/><g transform="translate(130.6 326.1)"><text x="-0.36" y="0" font-size="18">log</text><text x="23.29" y="2.2" font-size="12.6">10</text><text x="42.29" y="0" font-size="18" font-style="italic">g</text><text x="50.84" y="2.2" font-size="12.6">N</text><text x="66.01" y="0" font-size="18">(</text><text x="72.12" y="0" font-size="18">m</text><text x="91.26" y="0" font-size="18">s</text><path d="M99.5 -9.75h7" stroke="#000" stroke-width="0.8"/><text x="107.75" y="-6.5" font-size="12.6">2</text><text x="115.12" y="0" font-size="18">)</text></g><g transform="translate(182.9 486.6)"><text x="0.22" y="0" font-size="18" font-style="italic">x</text><text x="8.72" y="2" font-size="12.6">0</text></g><g transform="translate(451.5 326.1)"><text x="-0.36" y="0" font-size="18">log</text><text x="23.29" y="2.2" font-size="12.6">10</text><text x="42.29" y="0" font-size="18" font-style="italic">g</text><text x="50.84" y="2.2" font-size="12.6">N</text><text x="66.01" y="0" font-size="18">(</text><text x="72.12" y="0" font-size="18">m</text><text x="91.26" y="0" font-size="18">s</text><path d="M99.5 -9.75h7" stroke="#000" stroke-width="0.8"/><text x="107.75" y="-6.5" font-size="12.6">2</text><text x="115.12" y="0" font-size="18">)</text></g><g transform="translate(503.8 486.6)"><text x="0.22" y="0" font-size="18" font-style="italic">x</text><text x="8.72" y="2" font-size="12.6">0</text></g><g transform="translate(17.6 205.4) rotate(-90)"><text x="-0.36" y="0" font-size="18">log</text><text x="23.29" y="2.2" font-size="12.6">10</text><text x="42.29" y="0" font-size="18" font-style="italic">g</text><text x="55.31" y="0" font-size="18">(</text><text x="61.42" y="0" font-size="18">m</text><text x="80.56" y="0" font-size="18">s</text><path d="M88.8 -9.75h7" stroke="#000" stroke-width="0.8"/><text x="97.05" y="-6.5" font-size="12.6">2</text><text x="104.42" y="0" font-size="18">)</text></g><path d="M1 385.5L9.6 381.3L18 385.5M1 411.8L9.6 415.7L18 411.8M8.1 392.1H15.9M16.1 388.3V395.8" stroke="#000" stroke-width="1.05" fill="none"/><g transform="translate(14.2 398.5) rotate(-90)"><text x="-11.2" y="0" font-size="18.5">Δ</text></g></svg></body></html>
